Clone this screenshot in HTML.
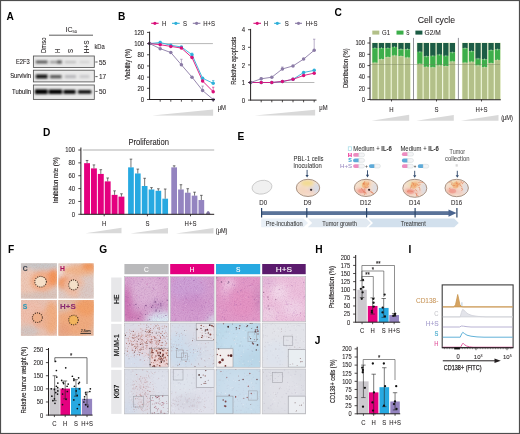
<!DOCTYPE html><html><head><meta charset="utf-8"><style>html,body{margin:0;padding:0;background:#fff;}svg{display:block;filter:blur(0.3px);}</style></head><body>
<svg width="520" height="434" viewBox="0 0 520 434" font-family='"Liberation Sans", sans-serif'>
<defs>
<filter id="blur06" x="-20%" y="-50%" width="140%" height="200%"><feGaussianBlur stdDeviation="0.6"/></filter>
<filter id="blur09" x="-20%" y="-80%" width="140%" height="260%"><feGaussianBlur stdDeviation="0.8"/></filter>
<filter id="blur05" x="-20%" y="-20%" width="140%" height="140%"><feGaussianBlur stdDeviation="0.5"/></filter>
<filter id="blur15" x="-30%" y="-30%" width="160%" height="160%"><feGaussianBlur stdDeviation="1.5"/></filter>
<filter id="blur2" x="-30%" y="-30%" width="160%" height="160%"><feGaussianBlur stdDeviation="2"/></filter>
<filter id="blur3" x="-30%" y="-30%" width="160%" height="160%"><feGaussianBlur stdDeviation="3"/></filter>
<filter id="noise0" x="0" y="0" width="100%" height="100%"><feTurbulence type="fractalNoise" baseFrequency="0.9" numOctaves="2" seed="2" result="n"/><feColorMatrix in="n" type="matrix" values="0 0 0 0 0  0 0 0 0 0  0 0 0 0 0  2.0 0 0 0 -0.85" result="a"/><feGaussianBlur in="a" stdDeviation="0.35" result="b"/><feComposite in="SourceGraphic" in2="b" operator="in"/></filter>
<filter id="noise1" x="0" y="0" width="100%" height="100%"><feTurbulence type="fractalNoise" baseFrequency="1.0" numOctaves="2" seed="5" result="n"/><feColorMatrix in="n" type="matrix" values="0 0 0 0 0  0 0 0 0 0  0 0 0 0 0  2.0 0 0 0 -0.85" result="a"/><feGaussianBlur in="a" stdDeviation="0.35" result="b"/><feComposite in="SourceGraphic" in2="b" operator="in"/></filter>
<filter id="noise2" x="0" y="0" width="100%" height="100%"><feTurbulence type="fractalNoise" baseFrequency="0.9" numOctaves="2" seed="9" result="n"/><feColorMatrix in="n" type="matrix" values="0 0 0 0 0  0 0 0 0 0  0 0 0 0 0  2.0 0 0 0 -0.85" result="a"/><feGaussianBlur in="a" stdDeviation="0.35" result="b"/><feComposite in="SourceGraphic" in2="b" operator="in"/></filter>
<pattern id="pat_noise" width="6" height="6" patternUnits="userSpaceOnUse"><rect width="6" height="6" fill="none"/><circle cx="1" cy="2" r="0.8" fill="#c07050"/><circle cx="4" cy="5" r="0.6" fill="#f0c0a0"/></pattern>
<clipPath id="ph11"><rect x="20.8" y="263.3" width="36.2" height="35.4"/></clipPath>
<clipPath id="ph12"><rect x="58.2" y="263.3" width="35.6" height="35.4"/></clipPath>
<clipPath id="ph13"><rect x="20.8" y="300.0" width="36.2" height="35.9"/></clipPath>
<clipPath id="ph14"><rect x="58.2" y="300.0" width="35.6" height="35.9"/></clipPath>
<clipPath id="egg1"><ellipse cx="308.0" cy="187.9" rx="11.7" ry="8.6"/></clipPath>
<clipPath id="egg2"><ellipse cx="366.0" cy="187.9" rx="11.7" ry="8.6"/></clipPath>
<clipPath id="egg3"><ellipse cx="414.8" cy="188.3" rx="12.0" ry="9.0"/></clipPath>
<clipPath id="egg4"><ellipse cx="456.7" cy="188.0" rx="11.7" ry="8.7"/></clipPath>
</defs>
<rect x="0.00" y="0.00" width="520.00" height="434.00" fill="#ffffff" />
<text x="6.50" y="19.80" font-size="10.50" text-anchor="start" fill="#000" font-weight="bold" textLength="7.36" lengthAdjust="spacingAndGlyphs" >A</text>
<text x="71.30" y="31.60" font-size="7.00" text-anchor="middle" fill="#231f20" stroke="#231f20" stroke-width="0.05" >IC<tspan font-size="4.0" dy="1.3">50</tspan></text>
<line x1="49.00" y1="35.20" x2="93.00" y2="35.20" stroke="#333" stroke-width="0.8" />
<text x="46.33" y="53.00" font-size="7.13" text-anchor="start" fill="#231f20" stroke="#231f20" stroke-width="0.1" textLength="15.50" lengthAdjust="spacingAndGlyphs" transform="rotate(-90 46.33 53.00)" >Dmso</text>
<text x="59.53" y="53.00" font-size="7.13" text-anchor="start" fill="#231f20" stroke="#231f20" stroke-width="0.1" textLength="4.34" lengthAdjust="spacingAndGlyphs" transform="rotate(-90 59.53 53.00)" >H</text>
<text x="73.23" y="53.00" font-size="7.13" text-anchor="start" fill="#231f20" stroke="#231f20" stroke-width="0.1" textLength="4.01" lengthAdjust="spacingAndGlyphs" transform="rotate(-90 73.23 53.00)" >S</text>
<text x="88.53" y="53.20" font-size="7.13" text-anchor="start" fill="#231f20" stroke="#231f20" stroke-width="0.1" textLength="12.80" lengthAdjust="spacingAndGlyphs" transform="rotate(-90 88.53 53.20)" >H+S</text>
<text x="94.40" y="48.52" font-size="6.60" text-anchor="start" fill="#231f20" stroke="#231f20" stroke-width="0.07" textLength="10.40" lengthAdjust="spacingAndGlyphs" >kDa</text>
<rect x="33.40" y="56.00" width="60.90" height="11.50" fill="#e9e9e9" stroke="#555" stroke-width="0.85"/>
<rect x="33.40" y="70.20" width="60.90" height="11.70" fill="#e9e9e9" stroke="#555" stroke-width="0.85"/>
<rect x="33.40" y="85.00" width="60.90" height="14.40" fill="#e9e9e9" stroke="#555" stroke-width="0.85"/>
<g filter="url(#blur09)">
<rect x="35.80" y="60.60" width="11.80" height="2.80" fill="#555" />
<rect x="50.00" y="60.90" width="11.60" height="2.40" fill="#999" />
<rect x="57.00" y="60.50" width="4.80" height="3.00" fill="#555" />
<rect x="64.80" y="61.00" width="11.20" height="2.20" fill="#bdbdbd" />
<rect x="79.60" y="61.10" width="9.80" height="2.00" fill="#d0d0d0" />
<rect x="35.80" y="74.60" width="11.80" height="3.80" fill="#111" />
<rect x="50.00" y="75.00" width="11.60" height="3.40" fill="#5a5a5a" />
<rect x="64.80" y="75.00" width="11.20" height="3.20" fill="#b8b8bb" />
<rect x="79.60" y="75.10" width="9.80" height="3.00" fill="#c8c8cb" />
<rect x="35.00" y="89.30" width="12.60" height="4.80" fill="#000" />
<rect x="48.70" y="89.50" width="13.40" height="4.50" fill="#000" />
<rect x="63.50" y="89.90" width="12.10" height="3.90" fill="#000" />
<rect x="78.10" y="90.20" width="13.20" height="3.40" fill="#050505" />
</g>
<text x="29.70" y="64.13" font-size="7.20" text-anchor="end" fill="#231f20" stroke="#231f20" stroke-width="0.12" textLength="13.80" lengthAdjust="spacingAndGlyphs" >E2F3</text>
<text x="31.10" y="78.23" font-size="7.20" text-anchor="end" fill="#231f20" stroke="#231f20" stroke-width="0.12" textLength="20.90" lengthAdjust="spacingAndGlyphs" >Survivin</text>
<text x="31.10" y="93.73" font-size="7.20" text-anchor="end" fill="#231f20" stroke="#231f20" stroke-width="0.12" textLength="19.00" lengthAdjust="spacingAndGlyphs" >Tubulin</text>
<line x1="95.30" y1="62.00" x2="97.60" y2="62.00" stroke="#333" stroke-width="0.8" />
<text x="99.00" y="64.63" font-size="7.20" text-anchor="start" fill="#231f20" stroke="#231f20" stroke-width="0.1" textLength="7.20" lengthAdjust="spacingAndGlyphs" >55</text>
<line x1="95.30" y1="76.60" x2="97.60" y2="76.60" stroke="#333" stroke-width="0.8" />
<text x="99.00" y="79.23" font-size="7.20" text-anchor="start" fill="#231f20" stroke="#231f20" stroke-width="0.1" textLength="7.20" lengthAdjust="spacingAndGlyphs" >17</text>
<line x1="95.30" y1="91.40" x2="97.60" y2="91.40" stroke="#333" stroke-width="0.8" />
<text x="99.00" y="94.03" font-size="7.20" text-anchor="start" fill="#231f20" stroke="#231f20" stroke-width="0.1" textLength="7.20" lengthAdjust="spacingAndGlyphs" >50</text>
<text x="118.00" y="20.00" font-size="10.50" text-anchor="start" fill="#000" font-weight="bold" textLength="7.36" lengthAdjust="spacingAndGlyphs" >B</text>
<line x1="151.20" y1="23.30" x2="158.60" y2="23.30" stroke="#d9107a" stroke-width="1.1" />
<circle cx="154.90" cy="23.30" r="1.60" fill="#d9107a" />
<text x="162.00" y="25.72" font-size="6.82" text-anchor="start" fill="#231f20" stroke="#231f20" stroke-width="0.07" textLength="4.34" lengthAdjust="spacingAndGlyphs" >H</text>
<line x1="172.00" y1="23.30" x2="179.70" y2="23.30" stroke="#2fb0d9" stroke-width="1.1" />
<circle cx="175.85" cy="23.30" r="1.60" fill="#2fb0d9" />
<text x="183.10" y="25.72" font-size="6.82" text-anchor="start" fill="#231f20" stroke="#231f20" stroke-width="0.07" textLength="4.01" lengthAdjust="spacingAndGlyphs" >S</text>
<line x1="192.80" y1="23.30" x2="200.40" y2="23.30" stroke="#8b7ba6" stroke-width="1.1" />
<circle cx="196.60" cy="23.30" r="1.60" fill="#8b7ba6" />
<text x="203.20" y="25.72" font-size="6.82" text-anchor="start" fill="#231f20" stroke="#231f20" stroke-width="0.07" textLength="11.87" lengthAdjust="spacingAndGlyphs" >H+S</text>
<line x1="149.60" y1="43.60" x2="212.90" y2="43.60" stroke="#9a9a9a" stroke-width="0.7" />
<polyline points="149.60,43.60 160.20,42.48 170.80,45.28 181.40,46.95 192.00,54.78 202.60,78.26 213.20,83.29" fill="none" stroke="#2fb0d9" stroke-width="0.9"/>
<polyline points="149.60,43.60 160.20,44.72 170.80,46.39 181.40,48.07 192.00,57.57 202.60,81.05 213.20,91.67" fill="none" stroke="#d9107a" stroke-width="0.9"/>
<polyline points="149.60,43.60 160.20,48.63 170.80,52.54 181.40,64.84 192.00,77.14 202.60,90.56 213.20,99.50" fill="none" stroke="#8b7ba6" stroke-width="0.9"/>
<line x1="160.20" y1="42.48" x2="160.20" y2="41.36" stroke="#2fb0d9" stroke-width="0.6" />
<line x1="159.00" y1="41.36" x2="161.40" y2="41.36" stroke="#2fb0d9" stroke-width="0.6" />
<line x1="181.40" y1="64.84" x2="181.40" y2="59.25" stroke="#8b7ba6" stroke-width="0.6" />
<line x1="180.20" y1="59.25" x2="182.60" y2="59.25" stroke="#8b7ba6" stroke-width="0.6" />
<line x1="202.60" y1="90.56" x2="202.60" y2="86.08" stroke="#8b7ba6" stroke-width="0.6" />
<line x1="201.40" y1="86.08" x2="203.80" y2="86.08" stroke="#8b7ba6" stroke-width="0.6" />
<line x1="213.20" y1="83.29" x2="213.20" y2="80.49" stroke="#2fb0d9" stroke-width="0.6" />
<line x1="212.00" y1="80.49" x2="214.40" y2="80.49" stroke="#2fb0d9" stroke-width="0.6" />
<line x1="213.20" y1="91.67" x2="213.20" y2="87.20" stroke="#d9107a" stroke-width="0.6" />
<line x1="212.00" y1="87.20" x2="214.40" y2="87.20" stroke="#d9107a" stroke-width="0.6" />
<line x1="192.00" y1="54.22" x2="192.00" y2="53.10" stroke="#2fb0d9" stroke-width="0.6" />
<line x1="190.80" y1="53.10" x2="193.20" y2="53.10" stroke="#2fb0d9" stroke-width="0.6" />
<circle cx="149.60" cy="43.60" r="1.75" fill="#2fb0d9" />
<circle cx="160.20" cy="42.48" r="1.75" fill="#2fb0d9" />
<circle cx="170.80" cy="45.28" r="1.75" fill="#2fb0d9" />
<circle cx="181.40" cy="46.95" r="1.75" fill="#2fb0d9" />
<circle cx="192.00" cy="54.78" r="1.75" fill="#2fb0d9" />
<circle cx="202.60" cy="78.26" r="1.75" fill="#2fb0d9" />
<circle cx="213.20" cy="83.29" r="1.75" fill="#2fb0d9" />
<circle cx="149.60" cy="43.60" r="1.75" fill="#d9107a" />
<circle cx="160.20" cy="44.72" r="1.75" fill="#d9107a" />
<circle cx="170.80" cy="46.39" r="1.75" fill="#d9107a" />
<circle cx="181.40" cy="48.07" r="1.75" fill="#d9107a" />
<circle cx="192.00" cy="57.57" r="1.75" fill="#d9107a" />
<circle cx="202.60" cy="81.05" r="1.75" fill="#d9107a" />
<circle cx="213.20" cy="91.67" r="1.75" fill="#d9107a" />
<circle cx="149.60" cy="43.60" r="1.75" fill="#8b7ba6" />
<circle cx="160.20" cy="48.63" r="1.75" fill="#8b7ba6" />
<circle cx="170.80" cy="52.54" r="1.75" fill="#8b7ba6" />
<circle cx="181.40" cy="64.84" r="1.75" fill="#8b7ba6" />
<circle cx="192.00" cy="77.14" r="1.75" fill="#8b7ba6" />
<circle cx="202.60" cy="90.56" r="1.75" fill="#8b7ba6" />
<circle cx="213.20" cy="99.50" r="1.75" fill="#8b7ba6" />
<line x1="149.60" y1="31.62" x2="149.60" y2="100.00" stroke="#231f20" stroke-width="1.0" />
<line x1="149.60" y1="99.50" x2="215.00" y2="99.50" stroke="#231f20" stroke-width="1.0" />
<line x1="147.00" y1="99.50" x2="149.60" y2="99.50" stroke="#231f20" stroke-width="0.8" />
<text x="144.20" y="102.15" font-size="7.44" text-anchor="end" fill="#231f20" stroke="#231f20" stroke-width="0.1" textLength="3.34" lengthAdjust="spacingAndGlyphs" >0</text>
<line x1="147.00" y1="88.32" x2="149.60" y2="88.32" stroke="#231f20" stroke-width="0.8" />
<text x="144.20" y="90.97" font-size="7.44" text-anchor="end" fill="#231f20" stroke="#231f20" stroke-width="0.1" textLength="6.69" lengthAdjust="spacingAndGlyphs" >20</text>
<line x1="147.00" y1="77.14" x2="149.60" y2="77.14" stroke="#231f20" stroke-width="0.8" />
<text x="144.20" y="79.79" font-size="7.44" text-anchor="end" fill="#231f20" stroke="#231f20" stroke-width="0.1" textLength="6.69" lengthAdjust="spacingAndGlyphs" >40</text>
<line x1="147.00" y1="65.96" x2="149.60" y2="65.96" stroke="#231f20" stroke-width="0.8" />
<text x="144.20" y="68.61" font-size="7.44" text-anchor="end" fill="#231f20" stroke="#231f20" stroke-width="0.1" textLength="6.69" lengthAdjust="spacingAndGlyphs" >60</text>
<line x1="147.00" y1="54.78" x2="149.60" y2="54.78" stroke="#231f20" stroke-width="0.8" />
<text x="144.20" y="57.43" font-size="7.44" text-anchor="end" fill="#231f20" stroke="#231f20" stroke-width="0.1" textLength="6.69" lengthAdjust="spacingAndGlyphs" >80</text>
<line x1="147.00" y1="43.60" x2="149.60" y2="43.60" stroke="#231f20" stroke-width="0.8" />
<text x="144.20" y="46.25" font-size="7.44" text-anchor="end" fill="#231f20" stroke="#231f20" stroke-width="0.1" textLength="10.03" lengthAdjust="spacingAndGlyphs" >100</text>
<line x1="147.00" y1="32.42" x2="149.60" y2="32.42" stroke="#231f20" stroke-width="0.8" />
<text x="144.20" y="35.07" font-size="7.44" text-anchor="end" fill="#231f20" stroke="#231f20" stroke-width="0.1" textLength="10.03" lengthAdjust="spacingAndGlyphs" >120</text>
<line x1="160.20" y1="99.50" x2="160.20" y2="101.70" stroke="#231f20" stroke-width="0.8" />
<line x1="170.80" y1="99.50" x2="170.80" y2="101.70" stroke="#231f20" stroke-width="0.8" />
<line x1="181.40" y1="99.50" x2="181.40" y2="101.70" stroke="#231f20" stroke-width="0.8" />
<line x1="192.00" y1="99.50" x2="192.00" y2="101.70" stroke="#231f20" stroke-width="0.8" />
<line x1="202.60" y1="99.50" x2="202.60" y2="101.70" stroke="#231f20" stroke-width="0.8" />
<line x1="213.20" y1="99.50" x2="213.20" y2="101.70" stroke="#231f20" stroke-width="0.8" />
<text x="129.81" y="64.50" font-size="6.49" text-anchor="middle" fill="#231f20" stroke="#231f20" stroke-width="0.14" textLength="31.00" lengthAdjust="spacingAndGlyphs" transform="rotate(-90 129.81 64.50)" >Viability (%)</text>
<text x="217.70" y="109.52" font-size="6.82" text-anchor="start" fill="#231f20" stroke="#231f20" stroke-width="0.07" textLength="8.30" lengthAdjust="spacingAndGlyphs" >μM</text>
<path d="M152.20,115.60 L213.10,109.40 L213.10,115.70 Z" fill="#d9d9d9" stroke="none" stroke-width="1" />
<line x1="253.40" y1="23.30" x2="261.00" y2="23.30" stroke="#d9107a" stroke-width="1.1" />
<circle cx="257.20" cy="23.30" r="1.60" fill="#d9107a" />
<text x="263.70" y="25.72" font-size="6.82" text-anchor="start" fill="#231f20" stroke="#231f20" stroke-width="0.07" textLength="4.34" lengthAdjust="spacingAndGlyphs" >H</text>
<line x1="274.10" y1="23.30" x2="280.50" y2="23.30" stroke="#2fb0d9" stroke-width="1.1" />
<circle cx="277.30" cy="23.30" r="1.60" fill="#2fb0d9" />
<text x="284.70" y="25.72" font-size="6.82" text-anchor="start" fill="#231f20" stroke="#231f20" stroke-width="0.07" textLength="4.01" lengthAdjust="spacingAndGlyphs" >S</text>
<line x1="295.00" y1="23.30" x2="302.00" y2="23.30" stroke="#8b7ba6" stroke-width="1.1" />
<circle cx="298.50" cy="23.30" r="1.60" fill="#8b7ba6" />
<text x="305.70" y="25.72" font-size="6.82" text-anchor="start" fill="#231f20" stroke="#231f20" stroke-width="0.07" textLength="11.87" lengthAdjust="spacingAndGlyphs" >H+S</text>
<line x1="250.60" y1="82.50" x2="314.40" y2="82.50" stroke="#9a9a9a" stroke-width="0.7" />
<polyline points="250.60,82.50 261.20,82.50 271.80,82.50 282.40,81.62 293.00,79.33 303.60,72.47 314.20,70.36" fill="none" stroke="#2fb0d9" stroke-width="0.9"/>
<polyline points="250.60,82.50 261.20,82.50 271.80,82.50 282.40,81.44 293.00,79.33 303.60,75.46 314.20,73.17" fill="none" stroke="#d9107a" stroke-width="0.9"/>
<polyline points="250.60,82.50 261.20,78.80 271.80,77.22 282.40,68.95 293.00,65.96 303.60,59.09 314.20,50.29" fill="none" stroke="#8b7ba6" stroke-width="0.9"/>
<line x1="282.40" y1="68.95" x2="282.40" y2="67.01" stroke="#8b7ba6" stroke-width="0.6" />
<line x1="281.20" y1="67.01" x2="283.60" y2="67.01" stroke="#8b7ba6" stroke-width="0.6" />
<line x1="314.20" y1="50.29" x2="314.20" y2="39.20" stroke="#8b7ba6" stroke-width="0.6" />
<line x1="313.00" y1="39.20" x2="315.40" y2="39.20" stroke="#8b7ba6" stroke-width="0.6" />
<line x1="261.20" y1="78.80" x2="261.20" y2="77.75" stroke="#8b7ba6" stroke-width="0.6" />
<line x1="260.00" y1="77.75" x2="262.40" y2="77.75" stroke="#8b7ba6" stroke-width="0.6" />
<circle cx="250.60" cy="82.50" r="1.75" fill="#2fb0d9" />
<circle cx="261.20" cy="82.50" r="1.75" fill="#2fb0d9" />
<circle cx="271.80" cy="82.50" r="1.75" fill="#2fb0d9" />
<circle cx="282.40" cy="81.62" r="1.75" fill="#2fb0d9" />
<circle cx="293.00" cy="79.33" r="1.75" fill="#2fb0d9" />
<circle cx="303.60" cy="72.47" r="1.75" fill="#2fb0d9" />
<circle cx="314.20" cy="70.36" r="1.75" fill="#2fb0d9" />
<circle cx="250.60" cy="82.50" r="1.75" fill="#d9107a" />
<circle cx="261.20" cy="82.50" r="1.75" fill="#d9107a" />
<circle cx="271.80" cy="82.50" r="1.75" fill="#d9107a" />
<circle cx="282.40" cy="81.44" r="1.75" fill="#d9107a" />
<circle cx="293.00" cy="79.33" r="1.75" fill="#d9107a" />
<circle cx="303.60" cy="75.46" r="1.75" fill="#d9107a" />
<circle cx="314.20" cy="73.17" r="1.75" fill="#d9107a" />
<circle cx="250.60" cy="82.50" r="1.75" fill="#8b7ba6" />
<circle cx="261.20" cy="78.80" r="1.75" fill="#8b7ba6" />
<circle cx="271.80" cy="77.22" r="1.75" fill="#8b7ba6" />
<circle cx="282.40" cy="68.95" r="1.75" fill="#8b7ba6" />
<circle cx="293.00" cy="65.96" r="1.75" fill="#8b7ba6" />
<circle cx="303.60" cy="59.09" r="1.75" fill="#8b7ba6" />
<circle cx="314.20" cy="50.29" r="1.75" fill="#8b7ba6" />
<line x1="250.60" y1="28.90" x2="250.60" y2="100.60" stroke="#231f20" stroke-width="1.0" />
<line x1="250.60" y1="100.10" x2="316.50" y2="100.10" stroke="#231f20" stroke-width="1.0" />
<line x1="248.00" y1="100.10" x2="250.60" y2="100.10" stroke="#231f20" stroke-width="0.8" />
<text x="245.20" y="102.75" font-size="7.44" text-anchor="end" fill="#231f20" stroke="#231f20" stroke-width="0.1" textLength="3.34" lengthAdjust="spacingAndGlyphs" >0</text>
<line x1="248.00" y1="82.50" x2="250.60" y2="82.50" stroke="#231f20" stroke-width="0.8" />
<text x="245.20" y="85.15" font-size="7.44" text-anchor="end" fill="#231f20" stroke="#231f20" stroke-width="0.1" textLength="3.34" lengthAdjust="spacingAndGlyphs" >1</text>
<line x1="248.00" y1="64.90" x2="250.60" y2="64.90" stroke="#231f20" stroke-width="0.8" />
<text x="245.20" y="67.55" font-size="7.44" text-anchor="end" fill="#231f20" stroke="#231f20" stroke-width="0.1" textLength="3.34" lengthAdjust="spacingAndGlyphs" >2</text>
<line x1="248.00" y1="47.30" x2="250.60" y2="47.30" stroke="#231f20" stroke-width="0.8" />
<text x="245.20" y="49.95" font-size="7.44" text-anchor="end" fill="#231f20" stroke="#231f20" stroke-width="0.1" textLength="3.34" lengthAdjust="spacingAndGlyphs" >3</text>
<line x1="248.00" y1="29.70" x2="250.60" y2="29.70" stroke="#231f20" stroke-width="0.8" />
<text x="245.20" y="32.35" font-size="7.44" text-anchor="end" fill="#231f20" stroke="#231f20" stroke-width="0.1" textLength="3.34" lengthAdjust="spacingAndGlyphs" >4</text>
<line x1="261.20" y1="100.10" x2="261.20" y2="102.30" stroke="#231f20" stroke-width="0.8" />
<line x1="271.80" y1="100.10" x2="271.80" y2="102.30" stroke="#231f20" stroke-width="0.8" />
<line x1="282.40" y1="100.10" x2="282.40" y2="102.30" stroke="#231f20" stroke-width="0.8" />
<line x1="293.00" y1="100.10" x2="293.00" y2="102.30" stroke="#231f20" stroke-width="0.8" />
<line x1="303.60" y1="100.10" x2="303.60" y2="102.30" stroke="#231f20" stroke-width="0.8" />
<line x1="314.20" y1="100.10" x2="314.20" y2="102.30" stroke="#231f20" stroke-width="0.8" />
<text x="236.01" y="60.80" font-size="6.49" text-anchor="middle" fill="#231f20" stroke="#231f20" stroke-width="0.14" textLength="48.00" lengthAdjust="spacingAndGlyphs" transform="rotate(-90 236.01 60.80)" >Relative apoptosis</text>
<text x="319.30" y="109.52" font-size="6.82" text-anchor="start" fill="#231f20" stroke="#231f20" stroke-width="0.07" textLength="8.30" lengthAdjust="spacingAndGlyphs" >μM</text>
<path d="M254.70,115.40 L315.10,109.80 L315.10,115.40 Z" fill="#d9d9d9" stroke="none" stroke-width="1" />
<text x="334.50" y="16.00" font-size="10.50" text-anchor="start" fill="#000" font-weight="bold" textLength="7.36" lengthAdjust="spacingAndGlyphs" >C</text>
<text x="417.70" y="23.31" font-size="9.57" text-anchor="start" fill="#231f20" stroke="#231f20" stroke-width="0.07" textLength="37.40" lengthAdjust="spacingAndGlyphs" >Cell cycle</text>
<rect x="372.30" y="30.60" width="7.00" height="4.00" fill="#b3c089" />
<text x="382.00" y="35.12" font-size="6.60" text-anchor="start" fill="#231f20" stroke="#231f20" stroke-width="0.07" textLength="8.00" lengthAdjust="spacingAndGlyphs" >G1</text>
<rect x="396.50" y="30.60" width="7.00" height="4.00" fill="#3cae4a" />
<text x="406.20" y="35.12" font-size="6.60" text-anchor="start" fill="#231f20" stroke="#231f20" stroke-width="0.07" textLength="3.20" lengthAdjust="spacingAndGlyphs" >S</text>
<rect x="415.40" y="30.60" width="7.00" height="4.00" fill="#1c5c45" />
<text x="424.60" y="35.12" font-size="6.60" text-anchor="start" fill="#231f20" stroke="#231f20" stroke-width="0.07" textLength="16.20" lengthAdjust="spacingAndGlyphs" >G2/M</text>
<rect x="371.80" y="42.60" width="6.30" height="56.90" fill="#e8f2cc" />
<rect x="372.30" y="43.00" width="5.30" height="5.08" fill="#1c5c45" />
<rect x="372.30" y="48.09" width="5.30" height="14.69" fill="#3cae4a" />
<rect x="372.30" y="62.78" width="5.30" height="36.72" fill="#b3c089" />
<line x1="374.95" y1="47.09" x2="374.95" y2="49.09" stroke="#d8ecd8" stroke-width="0.5" />
<line x1="374.95" y1="61.78" x2="374.95" y2="63.78" stroke="#d8f0c8" stroke-width="0.5" />
<rect x="378.30" y="42.60" width="6.30" height="56.90" fill="#e8f2cc" />
<rect x="378.80" y="43.00" width="5.30" height="5.08" fill="#1c5c45" />
<rect x="378.80" y="48.09" width="5.30" height="11.30" fill="#3cae4a" />
<rect x="378.80" y="59.39" width="5.30" height="40.11" fill="#b3c089" />
<line x1="381.45" y1="47.09" x2="381.45" y2="49.09" stroke="#d8ecd8" stroke-width="0.5" />
<line x1="381.45" y1="58.39" x2="381.45" y2="60.39" stroke="#d8f0c8" stroke-width="0.5" />
<rect x="384.80" y="42.60" width="6.30" height="56.90" fill="#e8f2cc" />
<rect x="385.30" y="43.00" width="5.30" height="5.08" fill="#1c5c45" />
<rect x="385.30" y="48.09" width="5.30" height="9.04" fill="#3cae4a" />
<rect x="385.30" y="57.13" width="5.30" height="42.37" fill="#b3c089" />
<line x1="387.95" y1="47.09" x2="387.95" y2="49.09" stroke="#d8ecd8" stroke-width="0.5" />
<line x1="387.95" y1="56.13" x2="387.95" y2="58.13" stroke="#d8f0c8" stroke-width="0.5" />
<rect x="391.30" y="42.60" width="6.30" height="56.90" fill="#e8f2cc" />
<rect x="391.80" y="43.00" width="5.30" height="3.95" fill="#1c5c45" />
<rect x="391.80" y="46.96" width="5.30" height="8.76" fill="#3cae4a" />
<rect x="391.80" y="55.71" width="5.30" height="43.79" fill="#b3c089" />
<line x1="394.45" y1="45.96" x2="394.45" y2="47.96" stroke="#d8ecd8" stroke-width="0.5" />
<line x1="394.45" y1="54.71" x2="394.45" y2="56.71" stroke="#d8f0c8" stroke-width="0.5" />
<rect x="397.80" y="42.60" width="6.30" height="56.90" fill="#e8f2cc" />
<rect x="398.30" y="43.00" width="5.30" height="6.21" fill="#1c5c45" />
<rect x="398.30" y="49.22" width="5.30" height="7.06" fill="#3cae4a" />
<rect x="398.30" y="56.28" width="5.30" height="43.22" fill="#b3c089" />
<line x1="400.95" y1="48.22" x2="400.95" y2="50.22" stroke="#d8ecd8" stroke-width="0.5" />
<line x1="400.95" y1="55.28" x2="400.95" y2="57.28" stroke="#d8f0c8" stroke-width="0.5" />
<rect x="404.30" y="42.60" width="6.30" height="56.90" fill="#e8f2cc" />
<rect x="404.80" y="43.00" width="5.30" height="6.21" fill="#1c5c45" />
<rect x="404.80" y="49.22" width="5.30" height="8.47" fill="#3cae4a" />
<rect x="404.80" y="57.69" width="5.30" height="41.81" fill="#b3c089" />
<line x1="407.45" y1="48.22" x2="407.45" y2="50.22" stroke="#d8ecd8" stroke-width="0.5" />
<line x1="407.45" y1="56.69" x2="407.45" y2="58.69" stroke="#d8f0c8" stroke-width="0.5" />
<rect x="416.70" y="42.60" width="6.30" height="56.90" fill="#e8f2cc" />
<rect x="417.20" y="43.00" width="5.30" height="8.87" fill="#1c5c45" />
<rect x="417.20" y="51.87" width="5.30" height="12.03" fill="#3cae4a" />
<rect x="417.20" y="63.91" width="5.30" height="35.59" fill="#b3c089" />
<line x1="419.85" y1="50.87" x2="419.85" y2="52.87" stroke="#d8ecd8" stroke-width="0.5" />
<line x1="419.85" y1="62.91" x2="419.85" y2="64.91" stroke="#d8f0c8" stroke-width="0.5" />
<rect x="423.20" y="42.60" width="6.30" height="56.90" fill="#e8f2cc" />
<rect x="423.70" y="43.00" width="5.30" height="13.45" fill="#1c5c45" />
<rect x="423.70" y="56.45" width="5.30" height="10.45" fill="#3cae4a" />
<rect x="423.70" y="66.90" width="5.30" height="32.60" fill="#b3c089" />
<line x1="426.35" y1="55.45" x2="426.35" y2="57.45" stroke="#d8ecd8" stroke-width="0.5" />
<line x1="426.35" y1="65.90" x2="426.35" y2="67.90" stroke="#d8f0c8" stroke-width="0.5" />
<rect x="429.70" y="42.60" width="6.30" height="56.90" fill="#e8f2cc" />
<rect x="430.20" y="43.00" width="5.30" height="12.88" fill="#1c5c45" />
<rect x="430.20" y="55.88" width="5.30" height="11.64" fill="#3cae4a" />
<rect x="430.20" y="67.52" width="5.30" height="31.98" fill="#b3c089" />
<line x1="432.85" y1="54.88" x2="432.85" y2="56.88" stroke="#d8ecd8" stroke-width="0.5" />
<line x1="432.85" y1="66.52" x2="432.85" y2="68.52" stroke="#d8f0c8" stroke-width="0.5" />
<rect x="436.20" y="42.60" width="6.30" height="56.90" fill="#e8f2cc" />
<rect x="436.70" y="43.00" width="5.30" height="11.81" fill="#1c5c45" />
<rect x="436.70" y="54.81" width="5.30" height="10.79" fill="#3cae4a" />
<rect x="436.70" y="65.60" width="5.30" height="33.90" fill="#b3c089" />
<line x1="439.35" y1="53.81" x2="439.35" y2="55.81" stroke="#d8ecd8" stroke-width="0.5" />
<line x1="439.35" y1="64.60" x2="439.35" y2="66.60" stroke="#d8f0c8" stroke-width="0.5" />
<rect x="442.70" y="42.60" width="6.30" height="56.90" fill="#e8f2cc" />
<rect x="443.20" y="43.00" width="5.30" height="12.88" fill="#1c5c45" />
<rect x="443.20" y="55.88" width="5.30" height="10.34" fill="#3cae4a" />
<rect x="443.20" y="66.22" width="5.30" height="33.28" fill="#b3c089" />
<line x1="445.85" y1="54.88" x2="445.85" y2="56.88" stroke="#d8ecd8" stroke-width="0.5" />
<line x1="445.85" y1="65.22" x2="445.85" y2="67.22" stroke="#d8f0c8" stroke-width="0.5" />
<rect x="449.20" y="42.60" width="6.30" height="56.90" fill="#e8f2cc" />
<rect x="449.70" y="43.00" width="5.30" height="9.49" fill="#1c5c45" />
<rect x="449.70" y="52.49" width="5.30" height="9.15" fill="#3cae4a" />
<rect x="449.70" y="61.65" width="5.30" height="37.85" fill="#b3c089" />
<line x1="452.35" y1="51.49" x2="452.35" y2="53.49" stroke="#d8ecd8" stroke-width="0.5" />
<line x1="452.35" y1="60.65" x2="452.35" y2="62.65" stroke="#d8f0c8" stroke-width="0.5" />
<rect x="461.90" y="42.60" width="6.30" height="56.90" fill="#e8f2cc" />
<rect x="462.40" y="43.00" width="5.30" height="5.37" fill="#1c5c45" />
<rect x="462.40" y="48.37" width="5.30" height="14.41" fill="#3cae4a" />
<rect x="462.40" y="62.78" width="5.30" height="36.72" fill="#b3c089" />
<line x1="465.05" y1="47.37" x2="465.05" y2="49.37" stroke="#d8ecd8" stroke-width="0.5" />
<line x1="465.05" y1="61.78" x2="465.05" y2="63.78" stroke="#d8f0c8" stroke-width="0.5" />
<rect x="468.40" y="42.60" width="6.30" height="56.90" fill="#e8f2cc" />
<rect x="468.90" y="43.00" width="5.30" height="8.25" fill="#1c5c45" />
<rect x="468.90" y="51.25" width="5.30" height="10.57" fill="#3cae4a" />
<rect x="468.90" y="61.81" width="5.30" height="37.69" fill="#b3c089" />
<line x1="471.55" y1="50.25" x2="471.55" y2="52.25" stroke="#d8ecd8" stroke-width="0.5" />
<line x1="471.55" y1="60.81" x2="471.55" y2="62.81" stroke="#d8f0c8" stroke-width="0.5" />
<rect x="474.90" y="42.60" width="6.30" height="56.90" fill="#e8f2cc" />
<rect x="475.40" y="43.00" width="5.30" height="15.76" fill="#1c5c45" />
<rect x="475.40" y="58.76" width="5.30" height="6.84" fill="#3cae4a" />
<rect x="475.40" y="65.60" width="5.30" height="33.90" fill="#b3c089" />
<line x1="478.05" y1="57.76" x2="478.05" y2="59.76" stroke="#d8ecd8" stroke-width="0.5" />
<line x1="478.05" y1="64.60" x2="478.05" y2="66.60" stroke="#d8f0c8" stroke-width="0.5" />
<rect x="481.40" y="42.60" width="6.30" height="56.90" fill="#e8f2cc" />
<rect x="481.90" y="43.00" width="5.30" height="16.38" fill="#1c5c45" />
<rect x="481.90" y="59.39" width="5.30" height="8.02" fill="#3cae4a" />
<rect x="481.90" y="67.41" width="5.30" height="32.09" fill="#b3c089" />
<line x1="484.55" y1="58.39" x2="484.55" y2="60.39" stroke="#d8ecd8" stroke-width="0.5" />
<line x1="484.55" y1="66.41" x2="484.55" y2="68.41" stroke="#d8f0c8" stroke-width="0.5" />
<rect x="487.90" y="42.60" width="6.30" height="56.90" fill="#e8f2cc" />
<rect x="488.40" y="43.00" width="5.30" height="7.18" fill="#1c5c45" />
<rect x="488.40" y="50.18" width="5.30" height="13.16" fill="#3cae4a" />
<rect x="488.40" y="63.34" width="5.30" height="36.16" fill="#b3c089" />
<line x1="491.05" y1="49.18" x2="491.05" y2="51.18" stroke="#d8ecd8" stroke-width="0.5" />
<line x1="491.05" y1="62.34" x2="491.05" y2="64.34" stroke="#d8f0c8" stroke-width="0.5" />
<rect x="494.40" y="42.60" width="6.30" height="56.90" fill="#e8f2cc" />
<rect x="494.90" y="43.00" width="5.30" height="6.55" fill="#1c5c45" />
<rect x="494.90" y="49.55" width="5.30" height="10.40" fill="#3cae4a" />
<rect x="494.90" y="59.95" width="5.30" height="39.55" fill="#b3c089" />
<line x1="497.55" y1="48.55" x2="497.55" y2="50.55" stroke="#d8ecd8" stroke-width="0.5" />
<line x1="497.55" y1="58.95" x2="497.55" y2="60.95" stroke="#d8f0c8" stroke-width="0.5" />
<line x1="370.00" y1="64.40" x2="500.00" y2="64.40" stroke="#6f7a5a" stroke-width="0.5" opacity="0.8"/>
<line x1="413.50" y1="37.90" x2="413.50" y2="99.50" stroke="#77777f" stroke-width="0.8" />
<line x1="458.40" y1="37.90" x2="458.40" y2="99.50" stroke="#77777f" stroke-width="0.8" />
<line x1="370.00" y1="37.00" x2="370.00" y2="100.00" stroke="#231f20" stroke-width="1.0" />
<line x1="370.00" y1="99.70" x2="500.80" y2="99.70" stroke="#231f20" stroke-width="1.1" />
<line x1="367.40" y1="99.50" x2="370.00" y2="99.50" stroke="#231f20" stroke-width="0.8" />
<text x="365.10" y="101.92" font-size="6.60" text-anchor="end" fill="#231f20" stroke="#231f20" stroke-width="0.07" textLength="3.24" lengthAdjust="spacingAndGlyphs" >0</text>
<line x1="367.40" y1="88.20" x2="370.00" y2="88.20" stroke="#231f20" stroke-width="0.8" />
<text x="365.10" y="90.62" font-size="6.60" text-anchor="end" fill="#231f20" stroke="#231f20" stroke-width="0.07" textLength="6.47" lengthAdjust="spacingAndGlyphs" >20</text>
<line x1="367.40" y1="76.90" x2="370.00" y2="76.90" stroke="#231f20" stroke-width="0.8" />
<text x="365.10" y="79.32" font-size="6.60" text-anchor="end" fill="#231f20" stroke="#231f20" stroke-width="0.07" textLength="6.47" lengthAdjust="spacingAndGlyphs" >40</text>
<line x1="367.40" y1="65.60" x2="370.00" y2="65.60" stroke="#231f20" stroke-width="0.8" />
<text x="365.10" y="68.02" font-size="6.60" text-anchor="end" fill="#231f20" stroke="#231f20" stroke-width="0.07" textLength="6.47" lengthAdjust="spacingAndGlyphs" >60</text>
<line x1="367.40" y1="54.30" x2="370.00" y2="54.30" stroke="#231f20" stroke-width="0.8" />
<text x="365.10" y="56.72" font-size="6.60" text-anchor="end" fill="#231f20" stroke="#231f20" stroke-width="0.07" textLength="6.47" lengthAdjust="spacingAndGlyphs" >80</text>
<line x1="367.40" y1="43.00" x2="370.00" y2="43.00" stroke="#231f20" stroke-width="0.8" />
<text x="365.10" y="45.42" font-size="6.60" text-anchor="end" fill="#231f20" stroke="#231f20" stroke-width="0.07" textLength="9.71" lengthAdjust="spacingAndGlyphs" >100</text>
<line x1="391.50" y1="99.50" x2="391.50" y2="101.50" stroke="#231f20" stroke-width="0.8" />
<text x="391.50" y="111.72" font-size="6.82" text-anchor="middle" fill="#231f20" stroke="#231f20" stroke-width="0.07" textLength="4.34" lengthAdjust="spacingAndGlyphs" >H</text>
<line x1="436.50" y1="99.50" x2="436.50" y2="101.50" stroke="#231f20" stroke-width="0.8" />
<text x="436.50" y="111.72" font-size="6.82" text-anchor="middle" fill="#231f20" stroke="#231f20" stroke-width="0.07" textLength="4.01" lengthAdjust="spacingAndGlyphs" >S</text>
<line x1="481.50" y1="99.50" x2="481.50" y2="101.50" stroke="#231f20" stroke-width="0.8" />
<text x="481.50" y="111.72" font-size="6.82" text-anchor="middle" fill="#231f20" stroke="#231f20" stroke-width="0.07" textLength="11.87" lengthAdjust="spacingAndGlyphs" >H+S</text>
<text x="348.11" y="68.20" font-size="6.38" text-anchor="middle" fill="#231f20" stroke="#231f20" stroke-width="0.1" textLength="39.60" lengthAdjust="spacingAndGlyphs" transform="rotate(-90 348.11 68.20)" >Distribution (%)</text>
<path d="M371.50,120.70 L409.20,114.70 L409.20,120.70 Z" fill="#d9d9d9" stroke="none" stroke-width="1" />
<path d="M416.20,120.70 L453.80,114.90 L453.80,120.70 Z" fill="#d9d9d9" stroke="none" stroke-width="1" />
<path d="M460.80,120.70 L498.50,115.00 L498.50,120.70 Z" fill="#d9d9d9" stroke="none" stroke-width="1" />
<text x="501.20" y="120.02" font-size="6.60" text-anchor="start" fill="#231f20" stroke="#231f20" stroke-width="0.07" textLength="11.80" lengthAdjust="spacingAndGlyphs" >(μM)</text>
<text x="43.10" y="135.50" font-size="10.50" text-anchor="start" fill="#000" font-weight="bold" textLength="7.36" lengthAdjust="spacingAndGlyphs" >D</text>
<text x="128.40" y="145.47" font-size="8.36" text-anchor="start" fill="#231f20" stroke="#231f20" stroke-width="0.07" textLength="40.60" lengthAdjust="spacingAndGlyphs" >Proliferation</text>
<line x1="82.80" y1="150.00" x2="214.20" y2="150.00" stroke="#b0b0b0" stroke-width="1.2" />
<rect x="84.10" y="163.18" width="5.90" height="51.12" fill="#e4007f" />
<line x1="87.05" y1="163.18" x2="87.05" y2="160.48" stroke="#3a3a3a" stroke-width="0.7" />
<line x1="85.75" y1="160.48" x2="88.35" y2="160.48" stroke="#3a3a3a" stroke-width="0.7" />
<rect x="90.98" y="168.39" width="5.90" height="45.91" fill="#e4007f" />
<line x1="93.93" y1="168.39" x2="93.93" y2="164.92" stroke="#3a3a3a" stroke-width="0.7" />
<line x1="92.63" y1="164.92" x2="95.23" y2="164.92" stroke="#3a3a3a" stroke-width="0.7" />
<rect x="97.86" y="173.92" width="5.90" height="40.38" fill="#e4007f" />
<line x1="100.81" y1="173.92" x2="100.81" y2="169.68" stroke="#3a3a3a" stroke-width="0.7" />
<line x1="99.51" y1="169.68" x2="102.11" y2="169.68" stroke="#3a3a3a" stroke-width="0.7" />
<rect x="104.74" y="181.38" width="5.90" height="32.92" fill="#e4007f" />
<line x1="107.69" y1="181.38" x2="107.69" y2="177.97" stroke="#3a3a3a" stroke-width="0.7" />
<line x1="106.39" y1="177.97" x2="108.99" y2="177.97" stroke="#3a3a3a" stroke-width="0.7" />
<rect x="111.62" y="194.88" width="5.90" height="19.42" fill="#e4007f" />
<line x1="114.57" y1="194.88" x2="114.57" y2="190.83" stroke="#3a3a3a" stroke-width="0.7" />
<line x1="113.27" y1="190.83" x2="115.87" y2="190.83" stroke="#3a3a3a" stroke-width="0.7" />
<rect x="118.50" y="196.62" width="5.90" height="17.68" fill="#e4007f" />
<line x1="121.45" y1="196.62" x2="121.45" y2="193.79" stroke="#3a3a3a" stroke-width="0.7" />
<line x1="120.15" y1="193.79" x2="122.75" y2="193.79" stroke="#3a3a3a" stroke-width="0.7" />
<rect x="128.10" y="167.36" width="5.70" height="46.94" fill="#27a9e1" />
<line x1="130.95" y1="167.36" x2="130.95" y2="159.13" stroke="#3a3a3a" stroke-width="0.7" />
<line x1="129.65" y1="159.13" x2="132.25" y2="159.13" stroke="#3a3a3a" stroke-width="0.7" />
<rect x="134.95" y="173.47" width="5.70" height="40.83" fill="#27a9e1" />
<line x1="137.80" y1="173.47" x2="137.80" y2="169.10" stroke="#3a3a3a" stroke-width="0.7" />
<line x1="136.50" y1="169.10" x2="139.10" y2="169.10" stroke="#3a3a3a" stroke-width="0.7" />
<rect x="141.80" y="186.01" width="5.70" height="28.29" fill="#27a9e1" />
<line x1="144.65" y1="186.01" x2="144.65" y2="178.29" stroke="#3a3a3a" stroke-width="0.7" />
<line x1="143.35" y1="178.29" x2="145.95" y2="178.29" stroke="#3a3a3a" stroke-width="0.7" />
<rect x="148.65" y="189.48" width="5.70" height="24.82" fill="#27a9e1" />
<line x1="151.50" y1="189.48" x2="151.50" y2="187.62" stroke="#3a3a3a" stroke-width="0.7" />
<line x1="150.20" y1="187.62" x2="152.80" y2="187.62" stroke="#3a3a3a" stroke-width="0.7" />
<rect x="155.50" y="190.77" width="5.70" height="23.53" fill="#27a9e1" />
<line x1="158.35" y1="190.77" x2="158.35" y2="188.77" stroke="#3a3a3a" stroke-width="0.7" />
<line x1="157.05" y1="188.77" x2="159.65" y2="188.77" stroke="#3a3a3a" stroke-width="0.7" />
<rect x="162.35" y="198.68" width="5.70" height="15.62" fill="#27a9e1" />
<line x1="165.20" y1="198.68" x2="165.20" y2="189.03" stroke="#3a3a3a" stroke-width="0.7" />
<line x1="163.90" y1="189.03" x2="166.50" y2="189.03" stroke="#3a3a3a" stroke-width="0.7" />
<rect x="171.30" y="167.36" width="5.70" height="46.94" fill="#9484c0" />
<line x1="174.15" y1="167.36" x2="174.15" y2="165.82" stroke="#3a3a3a" stroke-width="0.7" />
<line x1="172.85" y1="165.82" x2="175.45" y2="165.82" stroke="#3a3a3a" stroke-width="0.7" />
<rect x="178.10" y="189.48" width="5.70" height="24.82" fill="#9484c0" />
<line x1="180.95" y1="189.48" x2="180.95" y2="184.72" stroke="#3a3a3a" stroke-width="0.7" />
<line x1="179.65" y1="184.72" x2="182.25" y2="184.72" stroke="#3a3a3a" stroke-width="0.7" />
<rect x="184.90" y="192.70" width="5.70" height="21.60" fill="#9484c0" />
<line x1="187.75" y1="192.70" x2="187.75" y2="188.71" stroke="#3a3a3a" stroke-width="0.7" />
<line x1="186.45" y1="188.71" x2="189.05" y2="188.71" stroke="#3a3a3a" stroke-width="0.7" />
<rect x="191.70" y="195.65" width="5.70" height="18.65" fill="#9484c0" />
<line x1="194.55" y1="195.65" x2="194.55" y2="192.18" stroke="#3a3a3a" stroke-width="0.7" />
<line x1="193.25" y1="192.18" x2="195.85" y2="192.18" stroke="#3a3a3a" stroke-width="0.7" />
<rect x="198.50" y="200.03" width="5.70" height="14.27" fill="#9484c0" />
<line x1="201.35" y1="200.03" x2="201.35" y2="195.33" stroke="#3a3a3a" stroke-width="0.7" />
<line x1="200.05" y1="195.33" x2="202.65" y2="195.33" stroke="#3a3a3a" stroke-width="0.7" />
<path d="M205.80,214.30 Q208.15,207.93 210.50,214.30 Z" fill="#7f72a0" stroke="none" stroke-width="1" />
<line x1="80.90" y1="147.50" x2="80.90" y2="214.80" stroke="#231f20" stroke-width="1.0" />
<line x1="80.90" y1="214.30" x2="214.20" y2="214.30" stroke="#231f20" stroke-width="1.0" />
<line x1="78.30" y1="214.30" x2="80.90" y2="214.30" stroke="#231f20" stroke-width="0.8" />
<text x="75.00" y="216.72" font-size="6.71" text-anchor="end" fill="#231f20" stroke="#231f20" stroke-width="0.07" textLength="3.29" lengthAdjust="spacingAndGlyphs" >0</text>
<line x1="78.30" y1="201.44" x2="80.90" y2="201.44" stroke="#231f20" stroke-width="0.8" />
<text x="75.00" y="203.86" font-size="6.71" text-anchor="end" fill="#231f20" stroke="#231f20" stroke-width="0.07" textLength="6.58" lengthAdjust="spacingAndGlyphs" >20</text>
<line x1="78.30" y1="188.58" x2="80.90" y2="188.58" stroke="#231f20" stroke-width="0.8" />
<text x="75.00" y="191.00" font-size="6.71" text-anchor="end" fill="#231f20" stroke="#231f20" stroke-width="0.07" textLength="6.58" lengthAdjust="spacingAndGlyphs" >40</text>
<line x1="78.30" y1="175.72" x2="80.90" y2="175.72" stroke="#231f20" stroke-width="0.8" />
<text x="75.00" y="178.14" font-size="6.71" text-anchor="end" fill="#231f20" stroke="#231f20" stroke-width="0.07" textLength="6.58" lengthAdjust="spacingAndGlyphs" >60</text>
<line x1="78.30" y1="162.86" x2="80.90" y2="162.86" stroke="#231f20" stroke-width="0.8" />
<text x="75.00" y="165.28" font-size="6.71" text-anchor="end" fill="#231f20" stroke="#231f20" stroke-width="0.07" textLength="6.58" lengthAdjust="spacingAndGlyphs" >80</text>
<line x1="78.30" y1="150.00" x2="80.90" y2="150.00" stroke="#231f20" stroke-width="0.8" />
<text x="75.00" y="152.42" font-size="6.71" text-anchor="end" fill="#231f20" stroke="#231f20" stroke-width="0.07" textLength="9.87" lengthAdjust="spacingAndGlyphs" >100</text>
<line x1="104.20" y1="214.30" x2="104.20" y2="216.30" stroke="#231f20" stroke-width="0.8" />
<text x="104.20" y="225.92" font-size="6.82" text-anchor="middle" fill="#231f20" stroke="#231f20" stroke-width="0.07" textLength="4.34" lengthAdjust="spacingAndGlyphs" >H</text>
<line x1="147.40" y1="214.30" x2="147.40" y2="216.30" stroke="#231f20" stroke-width="0.8" />
<text x="147.40" y="225.92" font-size="6.82" text-anchor="middle" fill="#231f20" stroke="#231f20" stroke-width="0.07" textLength="4.01" lengthAdjust="spacingAndGlyphs" >S</text>
<line x1="190.50" y1="214.30" x2="190.50" y2="216.30" stroke="#231f20" stroke-width="0.8" />
<text x="190.50" y="225.92" font-size="6.82" text-anchor="middle" fill="#231f20" stroke="#231f20" stroke-width="0.07" textLength="11.87" lengthAdjust="spacingAndGlyphs" >H+S</text>
<text x="57.81" y="180.20" font-size="6.49" text-anchor="middle" fill="#231f20" stroke="#231f20" stroke-width="0.12" textLength="46.00" lengthAdjust="spacingAndGlyphs" transform="rotate(-90 57.81 180.20)" >Inhibition rate (%)</text>
<path d="M85.50,233.20 L121.50,227.70 L121.50,233.20 Z" fill="#d9d9d9" stroke="none" stroke-width="1" />
<path d="M130.40,233.60 L168.00,228.00 L168.00,233.60 Z" fill="#d9d9d9" stroke="none" stroke-width="1" />
<path d="M175.90,233.60 L213.50,228.00 L213.50,233.60 Z" fill="#d9d9d9" stroke="none" stroke-width="1" />
<text x="215.80" y="233.22" font-size="6.60" text-anchor="start" fill="#231f20" stroke="#231f20" stroke-width="0.07" textLength="11.60" lengthAdjust="spacingAndGlyphs" >(μM)</text>
<text x="237.60" y="139.60" font-size="10.50" text-anchor="start" fill="#000" font-weight="bold" textLength="6.79" lengthAdjust="spacingAndGlyphs" >E</text>
<g transform="rotate(-10 262 187.2)"><ellipse cx="262" cy="187.2" rx="10" ry="6.8" fill="#f0f0f0" stroke="#c9c9c9" stroke-width="0.9"/></g>
<ellipse cx="308.0" cy="187.9" rx="11.7" ry="8.6" fill="#f4e0cf"/>
<g clip-path="url(#egg1)">
<g filter="url(#blur15)">
<ellipse cx="310.93" cy="189.62" rx="2.34" ry="2.15" fill="#9ab0d0" opacity="0.5"/>
<ellipse cx="307.42" cy="183.17" rx="6.44" ry="3.01" fill="#f2da8c" opacity="0.9"/>
<ellipse cx="316.77" cy="188.76" rx="3.51" ry="6.02" fill="#d6dbe8" opacity="0.9"/>
<ellipse cx="302.15" cy="190.48" rx="4.68" ry="4.30" fill="#f4d4bc" opacity="0.8"/>
<ellipse cx="309.17" cy="192.20" rx="5.85" ry="2.58" fill="#f6d2c0" opacity="0.7"/>
</g>
</g>
<circle cx="311.10" cy="189.80" r="1.15" fill="#3a2c30" filter="url(#blur05)"/>
<ellipse cx="308.0" cy="187.9" rx="11.7" ry="8.6" fill="none" stroke="#a48e80" stroke-width="0.95"/>
<ellipse cx="366.0" cy="187.9" rx="11.7" ry="8.6" fill="#f4e0cf"/>
<g clip-path="url(#egg2)">
<g filter="url(#blur15)">
<ellipse cx="364.25" cy="184.03" rx="4.68" ry="3.01" fill="#ecdca8" opacity="0.85"/>
<ellipse cx="367.17" cy="184.03" rx="2.92" ry="3.01" fill="#f4b47a" opacity="0.8"/>
<ellipse cx="360.74" cy="190.91" rx="5.26" ry="3.01" fill="#f2a898" opacity="0.85"/>
<ellipse cx="375.36" cy="188.33" rx="2.92" ry="6.02" fill="#dadde6" opacity="0.85"/>
<ellipse cx="368.34" cy="191.77" rx="4.09" ry="2.58" fill="#f0c4bc" opacity="0.7"/>
</g>
<ellipse cx="364.83" cy="185.32" rx="2.92" ry="3.01" fill="#f3a060" opacity="0.55" filter="url(#blur05)"/>
<ellipse cx="361.90" cy="190.91" rx="3.51" ry="2.15" fill="#ee8a80" opacity="0.5" filter="url(#blur05)"/>
<path d="M371.28,192.48 q-2.66,-2.49 3.35,1.89" stroke="#e0704a" stroke-width="0.6" fill="none" opacity="0.85"/>
<path d="M367.60,185.32 q0.64,0.64 0.81,-2.73" stroke="#e0704a" stroke-width="0.6" fill="none" opacity="0.85"/>
<path d="M364.52,186.28 q1.34,2.97 4.49,0.35" stroke="#e0704a" stroke-width="0.6" fill="none" opacity="0.85"/>
<path d="M364.71,184.88 q-2.78,-2.84 -0.35,-1.45" stroke="#e0704a" stroke-width="0.6" fill="none" opacity="0.85"/>
<path d="M363.87,191.85 q0.15,0.36 -2.64,-3.81" stroke="#e0704a" stroke-width="0.6" fill="none" opacity="0.85"/>
<path d="M363.16,183.41 q0.06,2.99 1.74,-2.55" stroke="#e0704a" stroke-width="0.6" fill="none" opacity="0.85"/>
<path d="M370.48,190.79 q1.41,2.44 2.63,2.32" stroke="#e0704a" stroke-width="0.6" fill="none" opacity="0.85"/>
<path d="M363.53,192.85 q2.77,-2.03 2.54,1.72" stroke="#e0704a" stroke-width="0.6" fill="none" opacity="0.85"/>
<path d="M364.92,187.81 q-0.06,2.55 0.01,2.65" stroke="#e0704a" stroke-width="0.6" fill="none" opacity="0.85"/>
<path d="M363.54,191.75 q2.40,-0.23 0.68,3.36" stroke="#e0704a" stroke-width="0.6" fill="none" opacity="0.85"/>
</g>
<circle cx="369.10" cy="189.80" r="1.15" fill="#3a2c30" filter="url(#blur05)"/>
<ellipse cx="366.0" cy="187.9" rx="11.7" ry="8.6" fill="none" stroke="#a48e80" stroke-width="0.95"/>
<ellipse cx="414.8" cy="188.3" rx="12.0" ry="9.0" fill="#f4e0cf"/>
<g clip-path="url(#egg3)">
<g filter="url(#blur15)">
<ellipse cx="413.00" cy="184.25" rx="4.80" ry="3.15" fill="#ecdca8" opacity="0.85"/>
<ellipse cx="416.00" cy="184.25" rx="3.00" ry="3.15" fill="#f4b47a" opacity="0.8"/>
<ellipse cx="409.40" cy="191.45" rx="5.40" ry="3.15" fill="#f2a898" opacity="0.85"/>
<ellipse cx="424.40" cy="188.75" rx="3.00" ry="6.30" fill="#dadde6" opacity="0.85"/>
<ellipse cx="417.20" cy="192.35" rx="4.20" ry="2.70" fill="#f0c4bc" opacity="0.7"/>
</g>
<ellipse cx="413.60" cy="185.60" rx="3.00" ry="3.15" fill="#f3a060" opacity="0.55" filter="url(#blur05)"/>
<ellipse cx="410.60" cy="191.45" rx="3.60" ry="2.25" fill="#ee8a80" opacity="0.5" filter="url(#blur05)"/>
<path d="M410.74,188.37 q-0.78,0.62 1.26,-3.48" stroke="#e0704a" stroke-width="0.6" fill="none" opacity="0.85"/>
<path d="M407.77,191.80 q-1.44,-1.59 4.96,-0.24" stroke="#e0704a" stroke-width="0.6" fill="none" opacity="0.85"/>
<path d="M418.64,187.57 q0.83,-2.10 1.35,2.94" stroke="#e0704a" stroke-width="0.6" fill="none" opacity="0.85"/>
<path d="M414.51,190.67 q1.03,-2.62 2.58,0.73" stroke="#e0704a" stroke-width="0.6" fill="none" opacity="0.85"/>
<path d="M411.58,182.36 q2.19,-0.16 2.19,3.03" stroke="#e0704a" stroke-width="0.6" fill="none" opacity="0.85"/>
<path d="M417.03,192.78 q-0.63,1.81 -0.55,3.48" stroke="#e0704a" stroke-width="0.6" fill="none" opacity="0.85"/>
<path d="M419.20,183.14 q-2.18,-1.70 4.65,-0.51" stroke="#e0704a" stroke-width="0.6" fill="none" opacity="0.85"/>
<path d="M415.87,185.52 q0.04,-0.68 -1.49,0.68" stroke="#e0704a" stroke-width="0.6" fill="none" opacity="0.85"/>
<path d="M415.31,192.58 q1.09,2.57 3.56,3.93" stroke="#e0704a" stroke-width="0.6" fill="none" opacity="0.85"/>
<path d="M416.46,183.91 q2.16,2.79 4.05,0.55" stroke="#e0704a" stroke-width="0.6" fill="none" opacity="0.85"/>
</g>
<ellipse cx="414.8" cy="188.3" rx="12.0" ry="9.0" fill="none" stroke="#a48e80" stroke-width="0.95"/>
<ellipse cx="456.7" cy="188.0" rx="11.7" ry="8.7" fill="#f4e0cf"/>
<g clip-path="url(#egg4)">
<g filter="url(#blur15)">
<ellipse cx="454.94" cy="184.09" rx="4.68" ry="3.04" fill="#ecdca8" opacity="0.85"/>
<ellipse cx="457.87" cy="184.09" rx="2.92" ry="3.04" fill="#f4b47a" opacity="0.8"/>
<ellipse cx="451.44" cy="191.04" rx="5.26" ry="3.04" fill="#f2a898" opacity="0.85"/>
<ellipse cx="466.06" cy="188.44" rx="2.92" ry="6.09" fill="#dadde6" opacity="0.85"/>
<ellipse cx="459.04" cy="191.91" rx="4.09" ry="2.61" fill="#f0c4bc" opacity="0.7"/>
</g>
<ellipse cx="455.53" cy="185.39" rx="2.92" ry="3.04" fill="#f3a060" opacity="0.55" filter="url(#blur05)"/>
<ellipse cx="452.60" cy="191.04" rx="3.51" ry="2.17" fill="#ee8a80" opacity="0.5" filter="url(#blur05)"/>
<path d="M452.72,183.08 q-0.62,-2.07 -4.33,-0.79" stroke="#e0704a" stroke-width="0.6" fill="none" opacity="0.85"/>
<path d="M461.49,190.96 q1.59,-1.67 0.37,-1.79" stroke="#e0704a" stroke-width="0.6" fill="none" opacity="0.85"/>
<path d="M451.90,183.11 q-1.71,2.56 3.29,2.45" stroke="#e0704a" stroke-width="0.6" fill="none" opacity="0.85"/>
<path d="M459.98,184.10 q-1.14,0.76 2.32,2.84" stroke="#e0704a" stroke-width="0.6" fill="none" opacity="0.85"/>
<path d="M461.01,182.89 q0.64,1.03 0.06,-2.58" stroke="#e0704a" stroke-width="0.6" fill="none" opacity="0.85"/>
<path d="M455.78,182.92 q2.61,2.19 0.48,-1.60" stroke="#e0704a" stroke-width="0.6" fill="none" opacity="0.85"/>
<path d="M461.38,188.38 q2.29,2.09 0.08,-0.69" stroke="#e0704a" stroke-width="0.6" fill="none" opacity="0.85"/>
<path d="M457.39,186.79 q-2.03,-1.17 3.13,-3.65" stroke="#e0704a" stroke-width="0.6" fill="none" opacity="0.85"/>
<path d="M450.28,188.99 q-1.32,0.21 -0.29,-1.26" stroke="#e0704a" stroke-width="0.6" fill="none" opacity="0.85"/>
<path d="M462.51,184.12 q-0.52,-1.78 1.33,-1.79" stroke="#e0704a" stroke-width="0.6" fill="none" opacity="0.85"/>
</g>
<ellipse cx="456.7" cy="188.0" rx="11.7" ry="8.7" fill="none" stroke="#a48e80" stroke-width="0.95"/>
<text x="263.20" y="205.00" font-size="6.30" text-anchor="middle" fill="#231f20" stroke="#231f20" stroke-width="0.05" textLength="7.81" lengthAdjust="spacingAndGlyphs" >D0</text>
<text x="307.50" y="205.00" font-size="6.30" text-anchor="middle" fill="#231f20" stroke="#231f20" stroke-width="0.05" textLength="7.81" lengthAdjust="spacingAndGlyphs" >D9</text>
<text x="365.50" y="205.00" font-size="6.30" text-anchor="middle" fill="#231f20" stroke="#231f20" stroke-width="0.05" textLength="11.21" lengthAdjust="spacingAndGlyphs" >D12</text>
<text x="414.60" y="205.00" font-size="6.30" text-anchor="middle" fill="#231f20" stroke="#231f20" stroke-width="0.05" textLength="11.21" lengthAdjust="spacingAndGlyphs" >D14</text>
<text x="456.50" y="205.00" font-size="6.30" text-anchor="middle" fill="#231f20" stroke="#231f20" stroke-width="0.05" textLength="11.21" lengthAdjust="spacingAndGlyphs" >D16</text>
<path d="M261.2,218.6 H303.5 L308,222.95 L303.5,227.3 H261.2 Z" fill="#e9f0f7" stroke="none" stroke-width="1" />
<path d="M307.7,218.6 H366.3 L370.8,222.95 L366.3,227.3 H307.7 L312.2,222.95 Z" fill="#e1e9f1" stroke="none" stroke-width="1" />
<path d="M368.5,218.6 H454.2 L458.7,222.95 L454.2,227.3 H368.5 L373,222.95 Z" fill="#d2e0ed" stroke="none" stroke-width="1" />
<text x="265.80" y="225.71" font-size="6.38" text-anchor="start" fill="#3a3a3a" stroke="#3a3a3a" stroke-width="0.05" textLength="36.90" lengthAdjust="spacingAndGlyphs" >Pre-incubation</text>
<text x="322.30" y="225.71" font-size="6.38" text-anchor="start" fill="#3a3a3a" stroke="#3a3a3a" stroke-width="0.05" textLength="34.60" lengthAdjust="spacingAndGlyphs" >Tumor growth</text>
<text x="400.80" y="225.71" font-size="6.38" text-anchor="start" fill="#3a3a3a" stroke="#3a3a3a" stroke-width="0.05" textLength="24.90" lengthAdjust="spacingAndGlyphs" >Treatment</text>
<rect x="261.60" y="211.20" width="188.40" height="3.80" fill="#5a7399" />
<path d="M448.5,209.4 L456.6,213.1 L448.5,216.8 Z" fill="#4a6590" stroke="none" stroke-width="1" />
<line x1="261.60" y1="208.00" x2="261.60" y2="217.60" stroke="#2a4468" stroke-width="1.2" />
<line x1="306.80" y1="208.00" x2="306.80" y2="217.60" stroke="#2a4468" stroke-width="1.2" />
<line x1="366.60" y1="208.00" x2="366.60" y2="217.60" stroke="#2a4468" stroke-width="1.2" />
<line x1="415.10" y1="208.00" x2="415.10" y2="217.60" stroke="#2a4468" stroke-width="1.2" />
<line x1="456.90" y1="208.00" x2="456.90" y2="217.60" stroke="#2a4468" stroke-width="1.2" />
<line x1="307.10" y1="169.90" x2="307.10" y2="175.40" stroke="#2a4468" stroke-width="0.9" />
<path d="M305.50,175.00 L308.70,175.00 L307.10,177.60 Z" fill="#2a4468" stroke="none" stroke-width="1" />
<line x1="367.50" y1="170.30" x2="367.50" y2="175.20" stroke="#2a4468" stroke-width="0.9" />
<path d="M365.90,174.80 L369.10,174.80 L367.50,177.40 Z" fill="#2a4468" stroke="none" stroke-width="1" />
<line x1="414.70" y1="170.80" x2="414.70" y2="175.60" stroke="#2a4468" stroke-width="0.9" />
<path d="M413.10,175.20 L416.30,175.20 L414.70,177.80 Z" fill="#2a4468" stroke="none" stroke-width="1" />
<line x1="457.30" y1="170.80" x2="457.30" y2="175.60" stroke="#2a4468" stroke-width="0.9" />
<path d="M455.70,175.20 L458.90,175.20 L457.30,177.80 Z" fill="#2a4468" stroke="none" stroke-width="1" />
<text x="293.60" y="160.52" font-size="6.90" text-anchor="start" fill="#333" stroke="#333" stroke-width="0.05" textLength="29.90" lengthAdjust="spacingAndGlyphs" >PBL-1 cells</text>
<text x="293.60" y="168.22" font-size="6.90" text-anchor="start" fill="#333" stroke="#333" stroke-width="0.05" textLength="28.10" lengthAdjust="spacingAndGlyphs" >inoculation</text>
<rect x="348.30" y="146.80" width="3.20" height="3.60" fill="none" stroke="#a9dde8" stroke-width="0.8"/>
<text x="353.30" y="151.00" font-size="6.50" text-anchor="start" fill="#333" stroke="#333" stroke-width="0.05" textLength="38.60" lengthAdjust="spacingAndGlyphs" >Medium + <tspan font-weight="bold">IL-6</tspan></text>
<text x="348.00" y="156.90" font-size="5.60" text-anchor="start" fill="#e4007f" stroke="#e4007f" stroke-width="0.05" font-weight="bold" textLength="3.92" lengthAdjust="spacingAndGlyphs" >H</text>
<text x="348.20" y="162.40" font-size="5.60" text-anchor="start" fill="#3aa0d0" stroke="#3aa0d0" stroke-width="0.05" font-weight="bold" textLength="3.62" lengthAdjust="spacingAndGlyphs" >S</text>
<text x="340.00" y="168.40" font-size="5.60" text-anchor="start" fill="#9a8ac0" stroke="#9a8ac0" stroke-width="0.05" textLength="12.10" lengthAdjust="spacingAndGlyphs" >H+S</text>
<g>
<path d="M358.85,153.00 H355.00 A1.90,1.90 0 0 0 355.00,156.80 H358.85 Z" fill="#ec8cc0" stroke="none" stroke-width="1" />
<path d="M358.85,153.00 H362.70 A1.90,1.90 0 0 1 362.70,156.80 H358.85 Z" fill="#f4f4f6" stroke="#cfd6d6" stroke-width="0.5" />
</g>
<g>
<path d="M358.85,158.50 H355.00 A1.90,1.90 0 0 0 355.00,162.30 H358.85 Z" fill="#5eaad8" stroke="none" stroke-width="1" />
<path d="M358.85,158.50 H362.70 A1.90,1.90 0 0 1 362.70,162.30 H358.85 Z" fill="#f4f4f6" stroke="#cfd6d6" stroke-width="0.5" />
</g>
<g>
<path d="M358.85,164.20 H355.00 A1.90,1.90 0 0 0 355.00,168.00 H358.85 Z" fill="#ec8cc0" stroke="none" stroke-width="1" />
<path d="M358.85,164.20 H362.70 A1.90,1.90 0 0 1 362.70,168.00 H358.85 Z" fill="#f4f4f6" stroke="#cfd6d6" stroke-width="0.5" />
</g>
<text x="366.60" y="168.00" font-size="4.50" text-anchor="middle" fill="#333" stroke="#333" stroke-width="0.05" textLength="2.55" lengthAdjust="spacingAndGlyphs" >+</text>
<g>
<path d="M374.65,164.20 H370.80 A1.90,1.90 0 0 0 370.80,168.00 H374.65 Z" fill="#5eaad8" stroke="none" stroke-width="1" />
<path d="M374.65,164.20 H378.50 A1.90,1.90 0 0 1 378.50,168.00 H374.65 Z" fill="#f4f4f6" stroke="#cfd6d6" stroke-width="0.5" />
</g>
<text x="400.40" y="150.80" font-size="6.50" text-anchor="start" fill="#333" stroke="#333" stroke-width="0.05" textLength="38.40" lengthAdjust="spacingAndGlyphs" >Medium + <tspan font-weight="bold">IL-6</tspan></text>
<g>
<path d="M407.70,152.30 H403.80 A1.90,1.90 0 0 0 403.80,156.10 H407.70 Z" fill="#ec8cc0" stroke="none" stroke-width="1" />
<path d="M407.70,152.30 H411.60 A1.90,1.90 0 0 1 411.60,156.10 H407.70 Z" fill="#f4f4f6" stroke="#cfd6d6" stroke-width="0.5" />
</g>
<g>
<path d="M407.70,158.60 H403.80 A1.90,1.90 0 0 0 403.80,162.40 H407.70 Z" fill="#5eaad8" stroke="none" stroke-width="1" />
<path d="M407.70,158.60 H411.60 A1.90,1.90 0 0 1 411.60,162.40 H407.70 Z" fill="#f4f4f6" stroke="#cfd6d6" stroke-width="0.5" />
</g>
<g>
<path d="M407.70,164.30 H403.80 A1.90,1.90 0 0 0 403.80,168.10 H407.70 Z" fill="#ec8cc0" stroke="none" stroke-width="1" />
<path d="M407.70,164.30 H411.60 A1.90,1.90 0 0 1 411.60,168.10 H407.70 Z" fill="#f4f4f6" stroke="#cfd6d6" stroke-width="0.5" />
</g>
<text x="415.00" y="168.10" font-size="4.50" text-anchor="middle" fill="#333" stroke="#333" stroke-width="0.05" textLength="2.55" lengthAdjust="spacingAndGlyphs" >+</text>
<g>
<path d="M423.30,164.30 H419.70 A1.90,1.90 0 0 0 419.70,168.10 H423.30 Z" fill="#5eaad8" stroke="none" stroke-width="1" />
<path d="M423.30,164.30 H426.90 A1.90,1.90 0 0 1 426.90,168.10 H423.30 Z" fill="#f4f4f6" stroke="#cfd6d6" stroke-width="0.5" />
</g>
<text x="457.30" y="154.03" font-size="7.13" text-anchor="middle" fill="#555" stroke="#555" stroke-width="0.05" textLength="15.40" lengthAdjust="spacingAndGlyphs" >Tumor</text>
<text x="457.30" y="161.43" font-size="7.13" text-anchor="middle" fill="#555" stroke="#555" stroke-width="0.05" textLength="24.60" lengthAdjust="spacingAndGlyphs" >collection</text>
<rect x="455.60" y="164.20" width="2.20" height="2.40" fill="#d8d8d8" />
<text x="8.00" y="253.00" font-size="10.50" text-anchor="start" fill="#000" font-weight="bold" textLength="6.22" lengthAdjust="spacingAndGlyphs" >F</text>
<rect x="20.80" y="263.30" width="73.00" height="72.60" fill="#ffffff" />
<g clip-path="url(#ph11)">
<rect x="21.00" y="263.20" width="35.90" height="35.50" fill="#dcc8c0" />
<g filter="url(#blur2)">
<ellipse cx="38.95" cy="264.97" rx="21.54" ry="5.33" fill="#c4c6ca" opacity="0.9"/>
<ellipse cx="28.18" cy="282.72" rx="10.77" ry="14.20" fill="#f0c8b4" opacity="0.9"/>
<ellipse cx="42.54" cy="280.95" rx="12.56" ry="10.65" fill="#f2ac84" opacity="0.95"/>
<ellipse cx="53.31" cy="277.40" rx="5.38" ry="8.88" fill="#f49050" opacity="0.95"/>
<ellipse cx="38.95" cy="295.86" rx="21.54" ry="3.55" fill="#d4c0b8" opacity="0.9"/>
</g>
<rect x="21.0" y="263.2" width="35.9" height="35.5" fill="#fff2e8" filter="url(#noise1)" opacity="0.35"/>
<rect x="21.0" y="263.2" width="35.9" height="35.5" fill="#b86040" filter="url(#noise2)" opacity="0.15"/>
<ellipse cx="40.60" cy="281.70" rx="5.80" ry="5.30" fill="#f6e0c8" filter="url(#blur05)"/>
<ellipse cx="40.60" cy="281.70" rx="5.80" ry="5.30" fill="none" stroke="#3a2418" stroke-width="1.15" stroke-dasharray="1.1 1.1" opacity="0.85"/>
</g>
<g clip-path="url(#ph12)">
<rect x="58.30" y="263.20" width="35.50" height="35.50" fill="#dccac4" />
<g filter="url(#blur2)">
<ellipse cx="65.40" cy="270.30" rx="10.65" ry="7.10" fill="#eee0da" opacity="0.9"/>
<ellipse cx="79.60" cy="270.30" rx="17.75" ry="5.68" fill="#f2b082" opacity="0.9"/>
<ellipse cx="88.47" cy="266.04" rx="7.10" ry="4.26" fill="#f29050" opacity="0.9"/>
<ellipse cx="65.40" cy="282.72" rx="7.81" ry="7.10" fill="#f29458" opacity="0.95"/>
<ellipse cx="74.27" cy="286.27" rx="10.65" ry="10.65" fill="#eebaa0" opacity="0.9"/>
<ellipse cx="86.70" cy="291.60" rx="8.88" ry="7.10" fill="#d8c8c4" opacity="0.8"/>
</g>
<rect x="58.3" y="263.2" width="35.5" height="35.5" fill="#fff2e8" filter="url(#noise1)" opacity="0.35"/>
<rect x="58.3" y="263.2" width="35.5" height="35.5" fill="#b86040" filter="url(#noise2)" opacity="0.15"/>
<ellipse cx="73.50" cy="284.90" rx="4.80" ry="5.00" fill="#f4e0c8" filter="url(#blur05)"/>
<ellipse cx="73.50" cy="284.90" rx="4.80" ry="5.00" fill="none" stroke="#3a2418" stroke-width="1.15" stroke-dasharray="1.1 1.1" opacity="0.85"/>
</g>
<g clip-path="url(#ph13)">
<rect x="21.00" y="299.90" width="35.90" height="35.80" fill="#e6c0b0" />
<g filter="url(#blur2)">
<ellipse cx="31.77" cy="312.43" rx="12.56" ry="10.74" fill="#f0bca8" opacity="0.9"/>
<ellipse cx="51.52" cy="317.80" rx="7.18" ry="16.11" fill="#f2a878" opacity="0.9"/>
<ellipse cx="28.18" cy="331.40" rx="10.77" ry="5.37" fill="#cec4c2" opacity="0.9"/>
<ellipse cx="40.75" cy="319.59" rx="8.97" ry="8.95" fill="#eeae8c" opacity="0.8"/>
</g>
<rect x="21.0" y="299.9" width="35.9" height="35.8" fill="#fff2e8" filter="url(#noise1)" opacity="0.35"/>
<rect x="21.0" y="299.9" width="35.9" height="35.8" fill="#b86040" filter="url(#noise2)" opacity="0.15"/>
<ellipse cx="37.40" cy="317.70" rx="5.00" ry="4.80" fill="#eeae88" filter="url(#blur05)"/>
<ellipse cx="37.40" cy="317.70" rx="5.00" ry="4.80" fill="none" stroke="#3a2418" stroke-width="1.15" stroke-dasharray="1.1 1.1" opacity="0.85"/>
</g>
<g clip-path="url(#ph14)">
<rect x="58.30" y="299.90" width="35.50" height="35.80" fill="#e2b49a" />
<g filter="url(#blur2)">
<ellipse cx="76.05" cy="319.59" rx="17.75" ry="16.11" fill="#f0a878" opacity="0.95"/>
<ellipse cx="86.70" cy="307.06" rx="10.65" ry="8.95" fill="#f29c60" opacity="0.9"/>
<ellipse cx="63.62" cy="305.27" rx="8.88" ry="7.16" fill="#dcc0b0" opacity="0.8"/>
<ellipse cx="63.62" cy="330.33" rx="7.10" ry="7.16" fill="#e8a07a" opacity="0.8"/>
</g>
<rect x="58.3" y="299.9" width="35.5" height="35.8" fill="#fff2e8" filter="url(#noise1)" opacity="0.35"/>
<rect x="58.3" y="299.9" width="35.5" height="35.8" fill="#b86040" filter="url(#noise2)" opacity="0.15"/>
<ellipse cx="73.50" cy="320.00" rx="4.80" ry="4.80" fill="#f2b45c" filter="url(#blur05)"/>
<ellipse cx="73.50" cy="320.00" rx="4.80" ry="4.80" fill="none" stroke="#3a2418" stroke-width="1.15" stroke-dasharray="1.1 1.1" opacity="0.85"/>
</g>
<text x="22.80" y="271.03" font-size="7.35" text-anchor="start" fill="#3e4650" stroke="#3e4650" stroke-width="0.07" font-weight="bold" textLength="4.90" lengthAdjust="spacingAndGlyphs" >C</text>
<text x="60.10" y="271.33" font-size="7.35" text-anchor="start" fill="#a8105c" stroke="#a8105c" stroke-width="0.07" font-weight="bold" textLength="4.90" lengthAdjust="spacingAndGlyphs" >H</text>
<text x="22.80" y="308.93" font-size="7.35" text-anchor="start" fill="#2898b8" stroke="#2898b8" stroke-width="0.07" font-weight="bold" textLength="4.53" lengthAdjust="spacingAndGlyphs" >S</text>
<text x="60.10" y="309.33" font-size="7.35" text-anchor="start" fill="#8a2a70" stroke="#8a2a70" stroke-width="0.07" font-weight="bold" textLength="15.60" lengthAdjust="spacingAndGlyphs" >H+S</text>
<line x1="80.40" y1="333.40" x2="91.00" y2="333.40" stroke="#222" stroke-width="0.9" />
<text x="85.70" y="331.65" font-size="4.16" text-anchor="middle" fill="#222" stroke="#222" stroke-width="0.1" textLength="10.00" lengthAdjust="spacingAndGlyphs" >2.5cm</text>
<rect x="49.50" y="388.06" width="10.30" height="27.04" fill="#ccc9ce" />
<line x1="54.65" y1="400.66" x2="54.65" y2="375.73" stroke="#222" stroke-width="0.6" />
<line x1="52.65" y1="375.73" x2="56.65" y2="375.73" stroke="#222" stroke-width="0.6" />
<line x1="52.65" y1="400.66" x2="56.65" y2="400.66" stroke="#222" stroke-width="0.6" />
<rect x="60.40" y="388.59" width="9.60" height="26.51" fill="#e4007f" />
<line x1="65.20" y1="398.83" x2="65.20" y2="380.98" stroke="#222" stroke-width="0.6" />
<line x1="63.20" y1="380.98" x2="67.20" y2="380.98" stroke="#222" stroke-width="0.6" />
<line x1="63.20" y1="398.83" x2="67.20" y2="398.83" stroke="#222" stroke-width="0.6" />
<rect x="71.00" y="387.80" width="9.90" height="27.30" fill="#27a9e1" />
<line x1="75.95" y1="396.20" x2="75.95" y2="379.66" stroke="#222" stroke-width="0.6" />
<line x1="73.95" y1="379.66" x2="77.95" y2="379.66" stroke="#222" stroke-width="0.6" />
<line x1="73.95" y1="396.20" x2="77.95" y2="396.20" stroke="#222" stroke-width="0.6" />
<rect x="81.90" y="398.83" width="10.20" height="16.28" fill="#9484c0" />
<line x1="87.00" y1="405.12" x2="87.00" y2="392.00" stroke="#222" stroke-width="0.6" />
<line x1="85.00" y1="392.00" x2="89.00" y2="392.00" stroke="#222" stroke-width="0.6" />
<line x1="85.00" y1="405.12" x2="89.00" y2="405.12" stroke="#222" stroke-width="0.6" />
<circle cx="55.53" cy="361.29" r="0.85" fill="#111" />
<circle cx="56.39" cy="370.48" r="0.85" fill="#111" />
<circle cx="56.78" cy="377.04" r="0.85" fill="#111" />
<circle cx="57.84" cy="383.08" r="0.85" fill="#111" />
<circle cx="56.38" cy="386.23" r="0.85" fill="#111" />
<circle cx="57.69" cy="387.54" r="0.85" fill="#111" />
<circle cx="51.26" cy="388.85" r="0.85" fill="#111" />
<circle cx="54.40" cy="389.38" r="0.85" fill="#111" />
<circle cx="57.84" cy="390.95" r="0.85" fill="#111" />
<circle cx="55.72" cy="392.53" r="0.85" fill="#111" />
<circle cx="57.54" cy="394.10" r="0.85" fill="#111" />
<circle cx="51.87" cy="396.20" r="0.85" fill="#111" />
<circle cx="54.43" cy="398.83" r="0.85" fill="#111" />
<circle cx="52.83" cy="400.66" r="0.85" fill="#111" />
<circle cx="54.97" cy="403.29" r="0.85" fill="#111" />
<circle cx="65.73" cy="367.85" r="0.85" fill="#111" />
<circle cx="61.69" cy="380.45" r="0.85" fill="#111" />
<circle cx="63.16" cy="382.29" r="0.85" fill="#111" />
<circle cx="63.61" cy="383.60" r="0.85" fill="#111" />
<circle cx="68.20" cy="384.12" r="0.85" fill="#111" />
<circle cx="67.11" cy="386.23" r="0.85" fill="#111" />
<circle cx="62.75" cy="388.85" r="0.85" fill="#111" />
<circle cx="67.34" cy="391.48" r="0.85" fill="#111" />
<circle cx="62.60" cy="394.10" r="0.85" fill="#111" />
<circle cx="66.05" cy="399.35" r="0.85" fill="#111" />
<circle cx="62.51" cy="404.60" r="0.85" fill="#111" />
<circle cx="72.36" cy="376.25" r="0.85" fill="#111" />
<circle cx="78.62" cy="377.83" r="0.85" fill="#111" />
<circle cx="73.86" cy="378.88" r="0.85" fill="#111" />
<circle cx="73.90" cy="380.45" r="0.85" fill="#111" />
<circle cx="79.42" cy="382.29" r="0.85" fill="#111" />
<circle cx="78.63" cy="383.60" r="0.85" fill="#111" />
<circle cx="74.43" cy="386.23" r="0.85" fill="#111" />
<circle cx="79.27" cy="388.85" r="0.85" fill="#111" />
<circle cx="76.23" cy="390.95" r="0.85" fill="#111" />
<circle cx="77.23" cy="395.41" r="0.85" fill="#111" />
<circle cx="73.82" cy="399.88" r="0.85" fill="#111" />
<circle cx="79.13" cy="404.60" r="0.85" fill="#111" />
<circle cx="77.32" cy="408.54" r="0.85" fill="#111" />
<circle cx="90.36" cy="388.85" r="0.85" fill="#111" />
<circle cx="89.83" cy="391.48" r="0.85" fill="#111" />
<circle cx="85.55" cy="392.79" r="0.85" fill="#111" />
<circle cx="86.00" cy="394.62" r="0.85" fill="#111" />
<circle cx="84.59" cy="396.73" r="0.85" fill="#111" />
<circle cx="84.45" cy="399.35" r="0.85" fill="#111" />
<circle cx="83.87" cy="401.98" r="0.85" fill="#111" />
<circle cx="85.57" cy="404.60" r="0.85" fill="#111" />
<circle cx="87.74" cy="406.70" r="0.85" fill="#111" />
<line x1="48.50" y1="348.00" x2="48.50" y2="415.60" stroke="#231f20" stroke-width="1.0" />
<line x1="48.50" y1="415.10" x2="92.60" y2="415.10" stroke="#231f20" stroke-width="1.0" />
<line x1="45.90" y1="415.10" x2="48.50" y2="415.10" stroke="#231f20" stroke-width="0.8" />
<text x="43.30" y="417.52" font-size="6.60" text-anchor="end" fill="#231f20" stroke="#231f20" stroke-width="0.07" textLength="3.24" lengthAdjust="spacingAndGlyphs" >0</text>
<line x1="45.90" y1="401.98" x2="48.50" y2="401.98" stroke="#231f20" stroke-width="0.8" />
<text x="43.30" y="404.39" font-size="6.60" text-anchor="end" fill="#231f20" stroke="#231f20" stroke-width="0.07" textLength="6.47" lengthAdjust="spacingAndGlyphs" >50</text>
<line x1="45.90" y1="388.85" x2="48.50" y2="388.85" stroke="#231f20" stroke-width="0.8" />
<text x="43.30" y="391.27" font-size="6.60" text-anchor="end" fill="#231f20" stroke="#231f20" stroke-width="0.07" textLength="9.71" lengthAdjust="spacingAndGlyphs" >100</text>
<line x1="45.90" y1="375.73" x2="48.50" y2="375.73" stroke="#231f20" stroke-width="0.8" />
<text x="43.30" y="378.14" font-size="6.60" text-anchor="end" fill="#231f20" stroke="#231f20" stroke-width="0.07" textLength="9.71" lengthAdjust="spacingAndGlyphs" >150</text>
<line x1="45.90" y1="362.60" x2="48.50" y2="362.60" stroke="#231f20" stroke-width="0.8" />
<text x="43.30" y="365.02" font-size="6.60" text-anchor="end" fill="#231f20" stroke="#231f20" stroke-width="0.07" textLength="9.71" lengthAdjust="spacingAndGlyphs" >200</text>
<line x1="45.90" y1="349.48" x2="48.50" y2="349.48" stroke="#231f20" stroke-width="0.8" />
<text x="43.30" y="351.89" font-size="6.60" text-anchor="end" fill="#231f20" stroke="#231f20" stroke-width="0.07" textLength="9.71" lengthAdjust="spacingAndGlyphs" >250</text>
<line x1="54.40" y1="415.10" x2="54.40" y2="417.10" stroke="#231f20" stroke-width="0.8" />
<text x="54.40" y="426.02" font-size="6.71" text-anchor="middle" fill="#231f20" stroke="#231f20" stroke-width="0.07" textLength="4.27" lengthAdjust="spacingAndGlyphs" >C</text>
<line x1="65.20" y1="415.10" x2="65.20" y2="417.10" stroke="#231f20" stroke-width="0.8" />
<text x="65.20" y="426.02" font-size="6.71" text-anchor="middle" fill="#231f20" stroke="#231f20" stroke-width="0.07" textLength="4.27" lengthAdjust="spacingAndGlyphs" >H</text>
<line x1="75.90" y1="415.10" x2="75.90" y2="417.10" stroke="#231f20" stroke-width="0.8" />
<text x="75.90" y="426.02" font-size="6.71" text-anchor="middle" fill="#231f20" stroke="#231f20" stroke-width="0.07" textLength="3.95" lengthAdjust="spacingAndGlyphs" >S</text>
<line x1="87.00" y1="415.10" x2="87.00" y2="417.10" stroke="#231f20" stroke-width="0.8" />
<text x="87.00" y="426.02" font-size="6.71" text-anchor="middle" fill="#231f20" stroke="#231f20" stroke-width="0.07" textLength="11.68" lengthAdjust="spacingAndGlyphs" >H+S</text>
<path d="M54.8,362.2 V357.7 H87 V384" fill="none" stroke="#333" stroke-width="0.7" />
<text x="71.20" y="357.62" font-size="6.60" text-anchor="middle" fill="#231f20" stroke="#231f20" stroke-width="0.15" textLength="2.27" lengthAdjust="spacingAndGlyphs" >*</text>
<text x="26.41" y="380.20" font-size="6.49" text-anchor="middle" fill="#231f20" stroke="#231f20" stroke-width="0.14" textLength="66.80" lengthAdjust="spacingAndGlyphs" transform="rotate(-90 26.41 380.20)" >Relative tumor weight (%)</text>
<text x="99.20" y="253.00" font-size="10.50" text-anchor="start" fill="#000" font-weight="bold" textLength="7.92" lengthAdjust="spacingAndGlyphs" >G</text>
<rect x="124.40" y="264.00" width="44.20" height="10.20" fill="#b9b9bb" />
<text x="146.50" y="272.04" font-size="7.48" text-anchor="middle" fill="#ffffff" stroke="#ffffff" stroke-width="0.1" textLength="4.76" lengthAdjust="spacingAndGlyphs" >C</text>
<rect x="170.20" y="264.00" width="44.00" height="10.20" fill="#e4007f" />
<text x="192.20" y="272.04" font-size="7.48" text-anchor="middle" fill="#ffffff" stroke="#ffffff" stroke-width="0.1" textLength="4.76" lengthAdjust="spacingAndGlyphs" >H</text>
<rect x="216.00" y="264.00" width="44.20" height="10.20" fill="#27a9e1" />
<text x="238.10" y="272.04" font-size="7.48" text-anchor="middle" fill="#ffffff" stroke="#ffffff" stroke-width="0.1" textLength="4.40" lengthAdjust="spacingAndGlyphs" >S</text>
<rect x="262.20" y="264.00" width="43.50" height="10.20" fill="#5b1b6d" />
<text x="283.95" y="272.04" font-size="7.48" text-anchor="middle" fill="#ffffff" stroke="#ffffff" stroke-width="0.1" textLength="16.30" lengthAdjust="spacingAndGlyphs" >H+S</text>
<rect x="111.20" y="277.50" width="10.40" height="44.20" fill="#e7e7e9" />
<text x="118.64" y="299.15" font-size="7.26" text-anchor="middle" fill="#111" stroke="#111" stroke-width="0.2" textLength="9.50" lengthAdjust="spacingAndGlyphs" transform="rotate(-90 118.64 299.15)" >HE</text>
<rect x="111.20" y="323.90" width="10.40" height="43.60" fill="#e7e7e9" />
<text x="118.64" y="345.25" font-size="7.26" text-anchor="middle" fill="#111" stroke="#111" stroke-width="0.2" textLength="22.10" lengthAdjust="spacingAndGlyphs" transform="rotate(-90 118.64 345.25)" >MUM-1</text>
<rect x="111.20" y="369.90" width="10.40" height="44.00" fill="#e7e7e9" />
<text x="118.64" y="391.45" font-size="7.26" text-anchor="middle" fill="#111" stroke="#111" stroke-width="0.2" textLength="13.50" lengthAdjust="spacingAndGlyphs" transform="rotate(-90 118.64 391.45)" >Ki67</text>
<clipPath id="t00"><rect x="124.4" y="276.6" width="44.20" height="45.10"/></clipPath>
<g clip-path="url(#t00)">
<rect x="124.40" y="276.60" width="44.20" height="45.10" fill="#d8a6d0" />
<g filter="url(#blur3)">
<ellipse cx="126.61" cy="303.66" rx="5.30" ry="18.04" fill="#c868ac" opacity="0.8"/>
<ellipse cx="133.24" cy="317.19" rx="11.05" ry="6.76" fill="#cc74b0" opacity="0.7"/>
<ellipse cx="163.30" cy="320.35" rx="16.80" ry="8.12" fill="#d8eaf2" opacity="0.95"/>
<ellipse cx="146.50" cy="290.13" rx="15.47" ry="13.53" fill="#e0bada" opacity="0.6"/>
<ellipse cx="157.55" cy="305.92" rx="8.84" ry="5.41" fill="#b88cc0" opacity="0.5"/>
</g>
<rect x="124.4" y="276.6" width="44.20" height="45.10" fill="#7a2a80" filter="url(#noise0)" opacity="0.16"/>
<circle cx="130.8" cy="297.1" r="0.51" fill="#b070b8" opacity="0.4"/>
<circle cx="156.8" cy="296.2" r="0.46" fill="#8a4a9a" opacity="0.45"/>
<circle cx="127.9" cy="297.2" r="0.50" fill="#8a4a9a" opacity="0.45"/>
<circle cx="153.0" cy="285.8" r="0.39" fill="#b070b8" opacity="0.4"/>
<circle cx="158.3" cy="285.8" r="0.34" fill="#b070b8" opacity="0.4"/>
<circle cx="163.9" cy="293.3" r="0.59" fill="#c060a8" opacity="0.4"/>
<circle cx="133.7" cy="319.7" r="0.57" fill="#f0c8e8" opacity="0.5"/>
<circle cx="160.6" cy="283.8" r="0.35" fill="#8a4a9a" opacity="0.45"/>
<circle cx="151.0" cy="283.3" r="0.36" fill="#b070b8" opacity="0.4"/>
<circle cx="161.6" cy="317.8" r="0.59" fill="#b070b8" opacity="0.4"/>
<circle cx="159.7" cy="318.2" r="0.34" fill="#c060a8" opacity="0.4"/>
<circle cx="148.9" cy="320.3" r="0.52" fill="#b070b8" opacity="0.4"/>
<circle cx="158.7" cy="299.5" r="0.51" fill="#f0c8e8" opacity="0.5"/>
<circle cx="139.4" cy="307.3" r="0.60" fill="#f0c8e8" opacity="0.5"/>
<circle cx="142.2" cy="279.4" r="0.57" fill="#8a4a9a" opacity="0.45"/>
<circle cx="153.2" cy="288.0" r="0.53" fill="#c060a8" opacity="0.4"/>
<circle cx="147.1" cy="298.9" r="0.34" fill="#f0c8e8" opacity="0.5"/>
<circle cx="154.3" cy="315.4" r="0.32" fill="#b070b8" opacity="0.4"/>
<circle cx="136.6" cy="308.0" r="0.53" fill="#8a4a9a" opacity="0.45"/>
<circle cx="163.6" cy="316.6" r="0.50" fill="#b070b8" opacity="0.4"/>
<circle cx="157.5" cy="302.2" r="0.44" fill="#f0c8e8" opacity="0.5"/>
<circle cx="154.9" cy="298.0" r="0.52" fill="#8a4a9a" opacity="0.45"/>
<circle cx="133.6" cy="294.2" r="0.42" fill="#8a4a9a" opacity="0.45"/>
<circle cx="155.9" cy="304.5" r="0.58" fill="#c060a8" opacity="0.4"/>
<circle cx="126.1" cy="296.7" r="0.54" fill="#8a4a9a" opacity="0.45"/>
<circle cx="163.0" cy="278.7" r="0.58" fill="#b070b8" opacity="0.4"/>
<circle cx="131.4" cy="278.4" r="0.49" fill="#b070b8" opacity="0.4"/>
<circle cx="129.8" cy="279.6" r="0.31" fill="#c060a8" opacity="0.4"/>
<circle cx="143.2" cy="296.9" r="0.46" fill="#c060a8" opacity="0.4"/>
<circle cx="151.2" cy="315.2" r="0.34" fill="#c060a8" opacity="0.4"/>
<circle cx="133.6" cy="295.2" r="0.59" fill="#f0c8e8" opacity="0.5"/>
<circle cx="142.1" cy="288.3" r="0.36" fill="#8a4a9a" opacity="0.45"/>
<circle cx="168.5" cy="294.2" r="0.30" fill="#f0c8e8" opacity="0.5"/>
<circle cx="159.6" cy="278.3" r="0.60" fill="#8a4a9a" opacity="0.45"/>
<circle cx="149.1" cy="287.1" r="0.50" fill="#8a4a9a" opacity="0.45"/>
<circle cx="134.1" cy="305.6" r="0.56" fill="#8a4a9a" opacity="0.45"/>
<circle cx="160.7" cy="292.5" r="0.31" fill="#c060a8" opacity="0.4"/>
<circle cx="158.5" cy="317.4" r="0.31" fill="#8a4a9a" opacity="0.45"/>
<circle cx="151.7" cy="292.5" r="0.35" fill="#b070b8" opacity="0.4"/>
<circle cx="155.2" cy="307.4" r="0.51" fill="#8a4a9a" opacity="0.45"/>
<circle cx="146.8" cy="284.5" r="0.52" fill="#c060a8" opacity="0.4"/>
<circle cx="133.0" cy="317.6" r="0.32" fill="#f0c8e8" opacity="0.5"/>
<circle cx="144.6" cy="310.3" r="0.48" fill="#c060a8" opacity="0.4"/>
<circle cx="150.2" cy="281.6" r="0.34" fill="#f0c8e8" opacity="0.5"/>
<circle cx="129.3" cy="304.4" r="0.42" fill="#8a4a9a" opacity="0.45"/>
<circle cx="144.7" cy="308.5" r="0.32" fill="#8a4a9a" opacity="0.45"/>
<circle cx="164.5" cy="295.4" r="0.44" fill="#b070b8" opacity="0.4"/>
<circle cx="154.9" cy="289.8" r="0.47" fill="#8a4a9a" opacity="0.45"/>
<circle cx="161.4" cy="283.2" r="0.35" fill="#b070b8" opacity="0.4"/>
<circle cx="166.4" cy="309.8" r="0.51" fill="#c060a8" opacity="0.4"/>
<circle cx="156.6" cy="305.7" r="0.55" fill="#c060a8" opacity="0.4"/>
<circle cx="129.5" cy="317.9" r="0.57" fill="#c060a8" opacity="0.4"/>
<circle cx="136.8" cy="309.9" r="0.37" fill="#f0c8e8" opacity="0.5"/>
<circle cx="164.8" cy="286.7" r="0.46" fill="#8a4a9a" opacity="0.45"/>
<circle cx="129.9" cy="305.1" r="0.52" fill="#8a4a9a" opacity="0.45"/>
<circle cx="139.9" cy="298.1" r="0.31" fill="#c060a8" opacity="0.4"/>
<circle cx="164.3" cy="315.0" r="0.31" fill="#f0c8e8" opacity="0.5"/>
<circle cx="147.6" cy="320.0" r="0.51" fill="#8a4a9a" opacity="0.45"/>
<circle cx="126.1" cy="302.7" r="0.44" fill="#b070b8" opacity="0.4"/>
<circle cx="155.1" cy="281.7" r="0.56" fill="#f0c8e8" opacity="0.5"/>
<circle cx="129.7" cy="290.1" r="0.39" fill="#f0c8e8" opacity="0.5"/>
<circle cx="162.7" cy="296.3" r="0.40" fill="#b070b8" opacity="0.4"/>
<circle cx="131.3" cy="303.5" r="0.58" fill="#b070b8" opacity="0.4"/>
<circle cx="155.9" cy="280.3" r="0.48" fill="#f0c8e8" opacity="0.5"/>
<circle cx="138.3" cy="283.5" r="0.43" fill="#8a4a9a" opacity="0.45"/>
<circle cx="157.8" cy="277.3" r="0.44" fill="#b070b8" opacity="0.4"/>
<circle cx="150.9" cy="306.2" r="0.59" fill="#c060a8" opacity="0.4"/>
<circle cx="124.7" cy="299.0" r="0.60" fill="#c060a8" opacity="0.4"/>
<circle cx="131.3" cy="296.3" r="0.38" fill="#b070b8" opacity="0.4"/>
<circle cx="134.0" cy="289.9" r="0.38" fill="#c060a8" opacity="0.4"/>
<circle cx="125.6" cy="288.6" r="0.32" fill="#b070b8" opacity="0.4"/>
<circle cx="142.8" cy="309.1" r="0.35" fill="#8a4a9a" opacity="0.45"/>
<circle cx="151.6" cy="293.3" r="0.42" fill="#b070b8" opacity="0.4"/>
<circle cx="125.3" cy="314.4" r="0.38" fill="#8a4a9a" opacity="0.45"/>
<circle cx="150.8" cy="278.8" r="0.41" fill="#8a4a9a" opacity="0.45"/>
<circle cx="165.5" cy="288.2" r="0.47" fill="#c060a8" opacity="0.4"/>
<circle cx="156.3" cy="289.6" r="0.41" fill="#c060a8" opacity="0.4"/>
<circle cx="131.4" cy="282.3" r="0.40" fill="#b070b8" opacity="0.4"/>
<circle cx="158.6" cy="304.5" r="0.53" fill="#b070b8" opacity="0.4"/>
<circle cx="157.3" cy="300.5" r="0.32" fill="#b070b8" opacity="0.4"/>
<circle cx="128.0" cy="304.4" r="0.55" fill="#f0c8e8" opacity="0.5"/>
<circle cx="134.1" cy="319.3" r="0.42" fill="#f0c8e8" opacity="0.5"/>
<circle cx="126.4" cy="288.9" r="0.51" fill="#f0c8e8" opacity="0.5"/>
<circle cx="163.8" cy="308.0" r="0.56" fill="#f0c8e8" opacity="0.5"/>
<circle cx="157.4" cy="293.5" r="0.42" fill="#b070b8" opacity="0.4"/>
<circle cx="126.1" cy="320.1" r="0.46" fill="#8a4a9a" opacity="0.45"/>
<circle cx="157.6" cy="308.0" r="0.55" fill="#8a4a9a" opacity="0.45"/>
<circle cx="136.6" cy="295.7" r="0.46" fill="#c060a8" opacity="0.4"/>
<circle cx="157.1" cy="304.8" r="0.45" fill="#8a4a9a" opacity="0.45"/>
<circle cx="152.2" cy="290.6" r="0.33" fill="#8a4a9a" opacity="0.45"/>
<circle cx="146.1" cy="306.1" r="0.46" fill="#b070b8" opacity="0.4"/>
<circle cx="139.4" cy="308.6" r="0.45" fill="#c060a8" opacity="0.4"/>
<circle cx="141.9" cy="320.3" r="0.54" fill="#b070b8" opacity="0.4"/>
<circle cx="143.6" cy="287.8" r="0.43" fill="#8a4a9a" opacity="0.45"/>
<circle cx="167.1" cy="276.7" r="0.30" fill="#c060a8" opacity="0.4"/>
<circle cx="160.7" cy="303.7" r="0.54" fill="#b070b8" opacity="0.4"/>
<circle cx="146.0" cy="308.8" r="0.44" fill="#b070b8" opacity="0.4"/>
<circle cx="133.5" cy="305.6" r="0.30" fill="#c060a8" opacity="0.4"/>
<circle cx="168.0" cy="316.6" r="0.34" fill="#b070b8" opacity="0.4"/>
<circle cx="161.3" cy="311.0" r="0.55" fill="#b070b8" opacity="0.4"/>
<circle cx="161.4" cy="295.1" r="0.46" fill="#f0c8e8" opacity="0.5"/>
<circle cx="141.6" cy="294.1" r="0.33" fill="#c060a8" opacity="0.4"/>
<circle cx="149.6" cy="311.7" r="0.45" fill="#8a4a9a" opacity="0.45"/>
<circle cx="127.0" cy="299.5" r="0.41" fill="#c060a8" opacity="0.4"/>
<circle cx="125.3" cy="280.0" r="0.38" fill="#c060a8" opacity="0.4"/>
<circle cx="147.3" cy="283.9" r="0.58" fill="#c060a8" opacity="0.4"/>
<circle cx="157.7" cy="293.1" r="0.41" fill="#f0c8e8" opacity="0.5"/>
<circle cx="136.7" cy="295.6" r="0.30" fill="#c060a8" opacity="0.4"/>
<circle cx="167.7" cy="278.1" r="0.53" fill="#f0c8e8" opacity="0.5"/>
<circle cx="155.8" cy="306.9" r="0.38" fill="#c060a8" opacity="0.4"/>
<circle cx="130.5" cy="308.3" r="0.39" fill="#f0c8e8" opacity="0.5"/>
<circle cx="127.8" cy="282.1" r="0.56" fill="#c060a8" opacity="0.4"/>
<circle cx="153.7" cy="288.8" r="0.51" fill="#8a4a9a" opacity="0.45"/>
<circle cx="147.7" cy="313.4" r="0.54" fill="#c060a8" opacity="0.4"/>
<circle cx="164.3" cy="317.8" r="0.48" fill="#f0c8e8" opacity="0.5"/>
<circle cx="154.3" cy="285.7" r="0.52" fill="#f0c8e8" opacity="0.5"/>
<circle cx="149.8" cy="300.0" r="0.39" fill="#f0c8e8" opacity="0.5"/>
<circle cx="138.6" cy="290.7" r="0.35" fill="#8a4a9a" opacity="0.45"/>
<circle cx="138.1" cy="296.5" r="0.37" fill="#b070b8" opacity="0.4"/>
<circle cx="139.3" cy="294.5" r="0.34" fill="#c060a8" opacity="0.4"/>
<circle cx="140.0" cy="284.4" r="0.49" fill="#b070b8" opacity="0.4"/>
<circle cx="134.6" cy="321.7" r="0.55" fill="#f0c8e8" opacity="0.5"/>
<circle cx="145.8" cy="321.0" r="0.47" fill="#f0c8e8" opacity="0.5"/>
<circle cx="139.4" cy="312.3" r="0.47" fill="#c060a8" opacity="0.4"/>
<circle cx="145.7" cy="289.4" r="0.52" fill="#c060a8" opacity="0.4"/>
<circle cx="125.6" cy="300.3" r="0.52" fill="#c060a8" opacity="0.4"/>
<circle cx="168.2" cy="291.4" r="0.40" fill="#f0c8e8" opacity="0.5"/>
<circle cx="141.0" cy="282.0" r="0.56" fill="#b070b8" opacity="0.4"/>
<circle cx="129.9" cy="282.0" r="0.35" fill="#c060a8" opacity="0.4"/>
<circle cx="132.0" cy="301.8" r="0.44" fill="#c060a8" opacity="0.4"/>
<circle cx="152.6" cy="290.4" r="0.33" fill="#c060a8" opacity="0.4"/>
<circle cx="146.2" cy="296.5" r="0.46" fill="#f0c8e8" opacity="0.5"/>
<circle cx="149.5" cy="278.6" r="0.32" fill="#b070b8" opacity="0.4"/>
<circle cx="157.2" cy="302.4" r="0.30" fill="#f0c8e8" opacity="0.5"/>
<circle cx="125.9" cy="301.2" r="0.46" fill="#8a4a9a" opacity="0.45"/>
<circle cx="165.3" cy="280.7" r="0.54" fill="#f0c8e8" opacity="0.5"/>
<circle cx="156.4" cy="315.2" r="0.30" fill="#f0c8e8" opacity="0.5"/>
<circle cx="139.4" cy="297.2" r="0.52" fill="#b070b8" opacity="0.4"/>
<circle cx="155.6" cy="295.5" r="0.53" fill="#f0c8e8" opacity="0.5"/>
<circle cx="157.3" cy="299.1" r="0.57" fill="#8a4a9a" opacity="0.45"/>
<circle cx="162.9" cy="297.2" r="0.51" fill="#f0c8e8" opacity="0.5"/>
<circle cx="141.7" cy="301.6" r="0.33" fill="#8a4a9a" opacity="0.45"/>
<circle cx="132.6" cy="294.1" r="0.36" fill="#8a4a9a" opacity="0.45"/>
<circle cx="142.8" cy="317.1" r="0.39" fill="#b070b8" opacity="0.4"/>
<circle cx="127.6" cy="305.0" r="0.47" fill="#8a4a9a" opacity="0.45"/>
<circle cx="159.1" cy="281.1" r="0.49" fill="#f0c8e8" opacity="0.5"/>
<circle cx="157.3" cy="316.1" r="0.56" fill="#8a4a9a" opacity="0.45"/>
<circle cx="155.1" cy="294.7" r="0.53" fill="#f0c8e8" opacity="0.5"/>
<circle cx="164.3" cy="294.7" r="0.37" fill="#f0c8e8" opacity="0.5"/>
<circle cx="139.4" cy="290.2" r="0.32" fill="#b070b8" opacity="0.4"/>
<circle cx="162.6" cy="301.4" r="0.35" fill="#5a2a6a" opacity="0.65"/>
<circle cx="160.9" cy="305.8" r="0.66" fill="#5a2a6a" opacity="0.65"/>
<circle cx="144.6" cy="307.0" r="0.47" fill="#5a2a6a" opacity="0.65"/>
<circle cx="156.1" cy="309.8" r="0.51" fill="#5a2a6a" opacity="0.65"/>
<circle cx="145.9" cy="310.6" r="0.33" fill="#5a2a6a" opacity="0.65"/>
<circle cx="154.7" cy="300.1" r="0.32" fill="#5a2a6a" opacity="0.65"/>
<circle cx="142.0" cy="314.8" r="0.42" fill="#5a2a6a" opacity="0.65"/>
<circle cx="140.0" cy="316.4" r="0.44" fill="#5a2a6a" opacity="0.65"/>
<circle cx="132.1" cy="317.6" r="0.43" fill="#5a2a6a" opacity="0.65"/>
<circle cx="161.0" cy="308.6" r="0.30" fill="#5a2a6a" opacity="0.65"/>
<circle cx="160.8" cy="303.9" r="0.64" fill="#5a2a6a" opacity="0.65"/>
<circle cx="145.9" cy="305.6" r="0.75" fill="#5a2a6a" opacity="0.65"/>
<circle cx="140.4" cy="312.9" r="0.37" fill="#5a2a6a" opacity="0.65"/>
<circle cx="135.9" cy="304.4" r="0.63" fill="#5a2a6a" opacity="0.65"/>
<circle cx="147.1" cy="312.1" r="0.36" fill="#5a2a6a" opacity="0.65"/>
<circle cx="168.0" cy="300.5" r="0.47" fill="#5a2a6a" opacity="0.65"/>
<circle cx="145.4" cy="314.5" r="0.51" fill="#5a2a6a" opacity="0.65"/>
<circle cx="156.0" cy="311.0" r="0.71" fill="#5a2a6a" opacity="0.65"/>
<circle cx="155.7" cy="301.9" r="0.60" fill="#5a2a6a" opacity="0.65"/>
<circle cx="151.6" cy="307.4" r="0.64" fill="#5a2a6a" opacity="0.65"/>
<circle cx="167.1" cy="300.0" r="0.61" fill="#5a2a6a" opacity="0.65"/>
<circle cx="154.8" cy="302.0" r="0.61" fill="#5a2a6a" opacity="0.65"/>
<circle cx="159.5" cy="311.0" r="0.61" fill="#5a2a6a" opacity="0.65"/>
<circle cx="149.7" cy="319.3" r="0.52" fill="#5a2a6a" opacity="0.65"/>
<circle cx="138.5" cy="307.8" r="0.43" fill="#5a2a6a" opacity="0.65"/>
<circle cx="165.9" cy="315.5" r="0.54" fill="#5a2a6a" opacity="0.65"/>
<circle cx="155.8" cy="301.8" r="0.35" fill="#5a2a6a" opacity="0.65"/>
<circle cx="158.5" cy="304.2" r="0.42" fill="#5a2a6a" opacity="0.65"/>
<circle cx="138.2" cy="318.4" r="0.58" fill="#5a2a6a" opacity="0.65"/>
<circle cx="152.8" cy="305.6" r="0.57" fill="#5a2a6a" opacity="0.65"/>
</g>
<rect x="124.40" y="276.60" width="44.20" height="45.10" fill="none" stroke="#b8b8bc" stroke-width="0.6"/>
<clipPath id="t10"><rect x="170.2" y="276.6" width="44.00" height="45.10"/></clipPath>
<g clip-path="url(#t10)">
<rect x="170.20" y="276.60" width="44.00" height="45.10" fill="#d49ed0" />
<g filter="url(#blur3)">
<ellipse cx="187.80" cy="287.88" rx="17.60" ry="13.53" fill="#caa4da" opacity="0.6"/>
<ellipse cx="192.20" cy="301.41" rx="13.20" ry="9.02" fill="#cc8cc8" opacity="0.5"/>
<ellipse cx="212.88" cy="320.35" rx="5.28" ry="4.51" fill="#d8e8f0" opacity="0.9"/>
</g>
<rect x="170.2" y="276.6" width="44.00" height="45.10" fill="#7a2a80" filter="url(#noise0)" opacity="0.16"/>
<circle cx="211.3" cy="294.1" r="0.42" fill="#b070b8" opacity="0.4"/>
<circle cx="201.6" cy="305.4" r="0.46" fill="#8a4a9a" opacity="0.45"/>
<circle cx="192.3" cy="310.2" r="0.54" fill="#8a4a9a" opacity="0.45"/>
<circle cx="210.3" cy="283.4" r="0.46" fill="#8a4a9a" opacity="0.45"/>
<circle cx="188.9" cy="303.2" r="0.38" fill="#b070b8" opacity="0.4"/>
<circle cx="186.2" cy="299.5" r="0.58" fill="#c060a8" opacity="0.4"/>
<circle cx="204.4" cy="297.3" r="0.36" fill="#b070b8" opacity="0.4"/>
<circle cx="188.3" cy="286.9" r="0.37" fill="#c060a8" opacity="0.4"/>
<circle cx="173.9" cy="291.5" r="0.35" fill="#b070b8" opacity="0.4"/>
<circle cx="176.4" cy="313.7" r="0.57" fill="#f0c8e8" opacity="0.5"/>
<circle cx="170.4" cy="288.7" r="0.30" fill="#b070b8" opacity="0.4"/>
<circle cx="187.9" cy="286.1" r="0.40" fill="#c060a8" opacity="0.4"/>
<circle cx="202.2" cy="319.1" r="0.31" fill="#f0c8e8" opacity="0.5"/>
<circle cx="211.7" cy="295.9" r="0.40" fill="#8a4a9a" opacity="0.45"/>
<circle cx="174.2" cy="321.3" r="0.46" fill="#c060a8" opacity="0.4"/>
<circle cx="211.9" cy="284.8" r="0.31" fill="#8a4a9a" opacity="0.45"/>
<circle cx="171.0" cy="312.4" r="0.50" fill="#b070b8" opacity="0.4"/>
<circle cx="175.3" cy="307.4" r="0.55" fill="#f0c8e8" opacity="0.5"/>
<circle cx="192.9" cy="314.8" r="0.30" fill="#8a4a9a" opacity="0.45"/>
<circle cx="202.3" cy="309.1" r="0.40" fill="#8a4a9a" opacity="0.45"/>
<circle cx="194.5" cy="280.3" r="0.50" fill="#8a4a9a" opacity="0.45"/>
<circle cx="170.5" cy="279.8" r="0.36" fill="#f0c8e8" opacity="0.5"/>
<circle cx="213.9" cy="294.5" r="0.49" fill="#f0c8e8" opacity="0.5"/>
<circle cx="181.1" cy="288.9" r="0.46" fill="#b070b8" opacity="0.4"/>
<circle cx="210.5" cy="318.5" r="0.49" fill="#c060a8" opacity="0.4"/>
<circle cx="202.8" cy="289.7" r="0.37" fill="#b070b8" opacity="0.4"/>
<circle cx="192.9" cy="297.1" r="0.31" fill="#8a4a9a" opacity="0.45"/>
<circle cx="176.1" cy="294.9" r="0.31" fill="#c060a8" opacity="0.4"/>
<circle cx="201.3" cy="308.5" r="0.42" fill="#b070b8" opacity="0.4"/>
<circle cx="178.7" cy="311.8" r="0.48" fill="#b070b8" opacity="0.4"/>
<circle cx="176.2" cy="279.1" r="0.32" fill="#b070b8" opacity="0.4"/>
<circle cx="188.4" cy="280.6" r="0.33" fill="#8a4a9a" opacity="0.45"/>
<circle cx="204.2" cy="317.4" r="0.42" fill="#b070b8" opacity="0.4"/>
<circle cx="195.9" cy="287.5" r="0.49" fill="#b070b8" opacity="0.4"/>
<circle cx="200.2" cy="311.5" r="0.42" fill="#b070b8" opacity="0.4"/>
<circle cx="185.5" cy="317.6" r="0.48" fill="#b070b8" opacity="0.4"/>
<circle cx="212.2" cy="282.6" r="0.57" fill="#b070b8" opacity="0.4"/>
<circle cx="195.0" cy="316.0" r="0.47" fill="#b070b8" opacity="0.4"/>
<circle cx="197.3" cy="288.5" r="0.30" fill="#f0c8e8" opacity="0.5"/>
<circle cx="184.2" cy="300.0" r="0.58" fill="#f0c8e8" opacity="0.5"/>
<circle cx="184.6" cy="279.1" r="0.60" fill="#c060a8" opacity="0.4"/>
<circle cx="177.1" cy="287.9" r="0.55" fill="#c060a8" opacity="0.4"/>
<circle cx="209.7" cy="299.1" r="0.41" fill="#8a4a9a" opacity="0.45"/>
<circle cx="171.7" cy="291.5" r="0.37" fill="#b070b8" opacity="0.4"/>
<circle cx="186.1" cy="298.1" r="0.59" fill="#8a4a9a" opacity="0.45"/>
<circle cx="207.6" cy="313.6" r="0.52" fill="#b070b8" opacity="0.4"/>
<circle cx="201.3" cy="283.9" r="0.33" fill="#b070b8" opacity="0.4"/>
<circle cx="190.3" cy="319.9" r="0.55" fill="#b070b8" opacity="0.4"/>
<circle cx="174.4" cy="314.6" r="0.59" fill="#c060a8" opacity="0.4"/>
<circle cx="189.6" cy="316.0" r="0.38" fill="#8a4a9a" opacity="0.45"/>
<circle cx="209.9" cy="303.1" r="0.55" fill="#c060a8" opacity="0.4"/>
<circle cx="195.7" cy="300.0" r="0.54" fill="#8a4a9a" opacity="0.45"/>
<circle cx="200.7" cy="299.7" r="0.39" fill="#8a4a9a" opacity="0.45"/>
<circle cx="208.8" cy="285.6" r="0.57" fill="#f0c8e8" opacity="0.5"/>
<circle cx="203.8" cy="294.3" r="0.43" fill="#f0c8e8" opacity="0.5"/>
<circle cx="196.1" cy="295.7" r="0.53" fill="#c060a8" opacity="0.4"/>
<circle cx="200.6" cy="290.7" r="0.45" fill="#b070b8" opacity="0.4"/>
<circle cx="175.2" cy="319.0" r="0.35" fill="#8a4a9a" opacity="0.45"/>
<circle cx="190.9" cy="309.9" r="0.35" fill="#8a4a9a" opacity="0.45"/>
<circle cx="204.3" cy="306.3" r="0.37" fill="#8a4a9a" opacity="0.45"/>
<circle cx="189.8" cy="283.0" r="0.42" fill="#c060a8" opacity="0.4"/>
<circle cx="186.9" cy="293.7" r="0.49" fill="#8a4a9a" opacity="0.45"/>
<circle cx="177.3" cy="282.7" r="0.41" fill="#b070b8" opacity="0.4"/>
<circle cx="209.5" cy="306.6" r="0.48" fill="#b070b8" opacity="0.4"/>
<circle cx="205.4" cy="277.0" r="0.32" fill="#f0c8e8" opacity="0.5"/>
<circle cx="197.6" cy="297.0" r="0.58" fill="#8a4a9a" opacity="0.45"/>
<circle cx="170.4" cy="318.4" r="0.41" fill="#b070b8" opacity="0.4"/>
<circle cx="174.0" cy="303.0" r="0.49" fill="#8a4a9a" opacity="0.45"/>
<circle cx="212.3" cy="305.3" r="0.43" fill="#8a4a9a" opacity="0.45"/>
<circle cx="182.4" cy="295.5" r="0.54" fill="#f0c8e8" opacity="0.5"/>
<circle cx="201.2" cy="282.7" r="0.58" fill="#c060a8" opacity="0.4"/>
<circle cx="199.3" cy="318.4" r="0.33" fill="#b070b8" opacity="0.4"/>
<circle cx="193.6" cy="280.6" r="0.53" fill="#8a4a9a" opacity="0.45"/>
<circle cx="208.3" cy="317.3" r="0.44" fill="#b070b8" opacity="0.4"/>
<circle cx="173.7" cy="304.9" r="0.54" fill="#b070b8" opacity="0.4"/>
<circle cx="208.7" cy="307.1" r="0.43" fill="#b070b8" opacity="0.4"/>
<circle cx="175.2" cy="284.7" r="0.41" fill="#8a4a9a" opacity="0.45"/>
<circle cx="211.2" cy="284.0" r="0.41" fill="#c060a8" opacity="0.4"/>
<circle cx="184.8" cy="282.0" r="0.38" fill="#8a4a9a" opacity="0.45"/>
<circle cx="209.3" cy="281.1" r="0.30" fill="#8a4a9a" opacity="0.45"/>
<circle cx="197.1" cy="317.9" r="0.51" fill="#8a4a9a" opacity="0.45"/>
<circle cx="201.2" cy="288.3" r="0.33" fill="#8a4a9a" opacity="0.45"/>
<circle cx="210.3" cy="315.2" r="0.45" fill="#8a4a9a" opacity="0.45"/>
<circle cx="204.3" cy="297.9" r="0.59" fill="#f0c8e8" opacity="0.5"/>
<circle cx="210.9" cy="298.4" r="0.52" fill="#b070b8" opacity="0.4"/>
<circle cx="174.3" cy="320.8" r="0.46" fill="#c060a8" opacity="0.4"/>
<circle cx="200.9" cy="286.2" r="0.32" fill="#c060a8" opacity="0.4"/>
<circle cx="198.6" cy="313.2" r="0.55" fill="#c060a8" opacity="0.4"/>
<circle cx="189.0" cy="310.5" r="0.37" fill="#c060a8" opacity="0.4"/>
<circle cx="190.1" cy="317.6" r="0.40" fill="#8a4a9a" opacity="0.45"/>
<circle cx="178.5" cy="294.2" r="0.37" fill="#c060a8" opacity="0.4"/>
<circle cx="182.9" cy="281.1" r="0.47" fill="#b070b8" opacity="0.4"/>
<circle cx="186.1" cy="304.3" r="0.59" fill="#f0c8e8" opacity="0.5"/>
<circle cx="208.7" cy="301.2" r="0.58" fill="#c060a8" opacity="0.4"/>
<circle cx="188.6" cy="320.4" r="0.46" fill="#b070b8" opacity="0.4"/>
<circle cx="170.4" cy="305.1" r="0.34" fill="#8a4a9a" opacity="0.45"/>
<circle cx="211.8" cy="308.8" r="0.46" fill="#c060a8" opacity="0.4"/>
<circle cx="184.3" cy="303.1" r="0.45" fill="#8a4a9a" opacity="0.45"/>
<circle cx="206.0" cy="302.4" r="0.51" fill="#8a4a9a" opacity="0.45"/>
<circle cx="200.1" cy="321.6" r="0.37" fill="#c060a8" opacity="0.4"/>
<circle cx="187.1" cy="299.9" r="0.48" fill="#c060a8" opacity="0.4"/>
<circle cx="191.2" cy="288.2" r="0.58" fill="#b070b8" opacity="0.4"/>
<circle cx="190.9" cy="277.1" r="0.51" fill="#8a4a9a" opacity="0.45"/>
<circle cx="208.5" cy="302.6" r="0.33" fill="#c060a8" opacity="0.4"/>
<circle cx="185.1" cy="277.7" r="0.57" fill="#c060a8" opacity="0.4"/>
<circle cx="194.7" cy="318.8" r="0.57" fill="#b070b8" opacity="0.4"/>
<circle cx="194.4" cy="286.3" r="0.58" fill="#b070b8" opacity="0.4"/>
<circle cx="183.3" cy="310.0" r="0.60" fill="#c060a8" opacity="0.4"/>
<circle cx="210.7" cy="296.4" r="0.31" fill="#b070b8" opacity="0.4"/>
<circle cx="197.3" cy="320.3" r="0.54" fill="#b070b8" opacity="0.4"/>
<circle cx="180.7" cy="295.1" r="0.44" fill="#f0c8e8" opacity="0.5"/>
<circle cx="206.3" cy="295.9" r="0.47" fill="#8a4a9a" opacity="0.45"/>
<circle cx="174.2" cy="280.8" r="0.33" fill="#8a4a9a" opacity="0.45"/>
<circle cx="196.6" cy="290.6" r="0.59" fill="#f0c8e8" opacity="0.5"/>
<circle cx="207.3" cy="279.1" r="0.45" fill="#f0c8e8" opacity="0.5"/>
<circle cx="211.6" cy="310.3" r="0.58" fill="#8a4a9a" opacity="0.45"/>
<circle cx="173.4" cy="281.3" r="0.57" fill="#c060a8" opacity="0.4"/>
<circle cx="199.5" cy="316.3" r="0.48" fill="#f0c8e8" opacity="0.5"/>
<circle cx="192.8" cy="314.1" r="0.34" fill="#c060a8" opacity="0.4"/>
<circle cx="191.0" cy="321.4" r="0.54" fill="#c060a8" opacity="0.4"/>
<circle cx="172.8" cy="315.9" r="0.44" fill="#b070b8" opacity="0.4"/>
<circle cx="208.9" cy="321.5" r="0.53" fill="#f0c8e8" opacity="0.5"/>
<circle cx="187.3" cy="312.8" r="0.49" fill="#c060a8" opacity="0.4"/>
<circle cx="179.3" cy="276.8" r="0.60" fill="#f0c8e8" opacity="0.5"/>
<circle cx="170.8" cy="318.4" r="0.45" fill="#f0c8e8" opacity="0.5"/>
<circle cx="195.6" cy="296.9" r="0.32" fill="#b070b8" opacity="0.4"/>
<circle cx="202.7" cy="278.9" r="0.58" fill="#f0c8e8" opacity="0.5"/>
<circle cx="214.0" cy="287.0" r="0.55" fill="#c060a8" opacity="0.4"/>
<circle cx="174.7" cy="305.1" r="0.36" fill="#8a4a9a" opacity="0.45"/>
<circle cx="179.6" cy="284.9" r="0.36" fill="#b070b8" opacity="0.4"/>
<circle cx="173.9" cy="298.5" r="0.57" fill="#c060a8" opacity="0.4"/>
<circle cx="199.9" cy="309.9" r="0.46" fill="#8a4a9a" opacity="0.45"/>
<circle cx="189.9" cy="302.5" r="0.37" fill="#c060a8" opacity="0.4"/>
<circle cx="172.5" cy="316.7" r="0.35" fill="#f0c8e8" opacity="0.5"/>
<circle cx="180.2" cy="286.2" r="0.50" fill="#8a4a9a" opacity="0.45"/>
<circle cx="191.8" cy="278.3" r="0.31" fill="#8a4a9a" opacity="0.45"/>
<circle cx="177.3" cy="295.5" r="0.49" fill="#f0c8e8" opacity="0.5"/>
<circle cx="207.5" cy="317.6" r="0.53" fill="#8a4a9a" opacity="0.45"/>
<circle cx="202.2" cy="307.0" r="0.56" fill="#8a4a9a" opacity="0.45"/>
<circle cx="209.3" cy="310.4" r="0.55" fill="#b070b8" opacity="0.4"/>
<circle cx="205.9" cy="315.6" r="0.47" fill="#c060a8" opacity="0.4"/>
<circle cx="212.3" cy="297.0" r="0.44" fill="#8a4a9a" opacity="0.45"/>
<circle cx="180.6" cy="284.7" r="0.59" fill="#f0c8e8" opacity="0.5"/>
<circle cx="171.0" cy="305.5" r="0.42" fill="#f0c8e8" opacity="0.5"/>
<circle cx="182.9" cy="300.3" r="0.48" fill="#c060a8" opacity="0.4"/>
<circle cx="185.4" cy="306.2" r="0.51" fill="#f0c8e8" opacity="0.5"/>
<circle cx="180.2" cy="286.0" r="0.37" fill="#b070b8" opacity="0.4"/>
<circle cx="175.2" cy="296.6" r="0.38" fill="#c060a8" opacity="0.4"/>
<circle cx="210.9" cy="319.2" r="0.43" fill="#f0c8e8" opacity="0.5"/>
<circle cx="183.2" cy="301.7" r="0.55" fill="#f0c8e8" opacity="0.5"/>
<circle cx="175.3" cy="313.9" r="0.38" fill="#b070b8" opacity="0.4"/>
<circle cx="176.1" cy="307.4" r="0.45" fill="#c060a8" opacity="0.4"/>
<circle cx="190.9" cy="300.1" r="0.51" fill="#c060a8" opacity="0.4"/>
<circle cx="185.0" cy="305.3" r="0.31" fill="#c060a8" opacity="0.4"/>
<circle cx="211.2" cy="321.4" r="0.42" fill="#c060a8" opacity="0.4"/>
<circle cx="185.1" cy="303.2" r="0.37" fill="#f0c8e8" opacity="0.5"/>
<circle cx="210.3" cy="307.7" r="0.36" fill="#c060a8" opacity="0.4"/>
<circle cx="175.7" cy="320.3" r="0.59" fill="#c060a8" opacity="0.4"/>
<circle cx="184.0" cy="307.6" r="0.54" fill="#b070b8" opacity="0.4"/>
<circle cx="211.0" cy="298.1" r="0.35" fill="#c060a8" opacity="0.4"/>
</g>
<rect x="170.20" y="276.60" width="44.00" height="45.10" fill="none" stroke="#b8b8bc" stroke-width="0.6"/>
<clipPath id="t20"><rect x="216.0" y="276.6" width="44.20" height="45.10"/></clipPath>
<g clip-path="url(#t20)">
<rect x="216.00" y="276.60" width="44.20" height="45.10" fill="#e29ac8" />
<g filter="url(#blur3)">
<ellipse cx="229.26" cy="283.37" rx="6.63" ry="4.51" fill="#f2d4ea" opacity="0.8"/>
<ellipse cx="224.84" cy="290.13" rx="2.65" ry="8.12" fill="#f0d0e8" opacity="0.7"/>
<ellipse cx="257.99" cy="299.15" rx="2.21" ry="13.53" fill="#b070a8" opacity="0.5"/>
<ellipse cx="242.52" cy="303.66" rx="13.26" ry="13.53" fill="#e890c0" opacity="0.5"/>
</g>
<rect x="216.0" y="276.6" width="44.20" height="45.10" fill="#8a2a70" filter="url(#noise0)" opacity="0.15"/>
<circle cx="238.8" cy="285.1" r="0.33" fill="#c060a8" opacity="0.4"/>
<circle cx="251.0" cy="286.7" r="0.52" fill="#f0c8e8" opacity="0.5"/>
<circle cx="232.6" cy="283.9" r="0.51" fill="#8a4a9a" opacity="0.45"/>
<circle cx="230.0" cy="282.4" r="0.39" fill="#f0c8e8" opacity="0.5"/>
<circle cx="224.4" cy="317.6" r="0.43" fill="#8a4a9a" opacity="0.45"/>
<circle cx="258.4" cy="285.6" r="0.33" fill="#8a4a9a" opacity="0.45"/>
<circle cx="254.3" cy="296.8" r="0.42" fill="#c060a8" opacity="0.4"/>
<circle cx="255.7" cy="303.8" r="0.55" fill="#c060a8" opacity="0.4"/>
<circle cx="258.3" cy="313.1" r="0.33" fill="#c060a8" opacity="0.4"/>
<circle cx="217.3" cy="292.7" r="0.52" fill="#f0c8e8" opacity="0.5"/>
<circle cx="247.5" cy="286.2" r="0.43" fill="#c060a8" opacity="0.4"/>
<circle cx="241.5" cy="298.3" r="0.40" fill="#f0c8e8" opacity="0.5"/>
<circle cx="234.8" cy="289.3" r="0.38" fill="#c060a8" opacity="0.4"/>
<circle cx="254.3" cy="299.5" r="0.57" fill="#8a4a9a" opacity="0.45"/>
<circle cx="240.4" cy="301.0" r="0.40" fill="#b070b8" opacity="0.4"/>
<circle cx="259.5" cy="311.6" r="0.35" fill="#f0c8e8" opacity="0.5"/>
<circle cx="253.4" cy="318.2" r="0.30" fill="#8a4a9a" opacity="0.45"/>
<circle cx="230.9" cy="303.4" r="0.34" fill="#b070b8" opacity="0.4"/>
<circle cx="244.5" cy="279.1" r="0.57" fill="#b070b8" opacity="0.4"/>
<circle cx="259.1" cy="297.7" r="0.48" fill="#8a4a9a" opacity="0.45"/>
<circle cx="224.8" cy="301.2" r="0.37" fill="#f0c8e8" opacity="0.5"/>
<circle cx="252.6" cy="285.9" r="0.40" fill="#b070b8" opacity="0.4"/>
<circle cx="224.0" cy="310.1" r="0.43" fill="#8a4a9a" opacity="0.45"/>
<circle cx="224.2" cy="283.9" r="0.55" fill="#c060a8" opacity="0.4"/>
<circle cx="246.3" cy="307.3" r="0.44" fill="#c060a8" opacity="0.4"/>
<circle cx="226.3" cy="310.3" r="0.45" fill="#8a4a9a" opacity="0.45"/>
<circle cx="219.6" cy="307.2" r="0.50" fill="#c060a8" opacity="0.4"/>
<circle cx="247.9" cy="320.4" r="0.49" fill="#f0c8e8" opacity="0.5"/>
<circle cx="221.6" cy="319.8" r="0.35" fill="#8a4a9a" opacity="0.45"/>
<circle cx="216.3" cy="300.7" r="0.53" fill="#8a4a9a" opacity="0.45"/>
<circle cx="252.2" cy="286.7" r="0.50" fill="#f0c8e8" opacity="0.5"/>
<circle cx="219.9" cy="283.5" r="0.38" fill="#c060a8" opacity="0.4"/>
<circle cx="235.5" cy="299.5" r="0.48" fill="#f0c8e8" opacity="0.5"/>
<circle cx="229.3" cy="313.3" r="0.37" fill="#f0c8e8" opacity="0.5"/>
<circle cx="221.0" cy="291.5" r="0.49" fill="#f0c8e8" opacity="0.5"/>
<circle cx="228.1" cy="301.1" r="0.37" fill="#f0c8e8" opacity="0.5"/>
<circle cx="229.7" cy="296.0" r="0.55" fill="#b070b8" opacity="0.4"/>
<circle cx="240.8" cy="304.1" r="0.54" fill="#8a4a9a" opacity="0.45"/>
<circle cx="250.2" cy="285.2" r="0.55" fill="#8a4a9a" opacity="0.45"/>
<circle cx="222.2" cy="316.4" r="0.38" fill="#8a4a9a" opacity="0.45"/>
<circle cx="257.9" cy="295.7" r="0.53" fill="#b070b8" opacity="0.4"/>
<circle cx="234.8" cy="301.8" r="0.59" fill="#c060a8" opacity="0.4"/>
<circle cx="233.5" cy="321.1" r="0.51" fill="#8a4a9a" opacity="0.45"/>
<circle cx="219.2" cy="321.2" r="0.38" fill="#b070b8" opacity="0.4"/>
<circle cx="247.7" cy="278.3" r="0.51" fill="#c060a8" opacity="0.4"/>
<circle cx="243.8" cy="295.2" r="0.33" fill="#8a4a9a" opacity="0.45"/>
<circle cx="241.7" cy="289.6" r="0.53" fill="#c060a8" opacity="0.4"/>
<circle cx="220.4" cy="294.0" r="0.30" fill="#b070b8" opacity="0.4"/>
<circle cx="237.3" cy="321.3" r="0.54" fill="#b070b8" opacity="0.4"/>
<circle cx="223.3" cy="321.1" r="0.30" fill="#f0c8e8" opacity="0.5"/>
<circle cx="259.6" cy="309.2" r="0.32" fill="#b070b8" opacity="0.4"/>
<circle cx="257.4" cy="294.0" r="0.45" fill="#f0c8e8" opacity="0.5"/>
<circle cx="246.7" cy="317.6" r="0.40" fill="#b070b8" opacity="0.4"/>
<circle cx="238.3" cy="314.5" r="0.36" fill="#c060a8" opacity="0.4"/>
<circle cx="240.6" cy="319.7" r="0.33" fill="#b070b8" opacity="0.4"/>
<circle cx="254.4" cy="318.8" r="0.36" fill="#8a4a9a" opacity="0.45"/>
<circle cx="223.3" cy="312.4" r="0.43" fill="#b070b8" opacity="0.4"/>
<circle cx="235.6" cy="289.0" r="0.52" fill="#c060a8" opacity="0.4"/>
<circle cx="243.3" cy="282.6" r="0.59" fill="#b070b8" opacity="0.4"/>
<circle cx="254.5" cy="315.1" r="0.46" fill="#f0c8e8" opacity="0.5"/>
<circle cx="232.0" cy="308.0" r="0.37" fill="#c060a8" opacity="0.4"/>
<circle cx="217.8" cy="295.2" r="0.32" fill="#b070b8" opacity="0.4"/>
<circle cx="244.3" cy="288.3" r="0.42" fill="#8a4a9a" opacity="0.45"/>
<circle cx="252.6" cy="283.9" r="0.58" fill="#c060a8" opacity="0.4"/>
<circle cx="237.7" cy="291.8" r="0.55" fill="#8a4a9a" opacity="0.45"/>
<circle cx="248.0" cy="297.3" r="0.39" fill="#c060a8" opacity="0.4"/>
<circle cx="233.0" cy="296.6" r="0.37" fill="#f0c8e8" opacity="0.5"/>
<circle cx="219.6" cy="281.5" r="0.49" fill="#f0c8e8" opacity="0.5"/>
<circle cx="229.4" cy="303.0" r="0.35" fill="#8a4a9a" opacity="0.45"/>
<circle cx="258.1" cy="301.9" r="0.58" fill="#8a4a9a" opacity="0.45"/>
<circle cx="252.3" cy="303.6" r="0.38" fill="#c060a8" opacity="0.4"/>
<circle cx="228.1" cy="299.8" r="0.59" fill="#f0c8e8" opacity="0.5"/>
<circle cx="235.1" cy="306.6" r="0.45" fill="#f0c8e8" opacity="0.5"/>
<circle cx="253.7" cy="280.6" r="0.58" fill="#c060a8" opacity="0.4"/>
<circle cx="256.8" cy="298.4" r="0.52" fill="#f0c8e8" opacity="0.5"/>
<circle cx="236.2" cy="304.7" r="0.58" fill="#8a4a9a" opacity="0.45"/>
<circle cx="221.4" cy="312.4" r="0.37" fill="#f0c8e8" opacity="0.5"/>
<circle cx="222.8" cy="317.1" r="0.56" fill="#b070b8" opacity="0.4"/>
<circle cx="220.2" cy="309.7" r="0.58" fill="#f0c8e8" opacity="0.5"/>
<circle cx="236.2" cy="315.4" r="0.34" fill="#8a4a9a" opacity="0.45"/>
<circle cx="245.7" cy="297.6" r="0.58" fill="#f0c8e8" opacity="0.5"/>
<circle cx="240.7" cy="296.5" r="0.32" fill="#8a4a9a" opacity="0.45"/>
<circle cx="229.3" cy="281.2" r="0.31" fill="#f0c8e8" opacity="0.5"/>
<circle cx="240.2" cy="300.3" r="0.46" fill="#f0c8e8" opacity="0.5"/>
<circle cx="222.7" cy="287.8" r="0.58" fill="#c060a8" opacity="0.4"/>
<circle cx="232.8" cy="297.3" r="0.41" fill="#b070b8" opacity="0.4"/>
<circle cx="224.8" cy="292.3" r="0.46" fill="#8a4a9a" opacity="0.45"/>
<circle cx="242.4" cy="316.6" r="0.60" fill="#b070b8" opacity="0.4"/>
<circle cx="248.8" cy="297.0" r="0.57" fill="#8a4a9a" opacity="0.45"/>
<circle cx="258.4" cy="321.3" r="0.40" fill="#f0c8e8" opacity="0.5"/>
<circle cx="248.7" cy="301.2" r="0.32" fill="#8a4a9a" opacity="0.45"/>
<circle cx="222.4" cy="312.6" r="0.30" fill="#b070b8" opacity="0.4"/>
<circle cx="246.3" cy="280.5" r="0.37" fill="#8a4a9a" opacity="0.45"/>
<circle cx="242.5" cy="299.8" r="0.31" fill="#8a4a9a" opacity="0.45"/>
<circle cx="248.7" cy="290.6" r="0.32" fill="#c060a8" opacity="0.4"/>
<circle cx="233.7" cy="283.4" r="0.59" fill="#f0c8e8" opacity="0.5"/>
<circle cx="237.9" cy="292.7" r="0.41" fill="#8a4a9a" opacity="0.45"/>
<circle cx="231.6" cy="282.6" r="0.39" fill="#f0c8e8" opacity="0.5"/>
<circle cx="258.0" cy="290.7" r="0.48" fill="#f0c8e8" opacity="0.5"/>
<circle cx="251.4" cy="308.6" r="0.34" fill="#8a4a9a" opacity="0.45"/>
<circle cx="224.9" cy="319.2" r="0.57" fill="#8a4a9a" opacity="0.45"/>
<circle cx="246.8" cy="320.3" r="0.36" fill="#8a4a9a" opacity="0.45"/>
<circle cx="235.2" cy="282.5" r="0.33" fill="#f0c8e8" opacity="0.5"/>
<circle cx="240.9" cy="290.7" r="0.60" fill="#8a4a9a" opacity="0.45"/>
<circle cx="234.3" cy="285.4" r="0.58" fill="#8a4a9a" opacity="0.45"/>
<circle cx="240.4" cy="314.9" r="0.44" fill="#b070b8" opacity="0.4"/>
<circle cx="259.6" cy="286.1" r="0.35" fill="#c060a8" opacity="0.4"/>
<circle cx="222.1" cy="289.2" r="0.56" fill="#b070b8" opacity="0.4"/>
<circle cx="245.2" cy="290.9" r="0.47" fill="#c060a8" opacity="0.4"/>
<circle cx="223.7" cy="299.5" r="0.57" fill="#b070b8" opacity="0.4"/>
<circle cx="239.1" cy="302.7" r="0.32" fill="#c060a8" opacity="0.4"/>
<circle cx="225.3" cy="308.4" r="0.37" fill="#c060a8" opacity="0.4"/>
<circle cx="234.3" cy="305.4" r="0.51" fill="#b070b8" opacity="0.4"/>
<circle cx="235.3" cy="301.1" r="0.32" fill="#c060a8" opacity="0.4"/>
<circle cx="224.0" cy="318.3" r="0.56" fill="#c060a8" opacity="0.4"/>
<circle cx="216.5" cy="295.2" r="0.31" fill="#8a4a9a" opacity="0.45"/>
<circle cx="237.4" cy="299.1" r="0.36" fill="#8a4a9a" opacity="0.45"/>
<circle cx="252.4" cy="296.4" r="0.40" fill="#8a4a9a" opacity="0.45"/>
<circle cx="234.6" cy="304.0" r="0.38" fill="#8a4a9a" opacity="0.45"/>
<circle cx="222.3" cy="296.4" r="0.46" fill="#8a4a9a" opacity="0.45"/>
<circle cx="253.3" cy="319.4" r="0.38" fill="#8a4a9a" opacity="0.45"/>
<circle cx="255.1" cy="301.2" r="0.48" fill="#f0c8e8" opacity="0.5"/>
<circle cx="218.0" cy="315.5" r="0.56" fill="#b070b8" opacity="0.4"/>
<circle cx="229.1" cy="282.4" r="0.40" fill="#8a4a9a" opacity="0.45"/>
<circle cx="224.9" cy="307.8" r="0.40" fill="#f0c8e8" opacity="0.5"/>
<circle cx="254.6" cy="298.8" r="0.35" fill="#8a4a9a" opacity="0.45"/>
<circle cx="259.1" cy="289.0" r="0.31" fill="#f0c8e8" opacity="0.5"/>
<circle cx="242.9" cy="296.5" r="0.60" fill="#c060a8" opacity="0.4"/>
<circle cx="250.3" cy="286.7" r="0.31" fill="#f0c8e8" opacity="0.5"/>
<circle cx="225.1" cy="296.4" r="0.44" fill="#c060a8" opacity="0.4"/>
<circle cx="227.6" cy="314.7" r="0.30" fill="#c060a8" opacity="0.4"/>
<circle cx="225.6" cy="299.4" r="0.37" fill="#8a4a9a" opacity="0.45"/>
<circle cx="252.3" cy="306.7" r="0.30" fill="#b070b8" opacity="0.4"/>
<circle cx="219.5" cy="289.2" r="0.31" fill="#f0c8e8" opacity="0.5"/>
<circle cx="226.4" cy="292.8" r="0.48" fill="#b070b8" opacity="0.4"/>
<circle cx="243.7" cy="279.0" r="0.40" fill="#c060a8" opacity="0.4"/>
<circle cx="239.1" cy="294.0" r="0.59" fill="#b070b8" opacity="0.4"/>
<circle cx="258.1" cy="312.0" r="0.54" fill="#f0c8e8" opacity="0.5"/>
<circle cx="238.8" cy="291.3" r="0.44" fill="#f0c8e8" opacity="0.5"/>
<circle cx="257.0" cy="304.9" r="0.49" fill="#8a4a9a" opacity="0.45"/>
<circle cx="217.9" cy="280.3" r="0.45" fill="#4a2a5a" opacity="0.6"/>
<circle cx="221.4" cy="281.9" r="0.77" fill="#4a2a5a" opacity="0.6"/>
<circle cx="216.8" cy="277.8" r="0.59" fill="#4a2a5a" opacity="0.6"/>
<circle cx="228.6" cy="282.0" r="0.80" fill="#4a2a5a" opacity="0.6"/>
<circle cx="227.9" cy="283.2" r="0.52" fill="#4a2a5a" opacity="0.6"/>
</g>
<rect x="216.00" y="276.60" width="44.20" height="45.10" fill="none" stroke="#b8b8bc" stroke-width="0.6"/>
<clipPath id="t30"><rect x="262.2" y="276.6" width="43.50" height="45.10"/></clipPath>
<g clip-path="url(#t30)">
<rect x="262.20" y="276.60" width="43.50" height="45.10" fill="#ecc0dc" />
<g filter="url(#blur3)">
<ellipse cx="279.60" cy="292.38" rx="8.70" ry="9.02" fill="#f4e0ee" opacity="0.7"/>
<ellipse cx="292.65" cy="308.17" rx="10.88" ry="9.02" fill="#f2dcec" opacity="0.6"/>
<ellipse cx="268.72" cy="314.94" rx="8.70" ry="6.76" fill="#eedcea" opacity="0.6"/>
<ellipse cx="266.55" cy="281.11" rx="8.70" ry="6.76" fill="#dcb0d8" opacity="0.5"/>
</g>
<rect x="262.2" y="276.6" width="43.50" height="45.10" fill="#8a2a70" filter="url(#noise0)" opacity="0.12"/>
<circle cx="284.8" cy="288.9" r="0.46" fill="#c060a8" opacity="0.4"/>
<circle cx="263.2" cy="287.4" r="0.36" fill="#f0c8e8" opacity="0.5"/>
<circle cx="277.0" cy="319.2" r="0.44" fill="#8a4a9a" opacity="0.45"/>
<circle cx="303.6" cy="321.1" r="0.31" fill="#f0c8e8" opacity="0.5"/>
<circle cx="263.4" cy="310.5" r="0.31" fill="#b070b8" opacity="0.4"/>
<circle cx="297.6" cy="315.6" r="0.42" fill="#f0c8e8" opacity="0.5"/>
<circle cx="278.5" cy="312.9" r="0.47" fill="#8a4a9a" opacity="0.45"/>
<circle cx="286.0" cy="301.3" r="0.53" fill="#b070b8" opacity="0.4"/>
<circle cx="302.7" cy="282.4" r="0.33" fill="#f0c8e8" opacity="0.5"/>
<circle cx="268.9" cy="283.4" r="0.50" fill="#8a4a9a" opacity="0.45"/>
<circle cx="279.7" cy="289.3" r="0.51" fill="#c060a8" opacity="0.4"/>
<circle cx="278.1" cy="315.3" r="0.34" fill="#b070b8" opacity="0.4"/>
<circle cx="267.5" cy="296.2" r="0.35" fill="#c060a8" opacity="0.4"/>
<circle cx="281.2" cy="288.7" r="0.35" fill="#b070b8" opacity="0.4"/>
<circle cx="268.2" cy="292.0" r="0.48" fill="#c060a8" opacity="0.4"/>
<circle cx="294.1" cy="313.2" r="0.50" fill="#b070b8" opacity="0.4"/>
<circle cx="299.8" cy="278.4" r="0.43" fill="#f0c8e8" opacity="0.5"/>
<circle cx="264.5" cy="304.5" r="0.42" fill="#f0c8e8" opacity="0.5"/>
<circle cx="286.6" cy="302.9" r="0.37" fill="#8a4a9a" opacity="0.45"/>
<circle cx="264.4" cy="297.1" r="0.39" fill="#b070b8" opacity="0.4"/>
<circle cx="301.2" cy="302.5" r="0.33" fill="#c060a8" opacity="0.4"/>
<circle cx="270.0" cy="315.4" r="0.50" fill="#b070b8" opacity="0.4"/>
<circle cx="265.2" cy="294.2" r="0.37" fill="#b070b8" opacity="0.4"/>
<circle cx="275.2" cy="286.2" r="0.35" fill="#8a4a9a" opacity="0.45"/>
<circle cx="298.5" cy="295.5" r="0.33" fill="#c060a8" opacity="0.4"/>
<circle cx="276.1" cy="317.8" r="0.50" fill="#b070b8" opacity="0.4"/>
<circle cx="291.6" cy="285.6" r="0.49" fill="#8a4a9a" opacity="0.45"/>
<circle cx="263.4" cy="296.7" r="0.53" fill="#c060a8" opacity="0.4"/>
<circle cx="287.5" cy="285.8" r="0.50" fill="#c060a8" opacity="0.4"/>
<circle cx="292.7" cy="286.1" r="0.49" fill="#8a4a9a" opacity="0.45"/>
<circle cx="291.4" cy="296.6" r="0.45" fill="#f0c8e8" opacity="0.5"/>
<circle cx="287.8" cy="304.3" r="0.50" fill="#8a4a9a" opacity="0.45"/>
<circle cx="272.3" cy="321.1" r="0.50" fill="#f0c8e8" opacity="0.5"/>
<circle cx="273.5" cy="303.9" r="0.39" fill="#f0c8e8" opacity="0.5"/>
<circle cx="278.6" cy="297.7" r="0.38" fill="#b070b8" opacity="0.4"/>
<circle cx="296.1" cy="277.5" r="0.39" fill="#b070b8" opacity="0.4"/>
<circle cx="283.2" cy="295.2" r="0.39" fill="#8a4a9a" opacity="0.45"/>
<circle cx="268.1" cy="279.8" r="0.35" fill="#8a4a9a" opacity="0.45"/>
<circle cx="265.4" cy="317.2" r="0.40" fill="#b070b8" opacity="0.4"/>
<circle cx="292.3" cy="315.8" r="0.38" fill="#8a4a9a" opacity="0.45"/>
<circle cx="294.7" cy="315.5" r="0.38" fill="#c060a8" opacity="0.4"/>
<circle cx="286.1" cy="304.4" r="0.55" fill="#c060a8" opacity="0.4"/>
<circle cx="279.1" cy="278.6" r="0.38" fill="#f0c8e8" opacity="0.5"/>
<circle cx="300.5" cy="312.7" r="0.43" fill="#8a4a9a" opacity="0.45"/>
<circle cx="295.8" cy="310.6" r="0.38" fill="#b070b8" opacity="0.4"/>
<circle cx="305.2" cy="313.7" r="0.33" fill="#f0c8e8" opacity="0.5"/>
<circle cx="271.3" cy="305.0" r="0.47" fill="#c060a8" opacity="0.4"/>
<circle cx="295.1" cy="282.3" r="0.39" fill="#b070b8" opacity="0.4"/>
<circle cx="303.8" cy="298.0" r="0.37" fill="#b070b8" opacity="0.4"/>
<circle cx="292.7" cy="298.8" r="0.46" fill="#c060a8" opacity="0.4"/>
<circle cx="263.3" cy="298.0" r="0.39" fill="#f0c8e8" opacity="0.5"/>
<circle cx="300.2" cy="299.4" r="0.55" fill="#f0c8e8" opacity="0.5"/>
<circle cx="304.5" cy="316.5" r="0.54" fill="#c060a8" opacity="0.4"/>
<circle cx="286.0" cy="317.2" r="0.48" fill="#b070b8" opacity="0.4"/>
<circle cx="304.4" cy="296.8" r="0.53" fill="#8a4a9a" opacity="0.45"/>
<circle cx="287.4" cy="310.0" r="0.53" fill="#b070b8" opacity="0.4"/>
<circle cx="272.8" cy="309.5" r="0.34" fill="#b070b8" opacity="0.4"/>
<circle cx="288.4" cy="278.5" r="0.46" fill="#c060a8" opacity="0.4"/>
<circle cx="269.9" cy="303.4" r="0.43" fill="#c060a8" opacity="0.4"/>
<circle cx="286.2" cy="290.9" r="0.39" fill="#b070b8" opacity="0.4"/>
<circle cx="274.5" cy="285.6" r="0.38" fill="#c060a8" opacity="0.4"/>
<circle cx="279.1" cy="320.9" r="0.42" fill="#b070b8" opacity="0.4"/>
<circle cx="293.8" cy="312.2" r="0.45" fill="#b070b8" opacity="0.4"/>
<circle cx="303.6" cy="282.6" r="0.53" fill="#8a4a9a" opacity="0.45"/>
<circle cx="296.2" cy="312.5" r="0.32" fill="#b070b8" opacity="0.4"/>
<circle cx="296.6" cy="315.0" r="0.52" fill="#c060a8" opacity="0.4"/>
<circle cx="298.2" cy="302.9" r="0.30" fill="#f0c8e8" opacity="0.5"/>
<circle cx="277.4" cy="312.2" r="0.45" fill="#b070b8" opacity="0.4"/>
<circle cx="269.7" cy="311.4" r="0.47" fill="#c060a8" opacity="0.4"/>
<circle cx="272.2" cy="317.4" r="0.32" fill="#b070b8" opacity="0.4"/>
<circle cx="301.9" cy="297.2" r="0.52" fill="#f0c8e8" opacity="0.5"/>
<circle cx="297.8" cy="314.7" r="0.36" fill="#8a4a9a" opacity="0.45"/>
<circle cx="275.1" cy="282.1" r="0.35" fill="#f0c8e8" opacity="0.5"/>
<circle cx="282.9" cy="288.1" r="0.44" fill="#c060a8" opacity="0.4"/>
<circle cx="266.4" cy="312.4" r="0.35" fill="#f0c8e8" opacity="0.5"/>
<circle cx="299.8" cy="316.6" r="0.54" fill="#f0c8e8" opacity="0.5"/>
<circle cx="301.1" cy="302.2" r="0.40" fill="#8a4a9a" opacity="0.45"/>
<circle cx="266.9" cy="291.2" r="0.40" fill="#b070b8" opacity="0.4"/>
<circle cx="266.2" cy="308.8" r="0.47" fill="#c060a8" opacity="0.4"/>
<circle cx="300.0" cy="294.1" r="0.32" fill="#8a4a9a" opacity="0.45"/>
<circle cx="305.2" cy="295.0" r="0.49" fill="#b070b8" opacity="0.4"/>
<circle cx="276.7" cy="316.0" r="0.49" fill="#b070b8" opacity="0.4"/>
<circle cx="297.8" cy="300.1" r="0.31" fill="#f0c8e8" opacity="0.5"/>
<circle cx="296.2" cy="277.4" r="0.50" fill="#f0c8e8" opacity="0.5"/>
<circle cx="286.5" cy="311.5" r="0.54" fill="#f0c8e8" opacity="0.5"/>
<circle cx="269.6" cy="286.4" r="0.35" fill="#8a4a9a" opacity="0.45"/>
<circle cx="267.3" cy="287.9" r="0.35" fill="#c060a8" opacity="0.4"/>
<circle cx="290.0" cy="284.8" r="0.39" fill="#c060a8" opacity="0.4"/>
<circle cx="300.5" cy="315.6" r="0.44" fill="#8a4a9a" opacity="0.45"/>
<circle cx="273.1" cy="306.5" r="0.44" fill="#8a4a9a" opacity="0.45"/>
<circle cx="268.4" cy="309.0" r="0.40" fill="#8a4a9a" opacity="0.45"/>
<circle cx="291.1" cy="282.5" r="0.42" fill="#b070b8" opacity="0.4"/>
<circle cx="291.1" cy="304.3" r="0.51" fill="#c060a8" opacity="0.4"/>
<circle cx="262.5" cy="295.4" r="0.50" fill="#c060a8" opacity="0.4"/>
<circle cx="282.9" cy="298.0" r="0.51" fill="#f0c8e8" opacity="0.5"/>
<circle cx="282.2" cy="313.0" r="0.43" fill="#c060a8" opacity="0.4"/>
<circle cx="271.3" cy="289.9" r="0.31" fill="#b070b8" opacity="0.4"/>
<circle cx="270.2" cy="313.7" r="0.35" fill="#f0c8e8" opacity="0.5"/>
<circle cx="265.4" cy="314.8" r="0.38" fill="#f0c8e8" opacity="0.5"/>
<circle cx="285.9" cy="289.4" r="0.50" fill="#f0c8e8" opacity="0.5"/>
<circle cx="279.1" cy="289.3" r="0.50" fill="#8a4a9a" opacity="0.45"/>
<circle cx="263.2" cy="286.5" r="0.46" fill="#c060a8" opacity="0.4"/>
<circle cx="295.6" cy="308.0" r="0.37" fill="#b070b8" opacity="0.4"/>
<circle cx="275.7" cy="300.9" r="0.42" fill="#8a4a9a" opacity="0.45"/>
<circle cx="303.1" cy="297.8" r="0.38" fill="#b070b8" opacity="0.4"/>
<circle cx="263.1" cy="309.3" r="0.45" fill="#f0c8e8" opacity="0.5"/>
<circle cx="300.6" cy="313.5" r="0.53" fill="#c060a8" opacity="0.4"/>
<circle cx="289.4" cy="280.2" r="0.51" fill="#f0c8e8" opacity="0.5"/>
<circle cx="270.3" cy="298.1" r="0.53" fill="#f0c8e8" opacity="0.5"/>
<circle cx="272.5" cy="278.4" r="0.45" fill="#f0c8e8" opacity="0.5"/>
<circle cx="264.7" cy="294.2" r="0.38" fill="#c060a8" opacity="0.4"/>
<circle cx="293.4" cy="320.1" r="0.45" fill="#8a4a9a" opacity="0.45"/>
<circle cx="270.3" cy="291.4" r="0.54" fill="#b070b8" opacity="0.4"/>
<circle cx="266.3" cy="307.9" r="0.40" fill="#8a4a9a" opacity="0.45"/>
<circle cx="263.4" cy="310.7" r="0.46" fill="#f0c8e8" opacity="0.5"/>
<circle cx="295.2" cy="283.1" r="0.37" fill="#8a4a9a" opacity="0.45"/>
<circle cx="293.8" cy="277.3" r="0.42" fill="#c060a8" opacity="0.4"/>
<circle cx="286.5" cy="287.8" r="0.37" fill="#c060a8" opacity="0.4"/>
<circle cx="296.5" cy="301.0" r="0.36" fill="#f0c8e8" opacity="0.5"/>
<circle cx="305.3" cy="300.6" r="0.34" fill="#c060a8" opacity="0.4"/>
<circle cx="263.7" cy="292.4" r="0.54" fill="#6a2a5a" opacity="0.65"/>
<circle cx="268.2" cy="305.9" r="0.58" fill="#6a2a5a" opacity="0.65"/>
<circle cx="268.0" cy="297.1" r="0.63" fill="#6a2a5a" opacity="0.65"/>
<circle cx="275.8" cy="299.5" r="0.57" fill="#6a2a5a" opacity="0.65"/>
<circle cx="268.6" cy="299.2" r="0.43" fill="#6a2a5a" opacity="0.65"/>
<circle cx="269.2" cy="308.9" r="0.53" fill="#6a2a5a" opacity="0.65"/>
</g>
<rect x="262.20" y="276.60" width="43.50" height="45.10" fill="none" stroke="#b8b8bc" stroke-width="0.6"/>
<clipPath id="t01"><rect x="124.4" y="323.0" width="44.20" height="44.50"/></clipPath>
<g clip-path="url(#t01)">
<rect x="124.40" y="323.00" width="44.20" height="44.50" fill="#dcdbe6" />
<g filter="url(#blur3)">
<ellipse cx="144.29" cy="343.02" rx="17.68" ry="13.35" fill="#e6d2d8" opacity="0.7"/>
<ellipse cx="133.24" cy="360.82" rx="11.05" ry="8.90" fill="#d2ddec" opacity="0.7"/>
</g>
<circle cx="150.1" cy="331.7" r="0.62" fill="#f2f2f6" opacity="0.5"/>
<circle cx="145.0" cy="352.5" r="0.51" fill="#b4b0c4" opacity="0.35"/>
<circle cx="165.0" cy="344.6" r="0.42" fill="#b4b0c4" opacity="0.35"/>
<circle cx="143.8" cy="334.4" r="0.33" fill="#b4b0c4" opacity="0.35"/>
<circle cx="158.4" cy="339.3" r="0.58" fill="#c4bccc" opacity="0.35"/>
<circle cx="135.0" cy="358.2" r="0.37" fill="#c4bccc" opacity="0.35"/>
<circle cx="143.4" cy="336.5" r="0.53" fill="#b4b0c4" opacity="0.35"/>
<circle cx="152.0" cy="337.6" r="0.44" fill="#c4bccc" opacity="0.35"/>
<circle cx="141.2" cy="341.8" r="0.56" fill="#c4bccc" opacity="0.35"/>
<circle cx="142.9" cy="361.8" r="0.49" fill="#b4b0c4" opacity="0.35"/>
<circle cx="139.7" cy="324.0" r="0.43" fill="#f2f2f6" opacity="0.5"/>
<circle cx="136.0" cy="359.5" r="0.45" fill="#b4b0c4" opacity="0.35"/>
<circle cx="136.7" cy="357.0" r="0.54" fill="#c4bccc" opacity="0.35"/>
<circle cx="156.6" cy="339.1" r="0.50" fill="#f2f2f6" opacity="0.5"/>
<circle cx="131.8" cy="360.6" r="0.41" fill="#f2f2f6" opacity="0.5"/>
<circle cx="162.9" cy="353.8" r="0.61" fill="#f2f2f6" opacity="0.5"/>
<circle cx="166.6" cy="325.9" r="0.42" fill="#f2f2f6" opacity="0.5"/>
<circle cx="166.2" cy="362.0" r="0.54" fill="#b4b0c4" opacity="0.35"/>
<circle cx="151.4" cy="349.9" r="0.58" fill="#c4bccc" opacity="0.35"/>
<circle cx="130.6" cy="331.0" r="0.56" fill="#b4b0c4" opacity="0.35"/>
<circle cx="163.8" cy="342.9" r="0.33" fill="#b4b0c4" opacity="0.35"/>
<circle cx="131.0" cy="336.9" r="0.32" fill="#c4bccc" opacity="0.35"/>
<circle cx="148.6" cy="353.7" r="0.46" fill="#c4bccc" opacity="0.35"/>
<circle cx="132.9" cy="353.2" r="0.33" fill="#c4bccc" opacity="0.35"/>
<circle cx="165.8" cy="334.1" r="0.45" fill="#b4b0c4" opacity="0.35"/>
<circle cx="147.6" cy="358.6" r="0.39" fill="#c4bccc" opacity="0.35"/>
<circle cx="136.8" cy="366.5" r="0.30" fill="#b4b0c4" opacity="0.35"/>
<circle cx="152.4" cy="361.1" r="0.53" fill="#c4bccc" opacity="0.35"/>
<circle cx="126.4" cy="338.0" r="0.46" fill="#c4bccc" opacity="0.35"/>
<circle cx="133.1" cy="349.4" r="0.42" fill="#c4bccc" opacity="0.35"/>
<circle cx="165.8" cy="335.8" r="0.43" fill="#f2f2f6" opacity="0.5"/>
<circle cx="142.2" cy="351.4" r="0.38" fill="#f2f2f6" opacity="0.5"/>
<circle cx="127.3" cy="329.6" r="0.35" fill="#b4b0c4" opacity="0.35"/>
<circle cx="129.8" cy="324.1" r="0.37" fill="#f2f2f6" opacity="0.5"/>
<circle cx="154.1" cy="359.6" r="0.53" fill="#f2f2f6" opacity="0.5"/>
<circle cx="148.7" cy="328.7" r="0.49" fill="#f2f2f6" opacity="0.5"/>
<circle cx="137.7" cy="336.4" r="0.38" fill="#c4bccc" opacity="0.35"/>
<circle cx="143.6" cy="343.2" r="0.56" fill="#c4bccc" opacity="0.35"/>
<circle cx="135.3" cy="348.7" r="0.56" fill="#c4bccc" opacity="0.35"/>
<circle cx="143.8" cy="352.7" r="0.49" fill="#c4bccc" opacity="0.35"/>
<circle cx="133.4" cy="324.5" r="0.64" fill="#c4bccc" opacity="0.35"/>
<circle cx="151.7" cy="360.4" r="0.44" fill="#b4b0c4" opacity="0.35"/>
<circle cx="144.4" cy="335.2" r="0.63" fill="#f2f2f6" opacity="0.5"/>
<circle cx="145.9" cy="358.8" r="0.32" fill="#f2f2f6" opacity="0.5"/>
<circle cx="155.0" cy="334.8" r="0.34" fill="#f2f2f6" opacity="0.5"/>
<circle cx="128.2" cy="350.8" r="0.42" fill="#c4bccc" opacity="0.35"/>
<circle cx="156.7" cy="329.5" r="0.64" fill="#f2f2f6" opacity="0.5"/>
<circle cx="129.2" cy="323.3" r="0.38" fill="#c4bccc" opacity="0.35"/>
<circle cx="159.6" cy="327.3" r="0.56" fill="#b4b0c4" opacity="0.35"/>
<circle cx="153.2" cy="330.7" r="0.57" fill="#f2f2f6" opacity="0.5"/>
<circle cx="157.1" cy="331.5" r="0.31" fill="#b4b0c4" opacity="0.35"/>
<circle cx="132.8" cy="346.0" r="0.58" fill="#f2f2f6" opacity="0.5"/>
<circle cx="154.6" cy="362.2" r="0.51" fill="#b4b0c4" opacity="0.35"/>
<circle cx="165.7" cy="337.8" r="0.62" fill="#f2f2f6" opacity="0.5"/>
<circle cx="149.9" cy="344.4" r="0.34" fill="#b4b0c4" opacity="0.35"/>
<circle cx="168.1" cy="343.0" r="0.55" fill="#f2f2f6" opacity="0.5"/>
<circle cx="168.3" cy="349.8" r="0.44" fill="#c4bccc" opacity="0.35"/>
<circle cx="130.3" cy="325.7" r="0.54" fill="#c4bccc" opacity="0.35"/>
<circle cx="127.1" cy="327.3" r="0.38" fill="#c4bccc" opacity="0.35"/>
<circle cx="156.4" cy="340.3" r="0.43" fill="#f2f2f6" opacity="0.5"/>
<circle cx="159.6" cy="362.1" r="0.56" fill="#f2f2f6" opacity="0.5"/>
<circle cx="165.8" cy="337.8" r="0.38" fill="#b4b0c4" opacity="0.35"/>
<circle cx="141.6" cy="333.7" r="0.37" fill="#b4b0c4" opacity="0.35"/>
<circle cx="131.1" cy="330.3" r="0.47" fill="#c4bccc" opacity="0.35"/>
<circle cx="133.0" cy="335.2" r="0.56" fill="#b4b0c4" opacity="0.35"/>
<circle cx="132.8" cy="357.6" r="0.41" fill="#b4b0c4" opacity="0.35"/>
<circle cx="136.1" cy="356.6" r="0.34" fill="#c4bccc" opacity="0.35"/>
<circle cx="150.6" cy="352.5" r="0.63" fill="#f2f2f6" opacity="0.5"/>
<circle cx="151.7" cy="357.5" r="0.52" fill="#c4bccc" opacity="0.35"/>
<circle cx="167.7" cy="360.8" r="0.46" fill="#b4b0c4" opacity="0.35"/>
<circle cx="137.7" cy="330.9" r="0.43" fill="#b4b0c4" opacity="0.35"/>
<circle cx="162.2" cy="325.0" r="0.32" fill="#c4bccc" opacity="0.35"/>
<circle cx="126.9" cy="323.1" r="0.47" fill="#b4b0c4" opacity="0.35"/>
<circle cx="141.7" cy="327.6" r="0.37" fill="#f2f2f6" opacity="0.5"/>
<circle cx="154.8" cy="358.4" r="0.45" fill="#f2f2f6" opacity="0.5"/>
<circle cx="140.7" cy="359.6" r="0.54" fill="#b4b0c4" opacity="0.35"/>
<circle cx="137.0" cy="340.7" r="0.48" fill="#b4b0c4" opacity="0.35"/>
<circle cx="146.0" cy="363.9" r="0.61" fill="#c4bccc" opacity="0.35"/>
<circle cx="147.6" cy="325.4" r="0.55" fill="#b4b0c4" opacity="0.35"/>
<circle cx="124.9" cy="354.0" r="0.46" fill="#c4bccc" opacity="0.35"/>
<circle cx="140.9" cy="335.9" r="0.63" fill="#c4bccc" opacity="0.35"/>
<circle cx="135.1" cy="329.1" r="0.56" fill="#c4bccc" opacity="0.35"/>
<circle cx="141.6" cy="350.7" r="0.33" fill="#c4bccc" opacity="0.35"/>
<circle cx="148.3" cy="362.4" r="0.40" fill="#c4bccc" opacity="0.35"/>
<circle cx="139.7" cy="340.0" r="0.49" fill="#b4b0c4" opacity="0.35"/>
<circle cx="134.7" cy="356.6" r="0.49" fill="#f2f2f6" opacity="0.5"/>
<circle cx="158.3" cy="341.6" r="0.57" fill="#c4bccc" opacity="0.35"/>
<circle cx="164.7" cy="325.4" r="0.59" fill="#f2f2f6" opacity="0.5"/>
<circle cx="129.0" cy="330.6" r="0.36" fill="#f2f2f6" opacity="0.5"/>
<circle cx="130.0" cy="355.1" r="0.50" fill="#f2f2f6" opacity="0.5"/>
<circle cx="163.2" cy="366.6" r="0.50" fill="#f2f2f6" opacity="0.5"/>
<circle cx="154.9" cy="331.6" r="0.50" fill="#b4b0c4" opacity="0.35"/>
<circle cx="160.9" cy="328.3" r="0.47" fill="#b4b0c4" opacity="0.35"/>
<circle cx="167.3" cy="331.2" r="0.36" fill="#b4b0c4" opacity="0.35"/>
<circle cx="143.2" cy="358.3" r="0.43" fill="#b4b0c4" opacity="0.35"/>
<circle cx="163.6" cy="348.3" r="0.53" fill="#b4b0c4" opacity="0.35"/>
<circle cx="124.7" cy="337.3" r="0.39" fill="#b4b0c4" opacity="0.35"/>
<circle cx="165.7" cy="351.2" r="0.60" fill="#f2f2f6" opacity="0.5"/>
<circle cx="142.5" cy="351.4" r="0.41" fill="#b4b0c4" opacity="0.35"/>
<circle cx="158.6" cy="348.8" r="0.63" fill="#c4bccc" opacity="0.35"/>
<circle cx="162.1" cy="340.1" r="0.50" fill="#b4b0c4" opacity="0.35"/>
<circle cx="137.4" cy="335.7" r="0.64" fill="#c4bccc" opacity="0.35"/>
<circle cx="131.4" cy="363.8" r="0.64" fill="#f2f2f6" opacity="0.5"/>
<circle cx="141.1" cy="346.5" r="0.39" fill="#b4b0c4" opacity="0.35"/>
<circle cx="144.1" cy="364.2" r="0.34" fill="#b4b0c4" opacity="0.35"/>
<circle cx="128.0" cy="363.1" r="0.61" fill="#c4bccc" opacity="0.35"/>
<circle cx="124.9" cy="330.8" r="0.48" fill="#b4b0c4" opacity="0.35"/>
<circle cx="157.4" cy="325.7" r="0.52" fill="#f2f2f6" opacity="0.5"/>
<circle cx="151.6" cy="353.6" r="0.58" fill="#b4b0c4" opacity="0.35"/>
<circle cx="149.0" cy="352.9" r="0.57" fill="#c4bccc" opacity="0.35"/>
<circle cx="132.0" cy="325.4" r="0.65" fill="#c4bccc" opacity="0.35"/>
<circle cx="146.7" cy="358.4" r="0.60" fill="#f2f2f6" opacity="0.5"/>
<circle cx="155.2" cy="344.5" r="0.38" fill="#b4b0c4" opacity="0.35"/>
<circle cx="140.4" cy="323.5" r="0.57" fill="#c4bccc" opacity="0.35"/>
<circle cx="152.5" cy="333.5" r="0.41" fill="#c4bccc" opacity="0.35"/>
<circle cx="143.0" cy="342.5" r="0.62" fill="#f2f2f6" opacity="0.5"/>
<circle cx="155.2" cy="338.5" r="0.58" fill="#b4b0c4" opacity="0.35"/>
<circle cx="140.6" cy="348.4" r="0.32" fill="#b4b0c4" opacity="0.35"/>
<circle cx="159.4" cy="343.8" r="0.38" fill="#c4bccc" opacity="0.35"/>
<circle cx="159.7" cy="330.8" r="0.37" fill="#f2f2f6" opacity="0.5"/>
<circle cx="166.9" cy="346.0" r="0.39" fill="#c4bccc" opacity="0.35"/>
<circle cx="162.7" cy="327.6" r="0.35" fill="#f2f2f6" opacity="0.5"/>
<circle cx="155.0" cy="324.2" r="0.51" fill="#b4b0c4" opacity="0.35"/>
<circle cx="154.0" cy="349.5" r="0.50" fill="#c4bccc" opacity="0.35"/>
<circle cx="157.4" cy="341.5" r="0.48" fill="#f2f2f6" opacity="0.5"/>
<circle cx="163.8" cy="342.3" r="0.31" fill="#b4b0c4" opacity="0.35"/>
<circle cx="140.8" cy="359.7" r="0.57" fill="#b4b0c4" opacity="0.35"/>
<circle cx="159.0" cy="326.3" r="0.61" fill="#f2f2f6" opacity="0.5"/>
<circle cx="128.0" cy="347.0" r="0.42" fill="#b4b0c4" opacity="0.35"/>
<circle cx="156.8" cy="333.7" r="0.49" fill="#b4b0c4" opacity="0.35"/>
<circle cx="137.1" cy="348.8" r="0.46" fill="#b4b0c4" opacity="0.35"/>
<circle cx="157.9" cy="340.8" r="0.44" fill="#c4bccc" opacity="0.35"/>
<circle cx="166.4" cy="355.3" r="0.50" fill="#b4b0c4" opacity="0.35"/>
<circle cx="135.9" cy="347.4" r="0.33" fill="#f2f2f6" opacity="0.5"/>
<circle cx="133.2" cy="323.9" r="0.36" fill="#c4bccc" opacity="0.35"/>
<circle cx="128.2" cy="358.2" r="0.51" fill="#f2f2f6" opacity="0.5"/>
<circle cx="132.8" cy="339.9" r="0.33" fill="#c4bccc" opacity="0.35"/>
<circle cx="131.5" cy="335.6" r="0.64" fill="#f2f2f6" opacity="0.5"/>
<circle cx="131.4" cy="356.5" r="0.52" fill="#f2f2f6" opacity="0.5"/>
<circle cx="157.2" cy="361.1" r="0.59" fill="#b4b0c4" opacity="0.35"/>
<circle cx="156.8" cy="325.5" r="0.43" fill="#c88a80" opacity="0.5"/>
<circle cx="147.8" cy="360.2" r="0.34" fill="#c88a80" opacity="0.5"/>
<circle cx="145.8" cy="355.5" r="0.41" fill="#c88a80" opacity="0.5"/>
<circle cx="142.5" cy="346.9" r="0.50" fill="#c88a80" opacity="0.5"/>
<circle cx="135.6" cy="348.1" r="0.35" fill="#b4685a" opacity="0.55"/>
<circle cx="154.0" cy="331.1" r="0.32" fill="#c88a80" opacity="0.5"/>
<circle cx="124.7" cy="336.8" r="0.32" fill="#d4a0a0" opacity="0.5"/>
<circle cx="132.4" cy="335.2" r="0.55" fill="#b4685a" opacity="0.55"/>
<circle cx="156.0" cy="351.9" r="0.49" fill="#d4a0a0" opacity="0.5"/>
<circle cx="149.5" cy="331.1" r="0.50" fill="#8a3a2a" opacity="0.7"/>
<circle cx="159.0" cy="331.1" r="0.33" fill="#8a3a2a" opacity="0.7"/>
<circle cx="144.7" cy="335.5" r="0.37" fill="#d4a0a0" opacity="0.5"/>
<circle cx="139.5" cy="349.5" r="0.58" fill="#b4685a" opacity="0.55"/>
<circle cx="132.4" cy="333.3" r="0.35" fill="#d4a0a0" opacity="0.5"/>
<circle cx="134.9" cy="346.4" r="0.58" fill="#8a3a2a" opacity="0.7"/>
<circle cx="165.3" cy="330.9" r="0.34" fill="#8a3a2a" opacity="0.7"/>
<circle cx="159.5" cy="340.6" r="0.58" fill="#8a3a2a" opacity="0.7"/>
<circle cx="132.4" cy="345.1" r="0.41" fill="#b4685a" opacity="0.55"/>
<circle cx="165.5" cy="341.3" r="0.46" fill="#8a3a2a" opacity="0.7"/>
<circle cx="141.1" cy="343.7" r="0.38" fill="#b4685a" opacity="0.55"/>
<circle cx="150.6" cy="328.4" r="0.52" fill="#d4a0a0" opacity="0.5"/>
<circle cx="134.7" cy="337.4" r="0.53" fill="#c88a80" opacity="0.5"/>
<circle cx="138.6" cy="339.7" r="0.55" fill="#d4a0a0" opacity="0.5"/>
<circle cx="147.2" cy="346.7" r="0.43" fill="#c88a80" opacity="0.5"/>
<circle cx="127.9" cy="354.3" r="0.37" fill="#b4685a" opacity="0.55"/>
<circle cx="134.2" cy="357.8" r="0.32" fill="#c88a80" opacity="0.5"/>
<circle cx="159.0" cy="341.7" r="0.42" fill="#b4685a" opacity="0.55"/>
<circle cx="158.9" cy="347.4" r="0.40" fill="#8a3a2a" opacity="0.7"/>
<circle cx="152.2" cy="346.0" r="0.59" fill="#c88a80" opacity="0.5"/>
<circle cx="147.9" cy="331.6" r="0.43" fill="#b4685a" opacity="0.55"/>
<circle cx="151.4" cy="338.1" r="0.48" fill="#d4a0a0" opacity="0.5"/>
<circle cx="132.7" cy="350.4" r="0.41" fill="#b4685a" opacity="0.55"/>
<circle cx="126.4" cy="338.7" r="0.33" fill="#b4685a" opacity="0.55"/>
<circle cx="140.4" cy="349.0" r="0.42" fill="#c88a80" opacity="0.5"/>
<circle cx="140.0" cy="339.9" r="0.44" fill="#d4a0a0" opacity="0.5"/>
<circle cx="144.1" cy="356.3" r="0.43" fill="#c88a80" opacity="0.5"/>
<circle cx="132.7" cy="337.5" r="0.54" fill="#8a3a2a" opacity="0.7"/>
<circle cx="151.4" cy="340.3" r="0.34" fill="#c88a80" opacity="0.5"/>
<circle cx="128.4" cy="356.3" r="0.50" fill="#d4a0a0" opacity="0.5"/>
<circle cx="129.3" cy="353.0" r="0.50" fill="#d4a0a0" opacity="0.5"/>
<circle cx="156.6" cy="336.0" r="0.32" fill="#d4a0a0" opacity="0.5"/>
<circle cx="130.7" cy="333.7" r="0.46" fill="#8a3a2a" opacity="0.7"/>
<circle cx="160.5" cy="337.6" r="0.51" fill="#8a3a2a" opacity="0.7"/>
<circle cx="155.7" cy="328.4" r="0.39" fill="#d4a0a0" opacity="0.5"/>
<circle cx="151.5" cy="329.6" r="0.33" fill="#d4a0a0" opacity="0.5"/>
<circle cx="128.3" cy="346.6" r="0.40" fill="#8a3a2a" opacity="0.7"/>
<circle cx="150.3" cy="342.7" r="0.51" fill="#b4685a" opacity="0.55"/>
<circle cx="155.9" cy="325.9" r="0.57" fill="#8a3a2a" opacity="0.7"/>
<circle cx="149.1" cy="341.1" r="0.55" fill="#c88a80" opacity="0.5"/>
<circle cx="135.2" cy="339.6" r="0.44" fill="#d4a0a0" opacity="0.5"/>
<circle cx="146.1" cy="334.1" r="0.53" fill="#d4a0a0" opacity="0.5"/>
<circle cx="131.8" cy="348.0" r="0.51" fill="#d4a0a0" opacity="0.5"/>
<circle cx="164.4" cy="326.9" r="0.36" fill="#b4685a" opacity="0.55"/>
<circle cx="139.2" cy="339.1" r="0.51" fill="#d4a0a0" opacity="0.5"/>
<circle cx="156.5" cy="331.7" r="0.44" fill="#c88a80" opacity="0.5"/>
<circle cx="158.2" cy="327.1" r="0.40" fill="#8a3a2a" opacity="0.7"/>
<circle cx="165.1" cy="338.0" r="0.46" fill="#8a3a2a" opacity="0.7"/>
<circle cx="162.8" cy="328.2" r="0.43" fill="#b4685a" opacity="0.55"/>
<circle cx="151.5" cy="337.8" r="0.41" fill="#d4a0a0" opacity="0.5"/>
<circle cx="145.2" cy="330.4" r="0.33" fill="#b4685a" opacity="0.55"/>
<circle cx="158.2" cy="340.9" r="0.44" fill="#8a3a2a" opacity="0.7"/>
<circle cx="142.7" cy="347.6" r="0.46" fill="#b4685a" opacity="0.55"/>
<circle cx="139.0" cy="335.0" r="0.58" fill="#c88a80" opacity="0.5"/>
<circle cx="140.4" cy="335.9" r="0.50" fill="#c88a80" opacity="0.5"/>
<circle cx="141.3" cy="343.8" r="0.31" fill="#8a3a2a" opacity="0.7"/>
<circle cx="165.8" cy="343.7" r="0.56" fill="#c88a80" opacity="0.5"/>
<circle cx="138.8" cy="333.4" r="0.36" fill="#8a3a2a" opacity="0.7"/>
<circle cx="128.4" cy="340.0" r="0.53" fill="#d4a0a0" opacity="0.5"/>
<circle cx="132.2" cy="341.8" r="0.39" fill="#c88a80" opacity="0.5"/>
<circle cx="149.9" cy="334.7" r="0.56" fill="#8a3a2a" opacity="0.7"/>
<circle cx="149.3" cy="336.1" r="0.54" fill="#d4a0a0" opacity="0.5"/>
<circle cx="141.1" cy="333.7" r="0.43" fill="#d4a0a0" opacity="0.5"/>
<circle cx="157.0" cy="342.9" r="0.59" fill="#c88a80" opacity="0.5"/>
<circle cx="157.0" cy="347.4" r="0.38" fill="#b4685a" opacity="0.55"/>
<circle cx="141.5" cy="331.0" r="0.42" fill="#d4a0a0" opacity="0.5"/>
<circle cx="134.9" cy="339.4" r="0.49" fill="#c88a80" opacity="0.5"/>
<circle cx="150.0" cy="339.7" r="0.39" fill="#c88a80" opacity="0.5"/>
<circle cx="135.3" cy="351.7" r="0.34" fill="#d4a0a0" opacity="0.5"/>
<circle cx="160.1" cy="342.6" r="0.32" fill="#d4a0a0" opacity="0.5"/>
<circle cx="160.7" cy="333.0" r="0.34" fill="#b4685a" opacity="0.55"/>
<circle cx="142.2" cy="328.9" r="0.38" fill="#d4a0a0" opacity="0.5"/>
<circle cx="143.3" cy="340.9" r="0.44" fill="#d4a0a0" opacity="0.5"/>
<circle cx="143.4" cy="347.9" r="0.36" fill="#b4685a" opacity="0.55"/>
<circle cx="129.6" cy="336.4" r="0.34" fill="#b4685a" opacity="0.55"/>
<circle cx="146.7" cy="329.4" r="0.58" fill="#b4685a" opacity="0.55"/>
<circle cx="162.1" cy="342.7" r="0.59" fill="#8a3a2a" opacity="0.7"/>
<circle cx="149.3" cy="329.8" r="0.53" fill="#b4685a" opacity="0.55"/>
<circle cx="156.8" cy="340.8" r="0.38" fill="#d4a0a0" opacity="0.5"/>
<circle cx="149.8" cy="341.4" r="0.39" fill="#8a3a2a" opacity="0.7"/>
<circle cx="126.0" cy="342.5" r="0.41" fill="#d4a0a0" opacity="0.5"/>
<circle cx="143.2" cy="340.9" r="0.56" fill="#c88a80" opacity="0.5"/>
<circle cx="131.9" cy="331.5" r="0.47" fill="#8a3a2a" opacity="0.7"/>
<circle cx="139.4" cy="354.8" r="0.59" fill="#8a3a2a" opacity="0.7"/>
<circle cx="133.2" cy="334.5" r="0.31" fill="#b4685a" opacity="0.55"/>
<circle cx="167.6" cy="334.1" r="0.47" fill="#b4685a" opacity="0.55"/>
<circle cx="129.7" cy="332.5" r="0.44" fill="#c88a80" opacity="0.5"/>
<circle cx="160.7" cy="342.7" r="0.31" fill="#d4a0a0" opacity="0.5"/>
<circle cx="160.4" cy="338.3" r="0.57" fill="#c88a80" opacity="0.5"/>
<circle cx="131.1" cy="337.7" r="0.30" fill="#8a3a2a" opacity="0.7"/>
<circle cx="133.8" cy="347.1" r="0.47" fill="#b4685a" opacity="0.55"/>
<circle cx="158.3" cy="325.4" r="0.50" fill="#b4685a" opacity="0.55"/>
<circle cx="159.2" cy="359.2" r="0.59" fill="#d4a0a0" opacity="0.5"/>
<circle cx="131.1" cy="356.6" r="0.42" fill="#b4685a" opacity="0.55"/>
<circle cx="142.8" cy="335.6" r="0.51" fill="#b4685a" opacity="0.55"/>
<circle cx="125.3" cy="338.0" r="0.34" fill="#8a3a2a" opacity="0.7"/>
<circle cx="151.1" cy="339.5" r="0.54" fill="#8a3a2a" opacity="0.7"/>
<circle cx="159.4" cy="342.6" r="0.59" fill="#b4685a" opacity="0.55"/>
<circle cx="164.4" cy="347.7" r="0.59" fill="#d4a0a0" opacity="0.5"/>
<circle cx="161.5" cy="349.9" r="0.42" fill="#c88a80" opacity="0.5"/>
<circle cx="139.1" cy="344.2" r="0.45" fill="#b4685a" opacity="0.55"/>
<circle cx="125.4" cy="334.3" r="0.51" fill="#c88a80" opacity="0.5"/>
<circle cx="154.8" cy="340.8" r="0.56" fill="#d4a0a0" opacity="0.5"/>
<circle cx="137.6" cy="341.9" r="0.31" fill="#d4a0a0" opacity="0.5"/>
<circle cx="149.6" cy="343.4" r="0.32" fill="#c88a80" opacity="0.5"/>
<circle cx="134.6" cy="344.1" r="0.43" fill="#d4a0a0" opacity="0.5"/>
<circle cx="134.5" cy="338.1" r="0.40" fill="#8a3a2a" opacity="0.7"/>
<circle cx="164.5" cy="338.3" r="0.57" fill="#d4a0a0" opacity="0.5"/>
<circle cx="148.0" cy="354.8" r="0.55" fill="#b4685a" opacity="0.55"/>
<circle cx="141.7" cy="341.6" r="0.49" fill="#b4685a" opacity="0.55"/>
<circle cx="149.1" cy="354.3" r="0.59" fill="#d4a0a0" opacity="0.5"/>
<circle cx="152.5" cy="341.6" r="0.44" fill="#b4685a" opacity="0.55"/>
<circle cx="137.8" cy="350.3" r="0.36" fill="#c88a80" opacity="0.5"/>
<circle cx="126.3" cy="355.1" r="0.37" fill="#8a3a2a" opacity="0.7"/>
<circle cx="130.1" cy="342.1" r="0.32" fill="#c88a80" opacity="0.5"/>
<circle cx="151.2" cy="336.4" r="0.49" fill="#8a3a2a" opacity="0.7"/>
<circle cx="146.5" cy="335.5" r="0.48" fill="#c88a80" opacity="0.5"/>
<circle cx="150.1" cy="332.4" r="0.56" fill="#8a3a2a" opacity="0.7"/>
<circle cx="159.5" cy="341.3" r="0.37" fill="#c88a80" opacity="0.5"/>
<circle cx="149.8" cy="358.7" r="0.58" fill="#b4685a" opacity="0.55"/>
<circle cx="160.9" cy="333.6" r="0.52" fill="#8a3a2a" opacity="0.7"/>
<circle cx="144.3" cy="341.2" r="0.43" fill="#d4a0a0" opacity="0.5"/>
<circle cx="140.4" cy="323.9" r="0.39" fill="#b4685a" opacity="0.55"/>
<circle cx="146.2" cy="345.2" r="0.34" fill="#b4685a" opacity="0.55"/>
<circle cx="162.0" cy="326.5" r="0.52" fill="#c88a80" opacity="0.5"/>
<circle cx="152.8" cy="350.8" r="0.31" fill="#d4a0a0" opacity="0.5"/>
<circle cx="146.4" cy="336.0" r="0.37" fill="#d4a0a0" opacity="0.5"/>
<circle cx="132.2" cy="350.1" r="0.50" fill="#8a3a2a" opacity="0.7"/>
<circle cx="160.2" cy="336.5" r="0.58" fill="#b4685a" opacity="0.55"/>
<circle cx="129.3" cy="336.7" r="0.42" fill="#c88a80" opacity="0.5"/>
<circle cx="151.7" cy="349.8" r="0.39" fill="#c88a80" opacity="0.5"/>
<circle cx="158.9" cy="340.3" r="0.50" fill="#c88a80" opacity="0.5"/>
<circle cx="147.7" cy="337.8" r="0.31" fill="#8a3a2a" opacity="0.7"/>
<circle cx="133.6" cy="341.5" r="0.56" fill="#b4685a" opacity="0.55"/>
<circle cx="152.3" cy="342.0" r="0.53" fill="#c88a80" opacity="0.5"/>
<circle cx="135.5" cy="348.3" r="0.58" fill="#8a3a2a" opacity="0.7"/>
<circle cx="160.5" cy="362.4" r="0.37" fill="#c88a80" opacity="0.5"/>
<circle cx="128.6" cy="340.9" r="0.41" fill="#b4685a" opacity="0.55"/>
<circle cx="146.4" cy="324.9" r="0.48" fill="#8a3a2a" opacity="0.7"/>
<circle cx="136.9" cy="346.6" r="0.54" fill="#b4685a" opacity="0.55"/>
<circle cx="150.1" cy="330.9" r="0.58" fill="#b4685a" opacity="0.55"/>
<circle cx="166.7" cy="343.1" r="0.52" fill="#8a3a2a" opacity="0.7"/>
<circle cx="146.2" cy="343.4" r="0.40" fill="#b4685a" opacity="0.55"/>
<circle cx="141.5" cy="336.1" r="0.51" fill="#c88a80" opacity="0.5"/>
<circle cx="135.7" cy="335.2" r="0.44" fill="#d4a0a0" opacity="0.5"/>
<circle cx="156.6" cy="333.0" r="0.32" fill="#d4a0a0" opacity="0.5"/>
<circle cx="159.7" cy="348.1" r="0.47" fill="#c88a80" opacity="0.5"/>
<circle cx="136.6" cy="331.7" r="0.30" fill="#c88a80" opacity="0.5"/>
<circle cx="149.2" cy="335.9" r="0.59" fill="#d4a0a0" opacity="0.5"/>
<circle cx="147.0" cy="331.8" r="0.48" fill="#8a3a2a" opacity="0.7"/>
<circle cx="138.7" cy="336.4" r="0.50" fill="#b4685a" opacity="0.55"/>
<circle cx="151.5" cy="351.0" r="0.56" fill="#b4685a" opacity="0.55"/>
<circle cx="136.4" cy="348.8" r="0.31" fill="#c88a80" opacity="0.5"/>
<circle cx="147.6" cy="331.6" r="0.52" fill="#c88a80" opacity="0.5"/>
<circle cx="130.1" cy="340.7" r="0.33" fill="#c88a80" opacity="0.5"/>
<circle cx="145.3" cy="345.5" r="0.36" fill="#8a3a2a" opacity="0.7"/>
<circle cx="149.6" cy="351.8" r="0.57" fill="#d4a0a0" opacity="0.5"/>
<circle cx="134.8" cy="335.6" r="0.34" fill="#8a3a2a" opacity="0.7"/>
<circle cx="141.9" cy="339.8" r="0.60" fill="#b4685a" opacity="0.55"/>
<circle cx="140.1" cy="328.6" r="0.32" fill="#d4a0a0" opacity="0.5"/>
<circle cx="151.2" cy="340.2" r="0.39" fill="#8a3a2a" opacity="0.7"/>
<circle cx="146.6" cy="347.0" r="0.48" fill="#8a3a2a" opacity="0.7"/>
<circle cx="153.9" cy="344.0" r="0.31" fill="#c88a80" opacity="0.5"/>
<circle cx="151.7" cy="336.2" r="0.51" fill="#d4a0a0" opacity="0.5"/>
<circle cx="162.3" cy="330.9" r="0.41" fill="#d4a0a0" opacity="0.5"/>
<circle cx="147.7" cy="340.0" r="0.54" fill="#8a3a2a" opacity="0.7"/>
<circle cx="126.5" cy="343.4" r="0.50" fill="#8a3a2a" opacity="0.7"/>
<circle cx="159.5" cy="327.4" r="0.59" fill="#c88a80" opacity="0.5"/>
<circle cx="131.3" cy="341.4" r="0.47" fill="#b4685a" opacity="0.55"/>
<circle cx="141.8" cy="332.2" r="0.43" fill="#c88a80" opacity="0.5"/>
<circle cx="133.2" cy="353.1" r="0.58" fill="#c88a80" opacity="0.5"/>
<circle cx="154.4" cy="337.3" r="0.44" fill="#8a3a2a" opacity="0.7"/>
<circle cx="142.3" cy="339.8" r="0.55" fill="#8a3a2a" opacity="0.7"/>
<circle cx="142.9" cy="348.5" r="0.30" fill="#d4a0a0" opacity="0.5"/>
<circle cx="127.3" cy="351.2" r="0.44" fill="#8a3a2a" opacity="0.7"/>
<circle cx="153.7" cy="326.2" r="0.52" fill="#d4a0a0" opacity="0.5"/>
<circle cx="146.6" cy="341.6" r="0.58" fill="#8a3a2a" opacity="0.7"/>
<circle cx="164.6" cy="345.1" r="0.40" fill="#c88a80" opacity="0.5"/>
<circle cx="148.8" cy="355.1" r="0.53" fill="#c88a80" opacity="0.5"/>
<circle cx="135.0" cy="334.1" r="0.50" fill="#c88a80" opacity="0.5"/>
<circle cx="159.5" cy="329.0" r="0.51" fill="#8a3a2a" opacity="0.7"/>
<circle cx="141.7" cy="334.7" r="0.36" fill="#b4685a" opacity="0.55"/>
<circle cx="167.1" cy="336.6" r="0.31" fill="#8a3a2a" opacity="0.7"/>
<circle cx="157.7" cy="340.6" r="0.47" fill="#c88a80" opacity="0.5"/>
<circle cx="158.3" cy="334.1" r="0.40" fill="#c88a80" opacity="0.5"/>
<circle cx="166.0" cy="332.8" r="0.40" fill="#8a3a2a" opacity="0.7"/>
<circle cx="135.0" cy="334.2" r="0.38" fill="#8a3a2a" opacity="0.7"/>
<circle cx="131.9" cy="336.0" r="0.35" fill="#c88a80" opacity="0.5"/>
<circle cx="145.9" cy="348.2" r="0.59" fill="#d4a0a0" opacity="0.5"/>
<circle cx="157.6" cy="349.0" r="0.54" fill="#d4a0a0" opacity="0.5"/>
<circle cx="148.6" cy="355.5" r="0.42" fill="#d4a0a0" opacity="0.5"/>
<circle cx="143.9" cy="324.3" r="0.56" fill="#d4a0a0" opacity="0.5"/>
<circle cx="140.5" cy="339.6" r="0.56" fill="#d4a0a0" opacity="0.5"/>
<circle cx="157.5" cy="345.6" r="0.55" fill="#d4a0a0" opacity="0.5"/>
<circle cx="143.2" cy="343.5" r="0.37" fill="#b4685a" opacity="0.55"/>
<circle cx="134.5" cy="336.9" r="0.53" fill="#d4a0a0" opacity="0.5"/>
<circle cx="149.6" cy="337.5" r="0.30" fill="#b4685a" opacity="0.55"/>
<circle cx="154.5" cy="336.6" r="0.54" fill="#d4a0a0" opacity="0.5"/>
<circle cx="146.7" cy="353.5" r="0.42" fill="#c88a80" opacity="0.5"/>
<circle cx="159.4" cy="341.7" r="0.48" fill="#d4a0a0" opacity="0.5"/>
<circle cx="145.9" cy="348.7" r="0.38" fill="#b4685a" opacity="0.55"/>
<circle cx="127.2" cy="351.3" r="0.34" fill="#b4685a" opacity="0.55"/>
<circle cx="154.9" cy="352.7" r="0.54" fill="#d4a0a0" opacity="0.5"/>
<circle cx="129.8" cy="334.8" r="0.34" fill="#d4a0a0" opacity="0.5"/>
<circle cx="152.6" cy="343.1" r="0.39" fill="#d4a0a0" opacity="0.5"/>
<circle cx="136.1" cy="344.1" r="0.48" fill="#c88a80" opacity="0.5"/>
<circle cx="139.2" cy="350.3" r="0.54" fill="#d4a0a0" opacity="0.5"/>
<circle cx="147.0" cy="345.5" r="0.58" fill="#8a3a2a" opacity="0.7"/>
<circle cx="160.5" cy="362.9" r="0.52" fill="#d4a0a0" opacity="0.5"/>
<circle cx="135.9" cy="347.8" r="0.59" fill="#d4a0a0" opacity="0.5"/>
<circle cx="132.9" cy="338.1" r="0.34" fill="#c88a80" opacity="0.5"/>
<circle cx="146.7" cy="342.2" r="0.46" fill="#c88a80" opacity="0.5"/>
<circle cx="168.5" cy="347.6" r="0.57" fill="#c88a80" opacity="0.5"/>
<circle cx="131.3" cy="343.4" r="0.42" fill="#8a3a2a" opacity="0.7"/>
<circle cx="154.5" cy="338.5" r="0.45" fill="#8a3a2a" opacity="0.7"/>
<circle cx="135.2" cy="333.1" r="0.48" fill="#d4a0a0" opacity="0.5"/>
<circle cx="132.7" cy="337.0" r="0.32" fill="#d4a0a0" opacity="0.5"/>
<circle cx="157.8" cy="328.2" r="0.57" fill="#8a3a2a" opacity="0.7"/>
<circle cx="159.0" cy="352.3" r="0.59" fill="#8a3a2a" opacity="0.7"/>
<circle cx="134.6" cy="363.6" r="0.42" fill="#d4a0a0" opacity="0.5"/>
<circle cx="157.2" cy="339.0" r="0.41" fill="#c88a80" opacity="0.5"/>
<circle cx="148.1" cy="354.0" r="0.50" fill="#d4a0a0" opacity="0.5"/>
<circle cx="139.3" cy="349.8" r="0.53" fill="#c88a80" opacity="0.5"/>
<circle cx="141.3" cy="339.2" r="0.40" fill="#8a3a2a" opacity="0.7"/>
<circle cx="131.2" cy="341.7" r="0.49" fill="#b4685a" opacity="0.55"/>
<circle cx="143.5" cy="338.6" r="0.38" fill="#d4a0a0" opacity="0.5"/>
<circle cx="144.9" cy="342.4" r="0.55" fill="#b4685a" opacity="0.55"/>
<circle cx="162.6" cy="338.8" r="0.54" fill="#c88a80" opacity="0.5"/>
<circle cx="141.0" cy="347.3" r="0.56" fill="#d4a0a0" opacity="0.5"/>
<circle cx="162.7" cy="351.6" r="0.39" fill="#c88a80" opacity="0.5"/>
<circle cx="150.8" cy="342.3" r="0.53" fill="#d4a0a0" opacity="0.5"/>
<circle cx="158.2" cy="329.7" r="0.40" fill="#b4685a" opacity="0.55"/>
<circle cx="158.1" cy="332.3" r="0.51" fill="#c88a80" opacity="0.5"/>
<circle cx="146.0" cy="336.3" r="0.58" fill="#8a3a2a" opacity="0.7"/>
<circle cx="150.7" cy="330.6" r="0.31" fill="#8a3a2a" opacity="0.7"/>
<circle cx="153.6" cy="328.7" r="0.48" fill="#8a3a2a" opacity="0.7"/>
<circle cx="166.7" cy="343.4" r="0.56" fill="#d4a0a0" opacity="0.5"/>
<circle cx="138.0" cy="345.3" r="0.35" fill="#c88a80" opacity="0.5"/>
<circle cx="148.4" cy="333.1" r="0.57" fill="#d4a0a0" opacity="0.5"/>
<circle cx="132.3" cy="344.2" r="0.56" fill="#c88a80" opacity="0.5"/>
<circle cx="150.4" cy="330.2" r="0.33" fill="#b4685a" opacity="0.55"/>
<circle cx="137.7" cy="348.9" r="0.41" fill="#b4685a" opacity="0.55"/>
<circle cx="152.8" cy="339.7" r="0.39" fill="#b4685a" opacity="0.55"/>
<circle cx="156.9" cy="342.3" r="0.54" fill="#b4685a" opacity="0.55"/>
<circle cx="138.5" cy="332.0" r="0.36" fill="#c88a80" opacity="0.5"/>
<circle cx="145.5" cy="335.0" r="0.50" fill="#c88a80" opacity="0.5"/>
<circle cx="159.6" cy="335.7" r="0.49" fill="#b4685a" opacity="0.55"/>
<circle cx="151.8" cy="351.0" r="0.39" fill="#d4a0a0" opacity="0.5"/>
<circle cx="140.0" cy="342.9" r="0.38" fill="#c88a80" opacity="0.5"/>
<circle cx="155.1" cy="347.7" r="0.48" fill="#c88a80" opacity="0.5"/>
<circle cx="150.0" cy="341.0" r="0.47" fill="#d4a0a0" opacity="0.5"/>
<circle cx="161.9" cy="345.4" r="0.58" fill="#8a3a2a" opacity="0.7"/>
<circle cx="154.1" cy="336.8" r="0.40" fill="#8a3a2a" opacity="0.7"/>
<circle cx="164.7" cy="336.7" r="0.47" fill="#c88a80" opacity="0.5"/>
<circle cx="157.8" cy="355.4" r="0.53" fill="#d4a0a0" opacity="0.5"/>
<circle cx="161.3" cy="333.7" r="0.51" fill="#c88a80" opacity="0.5"/>
<circle cx="137.2" cy="344.9" r="0.34" fill="#b4685a" opacity="0.55"/>
<circle cx="160.5" cy="340.8" r="0.31" fill="#8a3a2a" opacity="0.7"/>
<circle cx="129.4" cy="329.3" r="0.39" fill="#b4685a" opacity="0.55"/>
<circle cx="157.4" cy="344.1" r="0.52" fill="#d4a0a0" opacity="0.5"/>
<circle cx="150.9" cy="324.6" r="0.52" fill="#c88a80" opacity="0.5"/>
<circle cx="125.1" cy="350.3" r="0.60" fill="#d4a0a0" opacity="0.5"/>
<circle cx="154.7" cy="324.3" r="0.33" fill="#c88a80" opacity="0.5"/>
<circle cx="158.5" cy="348.8" r="0.34" fill="#d4a0a0" opacity="0.5"/>
<circle cx="136.7" cy="341.3" r="0.51" fill="#d4a0a0" opacity="0.5"/>
<circle cx="137.3" cy="354.5" r="0.58" fill="#b4685a" opacity="0.55"/>
<circle cx="166.4" cy="326.7" r="0.50" fill="#8a3a2a" opacity="0.7"/>
<circle cx="142.4" cy="343.0" r="0.56" fill="#8a3a2a" opacity="0.7"/>
<circle cx="137.3" cy="349.9" r="0.35" fill="#c88a80" opacity="0.5"/>
<circle cx="164.4" cy="333.4" r="0.58" fill="#b4685a" opacity="0.55"/>
<circle cx="138.3" cy="334.7" r="0.45" fill="#c88a80" opacity="0.5"/>
<circle cx="127.6" cy="338.5" r="0.51" fill="#d4a0a0" opacity="0.5"/>
<circle cx="126.8" cy="332.4" r="0.48" fill="#b4685a" opacity="0.55"/>
<circle cx="149.9" cy="355.7" r="0.57" fill="#c88a80" opacity="0.5"/>
<circle cx="152.3" cy="337.8" r="0.57" fill="#d4a0a0" opacity="0.5"/>
<circle cx="129.7" cy="330.6" r="0.54" fill="#d4a0a0" opacity="0.5"/>
<circle cx="146.8" cy="338.2" r="0.36" fill="#d4a0a0" opacity="0.5"/>
<circle cx="155.7" cy="347.3" r="0.39" fill="#b4685a" opacity="0.55"/>
<circle cx="159.4" cy="348.7" r="0.54" fill="#d4a0a0" opacity="0.5"/>
<circle cx="142.9" cy="330.7" r="0.49" fill="#8a3a2a" opacity="0.7"/>
<circle cx="144.4" cy="360.6" r="0.41" fill="#8a3a2a" opacity="0.7"/>
<circle cx="146.8" cy="349.4" r="0.48" fill="#c88a80" opacity="0.5"/>
<circle cx="164.8" cy="340.5" r="0.44" fill="#d4a0a0" opacity="0.5"/>
<circle cx="125.3" cy="334.5" r="0.37" fill="#d4a0a0" opacity="0.5"/>
<circle cx="157.4" cy="335.3" r="0.43" fill="#8a3a2a" opacity="0.7"/>
<circle cx="137.2" cy="336.8" r="0.45" fill="#b4685a" opacity="0.55"/>
<circle cx="158.3" cy="341.3" r="0.38" fill="#b4685a" opacity="0.55"/>
<circle cx="137.3" cy="337.9" r="0.51" fill="#b4685a" opacity="0.55"/>
<circle cx="140.1" cy="359.9" r="0.58" fill="#c88a80" opacity="0.5"/>
<circle cx="166.7" cy="335.6" r="0.42" fill="#c88a80" opacity="0.5"/>
<circle cx="164.7" cy="325.9" r="0.54" fill="#b4685a" opacity="0.55"/>
<circle cx="166.6" cy="344.9" r="0.35" fill="#c88a80" opacity="0.5"/>
<circle cx="146.8" cy="332.5" r="0.51" fill="#b4685a" opacity="0.55"/>
<circle cx="142.2" cy="353.3" r="0.59" fill="#8a3a2a" opacity="0.7"/>
<circle cx="156.3" cy="344.5" r="0.44" fill="#c88a80" opacity="0.5"/>
<circle cx="151.8" cy="339.4" r="0.50" fill="#8a3a2a" opacity="0.7"/>
<circle cx="134.8" cy="340.3" r="0.34" fill="#c88a80" opacity="0.5"/>
<circle cx="145.6" cy="329.2" r="0.44" fill="#c88a80" opacity="0.5"/>
<circle cx="127.5" cy="348.6" r="0.57" fill="#c88a80" opacity="0.5"/>
<circle cx="154.8" cy="327.4" r="0.37" fill="#c88a80" opacity="0.5"/>
<circle cx="162.3" cy="353.3" r="0.55" fill="#b4685a" opacity="0.55"/>
<circle cx="162.8" cy="325.9" r="0.42" fill="#c88a80" opacity="0.5"/>
<circle cx="143.8" cy="343.3" r="0.31" fill="#d4a0a0" opacity="0.5"/>
<circle cx="166.4" cy="332.9" r="0.47" fill="#c88a80" opacity="0.5"/>
<circle cx="154.3" cy="336.6" r="0.36" fill="#c88a80" opacity="0.5"/>
<circle cx="138.8" cy="338.7" r="0.34" fill="#b4685a" opacity="0.55"/>
<circle cx="130.8" cy="340.3" r="0.44" fill="#c88a80" opacity="0.5"/>
<circle cx="130.4" cy="340.6" r="0.57" fill="#d4a0a0" opacity="0.5"/>
<circle cx="156.1" cy="342.5" r="0.43" fill="#c88a80" opacity="0.5"/>
<circle cx="160.3" cy="357.0" r="0.36" fill="#c88a80" opacity="0.5"/>
<circle cx="133.8" cy="337.9" r="0.38" fill="#8a3a2a" opacity="0.7"/>
<circle cx="155.7" cy="342.0" r="0.50" fill="#c88a80" opacity="0.5"/>
<circle cx="158.5" cy="339.0" r="0.38" fill="#d4a0a0" opacity="0.5"/>
<circle cx="133.1" cy="330.2" r="0.42" fill="#b4685a" opacity="0.55"/>
<circle cx="166.3" cy="336.2" r="0.38" fill="#8a3a2a" opacity="0.7"/>
<circle cx="142.8" cy="334.3" r="0.43" fill="#d4a0a0" opacity="0.5"/>
<circle cx="156.4" cy="347.9" r="0.42" fill="#b4685a" opacity="0.55"/>
<circle cx="141.0" cy="324.5" r="0.36" fill="#c88a80" opacity="0.5"/>
<circle cx="150.2" cy="342.3" r="0.50" fill="#8a3a2a" opacity="0.7"/>
<circle cx="128.2" cy="340.8" r="0.52" fill="#c88a80" opacity="0.5"/>
<circle cx="141.3" cy="336.6" r="0.58" fill="#b4685a" opacity="0.55"/>
<circle cx="152.1" cy="330.4" r="0.53" fill="#c88a80" opacity="0.5"/>
<circle cx="142.6" cy="337.0" r="0.37" fill="#b4685a" opacity="0.55"/>
<circle cx="144.7" cy="337.4" r="0.32" fill="#d4a0a0" opacity="0.5"/>
<circle cx="133.2" cy="335.1" r="0.42" fill="#d4a0a0" opacity="0.5"/>
<circle cx="143.1" cy="349.2" r="0.54" fill="#8a3a2a" opacity="0.7"/>
<circle cx="163.2" cy="338.3" r="0.47" fill="#d4a0a0" opacity="0.5"/>
<circle cx="158.6" cy="344.1" r="0.57" fill="#8a3a2a" opacity="0.7"/>
<circle cx="149.0" cy="335.0" r="0.40" fill="#d4a0a0" opacity="0.5"/>
<circle cx="138.9" cy="325.5" r="0.41" fill="#b4685a" opacity="0.55"/>
<circle cx="160.0" cy="340.6" r="0.42" fill="#8a3a2a" opacity="0.7"/>
<circle cx="159.0" cy="335.9" r="0.35" fill="#b4685a" opacity="0.55"/>
<circle cx="158.5" cy="343.9" r="0.38" fill="#8a3a2a" opacity="0.7"/>
<circle cx="129.6" cy="343.9" r="0.49" fill="#c88a80" opacity="0.5"/>
<circle cx="156.7" cy="344.1" r="0.56" fill="#b4685a" opacity="0.55"/>
<circle cx="136.1" cy="343.4" r="0.56" fill="#c88a80" opacity="0.5"/>
<circle cx="127.1" cy="351.0" r="0.40" fill="#8a3a2a" opacity="0.7"/>
<circle cx="154.5" cy="347.2" r="0.39" fill="#b4685a" opacity="0.55"/>
<circle cx="141.8" cy="347.2" r="0.39" fill="#b4685a" opacity="0.55"/>
<circle cx="156.2" cy="339.1" r="0.35" fill="#d4a0a0" opacity="0.5"/>
<circle cx="156.5" cy="346.7" r="0.38" fill="#8a3a2a" opacity="0.7"/>
<circle cx="140.3" cy="332.2" r="0.47" fill="#c88a80" opacity="0.5"/>
<circle cx="135.2" cy="350.5" r="0.42" fill="#d4a0a0" opacity="0.5"/>
<circle cx="164.7" cy="327.5" r="0.46" fill="#d4a0a0" opacity="0.5"/>
<circle cx="124.5" cy="352.0" r="0.33" fill="#8a3a2a" opacity="0.7"/>
<circle cx="128.1" cy="344.6" r="0.41" fill="#c88a80" opacity="0.5"/>
<circle cx="128.1" cy="337.8" r="0.50" fill="#d4a0a0" opacity="0.5"/>
<circle cx="137.9" cy="347.5" r="0.40" fill="#c88a80" opacity="0.5"/>
<circle cx="142.9" cy="344.7" r="0.52" fill="#8a3a2a" opacity="0.7"/>
<circle cx="157.6" cy="350.2" r="0.53" fill="#b4685a" opacity="0.55"/>
<circle cx="147.8" cy="335.0" r="0.60" fill="#8a3a2a" opacity="0.7"/>
<circle cx="151.9" cy="341.9" r="0.36" fill="#d4a0a0" opacity="0.5"/>
<circle cx="138.8" cy="346.7" r="0.57" fill="#c88a80" opacity="0.5"/>
<circle cx="153.0" cy="336.0" r="0.46" fill="#d4a0a0" opacity="0.5"/>
<circle cx="136.4" cy="337.7" r="0.52" fill="#d4a0a0" opacity="0.5"/>
<circle cx="136.9" cy="344.4" r="0.51" fill="#d4a0a0" opacity="0.5"/>
<circle cx="135.1" cy="332.4" r="0.43" fill="#d4a0a0" opacity="0.5"/>
<circle cx="154.6" cy="352.0" r="0.43" fill="#8a3a2a" opacity="0.7"/>
<circle cx="145.7" cy="343.2" r="0.41" fill="#8a3a2a" opacity="0.7"/>
<circle cx="132.7" cy="349.1" r="0.43" fill="#d4a0a0" opacity="0.5"/>
<circle cx="154.8" cy="353.1" r="0.45" fill="#8a3a2a" opacity="0.7"/>
<circle cx="151.0" cy="342.7" r="0.40" fill="#c88a80" opacity="0.5"/>
<circle cx="163.8" cy="336.2" r="0.41" fill="#8a3a2a" opacity="0.7"/>
<circle cx="162.3" cy="331.7" r="0.53" fill="#8a3a2a" opacity="0.7"/>
<circle cx="154.2" cy="327.7" r="0.35" fill="#b4685a" opacity="0.55"/>
<circle cx="147.7" cy="347.9" r="0.38" fill="#b4685a" opacity="0.55"/>
<circle cx="135.5" cy="345.1" r="0.52" fill="#d4a0a0" opacity="0.5"/>
<circle cx="149.7" cy="336.3" r="0.54" fill="#d4a0a0" opacity="0.5"/>
<circle cx="165.4" cy="345.4" r="0.60" fill="#c88a80" opacity="0.5"/>
<circle cx="147.3" cy="323.3" r="0.37" fill="#d4a0a0" opacity="0.5"/>
<circle cx="146.7" cy="336.0" r="0.34" fill="#c88a80" opacity="0.5"/>
<circle cx="158.8" cy="356.0" r="0.38" fill="#b4685a" opacity="0.55"/>
<circle cx="159.2" cy="334.2" r="0.36" fill="#d4a0a0" opacity="0.5"/>
<circle cx="153.5" cy="339.9" r="0.41" fill="#d4a0a0" opacity="0.5"/>
<circle cx="157.6" cy="324.2" r="0.46" fill="#b4685a" opacity="0.55"/>
<circle cx="140.4" cy="350.1" r="0.51" fill="#8a3a2a" opacity="0.7"/>
<circle cx="152.2" cy="343.2" r="0.46" fill="#c88a80" opacity="0.5"/>
<circle cx="140.2" cy="342.3" r="0.51" fill="#b4685a" opacity="0.55"/>
<circle cx="134.1" cy="356.6" r="0.54" fill="#d4a0a0" opacity="0.5"/>
<circle cx="163.8" cy="336.9" r="0.42" fill="#8a3a2a" opacity="0.7"/>
<circle cx="156.0" cy="338.3" r="0.54" fill="#8a3a2a" opacity="0.7"/>
<circle cx="146.5" cy="353.7" r="0.44" fill="#d4a0a0" opacity="0.5"/>
<circle cx="160.8" cy="345.4" r="0.50" fill="#b4685a" opacity="0.55"/>
<circle cx="145.4" cy="331.7" r="0.32" fill="#c88a80" opacity="0.5"/>
<circle cx="136.1" cy="341.0" r="0.48" fill="#b4685a" opacity="0.55"/>
<circle cx="128.0" cy="330.5" r="0.33" fill="#d4a0a0" opacity="0.5"/>
<circle cx="146.0" cy="342.8" r="0.47" fill="#8a3a2a" opacity="0.7"/>
<circle cx="137.5" cy="348.4" r="0.47" fill="#c88a80" opacity="0.5"/>
<circle cx="163.0" cy="328.4" r="0.32" fill="#8a3a2a" opacity="0.7"/>
<circle cx="155.6" cy="343.4" r="0.53" fill="#c88a80" opacity="0.5"/>
<circle cx="134.6" cy="354.8" r="0.35" fill="#b4685a" opacity="0.55"/>
<circle cx="139.7" cy="338.8" r="0.42" fill="#d4a0a0" opacity="0.5"/>
<circle cx="162.8" cy="342.2" r="0.37" fill="#8a3a2a" opacity="0.7"/>
<circle cx="160.2" cy="354.3" r="0.30" fill="#8a3a2a" opacity="0.7"/>
<circle cx="153.8" cy="336.5" r="0.57" fill="#b4685a" opacity="0.55"/>
<circle cx="140.9" cy="328.9" r="0.55" fill="#b4685a" opacity="0.55"/>
<circle cx="149.0" cy="341.6" r="0.48" fill="#d4a0a0" opacity="0.5"/>
<circle cx="165.9" cy="332.5" r="0.36" fill="#b4685a" opacity="0.55"/>
<circle cx="140.1" cy="349.0" r="0.53" fill="#d4a0a0" opacity="0.5"/>
<circle cx="147.5" cy="331.7" r="0.41" fill="#d4a0a0" opacity="0.5"/>
<circle cx="156.9" cy="341.1" r="0.57" fill="#8a3a2a" opacity="0.7"/>
<circle cx="132.7" cy="334.4" r="0.40" fill="#c88a80" opacity="0.5"/>
<circle cx="161.6" cy="338.0" r="0.40" fill="#d4a0a0" opacity="0.5"/>
<circle cx="146.7" cy="339.4" r="0.46" fill="#c88a80" opacity="0.5"/>
<circle cx="141.4" cy="348.9" r="0.35" fill="#b4685a" opacity="0.55"/>
<circle cx="148.6" cy="337.4" r="0.44" fill="#d4a0a0" opacity="0.5"/>
<circle cx="140.9" cy="349.1" r="0.49" fill="#8a3a2a" opacity="0.7"/>
<circle cx="140.3" cy="338.0" r="0.57" fill="#8a3a2a" opacity="0.7"/>
<circle cx="160.8" cy="333.3" r="0.45" fill="#d4a0a0" opacity="0.5"/>
<circle cx="141.2" cy="343.3" r="0.30" fill="#b4685a" opacity="0.55"/>
<circle cx="141.7" cy="335.2" r="0.40" fill="#b4685a" opacity="0.55"/>
<circle cx="159.1" cy="332.4" r="0.39" fill="#4a1410" opacity="0.85"/>
<circle cx="145.3" cy="331.4" r="0.48" fill="#2a0e0c" opacity="0.8"/>
<circle cx="134.5" cy="340.6" r="0.32" fill="#2a0e0c" opacity="0.8"/>
<circle cx="136.2" cy="347.4" r="0.37" fill="#6a2018" opacity="0.8"/>
<circle cx="134.2" cy="355.2" r="0.37" fill="#4a1410" opacity="0.85"/>
<circle cx="149.4" cy="348.3" r="0.54" fill="#4a1410" opacity="0.85"/>
<circle cx="167.2" cy="339.1" r="0.35" fill="#6a2018" opacity="0.8"/>
<circle cx="133.1" cy="350.5" r="0.35" fill="#6a2018" opacity="0.8"/>
<circle cx="136.7" cy="336.3" r="0.35" fill="#2a0e0c" opacity="0.8"/>
<circle cx="140.5" cy="352.5" r="0.33" fill="#4a1410" opacity="0.85"/>
<circle cx="149.6" cy="331.7" r="0.54" fill="#4a1410" opacity="0.85"/>
<circle cx="151.8" cy="342.8" r="0.30" fill="#6a2018" opacity="0.8"/>
<circle cx="146.9" cy="327.3" r="0.41" fill="#4a1410" opacity="0.85"/>
<circle cx="135.3" cy="350.3" r="0.46" fill="#6a2018" opacity="0.8"/>
<circle cx="125.7" cy="348.0" r="0.31" fill="#6a2018" opacity="0.8"/>
<circle cx="148.8" cy="326.9" r="0.38" fill="#4a1410" opacity="0.85"/>
<circle cx="133.1" cy="338.2" r="0.49" fill="#4a1410" opacity="0.85"/>
<circle cx="151.2" cy="343.8" r="0.38" fill="#4a1410" opacity="0.85"/>
<circle cx="129.5" cy="343.3" r="0.45" fill="#4a1410" opacity="0.85"/>
<circle cx="132.0" cy="344.9" r="0.54" fill="#6a2018" opacity="0.8"/>
<circle cx="138.9" cy="335.8" r="0.47" fill="#4a1410" opacity="0.85"/>
<circle cx="147.1" cy="343.3" r="0.53" fill="#4a1410" opacity="0.85"/>
<circle cx="150.4" cy="328.3" r="0.37" fill="#4a1410" opacity="0.85"/>
<circle cx="124.5" cy="353.6" r="0.52" fill="#2a0e0c" opacity="0.8"/>
<circle cx="155.1" cy="340.2" r="0.39" fill="#6a2018" opacity="0.8"/>
<circle cx="155.1" cy="337.2" r="0.41" fill="#6a2018" opacity="0.8"/>
<circle cx="148.3" cy="332.2" r="0.49" fill="#6a2018" opacity="0.8"/>
<circle cx="151.8" cy="341.6" r="0.39" fill="#4a1410" opacity="0.85"/>
<circle cx="152.8" cy="356.8" r="0.46" fill="#6a2018" opacity="0.8"/>
<circle cx="133.4" cy="331.6" r="0.51" fill="#6a2018" opacity="0.8"/>
<circle cx="138.4" cy="339.2" r="0.49" fill="#2a0e0c" opacity="0.8"/>
<circle cx="141.6" cy="349.2" r="0.34" fill="#2a0e0c" opacity="0.8"/>
<circle cx="129.0" cy="358.8" r="0.34" fill="#2a0e0c" opacity="0.8"/>
<circle cx="155.0" cy="337.4" r="0.36" fill="#6a2018" opacity="0.8"/>
<circle cx="128.6" cy="338.8" r="0.39" fill="#6a2018" opacity="0.8"/>
<circle cx="143.5" cy="346.9" r="0.47" fill="#4a1410" opacity="0.85"/>
<circle cx="159.5" cy="340.2" r="0.48" fill="#6a2018" opacity="0.8"/>
<circle cx="156.2" cy="333.0" r="0.51" fill="#2a0e0c" opacity="0.8"/>
<circle cx="148.6" cy="357.5" r="0.37" fill="#4a1410" opacity="0.85"/>
<circle cx="160.4" cy="338.1" r="0.41" fill="#6a2018" opacity="0.8"/>
<circle cx="148.4" cy="330.6" r="0.37" fill="#6a2018" opacity="0.8"/>
<circle cx="165.5" cy="353.0" r="0.42" fill="#2a0e0c" opacity="0.8"/>
<circle cx="137.2" cy="344.1" r="0.49" fill="#6a2018" opacity="0.8"/>
<circle cx="152.2" cy="332.8" r="0.53" fill="#4a1410" opacity="0.85"/>
<circle cx="135.8" cy="337.3" r="0.38" fill="#6a2018" opacity="0.8"/>
<circle cx="150.8" cy="334.3" r="0.31" fill="#2a0e0c" opacity="0.8"/>
<circle cx="124.6" cy="325.6" r="0.37" fill="#6a2018" opacity="0.8"/>
<circle cx="138.8" cy="351.9" r="0.34" fill="#6a2018" opacity="0.8"/>
<circle cx="124.7" cy="333.7" r="0.39" fill="#2a0e0c" opacity="0.8"/>
<circle cx="134.4" cy="352.1" r="0.53" fill="#4a1410" opacity="0.85"/>
<circle cx="137.4" cy="346.1" r="0.36" fill="#2a0e0c" opacity="0.8"/>
<circle cx="125.3" cy="335.4" r="0.53" fill="#2a0e0c" opacity="0.8"/>
<circle cx="133.3" cy="335.6" r="0.37" fill="#6a2018" opacity="0.8"/>
<circle cx="140.7" cy="344.4" r="0.54" fill="#4a1410" opacity="0.85"/>
<circle cx="137.4" cy="341.4" r="0.43" fill="#2a0e0c" opacity="0.8"/>
<circle cx="163.2" cy="348.0" r="0.37" fill="#2a0e0c" opacity="0.8"/>
<circle cx="150.4" cy="341.9" r="0.34" fill="#6a2018" opacity="0.8"/>
<circle cx="139.5" cy="352.6" r="0.39" fill="#2a0e0c" opacity="0.8"/>
<circle cx="133.6" cy="344.4" r="0.45" fill="#6a2018" opacity="0.8"/>
<circle cx="162.4" cy="335.3" r="0.51" fill="#2a0e0c" opacity="0.8"/>
<rect x="150.00" y="348.20" width="18.60" height="18.90" fill="#ecd4d4"/>
<circle cx="151.8" cy="352.8" r="0.68" fill="#8a3a2a" opacity="0.7"/>
<circle cx="152.9" cy="353.8" r="0.47" fill="#8a3a2a" opacity="0.7"/>
<circle cx="160.8" cy="360.6" r="0.74" fill="#d4a0a0" opacity="0.5"/>
<circle cx="154.0" cy="363.0" r="0.45" fill="#b4685a" opacity="0.55"/>
<circle cx="151.6" cy="349.3" r="0.89" fill="#c88a80" opacity="0.5"/>
<circle cx="152.1" cy="355.0" r="0.52" fill="#4a1410" opacity="0.85"/>
<circle cx="163.6" cy="354.4" r="0.47" fill="#2a0e0c" opacity="0.8"/>
<circle cx="158.7" cy="361.4" r="0.49" fill="#d4a0a0" opacity="0.5"/>
<circle cx="165.7" cy="358.9" r="0.79" fill="#d4a0a0" opacity="0.5"/>
<circle cx="163.0" cy="353.9" r="0.90" fill="#b4685a" opacity="0.55"/>
<circle cx="166.4" cy="353.7" r="0.52" fill="#8a3a2a" opacity="0.7"/>
<circle cx="162.9" cy="350.8" r="0.41" fill="#d4a0a0" opacity="0.5"/>
<circle cx="167.5" cy="355.4" r="0.56" fill="#8a3a2a" opacity="0.7"/>
<circle cx="163.4" cy="358.2" r="0.61" fill="#4a1410" opacity="0.85"/>
<circle cx="160.1" cy="359.4" r="0.56" fill="#4a1410" opacity="0.85"/>
<circle cx="164.1" cy="361.1" r="0.74" fill="#4a1410" opacity="0.85"/>
<circle cx="166.6" cy="360.1" r="0.81" fill="#b4685a" opacity="0.55"/>
<circle cx="155.6" cy="362.2" r="0.43" fill="#c88a80" opacity="0.5"/>
<circle cx="165.4" cy="364.5" r="0.90" fill="#d4a0a0" opacity="0.5"/>
<circle cx="159.1" cy="352.1" r="0.70" fill="#8a3a2a" opacity="0.7"/>
<circle cx="151.3" cy="356.1" r="0.41" fill="#2a0e0c" opacity="0.8"/>
<circle cx="163.6" cy="362.5" r="0.66" fill="#d4a0a0" opacity="0.5"/>
<circle cx="152.3" cy="352.5" r="0.54" fill="#2a0e0c" opacity="0.8"/>
<circle cx="152.4" cy="358.6" r="0.45" fill="#b4685a" opacity="0.55"/>
<circle cx="152.3" cy="350.2" r="0.86" fill="#8a3a2a" opacity="0.7"/>
<circle cx="155.9" cy="355.8" r="0.64" fill="#6a2018" opacity="0.8"/>
<circle cx="162.8" cy="355.8" r="0.89" fill="#4a1410" opacity="0.85"/>
<circle cx="157.9" cy="348.5" r="0.84" fill="#c88a80" opacity="0.5"/>
<circle cx="161.3" cy="358.3" r="0.85" fill="#6a2018" opacity="0.8"/>
<circle cx="153.0" cy="366.0" r="0.77" fill="#c88a80" opacity="0.5"/>
<circle cx="160.4" cy="352.5" r="0.74" fill="#2a0e0c" opacity="0.8"/>
<circle cx="168.3" cy="365.9" r="0.73" fill="#d4a0a0" opacity="0.5"/>
<circle cx="159.8" cy="349.2" r="0.49" fill="#4a1410" opacity="0.85"/>
<circle cx="151.4" cy="348.2" r="0.70" fill="#2a0e0c" opacity="0.8"/>
<circle cx="157.0" cy="351.2" r="0.82" fill="#b4685a" opacity="0.55"/>
<circle cx="167.1" cy="352.9" r="0.80" fill="#b4685a" opacity="0.55"/>
<circle cx="156.1" cy="361.2" r="0.68" fill="#c88a80" opacity="0.5"/>
<circle cx="150.7" cy="353.1" r="0.82" fill="#c88a80" opacity="0.5"/>
<circle cx="166.0" cy="353.1" r="0.76" fill="#b4685a" opacity="0.55"/>
<circle cx="166.4" cy="363.2" r="0.53" fill="#8a3a2a" opacity="0.7"/>
<circle cx="160.2" cy="366.6" r="0.71" fill="#c88a80" opacity="0.5"/>
<circle cx="168.0" cy="364.0" r="0.74" fill="#2a0e0c" opacity="0.8"/>
<circle cx="159.0" cy="357.7" r="0.61" fill="#d4a0a0" opacity="0.5"/>
<circle cx="159.5" cy="365.7" r="0.65" fill="#6a2018" opacity="0.8"/>
<circle cx="155.0" cy="360.0" r="0.66" fill="#2a0e0c" opacity="0.8"/>
<circle cx="158.4" cy="349.3" r="0.45" fill="#8a3a2a" opacity="0.7"/>
<circle cx="164.4" cy="349.9" r="0.40" fill="#6a2018" opacity="0.8"/>
<circle cx="167.8" cy="350.4" r="0.57" fill="#6a2018" opacity="0.8"/>
<circle cx="152.4" cy="357.5" r="0.51" fill="#d4a0a0" opacity="0.5"/>
<circle cx="162.6" cy="355.1" r="0.85" fill="#d4a0a0" opacity="0.5"/>
<circle cx="152.8" cy="366.6" r="0.52" fill="#2a0e0c" opacity="0.8"/>
<circle cx="152.6" cy="355.0" r="0.47" fill="#d4a0a0" opacity="0.5"/>
<circle cx="159.0" cy="355.4" r="0.86" fill="#4a1410" opacity="0.85"/>
<circle cx="160.3" cy="353.6" r="0.47" fill="#6a2018" opacity="0.8"/>
<circle cx="160.3" cy="353.6" r="0.74" fill="#6a2018" opacity="0.8"/>
<circle cx="163.7" cy="351.8" r="0.68" fill="#d4a0a0" opacity="0.5"/>
<circle cx="158.9" cy="358.9" r="0.75" fill="#b4685a" opacity="0.55"/>
<circle cx="163.1" cy="360.1" r="0.70" fill="#c88a80" opacity="0.5"/>
<circle cx="161.6" cy="348.6" r="0.76" fill="#2a0e0c" opacity="0.8"/>
<circle cx="157.4" cy="355.0" r="0.44" fill="#6a2018" opacity="0.8"/>
<circle cx="155.2" cy="357.5" r="0.82" fill="#c88a80" opacity="0.5"/>
<circle cx="157.4" cy="352.3" r="0.44" fill="#c88a80" opacity="0.5"/>
<circle cx="155.9" cy="366.6" r="0.88" fill="#c88a80" opacity="0.5"/>
<circle cx="150.2" cy="364.5" r="0.85" fill="#2a0e0c" opacity="0.8"/>
<circle cx="161.4" cy="362.3" r="0.61" fill="#6a2018" opacity="0.8"/>
<circle cx="162.6" cy="350.1" r="0.88" fill="#8a3a2a" opacity="0.7"/>
<circle cx="151.3" cy="362.6" r="0.48" fill="#6a2018" opacity="0.8"/>
<circle cx="159.4" cy="362.4" r="0.53" fill="#c88a80" opacity="0.5"/>
<circle cx="151.9" cy="351.6" r="0.84" fill="#8a3a2a" opacity="0.7"/>
<circle cx="163.6" cy="359.9" r="0.45" fill="#b4685a" opacity="0.55"/>
<circle cx="162.4" cy="356.0" r="0.68" fill="#8a3a2a" opacity="0.7"/>
<circle cx="154.5" cy="349.0" r="0.46" fill="#2a0e0c" opacity="0.8"/>
<circle cx="154.7" cy="366.9" r="0.71" fill="#6a2018" opacity="0.8"/>
<circle cx="163.6" cy="358.5" r="0.81" fill="#d4a0a0" opacity="0.5"/>
<circle cx="161.1" cy="360.0" r="0.55" fill="#4a1410" opacity="0.85"/>
<circle cx="153.3" cy="352.6" r="0.60" fill="#6a2018" opacity="0.8"/>
<circle cx="153.4" cy="362.6" r="0.60" fill="#b4685a" opacity="0.55"/>
<circle cx="164.2" cy="353.7" r="0.49" fill="#d4a0a0" opacity="0.5"/>
<circle cx="154.6" cy="360.6" r="0.76" fill="#6a2018" opacity="0.8"/>
<circle cx="165.5" cy="348.4" r="0.44" fill="#8a3a2a" opacity="0.7"/>
<circle cx="151.4" cy="348.4" r="0.83" fill="#c88a80" opacity="0.5"/>
<circle cx="161.3" cy="361.8" r="0.88" fill="#2a0e0c" opacity="0.8"/>
<circle cx="160.3" cy="363.0" r="0.84" fill="#c88a80" opacity="0.5"/>
<circle cx="156.4" cy="350.7" r="0.85" fill="#8a3a2a" opacity="0.7"/>
<circle cx="165.2" cy="357.4" r="0.88" fill="#8a3a2a" opacity="0.7"/>
<circle cx="154.2" cy="357.2" r="0.45" fill="#d4a0a0" opacity="0.5"/>
<circle cx="157.7" cy="364.8" r="0.46" fill="#6a2018" opacity="0.8"/>
<circle cx="160.1" cy="365.8" r="0.52" fill="#8a3a2a" opacity="0.7"/>
<circle cx="150.8" cy="359.0" r="0.41" fill="#c88a80" opacity="0.5"/>
<circle cx="162.3" cy="359.9" r="0.66" fill="#4a1410" opacity="0.85"/>
<circle cx="157.8" cy="353.0" r="0.85" fill="#6a2018" opacity="0.8"/>
<circle cx="158.3" cy="353.5" r="0.52" fill="#c88a80" opacity="0.5"/>
<circle cx="156.0" cy="356.2" r="0.42" fill="#4a1410" opacity="0.85"/>
<circle cx="163.1" cy="354.7" r="0.77" fill="#4a1410" opacity="0.85"/>
<circle cx="160.2" cy="349.9" r="0.45" fill="#d4a0a0" opacity="0.5"/>
<circle cx="160.4" cy="349.4" r="0.56" fill="#6a2018" opacity="0.8"/>
<circle cx="168.3" cy="350.2" r="0.51" fill="#2a0e0c" opacity="0.8"/>
<circle cx="157.7" cy="360.3" r="0.83" fill="#b4685a" opacity="0.55"/>
<circle cx="162.0" cy="358.5" r="0.76" fill="#b4685a" opacity="0.55"/>
<circle cx="158.3" cy="358.6" r="0.42" fill="#2a0e0c" opacity="0.8"/>
<circle cx="159.4" cy="348.7" r="0.74" fill="#8a3a2a" opacity="0.7"/>
<circle cx="159.0" cy="358.8" r="0.57" fill="#b4685a" opacity="0.55"/>
<circle cx="159.8" cy="358.0" r="0.88" fill="#b4685a" opacity="0.55"/>
<circle cx="156.9" cy="364.7" r="0.59" fill="#b4685a" opacity="0.55"/>
<circle cx="151.5" cy="355.8" r="0.60" fill="#c88a80" opacity="0.5"/>
<circle cx="163.1" cy="350.7" r="0.63" fill="#6a2018" opacity="0.8"/>
<circle cx="160.5" cy="356.5" r="0.82" fill="#2a0e0c" opacity="0.8"/>
<circle cx="152.1" cy="357.5" r="0.90" fill="#b4685a" opacity="0.55"/>
<circle cx="168.5" cy="355.8" r="0.78" fill="#4a1410" opacity="0.85"/>
<circle cx="154.1" cy="365.9" r="0.87" fill="#4a1410" opacity="0.85"/>
<rect x="150.00" y="348.20" width="18.60" height="18.90" fill="none" stroke="#94949c" stroke-width="0.55"/>
</g>
<rect x="124.40" y="323.00" width="44.20" height="44.50" fill="none" stroke="#b8b8bc" stroke-width="0.6"/>
<clipPath id="t11"><rect x="170.2" y="323.0" width="44.00" height="44.50"/></clipPath>
<g clip-path="url(#t11)">
<rect x="170.20" y="323.00" width="44.00" height="44.50" fill="#d8dde8" />
<g filter="url(#blur3)">
<ellipse cx="183.40" cy="349.70" rx="17.60" ry="17.80" fill="#c8dbec" opacity="0.7"/>
<ellipse cx="196.60" cy="336.35" rx="13.20" ry="13.35" fill="#dadae4" opacity="0.6"/>
</g>
<circle cx="206.6" cy="332.5" r="0.47" fill="#c4bccc" opacity="0.35"/>
<circle cx="187.7" cy="350.5" r="0.52" fill="#b4b0c4" opacity="0.35"/>
<circle cx="200.9" cy="347.9" r="0.53" fill="#b4b0c4" opacity="0.35"/>
<circle cx="188.5" cy="340.1" r="0.43" fill="#c4bccc" opacity="0.35"/>
<circle cx="205.7" cy="355.2" r="0.47" fill="#c4bccc" opacity="0.35"/>
<circle cx="171.7" cy="353.2" r="0.38" fill="#f2f2f6" opacity="0.5"/>
<circle cx="195.2" cy="341.1" r="0.57" fill="#c4bccc" opacity="0.35"/>
<circle cx="174.9" cy="327.4" r="0.61" fill="#c4bccc" opacity="0.35"/>
<circle cx="185.2" cy="362.1" r="0.63" fill="#f2f2f6" opacity="0.5"/>
<circle cx="171.0" cy="324.0" r="0.48" fill="#f2f2f6" opacity="0.5"/>
<circle cx="199.6" cy="365.3" r="0.56" fill="#c4bccc" opacity="0.35"/>
<circle cx="191.4" cy="344.8" r="0.34" fill="#f2f2f6" opacity="0.5"/>
<circle cx="200.2" cy="355.0" r="0.64" fill="#b4b0c4" opacity="0.35"/>
<circle cx="170.7" cy="344.7" r="0.57" fill="#f2f2f6" opacity="0.5"/>
<circle cx="190.3" cy="349.0" r="0.43" fill="#b4b0c4" opacity="0.35"/>
<circle cx="179.2" cy="353.7" r="0.50" fill="#b4b0c4" opacity="0.35"/>
<circle cx="193.7" cy="349.3" r="0.47" fill="#f2f2f6" opacity="0.5"/>
<circle cx="212.0" cy="348.6" r="0.64" fill="#f2f2f6" opacity="0.5"/>
<circle cx="175.9" cy="364.7" r="0.49" fill="#b4b0c4" opacity="0.35"/>
<circle cx="200.7" cy="339.4" r="0.32" fill="#c4bccc" opacity="0.35"/>
<circle cx="186.2" cy="361.9" r="0.60" fill="#b4b0c4" opacity="0.35"/>
<circle cx="175.4" cy="341.5" r="0.55" fill="#b4b0c4" opacity="0.35"/>
<circle cx="196.3" cy="356.9" r="0.34" fill="#c4bccc" opacity="0.35"/>
<circle cx="193.1" cy="340.6" r="0.34" fill="#f2f2f6" opacity="0.5"/>
<circle cx="181.5" cy="328.3" r="0.37" fill="#b4b0c4" opacity="0.35"/>
<circle cx="174.1" cy="344.3" r="0.32" fill="#c4bccc" opacity="0.35"/>
<circle cx="179.1" cy="364.6" r="0.56" fill="#c4bccc" opacity="0.35"/>
<circle cx="196.9" cy="325.6" r="0.43" fill="#f2f2f6" opacity="0.5"/>
<circle cx="185.6" cy="332.1" r="0.60" fill="#f2f2f6" opacity="0.5"/>
<circle cx="204.2" cy="335.0" r="0.44" fill="#b4b0c4" opacity="0.35"/>
<circle cx="182.0" cy="347.6" r="0.48" fill="#c4bccc" opacity="0.35"/>
<circle cx="195.2" cy="352.0" r="0.45" fill="#f2f2f6" opacity="0.5"/>
<circle cx="187.6" cy="356.3" r="0.51" fill="#b4b0c4" opacity="0.35"/>
<circle cx="194.9" cy="328.1" r="0.55" fill="#b4b0c4" opacity="0.35"/>
<circle cx="193.3" cy="353.5" r="0.54" fill="#b4b0c4" opacity="0.35"/>
<circle cx="209.9" cy="338.1" r="0.51" fill="#f2f2f6" opacity="0.5"/>
<circle cx="213.4" cy="360.6" r="0.61" fill="#c4bccc" opacity="0.35"/>
<circle cx="206.7" cy="336.6" r="0.60" fill="#f2f2f6" opacity="0.5"/>
<circle cx="197.2" cy="356.4" r="0.50" fill="#f2f2f6" opacity="0.5"/>
<circle cx="171.8" cy="343.8" r="0.39" fill="#c4bccc" opacity="0.35"/>
<circle cx="182.9" cy="326.3" r="0.64" fill="#b4b0c4" opacity="0.35"/>
<circle cx="193.1" cy="323.6" r="0.47" fill="#f2f2f6" opacity="0.5"/>
<circle cx="182.9" cy="356.5" r="0.39" fill="#b4b0c4" opacity="0.35"/>
<circle cx="170.5" cy="328.7" r="0.61" fill="#f2f2f6" opacity="0.5"/>
<circle cx="170.9" cy="343.8" r="0.54" fill="#b4b0c4" opacity="0.35"/>
<circle cx="181.6" cy="342.3" r="0.48" fill="#f2f2f6" opacity="0.5"/>
<circle cx="204.0" cy="358.4" r="0.61" fill="#f2f2f6" opacity="0.5"/>
<circle cx="188.0" cy="353.0" r="0.58" fill="#f2f2f6" opacity="0.5"/>
<circle cx="189.7" cy="359.9" r="0.46" fill="#c4bccc" opacity="0.35"/>
<circle cx="189.7" cy="342.5" r="0.38" fill="#b4b0c4" opacity="0.35"/>
<circle cx="212.2" cy="329.1" r="0.47" fill="#c4bccc" opacity="0.35"/>
<circle cx="194.2" cy="332.5" r="0.40" fill="#c4bccc" opacity="0.35"/>
<circle cx="181.6" cy="353.2" r="0.46" fill="#f2f2f6" opacity="0.5"/>
<circle cx="189.1" cy="359.9" r="0.52" fill="#b4b0c4" opacity="0.35"/>
<circle cx="181.3" cy="341.8" r="0.38" fill="#c4bccc" opacity="0.35"/>
<circle cx="206.0" cy="351.1" r="0.48" fill="#c4bccc" opacity="0.35"/>
<circle cx="194.1" cy="366.0" r="0.56" fill="#c4bccc" opacity="0.35"/>
<circle cx="179.8" cy="357.0" r="0.32" fill="#f2f2f6" opacity="0.5"/>
<circle cx="209.3" cy="328.0" r="0.31" fill="#f2f2f6" opacity="0.5"/>
<circle cx="190.0" cy="326.1" r="0.54" fill="#b4b0c4" opacity="0.35"/>
<circle cx="198.6" cy="344.7" r="0.60" fill="#f2f2f6" opacity="0.5"/>
<circle cx="191.7" cy="340.1" r="0.61" fill="#f2f2f6" opacity="0.5"/>
<circle cx="209.5" cy="358.1" r="0.38" fill="#c4bccc" opacity="0.35"/>
<circle cx="197.2" cy="324.6" r="0.64" fill="#b4b0c4" opacity="0.35"/>
<circle cx="173.6" cy="342.3" r="0.55" fill="#f2f2f6" opacity="0.5"/>
<circle cx="183.8" cy="360.9" r="0.56" fill="#f2f2f6" opacity="0.5"/>
<circle cx="179.2" cy="325.8" r="0.52" fill="#c4bccc" opacity="0.35"/>
<circle cx="179.5" cy="324.8" r="0.59" fill="#b4b0c4" opacity="0.35"/>
<circle cx="207.5" cy="363.5" r="0.44" fill="#f2f2f6" opacity="0.5"/>
<circle cx="188.2" cy="343.3" r="0.57" fill="#b4b0c4" opacity="0.35"/>
<circle cx="182.9" cy="364.9" r="0.50" fill="#f2f2f6" opacity="0.5"/>
<circle cx="183.5" cy="353.0" r="0.41" fill="#f2f2f6" opacity="0.5"/>
<circle cx="181.2" cy="349.1" r="0.51" fill="#c4bccc" opacity="0.35"/>
<circle cx="179.6" cy="323.8" r="0.60" fill="#f2f2f6" opacity="0.5"/>
<circle cx="213.4" cy="340.7" r="0.61" fill="#f2f2f6" opacity="0.5"/>
<circle cx="200.8" cy="358.0" r="0.44" fill="#c4bccc" opacity="0.35"/>
<circle cx="208.8" cy="336.0" r="0.51" fill="#c4bccc" opacity="0.35"/>
<circle cx="172.8" cy="350.7" r="0.57" fill="#c4bccc" opacity="0.35"/>
<circle cx="173.0" cy="358.9" r="0.37" fill="#f2f2f6" opacity="0.5"/>
<circle cx="173.3" cy="366.0" r="0.36" fill="#c4bccc" opacity="0.35"/>
<circle cx="198.7" cy="326.7" r="0.59" fill="#f2f2f6" opacity="0.5"/>
<circle cx="179.4" cy="338.0" r="0.34" fill="#c4bccc" opacity="0.35"/>
<circle cx="200.4" cy="358.1" r="0.36" fill="#f2f2f6" opacity="0.5"/>
<circle cx="177.8" cy="327.2" r="0.41" fill="#b4b0c4" opacity="0.35"/>
<circle cx="209.1" cy="366.1" r="0.50" fill="#c4bccc" opacity="0.35"/>
<circle cx="178.9" cy="345.9" r="0.46" fill="#c4bccc" opacity="0.35"/>
<circle cx="182.2" cy="335.3" r="0.51" fill="#b4b0c4" opacity="0.35"/>
<circle cx="201.0" cy="335.7" r="0.38" fill="#c4bccc" opacity="0.35"/>
<circle cx="201.6" cy="358.0" r="0.62" fill="#c4bccc" opacity="0.35"/>
<circle cx="214.0" cy="363.8" r="0.63" fill="#c4bccc" opacity="0.35"/>
<circle cx="204.0" cy="323.5" r="0.37" fill="#c4bccc" opacity="0.35"/>
<circle cx="201.3" cy="328.5" r="0.59" fill="#f2f2f6" opacity="0.5"/>
<circle cx="178.2" cy="334.5" r="0.56" fill="#c4bccc" opacity="0.35"/>
<circle cx="210.8" cy="357.8" r="0.54" fill="#f2f2f6" opacity="0.5"/>
<circle cx="201.1" cy="353.7" r="0.33" fill="#b4b0c4" opacity="0.35"/>
<circle cx="181.7" cy="334.0" r="0.39" fill="#f2f2f6" opacity="0.5"/>
<circle cx="207.5" cy="326.6" r="0.61" fill="#b4b0c4" opacity="0.35"/>
<circle cx="196.5" cy="345.8" r="0.43" fill="#c4bccc" opacity="0.35"/>
<circle cx="205.8" cy="350.6" r="0.64" fill="#c4bccc" opacity="0.35"/>
<circle cx="194.5" cy="358.7" r="0.39" fill="#c4bccc" opacity="0.35"/>
<circle cx="214.2" cy="347.0" r="0.35" fill="#c4bccc" opacity="0.35"/>
<circle cx="200.2" cy="357.2" r="0.42" fill="#c4bccc" opacity="0.35"/>
<circle cx="204.7" cy="347.8" r="0.56" fill="#c4bccc" opacity="0.35"/>
<circle cx="195.9" cy="360.6" r="0.32" fill="#b4b0c4" opacity="0.35"/>
<circle cx="182.8" cy="352.7" r="0.41" fill="#c4bccc" opacity="0.35"/>
<circle cx="172.7" cy="344.8" r="0.56" fill="#b4b0c4" opacity="0.35"/>
<circle cx="174.7" cy="352.8" r="0.40" fill="#f2f2f6" opacity="0.5"/>
<circle cx="174.4" cy="357.0" r="0.35" fill="#b4b0c4" opacity="0.35"/>
<circle cx="212.3" cy="342.3" r="0.40" fill="#f2f2f6" opacity="0.5"/>
<circle cx="195.2" cy="352.4" r="0.61" fill="#f2f2f6" opacity="0.5"/>
<circle cx="201.1" cy="358.6" r="0.55" fill="#b4b0c4" opacity="0.35"/>
<circle cx="172.0" cy="328.5" r="0.46" fill="#f2f2f6" opacity="0.5"/>
<circle cx="204.0" cy="346.6" r="0.31" fill="#b4b0c4" opacity="0.35"/>
<circle cx="204.7" cy="330.4" r="0.40" fill="#c4bccc" opacity="0.35"/>
<circle cx="207.8" cy="360.4" r="0.35" fill="#b4b0c4" opacity="0.35"/>
<circle cx="171.2" cy="351.4" r="0.52" fill="#b4b0c4" opacity="0.35"/>
<circle cx="210.0" cy="357.9" r="0.62" fill="#f2f2f6" opacity="0.5"/>
<circle cx="209.4" cy="351.0" r="0.38" fill="#f2f2f6" opacity="0.5"/>
<circle cx="185.9" cy="335.5" r="0.44" fill="#b4b0c4" opacity="0.35"/>
<circle cx="201.8" cy="340.6" r="0.59" fill="#c4bccc" opacity="0.35"/>
<circle cx="196.8" cy="348.5" r="0.41" fill="#f2f2f6" opacity="0.5"/>
<circle cx="178.0" cy="345.2" r="0.52" fill="#c4bccc" opacity="0.35"/>
<circle cx="195.2" cy="325.5" r="0.63" fill="#c4bccc" opacity="0.35"/>
<circle cx="189.4" cy="351.0" r="0.37" fill="#b4b0c4" opacity="0.35"/>
<circle cx="172.3" cy="325.8" r="0.40" fill="#c4bccc" opacity="0.35"/>
<circle cx="202.3" cy="351.7" r="0.52" fill="#f2f2f6" opacity="0.5"/>
<circle cx="198.6" cy="324.9" r="0.55" fill="#f2f2f6" opacity="0.5"/>
<circle cx="210.5" cy="365.7" r="0.40" fill="#c4bccc" opacity="0.35"/>
<circle cx="195.4" cy="351.6" r="0.36" fill="#c4bccc" opacity="0.35"/>
<circle cx="183.3" cy="361.8" r="0.55" fill="#f2f2f6" opacity="0.5"/>
<circle cx="186.1" cy="366.7" r="0.62" fill="#c4bccc" opacity="0.35"/>
<circle cx="170.9" cy="355.2" r="0.30" fill="#c4bccc" opacity="0.35"/>
<circle cx="210.0" cy="339.5" r="0.52" fill="#f2f2f6" opacity="0.5"/>
<circle cx="189.5" cy="356.1" r="0.62" fill="#c4bccc" opacity="0.35"/>
<circle cx="203.5" cy="350.2" r="0.59" fill="#f2f2f6" opacity="0.5"/>
<circle cx="186.2" cy="342.6" r="0.33" fill="#c4bccc" opacity="0.35"/>
<circle cx="199.0" cy="325.8" r="0.33" fill="#b4b0c4" opacity="0.35"/>
<circle cx="188.5" cy="346.5" r="0.63" fill="#c4bccc" opacity="0.35"/>
<circle cx="205.6" cy="361.0" r="0.59" fill="#b4b0c4" opacity="0.35"/>
<circle cx="186.5" cy="343.9" r="0.55" fill="#c4bccc" opacity="0.35"/>
<circle cx="176.5" cy="356.9" r="0.40" fill="#9a6060" opacity="0.5"/>
<circle cx="183.0" cy="349.9" r="0.31" fill="#c09090" opacity="0.45"/>
<circle cx="202.8" cy="335.9" r="0.46" fill="#d0b0b8" opacity="0.5"/>
<circle cx="213.6" cy="362.0" r="0.39" fill="#d0b0b8" opacity="0.5"/>
<circle cx="205.6" cy="344.0" r="0.37" fill="#d0b0b8" opacity="0.5"/>
<circle cx="188.4" cy="356.6" r="0.30" fill="#9a6060" opacity="0.5"/>
<circle cx="170.8" cy="359.0" r="0.49" fill="#d0b0b8" opacity="0.5"/>
<circle cx="175.3" cy="331.4" r="0.34" fill="#c09090" opacity="0.45"/>
<circle cx="193.0" cy="338.3" r="0.44" fill="#9a6060" opacity="0.5"/>
<circle cx="201.8" cy="336.4" r="0.43" fill="#d0b0b8" opacity="0.5"/>
<circle cx="189.2" cy="345.7" r="0.32" fill="#9a6060" opacity="0.5"/>
<circle cx="177.5" cy="366.6" r="0.38" fill="#d0b0b8" opacity="0.5"/>
<circle cx="171.7" cy="347.1" r="0.50" fill="#9a6060" opacity="0.5"/>
<circle cx="201.9" cy="328.1" r="0.39" fill="#c09090" opacity="0.45"/>
<circle cx="182.6" cy="339.6" r="0.36" fill="#c09090" opacity="0.45"/>
<circle cx="189.4" cy="349.1" r="0.38" fill="#d0b0b8" opacity="0.5"/>
<circle cx="212.2" cy="356.4" r="0.38" fill="#c09090" opacity="0.45"/>
<circle cx="203.7" cy="325.9" r="0.34" fill="#c09090" opacity="0.45"/>
<circle cx="208.2" cy="342.8" r="0.42" fill="#9a6060" opacity="0.5"/>
<circle cx="198.5" cy="348.2" r="0.42" fill="#c09090" opacity="0.45"/>
<circle cx="173.5" cy="346.8" r="0.43" fill="#9a6060" opacity="0.5"/>
<circle cx="186.9" cy="350.5" r="0.45" fill="#9a6060" opacity="0.5"/>
<circle cx="191.7" cy="364.2" r="0.41" fill="#9a6060" opacity="0.5"/>
<circle cx="201.3" cy="343.4" r="0.46" fill="#d0b0b8" opacity="0.5"/>
<circle cx="179.7" cy="334.9" r="0.32" fill="#9a6060" opacity="0.5"/>
<circle cx="199.9" cy="351.9" r="0.44" fill="#c09090" opacity="0.45"/>
<circle cx="193.3" cy="352.7" r="0.35" fill="#9a6060" opacity="0.5"/>
<circle cx="170.3" cy="338.9" r="0.48" fill="#d0b0b8" opacity="0.5"/>
<circle cx="193.5" cy="335.1" r="0.35" fill="#c09090" opacity="0.45"/>
<circle cx="213.9" cy="355.3" r="0.38" fill="#9a6060" opacity="0.5"/>
<circle cx="197.7" cy="358.1" r="0.36" fill="#d0b0b8" opacity="0.5"/>
<circle cx="190.3" cy="352.4" r="0.41" fill="#9a6060" opacity="0.5"/>
<circle cx="210.6" cy="339.1" r="0.45" fill="#d0b0b8" opacity="0.5"/>
<circle cx="212.4" cy="364.0" r="0.46" fill="#c09090" opacity="0.45"/>
<circle cx="185.5" cy="364.0" r="0.36" fill="#c09090" opacity="0.45"/>
<circle cx="204.6" cy="360.8" r="0.45" fill="#9a6060" opacity="0.5"/>
<circle cx="171.7" cy="350.3" r="0.50" fill="#c09090" opacity="0.45"/>
<circle cx="182.9" cy="334.7" r="0.49" fill="#c09090" opacity="0.45"/>
<circle cx="195.2" cy="349.8" r="0.43" fill="#c09090" opacity="0.45"/>
<circle cx="170.6" cy="354.0" r="0.33" fill="#c09090" opacity="0.45"/>
<circle cx="183.8" cy="353.2" r="0.45" fill="#c09090" opacity="0.45"/>
<circle cx="207.1" cy="334.3" r="0.36" fill="#9a6060" opacity="0.5"/>
<circle cx="171.6" cy="343.8" r="0.36" fill="#d0b0b8" opacity="0.5"/>
<circle cx="176.3" cy="345.8" r="0.36" fill="#9a6060" opacity="0.5"/>
<circle cx="189.1" cy="361.6" r="0.37" fill="#9a6060" opacity="0.5"/>
<circle cx="199.8" cy="323.2" r="0.43" fill="#9a6060" opacity="0.5"/>
<circle cx="208.3" cy="338.2" r="0.45" fill="#c09090" opacity="0.45"/>
<circle cx="178.3" cy="327.8" r="0.34" fill="#c09090" opacity="0.45"/>
<circle cx="198.4" cy="332.6" r="0.32" fill="#d0b0b8" opacity="0.5"/>
<circle cx="201.5" cy="327.7" r="0.34" fill="#d0b0b8" opacity="0.5"/>
<circle cx="210.0" cy="354.6" r="0.36" fill="#d0b0b8" opacity="0.5"/>
<circle cx="175.5" cy="350.4" r="0.49" fill="#d0b0b8" opacity="0.5"/>
<circle cx="179.2" cy="344.4" r="0.33" fill="#c09090" opacity="0.45"/>
<circle cx="199.8" cy="354.1" r="0.37" fill="#d0b0b8" opacity="0.5"/>
<circle cx="171.0" cy="339.4" r="0.40" fill="#d0b0b8" opacity="0.5"/>
<circle cx="206.2" cy="328.6" r="0.42" fill="#c09090" opacity="0.45"/>
<circle cx="214.2" cy="327.9" r="0.34" fill="#9a6060" opacity="0.5"/>
<circle cx="180.8" cy="361.2" r="0.38" fill="#9a6060" opacity="0.5"/>
<circle cx="214.1" cy="357.1" r="0.42" fill="#c09090" opacity="0.45"/>
<circle cx="178.4" cy="339.6" r="0.32" fill="#9a6060" opacity="0.5"/>
<circle cx="186.4" cy="324.9" r="0.41" fill="#d0b0b8" opacity="0.5"/>
<circle cx="199.5" cy="350.4" r="0.36" fill="#d0b0b8" opacity="0.5"/>
<circle cx="203.8" cy="352.0" r="0.37" fill="#d0b0b8" opacity="0.5"/>
<circle cx="185.5" cy="335.4" r="0.30" fill="#9a6060" opacity="0.5"/>
<circle cx="205.5" cy="343.4" r="0.46" fill="#9a6060" opacity="0.5"/>
<circle cx="207.8" cy="350.4" r="0.44" fill="#c09090" opacity="0.45"/>
<circle cx="186.3" cy="330.7" r="0.39" fill="#c09090" opacity="0.45"/>
<circle cx="178.8" cy="351.7" r="0.30" fill="#9a6060" opacity="0.5"/>
<circle cx="198.8" cy="355.7" r="0.38" fill="#c09090" opacity="0.45"/>
<circle cx="200.6" cy="348.7" r="0.45" fill="#d0b0b8" opacity="0.5"/>
<circle cx="213.2" cy="323.4" r="0.35" fill="#9a6060" opacity="0.5"/>
<circle cx="178.8" cy="344.9" r="0.33" fill="#9a6060" opacity="0.5"/>
<circle cx="199.5" cy="324.9" r="0.33" fill="#c09090" opacity="0.45"/>
<circle cx="194.6" cy="339.5" r="0.39" fill="#c09090" opacity="0.45"/>
<circle cx="181.8" cy="345.3" r="0.42" fill="#c09090" opacity="0.45"/>
<circle cx="214.1" cy="355.8" r="0.32" fill="#c09090" opacity="0.45"/>
<circle cx="210.5" cy="354.8" r="0.31" fill="#c09090" opacity="0.45"/>
<circle cx="211.2" cy="340.8" r="0.38" fill="#c09090" opacity="0.45"/>
<circle cx="175.4" cy="335.8" r="0.40" fill="#c09090" opacity="0.45"/>
<circle cx="200.7" cy="349.1" r="0.36" fill="#9a6060" opacity="0.5"/>
<circle cx="195.2" cy="360.1" r="0.35" fill="#d0b0b8" opacity="0.5"/>
<circle cx="211.1" cy="333.1" r="0.41" fill="#9a6060" opacity="0.5"/>
<circle cx="182.1" cy="352.5" r="0.33" fill="#d0b0b8" opacity="0.5"/>
<circle cx="182.2" cy="348.9" r="0.47" fill="#d0b0b8" opacity="0.5"/>
<circle cx="171.6" cy="330.9" r="0.36" fill="#d0b0b8" opacity="0.5"/>
<circle cx="182.5" cy="337.9" r="0.34" fill="#c09090" opacity="0.45"/>
<circle cx="213.7" cy="349.5" r="0.31" fill="#9a6060" opacity="0.5"/>
<circle cx="177.4" cy="332.6" r="0.45" fill="#d0b0b8" opacity="0.5"/>
<circle cx="176.5" cy="344.7" r="0.42" fill="#c09090" opacity="0.45"/>
<circle cx="191.1" cy="344.3" r="0.31" fill="#9a6060" opacity="0.5"/>
<circle cx="192.7" cy="355.8" r="0.46" fill="#d0b0b8" opacity="0.5"/>
<circle cx="193.6" cy="333.1" r="0.32" fill="#d0b0b8" opacity="0.5"/>
<circle cx="200.5" cy="324.0" r="0.34" fill="#9a6060" opacity="0.5"/>
<circle cx="180.2" cy="342.2" r="0.31" fill="#d0b0b8" opacity="0.5"/>
<circle cx="206.7" cy="323.4" r="0.38" fill="#d0b0b8" opacity="0.5"/>
<circle cx="172.5" cy="325.7" r="0.35" fill="#c09090" opacity="0.45"/>
<circle cx="170.7" cy="335.5" r="0.38" fill="#d0b0b8" opacity="0.5"/>
<circle cx="185.2" cy="343.1" r="0.43" fill="#9a6060" opacity="0.5"/>
<circle cx="185.7" cy="361.4" r="0.48" fill="#c09090" opacity="0.45"/>
<circle cx="177.2" cy="362.0" r="0.38" fill="#d0b0b8" opacity="0.5"/>
<circle cx="174.1" cy="344.3" r="0.48" fill="#c09090" opacity="0.45"/>
<circle cx="201.4" cy="327.2" r="0.37" fill="#9a6060" opacity="0.5"/>
<circle cx="201.5" cy="354.6" r="0.37" fill="#d0b0b8" opacity="0.5"/>
<circle cx="191.3" cy="364.0" r="0.50" fill="#d0b0b8" opacity="0.5"/>
<circle cx="200.5" cy="352.4" r="0.34" fill="#9a6060" opacity="0.5"/>
<circle cx="175.8" cy="347.7" r="0.37" fill="#9a6060" opacity="0.5"/>
<circle cx="201.6" cy="359.0" r="0.45" fill="#9a6060" opacity="0.5"/>
<circle cx="181.3" cy="333.2" r="0.46" fill="#9a6060" opacity="0.5"/>
<circle cx="209.1" cy="358.5" r="0.39" fill="#9a6060" opacity="0.5"/>
<circle cx="203.1" cy="338.3" r="0.43" fill="#d0b0b8" opacity="0.5"/>
<circle cx="176.9" cy="332.1" r="0.46" fill="#c09090" opacity="0.45"/>
<circle cx="176.4" cy="335.6" r="0.48" fill="#c09090" opacity="0.45"/>
<circle cx="179.6" cy="363.2" r="0.33" fill="#c09090" opacity="0.45"/>
<circle cx="179.3" cy="336.6" r="0.41" fill="#9a6060" opacity="0.5"/>
<circle cx="182.4" cy="350.5" r="0.42" fill="#c09090" opacity="0.45"/>
<circle cx="171.2" cy="339.5" r="0.32" fill="#d0b0b8" opacity="0.5"/>
<circle cx="206.0" cy="346.9" r="0.45" fill="#9a6060" opacity="0.5"/>
<circle cx="172.2" cy="348.6" r="0.44" fill="#d0b0b8" opacity="0.5"/>
<circle cx="172.9" cy="366.6" r="0.46" fill="#c09090" opacity="0.45"/>
<circle cx="214.0" cy="359.9" r="0.42" fill="#9a6060" opacity="0.5"/>
<circle cx="177.9" cy="365.2" r="0.41" fill="#2a0e0c" opacity="0.8"/>
<circle cx="185.2" cy="357.1" r="0.42" fill="#6a2018" opacity="0.8"/>
<circle cx="177.0" cy="348.5" r="0.50" fill="#4a1410" opacity="0.85"/>
<circle cx="212.4" cy="335.6" r="0.46" fill="#2a0e0c" opacity="0.8"/>
<circle cx="205.1" cy="366.4" r="0.43" fill="#6a2018" opacity="0.8"/>
<circle cx="213.9" cy="363.7" r="0.34" fill="#4a1410" opacity="0.85"/>
<circle cx="184.6" cy="330.6" r="0.36" fill="#2a0e0c" opacity="0.8"/>
<circle cx="193.4" cy="349.8" r="0.37" fill="#6a2018" opacity="0.8"/>
<circle cx="197.1" cy="337.8" r="0.35" fill="#2a0e0c" opacity="0.8"/>
<circle cx="195.0" cy="366.6" r="0.48" fill="#4a1410" opacity="0.85"/>
<circle cx="213.4" cy="367.2" r="0.37" fill="#6a2018" opacity="0.8"/>
<circle cx="203.4" cy="333.2" r="0.48" fill="#4a1410" opacity="0.85"/>
<circle cx="197.7" cy="328.5" r="0.38" fill="#6a2018" opacity="0.8"/>
<circle cx="186.0" cy="361.5" r="0.46" fill="#6a2018" opacity="0.8"/>
<circle cx="192.5" cy="340.7" r="0.49" fill="#4a1410" opacity="0.85"/>
<circle cx="197.8" cy="351.5" r="0.34" fill="#4a1410" opacity="0.85"/>
<circle cx="185.8" cy="355.8" r="0.43" fill="#6a2018" opacity="0.8"/>
<circle cx="198.3" cy="363.9" r="0.33" fill="#4a1410" opacity="0.85"/>
<circle cx="179.6" cy="364.2" r="0.43" fill="#6a2018" opacity="0.8"/>
<circle cx="176.3" cy="333.5" r="0.36" fill="#6a2018" opacity="0.8"/>
<rect x="196.20" y="323.50" width="18.00" height="17.20" fill="#e6e4ea"/>
<circle cx="205.6" cy="329.9" r="0.77" fill="#2a0e0c" opacity="0.8"/>
<circle cx="201.2" cy="325.5" r="0.71" fill="#6a2018" opacity="0.8"/>
<circle cx="209.8" cy="325.2" r="0.91" fill="#2a0e0c" opacity="0.8"/>
<circle cx="205.8" cy="333.4" r="0.42" fill="#2a0e0c" opacity="0.8"/>
<circle cx="214.0" cy="326.1" r="0.41" fill="#6a2018" opacity="0.8"/>
<circle cx="202.1" cy="336.9" r="0.52" fill="#4a1410" opacity="0.85"/>
<circle cx="208.3" cy="333.0" r="0.67" fill="#4a1410" opacity="0.85"/>
<circle cx="208.9" cy="337.5" r="0.56" fill="#4a1410" opacity="0.85"/>
<circle cx="205.2" cy="331.0" r="0.61" fill="#2a0e0c" opacity="0.8"/>
<circle cx="201.5" cy="337.5" r="0.61" fill="#6a2018" opacity="0.8"/>
<circle cx="213.7" cy="339.4" r="0.50" fill="#6a2018" opacity="0.8"/>
<circle cx="196.9" cy="329.4" r="0.80" fill="#2a0e0c" opacity="0.8"/>
<circle cx="201.0" cy="328.3" r="0.67" fill="#2a0e0c" opacity="0.8"/>
<circle cx="210.4" cy="334.6" r="0.98" fill="#6a2018" opacity="0.8"/>
<circle cx="207.3" cy="329.7" r="0.91" fill="#4a1410" opacity="0.85"/>
<circle cx="202.3" cy="335.6" r="0.71" fill="#6a2018" opacity="0.8"/>
<circle cx="203.8" cy="326.6" r="0.48" fill="#6a2018" opacity="0.8"/>
<circle cx="211.9" cy="325.6" r="0.92" fill="#6a2018" opacity="0.8"/>
<circle cx="211.0" cy="338.0" r="0.41" fill="#6a2018" opacity="0.8"/>
<circle cx="213.2" cy="326.6" r="0.72" fill="#4a1410" opacity="0.85"/>
<circle cx="196.8" cy="339.3" r="0.41" fill="#d0a0a0" opacity="0.5"/>
<circle cx="202.8" cy="338.0" r="0.42" fill="#d0a0a0" opacity="0.5"/>
<circle cx="206.3" cy="330.7" r="0.41" fill="#d0a0a0" opacity="0.5"/>
<circle cx="211.0" cy="330.0" r="0.54" fill="#d0a0a0" opacity="0.5"/>
<circle cx="206.2" cy="326.8" r="0.56" fill="#d0a0a0" opacity="0.5"/>
<circle cx="209.7" cy="329.1" r="0.47" fill="#d0a0a0" opacity="0.5"/>
<circle cx="213.5" cy="334.8" r="0.52" fill="#d0a0a0" opacity="0.5"/>
<circle cx="206.1" cy="329.9" r="0.54" fill="#d0a0a0" opacity="0.5"/>
<circle cx="208.3" cy="333.1" r="0.49" fill="#d0a0a0" opacity="0.5"/>
<circle cx="207.1" cy="336.5" r="0.47" fill="#d0a0a0" opacity="0.5"/>
<circle cx="196.2" cy="330.0" r="0.50" fill="#d0a0a0" opacity="0.5"/>
<circle cx="196.3" cy="338.3" r="0.44" fill="#d0a0a0" opacity="0.5"/>
<circle cx="202.2" cy="332.9" r="0.60" fill="#d0a0a0" opacity="0.5"/>
<circle cx="201.9" cy="334.0" r="0.41" fill="#d0a0a0" opacity="0.5"/>
<circle cx="210.3" cy="334.0" r="0.39" fill="#d0a0a0" opacity="0.5"/>
<circle cx="208.1" cy="334.3" r="0.44" fill="#d0a0a0" opacity="0.5"/>
<circle cx="206.7" cy="336.8" r="0.65" fill="#d0a0a0" opacity="0.5"/>
<circle cx="198.5" cy="337.7" r="0.68" fill="#d0a0a0" opacity="0.5"/>
<circle cx="202.1" cy="330.5" r="0.52" fill="#d0a0a0" opacity="0.5"/>
<circle cx="205.0" cy="333.0" r="0.54" fill="#d0a0a0" opacity="0.5"/>
<circle cx="204.9" cy="336.0" r="0.47" fill="#d0a0a0" opacity="0.5"/>
<circle cx="208.9" cy="336.1" r="0.53" fill="#d0a0a0" opacity="0.5"/>
<circle cx="203.6" cy="336.3" r="0.50" fill="#d0a0a0" opacity="0.5"/>
<circle cx="213.6" cy="329.7" r="0.54" fill="#d0a0a0" opacity="0.5"/>
<circle cx="200.2" cy="332.2" r="0.47" fill="#d0a0a0" opacity="0.5"/>
<circle cx="213.4" cy="327.8" r="0.64" fill="#d0a0a0" opacity="0.5"/>
<circle cx="201.9" cy="330.2" r="0.61" fill="#d0a0a0" opacity="0.5"/>
<circle cx="208.4" cy="330.9" r="0.58" fill="#d0a0a0" opacity="0.5"/>
<circle cx="204.8" cy="335.8" r="0.38" fill="#d0a0a0" opacity="0.5"/>
<circle cx="206.9" cy="335.6" r="0.31" fill="#d0a0a0" opacity="0.5"/>
<rect x="196.20" y="323.50" width="18.00" height="17.20" fill="none" stroke="#94949c" stroke-width="0.55"/>
<rect x="176.50" y="350.00" width="7.00" height="7.50" fill="none" stroke="#9a9aa2" stroke-width="0.5"/>
<rect x="181.50" y="353.00" width="6.00" height="7.00" fill="none" stroke="#9a9aa2" stroke-width="0.5"/>
</g>
<rect x="170.20" y="323.00" width="44.00" height="44.50" fill="none" stroke="#b8b8bc" stroke-width="0.6"/>
<clipPath id="t21"><rect x="216.0" y="323.0" width="44.20" height="44.50"/></clipPath>
<g clip-path="url(#t21)">
<rect x="216.00" y="323.00" width="44.20" height="44.50" fill="#bcd9e9" />
<g filter="url(#blur3)">
<ellipse cx="238.10" cy="345.25" rx="17.68" ry="17.80" fill="#c6def0" opacity="0.7"/>
<ellipse cx="251.36" cy="358.60" rx="13.26" ry="8.90" fill="#b8d4e6" opacity="0.6"/>
</g>
<circle cx="219.9" cy="349.0" r="0.52" fill="#c4bccc" opacity="0.35"/>
<circle cx="223.8" cy="358.6" r="0.63" fill="#b4b0c4" opacity="0.35"/>
<circle cx="228.6" cy="360.8" r="0.32" fill="#c4bccc" opacity="0.35"/>
<circle cx="248.1" cy="361.8" r="0.45" fill="#f2f2f6" opacity="0.5"/>
<circle cx="221.8" cy="343.9" r="0.46" fill="#c4bccc" opacity="0.35"/>
<circle cx="226.1" cy="338.4" r="0.57" fill="#c4bccc" opacity="0.35"/>
<circle cx="230.2" cy="333.5" r="0.49" fill="#c4bccc" opacity="0.35"/>
<circle cx="224.0" cy="337.3" r="0.31" fill="#c4bccc" opacity="0.35"/>
<circle cx="255.0" cy="343.5" r="0.56" fill="#c4bccc" opacity="0.35"/>
<circle cx="256.1" cy="323.4" r="0.60" fill="#b4b0c4" opacity="0.35"/>
<circle cx="252.0" cy="353.9" r="0.50" fill="#c4bccc" opacity="0.35"/>
<circle cx="239.5" cy="332.7" r="0.37" fill="#f2f2f6" opacity="0.5"/>
<circle cx="225.1" cy="364.4" r="0.47" fill="#b4b0c4" opacity="0.35"/>
<circle cx="241.5" cy="352.0" r="0.36" fill="#b4b0c4" opacity="0.35"/>
<circle cx="224.4" cy="332.1" r="0.31" fill="#b4b0c4" opacity="0.35"/>
<circle cx="254.3" cy="357.0" r="0.54" fill="#c4bccc" opacity="0.35"/>
<circle cx="251.0" cy="361.3" r="0.50" fill="#f2f2f6" opacity="0.5"/>
<circle cx="251.3" cy="337.5" r="0.61" fill="#f2f2f6" opacity="0.5"/>
<circle cx="245.0" cy="365.6" r="0.47" fill="#c4bccc" opacity="0.35"/>
<circle cx="216.1" cy="342.5" r="0.50" fill="#c4bccc" opacity="0.35"/>
<circle cx="224.4" cy="345.0" r="0.44" fill="#f2f2f6" opacity="0.5"/>
<circle cx="249.4" cy="326.7" r="0.33" fill="#b4b0c4" opacity="0.35"/>
<circle cx="239.0" cy="358.8" r="0.43" fill="#c4bccc" opacity="0.35"/>
<circle cx="229.7" cy="331.0" r="0.35" fill="#c4bccc" opacity="0.35"/>
<circle cx="225.6" cy="353.3" r="0.36" fill="#b4b0c4" opacity="0.35"/>
<circle cx="254.3" cy="326.1" r="0.39" fill="#f2f2f6" opacity="0.5"/>
<circle cx="249.8" cy="355.7" r="0.57" fill="#c4bccc" opacity="0.35"/>
<circle cx="216.4" cy="356.8" r="0.48" fill="#b4b0c4" opacity="0.35"/>
<circle cx="218.1" cy="324.0" r="0.61" fill="#b4b0c4" opacity="0.35"/>
<circle cx="232.4" cy="350.9" r="0.56" fill="#f2f2f6" opacity="0.5"/>
<circle cx="241.1" cy="355.5" r="0.55" fill="#f2f2f6" opacity="0.5"/>
<circle cx="216.3" cy="352.4" r="0.44" fill="#f2f2f6" opacity="0.5"/>
<circle cx="238.1" cy="325.9" r="0.32" fill="#b4b0c4" opacity="0.35"/>
<circle cx="235.9" cy="330.2" r="0.50" fill="#c4bccc" opacity="0.35"/>
<circle cx="232.6" cy="338.1" r="0.42" fill="#b4b0c4" opacity="0.35"/>
<circle cx="227.5" cy="360.0" r="0.49" fill="#c4bccc" opacity="0.35"/>
<circle cx="241.3" cy="356.4" r="0.52" fill="#b4b0c4" opacity="0.35"/>
<circle cx="235.4" cy="354.9" r="0.43" fill="#c4bccc" opacity="0.35"/>
<circle cx="227.0" cy="361.6" r="0.50" fill="#c4bccc" opacity="0.35"/>
<circle cx="217.3" cy="360.9" r="0.33" fill="#b4b0c4" opacity="0.35"/>
<circle cx="242.3" cy="352.9" r="0.35" fill="#c4bccc" opacity="0.35"/>
<circle cx="216.9" cy="329.1" r="0.33" fill="#f2f2f6" opacity="0.5"/>
<circle cx="230.9" cy="357.6" r="0.61" fill="#b4b0c4" opacity="0.35"/>
<circle cx="234.4" cy="346.5" r="0.31" fill="#b4b0c4" opacity="0.35"/>
<circle cx="256.3" cy="336.4" r="0.44" fill="#c4bccc" opacity="0.35"/>
<circle cx="243.1" cy="330.5" r="0.58" fill="#f2f2f6" opacity="0.5"/>
<circle cx="235.2" cy="344.1" r="0.54" fill="#f2f2f6" opacity="0.5"/>
<circle cx="230.2" cy="365.9" r="0.64" fill="#b4b0c4" opacity="0.35"/>
<circle cx="260.2" cy="352.5" r="0.44" fill="#b4b0c4" opacity="0.35"/>
<circle cx="242.9" cy="363.6" r="0.54" fill="#f2f2f6" opacity="0.5"/>
<circle cx="244.7" cy="364.6" r="0.48" fill="#b4b0c4" opacity="0.35"/>
<circle cx="223.9" cy="356.8" r="0.46" fill="#f2f2f6" opacity="0.5"/>
<circle cx="217.7" cy="343.9" r="0.59" fill="#b4b0c4" opacity="0.35"/>
<circle cx="244.2" cy="337.7" r="0.64" fill="#f2f2f6" opacity="0.5"/>
<circle cx="238.9" cy="351.5" r="0.34" fill="#f2f2f6" opacity="0.5"/>
<circle cx="220.0" cy="332.8" r="0.43" fill="#b4b0c4" opacity="0.35"/>
<circle cx="216.1" cy="351.7" r="0.59" fill="#c4bccc" opacity="0.35"/>
<circle cx="246.1" cy="338.7" r="0.49" fill="#c4bccc" opacity="0.35"/>
<circle cx="257.1" cy="332.1" r="0.41" fill="#c4bccc" opacity="0.35"/>
<circle cx="216.2" cy="353.3" r="0.39" fill="#f2f2f6" opacity="0.5"/>
<circle cx="247.8" cy="341.6" r="0.55" fill="#b4b0c4" opacity="0.35"/>
<circle cx="245.6" cy="346.2" r="0.40" fill="#c4bccc" opacity="0.35"/>
<circle cx="240.4" cy="338.8" r="0.35" fill="#c4bccc" opacity="0.35"/>
<circle cx="234.7" cy="343.8" r="0.34" fill="#c4bccc" opacity="0.35"/>
<circle cx="245.5" cy="325.3" r="0.49" fill="#f2f2f6" opacity="0.5"/>
<circle cx="259.4" cy="361.7" r="0.63" fill="#f2f2f6" opacity="0.5"/>
<circle cx="245.0" cy="326.5" r="0.56" fill="#b4b0c4" opacity="0.35"/>
<circle cx="216.8" cy="364.1" r="0.49" fill="#f2f2f6" opacity="0.5"/>
<circle cx="220.4" cy="346.7" r="0.46" fill="#b4b0c4" opacity="0.35"/>
<circle cx="229.9" cy="362.4" r="0.51" fill="#b4b0c4" opacity="0.35"/>
<circle cx="244.1" cy="324.2" r="0.60" fill="#f2f2f6" opacity="0.5"/>
<circle cx="219.6" cy="340.2" r="0.43" fill="#c4bccc" opacity="0.35"/>
<circle cx="232.7" cy="351.4" r="0.32" fill="#f2f2f6" opacity="0.5"/>
<circle cx="217.3" cy="363.2" r="0.48" fill="#f2f2f6" opacity="0.5"/>
<circle cx="223.6" cy="353.9" r="0.63" fill="#b4b0c4" opacity="0.35"/>
<circle cx="221.7" cy="337.7" r="0.37" fill="#b4b0c4" opacity="0.35"/>
<circle cx="220.2" cy="351.7" r="0.39" fill="#c4bccc" opacity="0.35"/>
<circle cx="255.7" cy="341.6" r="0.30" fill="#c4bccc" opacity="0.35"/>
<circle cx="250.1" cy="324.5" r="0.60" fill="#f2f2f6" opacity="0.5"/>
<circle cx="239.6" cy="361.5" r="0.55" fill="#c4bccc" opacity="0.35"/>
<circle cx="221.5" cy="367.2" r="0.58" fill="#b4b0c4" opacity="0.35"/>
<circle cx="223.5" cy="361.3" r="0.59" fill="#f2f2f6" opacity="0.5"/>
<circle cx="258.7" cy="324.4" r="0.59" fill="#c4bccc" opacity="0.35"/>
<circle cx="226.2" cy="352.3" r="0.43" fill="#b4b0c4" opacity="0.35"/>
<circle cx="233.8" cy="354.1" r="0.55" fill="#c4bccc" opacity="0.35"/>
<circle cx="258.6" cy="367.5" r="0.46" fill="#f2f2f6" opacity="0.5"/>
<circle cx="246.4" cy="324.4" r="0.64" fill="#b4b0c4" opacity="0.35"/>
<circle cx="237.5" cy="328.6" r="0.54" fill="#c4bccc" opacity="0.35"/>
<circle cx="219.4" cy="334.1" r="0.55" fill="#f2f2f6" opacity="0.5"/>
<circle cx="229.8" cy="333.4" r="0.50" fill="#f2f2f6" opacity="0.5"/>
<circle cx="230.6" cy="361.4" r="0.31" fill="#b4b0c4" opacity="0.35"/>
<circle cx="256.2" cy="350.3" r="0.49" fill="#c4bccc" opacity="0.35"/>
<circle cx="243.8" cy="323.6" r="0.44" fill="#f2f2f6" opacity="0.5"/>
<circle cx="239.7" cy="329.6" r="0.37" fill="#f2f2f6" opacity="0.5"/>
<circle cx="248.2" cy="361.1" r="0.51" fill="#f2f2f6" opacity="0.5"/>
<circle cx="237.7" cy="340.0" r="0.53" fill="#c4bccc" opacity="0.35"/>
<circle cx="216.1" cy="336.8" r="0.33" fill="#b4b0c4" opacity="0.35"/>
<circle cx="250.4" cy="323.6" r="0.35" fill="#c4bccc" opacity="0.35"/>
<circle cx="217.7" cy="352.5" r="0.43" fill="#b4b0c4" opacity="0.35"/>
<circle cx="221.3" cy="355.0" r="0.35" fill="#c4bccc" opacity="0.35"/>
<circle cx="251.6" cy="364.4" r="0.64" fill="#b4b0c4" opacity="0.35"/>
<circle cx="257.0" cy="325.2" r="0.47" fill="#c4bccc" opacity="0.35"/>
<circle cx="256.5" cy="346.2" r="0.47" fill="#c4bccc" opacity="0.35"/>
<circle cx="226.7" cy="330.2" r="0.33" fill="#b4b0c4" opacity="0.35"/>
<circle cx="237.2" cy="333.3" r="0.61" fill="#c4bccc" opacity="0.35"/>
<circle cx="228.2" cy="331.9" r="0.56" fill="#b4b0c4" opacity="0.35"/>
<circle cx="245.6" cy="332.1" r="0.50" fill="#f2f2f6" opacity="0.5"/>
<circle cx="222.9" cy="361.3" r="0.49" fill="#f2f2f6" opacity="0.5"/>
<circle cx="258.9" cy="337.2" r="0.36" fill="#b4b0c4" opacity="0.35"/>
<circle cx="223.9" cy="359.9" r="0.55" fill="#b4b0c4" opacity="0.35"/>
<circle cx="235.5" cy="343.7" r="0.49" fill="#f2f2f6" opacity="0.5"/>
<circle cx="247.3" cy="327.3" r="0.36" fill="#b4b0c4" opacity="0.35"/>
<circle cx="248.1" cy="349.4" r="0.63" fill="#b4b0c4" opacity="0.35"/>
<circle cx="247.4" cy="338.3" r="0.43" fill="#b4b0c4" opacity="0.35"/>
<circle cx="257.8" cy="332.9" r="0.56" fill="#c4bccc" opacity="0.35"/>
<circle cx="259.8" cy="362.7" r="0.62" fill="#c4bccc" opacity="0.35"/>
<circle cx="237.7" cy="363.3" r="0.36" fill="#f2f2f6" opacity="0.5"/>
<circle cx="230.7" cy="347.3" r="0.64" fill="#b4b0c4" opacity="0.35"/>
<circle cx="258.3" cy="350.3" r="0.62" fill="#b4b0c4" opacity="0.35"/>
<circle cx="240.2" cy="343.3" r="0.50" fill="#f2f2f6" opacity="0.5"/>
<circle cx="236.6" cy="355.0" r="0.51" fill="#c4bccc" opacity="0.35"/>
<circle cx="241.3" cy="359.3" r="0.31" fill="#b4b0c4" opacity="0.35"/>
<circle cx="225.6" cy="350.6" r="0.65" fill="#c4bccc" opacity="0.35"/>
<circle cx="233.1" cy="347.3" r="0.53" fill="#c4bccc" opacity="0.35"/>
<circle cx="228.6" cy="336.4" r="0.47" fill="#c4bccc" opacity="0.35"/>
<circle cx="251.1" cy="346.8" r="0.50" fill="#c4bccc" opacity="0.35"/>
<circle cx="236.3" cy="336.3" r="0.53" fill="#f2f2f6" opacity="0.5"/>
<circle cx="240.7" cy="363.0" r="0.36" fill="#c4bccc" opacity="0.35"/>
<circle cx="233.5" cy="326.3" r="0.36" fill="#f2f2f6" opacity="0.5"/>
<circle cx="259.7" cy="338.6" r="0.49" fill="#f2f2f6" opacity="0.5"/>
<circle cx="234.0" cy="340.2" r="0.65" fill="#c4bccc" opacity="0.35"/>
<circle cx="251.9" cy="350.6" r="0.54" fill="#b4b0c4" opacity="0.35"/>
<circle cx="234.6" cy="340.2" r="0.59" fill="#f2f2f6" opacity="0.5"/>
<circle cx="254.5" cy="330.1" r="0.60" fill="#c4bccc" opacity="0.35"/>
<circle cx="236.8" cy="343.6" r="0.36" fill="#b4b0c4" opacity="0.35"/>
<circle cx="237.0" cy="343.7" r="0.47" fill="#b4b0c4" opacity="0.35"/>
<circle cx="252.4" cy="327.4" r="0.47" fill="#b4b0c4" opacity="0.35"/>
<circle cx="248.6" cy="337.2" r="0.43" fill="#f2f2f6" opacity="0.5"/>
<circle cx="249.4" cy="365.6" r="0.37" fill="#b4b0c4" opacity="0.35"/>
<circle cx="241.6" cy="327.8" r="0.57" fill="#c4bccc" opacity="0.35"/>
<circle cx="238.5" cy="350.0" r="0.39" fill="#a0b8c8" opacity="0.5"/>
<circle cx="239.2" cy="345.9" r="0.48" fill="#a0b8c8" opacity="0.5"/>
<circle cx="252.7" cy="359.4" r="0.61" fill="#d8e8f0" opacity="0.6"/>
<circle cx="223.0" cy="335.9" r="0.53" fill="#a0b8c8" opacity="0.5"/>
<circle cx="258.7" cy="337.5" r="0.59" fill="#d8e8f0" opacity="0.6"/>
<circle cx="223.0" cy="338.1" r="0.59" fill="#d8e8f0" opacity="0.6"/>
<circle cx="223.2" cy="365.5" r="0.56" fill="#a0b8c8" opacity="0.5"/>
<circle cx="248.0" cy="367.0" r="0.45" fill="#d8e8f0" opacity="0.6"/>
<circle cx="249.6" cy="345.7" r="0.39" fill="#a0b8c8" opacity="0.5"/>
<circle cx="248.6" cy="366.9" r="0.36" fill="#a0b8c8" opacity="0.5"/>
<circle cx="240.5" cy="323.3" r="0.53" fill="#a0b8c8" opacity="0.5"/>
<circle cx="243.9" cy="360.9" r="0.49" fill="#a0b8c8" opacity="0.5"/>
<circle cx="252.5" cy="331.4" r="0.45" fill="#a0b8c8" opacity="0.5"/>
<circle cx="235.8" cy="328.3" r="0.34" fill="#d8e8f0" opacity="0.6"/>
<circle cx="226.2" cy="360.1" r="0.43" fill="#a0b8c8" opacity="0.5"/>
<circle cx="222.1" cy="363.1" r="0.56" fill="#d8e8f0" opacity="0.6"/>
<circle cx="231.3" cy="346.0" r="0.63" fill="#a0b8c8" opacity="0.5"/>
<circle cx="245.7" cy="330.6" r="0.58" fill="#a0b8c8" opacity="0.5"/>
<circle cx="218.4" cy="334.8" r="0.36" fill="#a0b8c8" opacity="0.5"/>
<circle cx="216.7" cy="342.4" r="0.55" fill="#a0b8c8" opacity="0.5"/>
<circle cx="217.9" cy="335.5" r="0.47" fill="#a0b8c8" opacity="0.5"/>
<circle cx="243.6" cy="352.2" r="0.67" fill="#d8e8f0" opacity="0.6"/>
<circle cx="243.6" cy="349.9" r="0.57" fill="#d8e8f0" opacity="0.6"/>
<circle cx="253.5" cy="335.8" r="0.40" fill="#a0b8c8" opacity="0.5"/>
<circle cx="240.1" cy="345.1" r="0.62" fill="#a0b8c8" opacity="0.5"/>
<circle cx="250.7" cy="335.5" r="0.68" fill="#d8e8f0" opacity="0.6"/>
<circle cx="217.9" cy="356.7" r="0.37" fill="#a0b8c8" opacity="0.5"/>
<circle cx="241.1" cy="341.7" r="0.54" fill="#a0b8c8" opacity="0.5"/>
<circle cx="251.3" cy="361.3" r="0.35" fill="#a0b8c8" opacity="0.5"/>
<circle cx="245.9" cy="325.0" r="0.60" fill="#d8e8f0" opacity="0.6"/>
<circle cx="226.3" cy="331.9" r="0.58" fill="#a0b8c8" opacity="0.5"/>
<circle cx="221.9" cy="346.1" r="0.45" fill="#a0b8c8" opacity="0.5"/>
<circle cx="242.6" cy="346.1" r="0.63" fill="#a0b8c8" opacity="0.5"/>
<circle cx="246.3" cy="325.0" r="0.47" fill="#d8e8f0" opacity="0.6"/>
<circle cx="231.8" cy="347.2" r="0.40" fill="#a0b8c8" opacity="0.5"/>
<circle cx="240.0" cy="346.2" r="0.67" fill="#a0b8c8" opacity="0.5"/>
<circle cx="252.8" cy="332.6" r="0.37" fill="#a0b8c8" opacity="0.5"/>
<circle cx="224.9" cy="329.5" r="0.40" fill="#d8e8f0" opacity="0.6"/>
<circle cx="250.1" cy="361.9" r="0.31" fill="#d8e8f0" opacity="0.6"/>
<circle cx="252.5" cy="351.4" r="0.66" fill="#a0b8c8" opacity="0.5"/>
<circle cx="220.1" cy="350.3" r="0.40" fill="#a0b8c8" opacity="0.5"/>
<circle cx="219.3" cy="329.6" r="0.48" fill="#d8e8f0" opacity="0.6"/>
<circle cx="231.4" cy="330.7" r="0.40" fill="#d8e8f0" opacity="0.6"/>
<circle cx="218.3" cy="328.9" r="0.51" fill="#d8e8f0" opacity="0.6"/>
<circle cx="216.4" cy="334.7" r="0.70" fill="#a0b8c8" opacity="0.5"/>
<circle cx="223.0" cy="352.7" r="0.67" fill="#a0b8c8" opacity="0.5"/>
<circle cx="217.8" cy="365.2" r="0.52" fill="#d8e8f0" opacity="0.6"/>
<circle cx="223.9" cy="353.1" r="0.46" fill="#d8e8f0" opacity="0.6"/>
<circle cx="218.3" cy="355.9" r="0.54" fill="#d8e8f0" opacity="0.6"/>
<circle cx="221.8" cy="323.0" r="0.52" fill="#d8e8f0" opacity="0.6"/>
<circle cx="256.2" cy="338.5" r="0.38" fill="#d8e8f0" opacity="0.6"/>
<circle cx="234.3" cy="338.9" r="0.59" fill="#a0b8c8" opacity="0.5"/>
<circle cx="226.1" cy="345.6" r="0.48" fill="#d8e8f0" opacity="0.6"/>
<circle cx="254.4" cy="340.8" r="0.46" fill="#a0b8c8" opacity="0.5"/>
<circle cx="221.7" cy="338.7" r="0.42" fill="#a0b8c8" opacity="0.5"/>
<circle cx="233.8" cy="333.5" r="0.58" fill="#a0b8c8" opacity="0.5"/>
<circle cx="216.6" cy="332.8" r="0.41" fill="#a0b8c8" opacity="0.5"/>
<circle cx="216.2" cy="359.8" r="0.52" fill="#a0b8c8" opacity="0.5"/>
<circle cx="227.2" cy="357.1" r="0.63" fill="#d8e8f0" opacity="0.6"/>
<circle cx="253.8" cy="348.0" r="0.43" fill="#a0b8c8" opacity="0.5"/>
<circle cx="255.3" cy="331.7" r="0.85" fill="#3a1a1a" opacity="0.8"/>
<circle cx="251.8" cy="328.5" r="0.41" fill="#3a1a1a" opacity="0.8"/>
<circle cx="255.5" cy="330.0" r="0.76" fill="#6a2a2a" opacity="0.7"/>
<circle cx="252.5" cy="343.1" r="0.73" fill="#3a1a1a" opacity="0.8"/>
<circle cx="246.7" cy="326.6" r="0.68" fill="#6a2a2a" opacity="0.7"/>
<circle cx="250.6" cy="338.6" r="0.58" fill="#3a1a1a" opacity="0.8"/>
<circle cx="256.3" cy="349.9" r="0.67" fill="#3a1a1a" opacity="0.8"/>
<circle cx="250.2" cy="323.3" r="0.60" fill="#3a1a1a" opacity="0.8"/>
<circle cx="247.5" cy="325.7" r="0.69" fill="#3a1a1a" opacity="0.8"/>
<circle cx="228.2" cy="326.6" r="0.88" fill="#3a1a1a" opacity="0.8"/>
<circle cx="249.4" cy="336.9" r="0.44" fill="#6a2a2a" opacity="0.7"/>
<circle cx="253.3" cy="343.8" r="0.87" fill="#6a2a2a" opacity="0.7"/>
<circle cx="257.9" cy="331.2" r="0.84" fill="#6a2a2a" opacity="0.7"/>
<circle cx="257.1" cy="339.3" r="0.56" fill="#3a1a1a" opacity="0.8"/>
<circle cx="239.4" cy="328.5" r="0.73" fill="#6a2a2a" opacity="0.7"/>
<circle cx="257.3" cy="326.9" r="0.61" fill="#3a1a1a" opacity="0.8"/>
<circle cx="236.3" cy="327.8" r="0.70" fill="#3a1a1a" opacity="0.8"/>
<circle cx="257.2" cy="329.5" r="0.64" fill="#6a2a2a" opacity="0.7"/>
<circle cx="236.2" cy="329.2" r="0.45" fill="#3a1a1a" opacity="0.8"/>
<circle cx="252.0" cy="323.4" r="0.54" fill="#3a1a1a" opacity="0.8"/>
<circle cx="256.6" cy="331.9" r="0.44" fill="#6a2a2a" opacity="0.7"/>
<circle cx="228.2" cy="327.1" r="0.73" fill="#3a1a1a" opacity="0.8"/>
<circle cx="254.7" cy="333.9" r="0.46" fill="#6a2a2a" opacity="0.7"/>
<circle cx="257.5" cy="344.9" r="0.86" fill="#3a1a1a" opacity="0.8"/>
<circle cx="239.9" cy="325.8" r="0.75" fill="#6a2a2a" opacity="0.7"/>
<circle cx="232.7" cy="324.0" r="0.42" fill="#3a1a1a" opacity="0.8"/>
<circle cx="223.5" cy="323.7" r="0.66" fill="#6a2a2a" opacity="0.7"/>
<circle cx="257.2" cy="327.5" r="0.67" fill="#6a2a2a" opacity="0.7"/>
<circle cx="258.0" cy="334.0" r="0.63" fill="#6a2a2a" opacity="0.7"/>
<circle cx="254.3" cy="339.4" r="0.49" fill="#6a2a2a" opacity="0.7"/>
<rect x="216.00" y="348.80" width="17.00" height="18.30" fill="#f2eeee"/>
<circle cx="217.2" cy="354.5" r="0.70" fill="#5a1010" opacity="0.85"/>
<circle cx="220.4" cy="355.5" r="0.80" fill="#5a1010" opacity="0.85"/>
<circle cx="228.5" cy="355.5" r="1.04" fill="#5a1010" opacity="0.85"/>
<circle cx="231.1" cy="355.7" r="1.38" fill="#3a0808" opacity="0.9"/>
<circle cx="219.8" cy="362.3" r="1.34" fill="#5a1010" opacity="0.85"/>
<circle cx="218.6" cy="348.9" r="0.65" fill="#3a0808" opacity="0.9"/>
<circle cx="225.4" cy="365.9" r="0.89" fill="#5a1010" opacity="0.85"/>
<circle cx="222.5" cy="359.9" r="1.32" fill="#5a1010" opacity="0.85"/>
<rect x="216.00" y="348.80" width="17.00" height="18.30" fill="none" stroke="#94949c" stroke-width="0.55"/>
<rect x="248.00" y="332.00" width="8.60" height="9.30" fill="none" stroke="#9a9aa2" stroke-width="0.5"/>
</g>
<rect x="216.00" y="323.00" width="44.20" height="44.50" fill="none" stroke="#b8b8bc" stroke-width="0.6"/>
<clipPath id="t31"><rect x="262.2" y="323.0" width="43.50" height="44.50"/></clipPath>
<g clip-path="url(#t31)">
<rect x="262.20" y="323.00" width="43.50" height="44.50" fill="#e2e3e9" />
<g filter="url(#blur3)">
<ellipse cx="275.25" cy="354.15" rx="13.05" ry="13.35" fill="#dbe2ee" opacity="0.6"/>
</g>
<circle cx="275.9" cy="357.3" r="0.44" fill="#b4b0c4" opacity="0.35"/>
<circle cx="262.9" cy="357.7" r="0.42" fill="#b4b0c4" opacity="0.35"/>
<circle cx="288.0" cy="327.5" r="0.38" fill="#b4b0c4" opacity="0.35"/>
<circle cx="292.3" cy="353.4" r="0.64" fill="#c4bccc" opacity="0.35"/>
<circle cx="294.8" cy="365.1" r="0.32" fill="#f2f2f6" opacity="0.5"/>
<circle cx="269.5" cy="343.1" r="0.57" fill="#f2f2f6" opacity="0.5"/>
<circle cx="271.2" cy="342.3" r="0.56" fill="#f2f2f6" opacity="0.5"/>
<circle cx="262.6" cy="362.5" r="0.39" fill="#c4bccc" opacity="0.35"/>
<circle cx="290.2" cy="359.3" r="0.36" fill="#b4b0c4" opacity="0.35"/>
<circle cx="301.7" cy="349.6" r="0.57" fill="#b4b0c4" opacity="0.35"/>
<circle cx="305.0" cy="350.7" r="0.63" fill="#b4b0c4" opacity="0.35"/>
<circle cx="289.1" cy="366.2" r="0.31" fill="#c4bccc" opacity="0.35"/>
<circle cx="293.8" cy="343.2" r="0.30" fill="#c4bccc" opacity="0.35"/>
<circle cx="281.2" cy="338.0" r="0.46" fill="#b4b0c4" opacity="0.35"/>
<circle cx="286.9" cy="358.9" r="0.33" fill="#f2f2f6" opacity="0.5"/>
<circle cx="284.5" cy="345.0" r="0.62" fill="#b4b0c4" opacity="0.35"/>
<circle cx="284.5" cy="340.2" r="0.35" fill="#c4bccc" opacity="0.35"/>
<circle cx="305.1" cy="359.1" r="0.34" fill="#f2f2f6" opacity="0.5"/>
<circle cx="295.9" cy="326.4" r="0.60" fill="#f2f2f6" opacity="0.5"/>
<circle cx="275.4" cy="358.1" r="0.43" fill="#b4b0c4" opacity="0.35"/>
<circle cx="296.3" cy="343.3" r="0.63" fill="#b4b0c4" opacity="0.35"/>
<circle cx="305.7" cy="329.9" r="0.32" fill="#f2f2f6" opacity="0.5"/>
<circle cx="284.8" cy="334.8" r="0.38" fill="#b4b0c4" opacity="0.35"/>
<circle cx="264.1" cy="352.8" r="0.37" fill="#b4b0c4" opacity="0.35"/>
<circle cx="278.4" cy="356.1" r="0.40" fill="#f2f2f6" opacity="0.5"/>
<circle cx="283.0" cy="349.8" r="0.58" fill="#f2f2f6" opacity="0.5"/>
<circle cx="297.3" cy="350.9" r="0.58" fill="#b4b0c4" opacity="0.35"/>
<circle cx="276.1" cy="341.4" r="0.54" fill="#b4b0c4" opacity="0.35"/>
<circle cx="295.9" cy="330.1" r="0.55" fill="#b4b0c4" opacity="0.35"/>
<circle cx="301.1" cy="326.8" r="0.35" fill="#f2f2f6" opacity="0.5"/>
<circle cx="289.2" cy="350.5" r="0.61" fill="#f2f2f6" opacity="0.5"/>
<circle cx="298.0" cy="348.0" r="0.61" fill="#c4bccc" opacity="0.35"/>
<circle cx="289.5" cy="345.3" r="0.59" fill="#b4b0c4" opacity="0.35"/>
<circle cx="287.9" cy="340.4" r="0.63" fill="#b4b0c4" opacity="0.35"/>
<circle cx="305.5" cy="335.8" r="0.54" fill="#f2f2f6" opacity="0.5"/>
<circle cx="267.9" cy="353.9" r="0.34" fill="#c4bccc" opacity="0.35"/>
<circle cx="302.5" cy="349.4" r="0.34" fill="#f2f2f6" opacity="0.5"/>
<circle cx="290.4" cy="352.2" r="0.58" fill="#f2f2f6" opacity="0.5"/>
<circle cx="279.0" cy="349.1" r="0.55" fill="#b4b0c4" opacity="0.35"/>
<circle cx="265.6" cy="342.3" r="0.59" fill="#c4bccc" opacity="0.35"/>
<circle cx="296.4" cy="340.1" r="0.60" fill="#c4bccc" opacity="0.35"/>
<circle cx="263.9" cy="326.5" r="0.55" fill="#c4bccc" opacity="0.35"/>
<circle cx="275.6" cy="325.8" r="0.45" fill="#b4b0c4" opacity="0.35"/>
<circle cx="285.7" cy="366.8" r="0.59" fill="#f2f2f6" opacity="0.5"/>
<circle cx="296.8" cy="326.6" r="0.50" fill="#c4bccc" opacity="0.35"/>
<circle cx="301.6" cy="329.8" r="0.31" fill="#b4b0c4" opacity="0.35"/>
<circle cx="272.9" cy="354.9" r="0.38" fill="#b4b0c4" opacity="0.35"/>
<circle cx="298.8" cy="338.2" r="0.37" fill="#f2f2f6" opacity="0.5"/>
<circle cx="297.5" cy="326.7" r="0.41" fill="#f2f2f6" opacity="0.5"/>
<circle cx="301.3" cy="365.9" r="0.57" fill="#c4bccc" opacity="0.35"/>
<circle cx="271.2" cy="345.7" r="0.38" fill="#b4b0c4" opacity="0.35"/>
<circle cx="289.6" cy="364.8" r="0.45" fill="#c4bccc" opacity="0.35"/>
<circle cx="265.8" cy="327.3" r="0.61" fill="#c4bccc" opacity="0.35"/>
<circle cx="282.8" cy="346.4" r="0.53" fill="#f2f2f6" opacity="0.5"/>
<circle cx="295.4" cy="364.5" r="0.43" fill="#b4b0c4" opacity="0.35"/>
<circle cx="292.4" cy="347.6" r="0.37" fill="#f2f2f6" opacity="0.5"/>
<circle cx="275.8" cy="333.1" r="0.58" fill="#f2f2f6" opacity="0.5"/>
<circle cx="296.0" cy="342.2" r="0.34" fill="#c4bccc" opacity="0.35"/>
<circle cx="265.2" cy="328.2" r="0.40" fill="#c4bccc" opacity="0.35"/>
<circle cx="265.3" cy="347.5" r="0.48" fill="#c4bccc" opacity="0.35"/>
<circle cx="291.4" cy="334.9" r="0.47" fill="#c4bccc" opacity="0.35"/>
<circle cx="305.1" cy="365.4" r="0.53" fill="#f2f2f6" opacity="0.5"/>
<circle cx="294.1" cy="328.1" r="0.45" fill="#c4bccc" opacity="0.35"/>
<circle cx="297.8" cy="334.7" r="0.58" fill="#f2f2f6" opacity="0.5"/>
<circle cx="263.5" cy="336.9" r="0.56" fill="#c4bccc" opacity="0.35"/>
<circle cx="285.4" cy="327.1" r="0.44" fill="#b4b0c4" opacity="0.35"/>
<circle cx="278.1" cy="358.4" r="0.43" fill="#f2f2f6" opacity="0.5"/>
<circle cx="269.1" cy="345.3" r="0.53" fill="#c4bccc" opacity="0.35"/>
<circle cx="272.2" cy="339.2" r="0.52" fill="#c4bccc" opacity="0.35"/>
<circle cx="297.9" cy="343.0" r="0.64" fill="#c4bccc" opacity="0.35"/>
<circle cx="277.7" cy="354.5" r="0.40" fill="#f2f2f6" opacity="0.5"/>
<circle cx="279.0" cy="329.7" r="0.39" fill="#b4b0c4" opacity="0.35"/>
<circle cx="276.6" cy="350.2" r="0.49" fill="#f2f2f6" opacity="0.5"/>
<circle cx="290.6" cy="359.6" r="0.52" fill="#b4b0c4" opacity="0.35"/>
<circle cx="296.3" cy="336.9" r="0.53" fill="#c4bccc" opacity="0.35"/>
<circle cx="304.4" cy="366.7" r="0.45" fill="#c4bccc" opacity="0.35"/>
<circle cx="278.7" cy="358.2" r="0.58" fill="#c4bccc" opacity="0.35"/>
<circle cx="296.3" cy="348.6" r="0.39" fill="#b4b0c4" opacity="0.35"/>
<circle cx="267.0" cy="350.7" r="0.53" fill="#c4bccc" opacity="0.35"/>
<circle cx="289.1" cy="354.9" r="0.49" fill="#b4b0c4" opacity="0.35"/>
<circle cx="286.1" cy="346.7" r="0.44" fill="#b4b0c4" opacity="0.35"/>
<circle cx="271.1" cy="324.6" r="0.62" fill="#c4bccc" opacity="0.35"/>
<circle cx="299.9" cy="325.8" r="0.58" fill="#b4b0c4" opacity="0.35"/>
<circle cx="273.4" cy="329.1" r="0.61" fill="#c4bccc" opacity="0.35"/>
<circle cx="277.3" cy="361.8" r="0.59" fill="#c4bccc" opacity="0.35"/>
<circle cx="300.7" cy="362.3" r="0.41" fill="#f2f2f6" opacity="0.5"/>
<circle cx="275.4" cy="335.4" r="0.34" fill="#b4b0c4" opacity="0.35"/>
<circle cx="265.7" cy="350.0" r="0.50" fill="#c4bccc" opacity="0.35"/>
<circle cx="296.7" cy="343.4" r="0.65" fill="#f2f2f6" opacity="0.5"/>
<circle cx="273.3" cy="351.2" r="0.49" fill="#f2f2f6" opacity="0.5"/>
<circle cx="291.1" cy="355.2" r="0.64" fill="#c4bccc" opacity="0.35"/>
<circle cx="283.6" cy="341.9" r="0.58" fill="#f2f2f6" opacity="0.5"/>
<circle cx="280.0" cy="364.5" r="0.63" fill="#c4bccc" opacity="0.35"/>
<circle cx="265.8" cy="325.2" r="0.48" fill="#b4b0c4" opacity="0.35"/>
<circle cx="289.6" cy="362.6" r="0.53" fill="#b4b0c4" opacity="0.35"/>
<circle cx="297.5" cy="351.1" r="0.57" fill="#c4bccc" opacity="0.35"/>
<circle cx="276.9" cy="330.6" r="0.53" fill="#f2f2f6" opacity="0.5"/>
<circle cx="295.3" cy="339.8" r="0.61" fill="#b4b0c4" opacity="0.35"/>
<circle cx="290.7" cy="347.3" r="0.49" fill="#f2f2f6" opacity="0.5"/>
<circle cx="304.6" cy="361.0" r="0.53" fill="#f2f2f6" opacity="0.5"/>
<circle cx="265.1" cy="351.3" r="0.39" fill="#c4bccc" opacity="0.35"/>
<circle cx="296.5" cy="324.7" r="0.33" fill="#f2f2f6" opacity="0.5"/>
<circle cx="304.7" cy="343.6" r="0.52" fill="#f2f2f6" opacity="0.5"/>
<circle cx="298.8" cy="323.5" r="0.44" fill="#b4b0c4" opacity="0.35"/>
<circle cx="287.6" cy="359.6" r="0.33" fill="#f2f2f6" opacity="0.5"/>
<circle cx="263.5" cy="335.1" r="0.64" fill="#b4b0c4" opacity="0.35"/>
<circle cx="285.2" cy="329.6" r="0.31" fill="#b4b0c4" opacity="0.35"/>
<circle cx="278.1" cy="328.0" r="0.54" fill="#b4b0c4" opacity="0.35"/>
<circle cx="297.7" cy="360.5" r="0.30" fill="#f2f2f6" opacity="0.5"/>
<circle cx="302.7" cy="364.3" r="0.56" fill="#b4b0c4" opacity="0.35"/>
<circle cx="297.5" cy="345.3" r="0.38" fill="#b4b0c4" opacity="0.35"/>
<circle cx="277.6" cy="355.6" r="0.61" fill="#b4b0c4" opacity="0.35"/>
<circle cx="293.7" cy="341.3" r="0.54" fill="#f2f2f6" opacity="0.5"/>
<circle cx="301.6" cy="340.9" r="0.63" fill="#f2f2f6" opacity="0.5"/>
<circle cx="297.8" cy="359.4" r="0.65" fill="#c4bccc" opacity="0.35"/>
<circle cx="267.2" cy="359.1" r="0.50" fill="#c4bccc" opacity="0.35"/>
<circle cx="290.1" cy="330.4" r="0.55" fill="#b4b0c4" opacity="0.35"/>
<circle cx="287.9" cy="356.4" r="0.64" fill="#b4b0c4" opacity="0.35"/>
<circle cx="280.2" cy="332.2" r="0.47" fill="#c4bccc" opacity="0.35"/>
<circle cx="274.2" cy="339.1" r="0.65" fill="#c4bccc" opacity="0.35"/>
<circle cx="267.2" cy="358.4" r="0.44" fill="#b4b0c4" opacity="0.35"/>
<circle cx="302.6" cy="351.0" r="0.48" fill="#b4b0c4" opacity="0.35"/>
<circle cx="294.0" cy="325.6" r="0.63" fill="#c4bccc" opacity="0.35"/>
<circle cx="274.3" cy="324.5" r="0.37" fill="#b4b0c4" opacity="0.35"/>
<circle cx="297.2" cy="352.7" r="0.57" fill="#c4bccc" opacity="0.35"/>
<circle cx="283.0" cy="342.0" r="0.40" fill="#c4bccc" opacity="0.35"/>
<circle cx="270.7" cy="351.0" r="0.47" fill="#b4b0c4" opacity="0.35"/>
<circle cx="305.5" cy="363.4" r="0.54" fill="#c4bccc" opacity="0.35"/>
<circle cx="286.4" cy="345.5" r="0.65" fill="#b4b0c4" opacity="0.35"/>
<circle cx="282.1" cy="352.0" r="0.39" fill="#c4bccc" opacity="0.35"/>
<circle cx="293.4" cy="350.4" r="0.40" fill="#c4bccc" opacity="0.35"/>
<circle cx="292.2" cy="357.0" r="0.40" fill="#b4b0c4" opacity="0.35"/>
<circle cx="285.1" cy="331.2" r="0.46" fill="#c4bccc" opacity="0.35"/>
<circle cx="298.7" cy="325.4" r="0.52" fill="#b4b0c4" opacity="0.35"/>
<circle cx="267.9" cy="342.3" r="0.59" fill="#b4b0c4" opacity="0.35"/>
<circle cx="291.8" cy="341.9" r="0.51" fill="#c4bccc" opacity="0.35"/>
<circle cx="279.6" cy="343.1" r="0.55" fill="#c4bccc" opacity="0.35"/>
<circle cx="278.7" cy="330.3" r="0.60" fill="#f2f2f6" opacity="0.5"/>
<circle cx="286.5" cy="340.1" r="0.61" fill="#b4b0c4" opacity="0.35"/>
<circle cx="303.6" cy="348.7" r="0.34" fill="#b4b0c4" opacity="0.35"/>
<circle cx="301.1" cy="362.9" r="0.40" fill="#c8c8d0" opacity="0.5"/>
<circle cx="297.7" cy="352.0" r="0.41" fill="#b0a8b0" opacity="0.5"/>
<circle cx="304.7" cy="347.3" r="0.37" fill="#c8c8d0" opacity="0.5"/>
<circle cx="280.1" cy="360.9" r="0.33" fill="#b0a8b0" opacity="0.5"/>
<circle cx="297.9" cy="365.3" r="0.48" fill="#c8c8d0" opacity="0.5"/>
<circle cx="263.3" cy="360.1" r="0.46" fill="#c8c8d0" opacity="0.5"/>
<circle cx="300.2" cy="340.3" r="0.41" fill="#c8c8d0" opacity="0.5"/>
<circle cx="291.9" cy="326.0" r="0.42" fill="#c8c8d0" opacity="0.5"/>
<circle cx="279.4" cy="326.3" r="0.30" fill="#c8c8d0" opacity="0.5"/>
<circle cx="272.4" cy="332.9" r="0.44" fill="#b0a8b0" opacity="0.5"/>
<circle cx="267.7" cy="336.0" r="0.38" fill="#b0a8b0" opacity="0.5"/>
<circle cx="290.4" cy="323.7" r="0.45" fill="#c8c8d0" opacity="0.5"/>
<circle cx="301.8" cy="349.4" r="0.33" fill="#b0a8b0" opacity="0.5"/>
<circle cx="272.7" cy="323.4" r="0.37" fill="#b0a8b0" opacity="0.5"/>
<circle cx="303.4" cy="330.5" r="0.41" fill="#c8c8d0" opacity="0.5"/>
<circle cx="297.5" cy="359.1" r="0.45" fill="#b0a8b0" opacity="0.5"/>
<circle cx="282.3" cy="364.4" r="0.47" fill="#c8c8d0" opacity="0.5"/>
<circle cx="264.9" cy="346.5" r="0.49" fill="#b0a8b0" opacity="0.5"/>
<circle cx="265.7" cy="345.8" r="0.39" fill="#c8c8d0" opacity="0.5"/>
<circle cx="298.2" cy="358.2" r="0.32" fill="#b0a8b0" opacity="0.5"/>
<circle cx="290.8" cy="347.8" r="0.36" fill="#b0a8b0" opacity="0.5"/>
<circle cx="265.2" cy="335.6" r="0.41" fill="#b0a8b0" opacity="0.5"/>
<circle cx="303.2" cy="329.4" r="0.35" fill="#b0a8b0" opacity="0.5"/>
<circle cx="288.5" cy="326.4" r="0.41" fill="#c8c8d0" opacity="0.5"/>
<circle cx="279.5" cy="345.4" r="0.35" fill="#b0a8b0" opacity="0.5"/>
<circle cx="303.9" cy="362.5" r="0.38" fill="#b0a8b0" opacity="0.5"/>
<circle cx="296.3" cy="324.7" r="0.46" fill="#c8c8d0" opacity="0.5"/>
<circle cx="292.2" cy="334.3" r="0.36" fill="#b0a8b0" opacity="0.5"/>
<circle cx="300.5" cy="338.4" r="0.36" fill="#c8c8d0" opacity="0.5"/>
<circle cx="274.1" cy="331.1" r="0.35" fill="#c8c8d0" opacity="0.5"/>
<circle cx="267.3" cy="325.0" r="0.37" fill="#b0a8b0" opacity="0.5"/>
<circle cx="278.3" cy="336.0" r="0.45" fill="#b0a8b0" opacity="0.5"/>
<circle cx="302.7" cy="358.1" r="0.41" fill="#b0a8b0" opacity="0.5"/>
<circle cx="266.4" cy="336.0" r="0.40" fill="#c8c8d0" opacity="0.5"/>
<circle cx="292.5" cy="337.4" r="0.44" fill="#b0a8b0" opacity="0.5"/>
<circle cx="287.3" cy="324.6" r="0.44" fill="#b0a8b0" opacity="0.5"/>
<circle cx="269.0" cy="344.3" r="0.35" fill="#b0a8b0" opacity="0.5"/>
<circle cx="289.4" cy="348.0" r="0.39" fill="#b0a8b0" opacity="0.5"/>
<circle cx="285.5" cy="331.6" r="0.48" fill="#c8c8d0" opacity="0.5"/>
<circle cx="274.3" cy="331.4" r="0.45" fill="#b0a8b0" opacity="0.5"/>
<circle cx="262.9" cy="330.7" r="0.50" fill="#c8c8d0" opacity="0.5"/>
<circle cx="287.5" cy="336.9" r="0.36" fill="#c8c8d0" opacity="0.5"/>
<circle cx="284.6" cy="337.8" r="0.40" fill="#c8c8d0" opacity="0.5"/>
<circle cx="305.0" cy="336.3" r="0.31" fill="#c8c8d0" opacity="0.5"/>
<circle cx="291.9" cy="355.4" r="0.32" fill="#b0a8b0" opacity="0.5"/>
<circle cx="303.7" cy="341.7" r="0.41" fill="#b0a8b0" opacity="0.5"/>
<circle cx="289.4" cy="350.2" r="0.39" fill="#b0a8b0" opacity="0.5"/>
<circle cx="294.5" cy="363.5" r="0.38" fill="#c8c8d0" opacity="0.5"/>
<circle cx="297.7" cy="325.1" r="0.34" fill="#b0a8b0" opacity="0.5"/>
<circle cx="267.6" cy="356.3" r="0.43" fill="#c8c8d0" opacity="0.5"/>
<circle cx="299.9" cy="347.6" r="0.46" fill="#7a5a5a" opacity="0.6"/>
<circle cx="281.6" cy="331.4" r="0.31" fill="#7a5a5a" opacity="0.6"/>
<circle cx="275.9" cy="349.0" r="0.47" fill="#7a5a5a" opacity="0.6"/>
<circle cx="294.8" cy="347.0" r="0.45" fill="#7a5a5a" opacity="0.6"/>
<circle cx="281.6" cy="329.1" r="0.48" fill="#7a5a5a" opacity="0.6"/>
<circle cx="295.8" cy="363.2" r="0.45" fill="#7a5a5a" opacity="0.6"/>
<rect x="288.20" y="349.70" width="17.50" height="17.40" fill="#e9eef2"/>
<circle cx="290.1" cy="364.7" r="0.34" fill="#6a3a3a" opacity="0.7"/>
<circle cx="292.8" cy="363.9" r="0.46" fill="#6a3a3a" opacity="0.7"/>
<circle cx="300.3" cy="358.6" r="0.51" fill="#6a3a3a" opacity="0.7"/>
<circle cx="302.0" cy="361.6" r="0.58" fill="#6a3a3a" opacity="0.7"/>
<circle cx="300.5" cy="361.7" r="0.50" fill="#6a3a3a" opacity="0.7"/>
<circle cx="297.1" cy="365.4" r="0.49" fill="#6a3a3a" opacity="0.7"/>
<rect x="288.20" y="349.70" width="17.50" height="17.40" fill="none" stroke="#94949c" stroke-width="0.55"/>
<rect x="283.60" y="336.10" width="9.20" height="9.20" fill="none" stroke="#9a9aa2" stroke-width="0.5"/>
</g>
<rect x="262.20" y="323.00" width="43.50" height="44.50" fill="none" stroke="#b8b8bc" stroke-width="0.6"/>
<clipPath id="t02"><rect x="124.4" y="369.0" width="44.20" height="44.90"/></clipPath>
<g clip-path="url(#t02)">
<rect x="124.40" y="369.00" width="44.20" height="44.90" fill="#d9dce6" />
<g filter="url(#blur3)">
<ellipse cx="144.29" cy="393.69" rx="11.05" ry="17.96" fill="#e0d6de" opacity="0.6"/>
<ellipse cx="159.76" cy="382.47" rx="13.26" ry="13.47" fill="#dfe3ec" opacity="0.6"/>
<ellipse cx="128.82" cy="409.41" rx="8.84" ry="8.98" fill="#cfd8ea" opacity="0.6"/>
</g>
<circle cx="130.9" cy="396.7" r="0.49" fill="#b4b0c4" opacity="0.35"/>
<circle cx="153.6" cy="377.2" r="0.52" fill="#c4bccc" opacity="0.35"/>
<circle cx="149.4" cy="370.9" r="0.49" fill="#f2f2f6" opacity="0.5"/>
<circle cx="157.4" cy="408.7" r="0.56" fill="#b4b0c4" opacity="0.35"/>
<circle cx="141.1" cy="379.2" r="0.33" fill="#b4b0c4" opacity="0.35"/>
<circle cx="126.7" cy="377.3" r="0.45" fill="#f2f2f6" opacity="0.5"/>
<circle cx="146.5" cy="379.0" r="0.48" fill="#f2f2f6" opacity="0.5"/>
<circle cx="146.1" cy="387.5" r="0.53" fill="#c4bccc" opacity="0.35"/>
<circle cx="135.3" cy="373.1" r="0.43" fill="#c4bccc" opacity="0.35"/>
<circle cx="133.0" cy="388.2" r="0.45" fill="#f2f2f6" opacity="0.5"/>
<circle cx="142.0" cy="409.8" r="0.43" fill="#b4b0c4" opacity="0.35"/>
<circle cx="127.6" cy="379.7" r="0.45" fill="#c4bccc" opacity="0.35"/>
<circle cx="149.1" cy="388.8" r="0.57" fill="#f2f2f6" opacity="0.5"/>
<circle cx="136.2" cy="383.2" r="0.46" fill="#f2f2f6" opacity="0.5"/>
<circle cx="166.3" cy="389.1" r="0.65" fill="#f2f2f6" opacity="0.5"/>
<circle cx="147.0" cy="378.3" r="0.56" fill="#b4b0c4" opacity="0.35"/>
<circle cx="150.9" cy="410.1" r="0.36" fill="#f2f2f6" opacity="0.5"/>
<circle cx="161.4" cy="385.6" r="0.44" fill="#b4b0c4" opacity="0.35"/>
<circle cx="165.8" cy="411.4" r="0.41" fill="#b4b0c4" opacity="0.35"/>
<circle cx="158.8" cy="392.5" r="0.55" fill="#c4bccc" opacity="0.35"/>
<circle cx="142.8" cy="408.8" r="0.37" fill="#b4b0c4" opacity="0.35"/>
<circle cx="144.2" cy="398.8" r="0.48" fill="#b4b0c4" opacity="0.35"/>
<circle cx="130.5" cy="395.9" r="0.38" fill="#f2f2f6" opacity="0.5"/>
<circle cx="128.0" cy="386.5" r="0.34" fill="#b4b0c4" opacity="0.35"/>
<circle cx="158.7" cy="369.2" r="0.41" fill="#c4bccc" opacity="0.35"/>
<circle cx="156.6" cy="387.6" r="0.45" fill="#b4b0c4" opacity="0.35"/>
<circle cx="154.7" cy="406.4" r="0.37" fill="#f2f2f6" opacity="0.5"/>
<circle cx="145.0" cy="405.2" r="0.50" fill="#c4bccc" opacity="0.35"/>
<circle cx="133.6" cy="402.2" r="0.33" fill="#c4bccc" opacity="0.35"/>
<circle cx="131.9" cy="404.5" r="0.53" fill="#c4bccc" opacity="0.35"/>
<circle cx="158.2" cy="410.6" r="0.46" fill="#f2f2f6" opacity="0.5"/>
<circle cx="124.7" cy="381.4" r="0.36" fill="#b4b0c4" opacity="0.35"/>
<circle cx="143.3" cy="411.4" r="0.55" fill="#b4b0c4" opacity="0.35"/>
<circle cx="166.8" cy="397.7" r="0.34" fill="#c4bccc" opacity="0.35"/>
<circle cx="131.3" cy="400.0" r="0.55" fill="#b4b0c4" opacity="0.35"/>
<circle cx="162.7" cy="371.7" r="0.53" fill="#b4b0c4" opacity="0.35"/>
<circle cx="165.1" cy="375.1" r="0.51" fill="#f2f2f6" opacity="0.5"/>
<circle cx="145.7" cy="408.5" r="0.49" fill="#c4bccc" opacity="0.35"/>
<circle cx="145.1" cy="404.4" r="0.39" fill="#f2f2f6" opacity="0.5"/>
<circle cx="130.5" cy="369.4" r="0.64" fill="#f2f2f6" opacity="0.5"/>
<circle cx="164.2" cy="375.8" r="0.65" fill="#c4bccc" opacity="0.35"/>
<circle cx="133.1" cy="373.0" r="0.56" fill="#f2f2f6" opacity="0.5"/>
<circle cx="166.8" cy="370.4" r="0.47" fill="#f2f2f6" opacity="0.5"/>
<circle cx="150.0" cy="376.3" r="0.40" fill="#c4bccc" opacity="0.35"/>
<circle cx="164.3" cy="408.4" r="0.36" fill="#f2f2f6" opacity="0.5"/>
<circle cx="135.9" cy="409.6" r="0.54" fill="#f2f2f6" opacity="0.5"/>
<circle cx="129.8" cy="405.6" r="0.37" fill="#f2f2f6" opacity="0.5"/>
<circle cx="131.1" cy="372.0" r="0.60" fill="#b4b0c4" opacity="0.35"/>
<circle cx="142.0" cy="397.7" r="0.35" fill="#c4bccc" opacity="0.35"/>
<circle cx="139.4" cy="390.2" r="0.39" fill="#c4bccc" opacity="0.35"/>
<circle cx="144.1" cy="378.3" r="0.37" fill="#f2f2f6" opacity="0.5"/>
<circle cx="129.2" cy="400.0" r="0.42" fill="#c4bccc" opacity="0.35"/>
<circle cx="148.1" cy="401.4" r="0.32" fill="#f2f2f6" opacity="0.5"/>
<circle cx="154.8" cy="413.6" r="0.63" fill="#b4b0c4" opacity="0.35"/>
<circle cx="125.5" cy="374.1" r="0.49" fill="#c4bccc" opacity="0.35"/>
<circle cx="167.4" cy="371.5" r="0.64" fill="#c4bccc" opacity="0.35"/>
<circle cx="155.7" cy="371.7" r="0.46" fill="#b4b0c4" opacity="0.35"/>
<circle cx="141.2" cy="405.5" r="0.38" fill="#f2f2f6" opacity="0.5"/>
<circle cx="138.7" cy="405.1" r="0.64" fill="#f2f2f6" opacity="0.5"/>
<circle cx="154.8" cy="410.1" r="0.60" fill="#b4b0c4" opacity="0.35"/>
<circle cx="152.4" cy="381.7" r="0.34" fill="#b4b0c4" opacity="0.35"/>
<circle cx="148.8" cy="405.7" r="0.40" fill="#c4bccc" opacity="0.35"/>
<circle cx="147.1" cy="377.7" r="0.31" fill="#b4b0c4" opacity="0.35"/>
<circle cx="132.1" cy="378.8" r="0.51" fill="#f2f2f6" opacity="0.5"/>
<circle cx="136.4" cy="409.6" r="0.64" fill="#b4b0c4" opacity="0.35"/>
<circle cx="167.4" cy="388.7" r="0.55" fill="#c4bccc" opacity="0.35"/>
<circle cx="135.2" cy="395.3" r="0.55" fill="#b4b0c4" opacity="0.35"/>
<circle cx="146.1" cy="392.0" r="0.31" fill="#f2f2f6" opacity="0.5"/>
<circle cx="164.0" cy="391.6" r="0.38" fill="#f2f2f6" opacity="0.5"/>
<circle cx="143.0" cy="404.1" r="0.64" fill="#f2f2f6" opacity="0.5"/>
<circle cx="143.1" cy="402.3" r="0.46" fill="#c4bccc" opacity="0.35"/>
<circle cx="140.6" cy="407.5" r="0.56" fill="#f2f2f6" opacity="0.5"/>
<circle cx="137.4" cy="383.6" r="0.48" fill="#c4bccc" opacity="0.35"/>
<circle cx="152.5" cy="401.5" r="0.37" fill="#b4b0c4" opacity="0.35"/>
<circle cx="135.0" cy="386.2" r="0.60" fill="#f2f2f6" opacity="0.5"/>
<circle cx="131.2" cy="369.6" r="0.49" fill="#f2f2f6" opacity="0.5"/>
<circle cx="160.6" cy="400.8" r="0.63" fill="#b4b0c4" opacity="0.35"/>
<circle cx="141.2" cy="388.0" r="0.60" fill="#b4b0c4" opacity="0.35"/>
<circle cx="163.5" cy="402.3" r="0.57" fill="#c4bccc" opacity="0.35"/>
<circle cx="167.9" cy="410.6" r="0.40" fill="#c4bccc" opacity="0.35"/>
<circle cx="153.1" cy="409.2" r="0.39" fill="#b4b0c4" opacity="0.35"/>
<circle cx="132.7" cy="403.9" r="0.44" fill="#b4b0c4" opacity="0.35"/>
<circle cx="128.5" cy="398.0" r="0.36" fill="#c4bccc" opacity="0.35"/>
<circle cx="163.7" cy="387.9" r="0.64" fill="#c4bccc" opacity="0.35"/>
<circle cx="131.9" cy="385.6" r="0.46" fill="#c4bccc" opacity="0.35"/>
<circle cx="161.8" cy="391.9" r="0.41" fill="#b4b0c4" opacity="0.35"/>
<circle cx="163.3" cy="394.1" r="0.31" fill="#b4b0c4" opacity="0.35"/>
<circle cx="129.7" cy="410.6" r="0.60" fill="#f2f2f6" opacity="0.5"/>
<circle cx="159.1" cy="412.9" r="0.62" fill="#b4b0c4" opacity="0.35"/>
<circle cx="124.7" cy="402.4" r="0.59" fill="#c4bccc" opacity="0.35"/>
<circle cx="147.5" cy="376.2" r="0.49" fill="#f2f2f6" opacity="0.5"/>
<circle cx="130.8" cy="390.9" r="0.47" fill="#c4bccc" opacity="0.35"/>
<circle cx="163.9" cy="395.7" r="0.37" fill="#b4b0c4" opacity="0.35"/>
<circle cx="154.1" cy="405.8" r="0.62" fill="#c4bccc" opacity="0.35"/>
<circle cx="133.0" cy="378.0" r="0.36" fill="#f2f2f6" opacity="0.5"/>
<circle cx="139.4" cy="373.0" r="0.42" fill="#f2f2f6" opacity="0.5"/>
<circle cx="130.2" cy="393.7" r="0.64" fill="#f2f2f6" opacity="0.5"/>
<circle cx="129.1" cy="402.5" r="0.54" fill="#c4bccc" opacity="0.35"/>
<circle cx="149.4" cy="382.6" r="0.42" fill="#f2f2f6" opacity="0.5"/>
<circle cx="147.2" cy="376.9" r="0.42" fill="#f2f2f6" opacity="0.5"/>
<circle cx="157.2" cy="379.4" r="0.41" fill="#c4bccc" opacity="0.35"/>
<circle cx="130.5" cy="398.7" r="0.59" fill="#f2f2f6" opacity="0.5"/>
<circle cx="141.8" cy="384.7" r="0.52" fill="#f2f2f6" opacity="0.5"/>
<circle cx="137.2" cy="407.4" r="0.60" fill="#c4bccc" opacity="0.35"/>
<circle cx="163.9" cy="410.6" r="0.54" fill="#f2f2f6" opacity="0.5"/>
<circle cx="155.2" cy="386.5" r="0.31" fill="#b4b0c4" opacity="0.35"/>
<circle cx="154.3" cy="413.1" r="0.49" fill="#c4bccc" opacity="0.35"/>
<circle cx="157.8" cy="406.3" r="0.52" fill="#b4b0c4" opacity="0.35"/>
<circle cx="133.9" cy="404.7" r="0.63" fill="#b4b0c4" opacity="0.35"/>
<circle cx="149.7" cy="408.9" r="0.50" fill="#f2f2f6" opacity="0.5"/>
<circle cx="162.2" cy="376.3" r="0.55" fill="#b4b0c4" opacity="0.35"/>
<circle cx="145.6" cy="395.1" r="0.58" fill="#c4bccc" opacity="0.35"/>
<circle cx="158.9" cy="371.0" r="0.45" fill="#c4bccc" opacity="0.35"/>
<circle cx="133.7" cy="389.3" r="0.46" fill="#c4bccc" opacity="0.35"/>
<circle cx="141.4" cy="381.7" r="0.56" fill="#c4bccc" opacity="0.35"/>
<circle cx="158.5" cy="377.5" r="0.35" fill="#c4bccc" opacity="0.35"/>
<circle cx="142.0" cy="398.0" r="0.60" fill="#f2f2f6" opacity="0.5"/>
<circle cx="145.7" cy="409.6" r="0.40" fill="#b4b0c4" opacity="0.35"/>
<circle cx="146.2" cy="369.6" r="0.50" fill="#f2f2f6" opacity="0.5"/>
<circle cx="132.4" cy="411.3" r="0.40" fill="#b4b0c4" opacity="0.35"/>
<circle cx="157.9" cy="391.2" r="0.54" fill="#f2f2f6" opacity="0.5"/>
<circle cx="159.9" cy="379.5" r="0.37" fill="#f2f2f6" opacity="0.5"/>
<circle cx="150.2" cy="413.9" r="0.36" fill="#c4bccc" opacity="0.35"/>
<circle cx="143.2" cy="395.6" r="0.53" fill="#c4bccc" opacity="0.35"/>
<circle cx="146.0" cy="405.8" r="0.39" fill="#b4b0c4" opacity="0.35"/>
<circle cx="132.5" cy="369.3" r="0.37" fill="#c4bccc" opacity="0.35"/>
<circle cx="150.0" cy="392.6" r="0.34" fill="#f2f2f6" opacity="0.5"/>
<circle cx="142.2" cy="391.1" r="0.45" fill="#b4b0c4" opacity="0.35"/>
<circle cx="132.6" cy="386.2" r="0.64" fill="#f2f2f6" opacity="0.5"/>
<circle cx="134.6" cy="404.6" r="0.65" fill="#b4b0c4" opacity="0.35"/>
<circle cx="135.5" cy="400.5" r="0.35" fill="#f2f2f6" opacity="0.5"/>
<circle cx="163.6" cy="378.6" r="0.54" fill="#f2f2f6" opacity="0.5"/>
<circle cx="134.5" cy="388.0" r="0.56" fill="#b4b0c4" opacity="0.35"/>
<circle cx="160.1" cy="380.0" r="0.55" fill="#f2f2f6" opacity="0.5"/>
<circle cx="149.9" cy="383.5" r="0.54" fill="#b4b0c4" opacity="0.35"/>
<circle cx="144.2" cy="401.0" r="0.43" fill="#c4bccc" opacity="0.35"/>
<circle cx="158.6" cy="378.9" r="0.37" fill="#c4bccc" opacity="0.35"/>
<circle cx="151.9" cy="406.3" r="0.49" fill="#c4bccc" opacity="0.35"/>
<circle cx="143.7" cy="400.8" r="0.43" fill="#f2f2f6" opacity="0.5"/>
<circle cx="150.0" cy="407.2" r="0.58" fill="#b4b0c4" opacity="0.35"/>
<circle cx="143.9" cy="387.4" r="0.41" fill="#d0b0b8" opacity="0.5"/>
<circle cx="140.8" cy="392.1" r="0.43" fill="#d0b0b8" opacity="0.5"/>
<circle cx="135.5" cy="380.3" r="0.33" fill="#b88080" opacity="0.5"/>
<circle cx="141.3" cy="402.0" r="0.40" fill="#9a5050" opacity="0.55"/>
<circle cx="139.2" cy="394.7" r="0.36" fill="#d0b0b8" opacity="0.5"/>
<circle cx="146.1" cy="377.5" r="0.39" fill="#b88080" opacity="0.5"/>
<circle cx="150.0" cy="411.7" r="0.45" fill="#d0b0b8" opacity="0.5"/>
<circle cx="159.9" cy="403.9" r="0.37" fill="#d0b0b8" opacity="0.5"/>
<circle cx="126.6" cy="384.5" r="0.39" fill="#d0b0b8" opacity="0.5"/>
<circle cx="149.1" cy="403.1" r="0.31" fill="#d0b0b8" opacity="0.5"/>
<circle cx="154.9" cy="408.1" r="0.55" fill="#9a5050" opacity="0.55"/>
<circle cx="140.3" cy="395.0" r="0.51" fill="#b88080" opacity="0.5"/>
<circle cx="148.4" cy="375.4" r="0.40" fill="#b88080" opacity="0.5"/>
<circle cx="140.7" cy="402.0" r="0.52" fill="#b88080" opacity="0.5"/>
<circle cx="149.2" cy="391.6" r="0.46" fill="#b88080" opacity="0.5"/>
<circle cx="137.5" cy="398.5" r="0.48" fill="#b88080" opacity="0.5"/>
<circle cx="146.3" cy="370.1" r="0.41" fill="#d0b0b8" opacity="0.5"/>
<circle cx="141.1" cy="386.0" r="0.33" fill="#9a5050" opacity="0.55"/>
<circle cx="143.1" cy="384.2" r="0.53" fill="#d0b0b8" opacity="0.5"/>
<circle cx="144.2" cy="403.6" r="0.33" fill="#d0b0b8" opacity="0.5"/>
<circle cx="136.8" cy="386.2" r="0.53" fill="#d0b0b8" opacity="0.5"/>
<circle cx="148.4" cy="386.9" r="0.31" fill="#9a5050" opacity="0.55"/>
<circle cx="151.2" cy="410.1" r="0.41" fill="#9a5050" opacity="0.55"/>
<circle cx="147.6" cy="385.1" r="0.39" fill="#d0b0b8" opacity="0.5"/>
<circle cx="155.6" cy="412.1" r="0.50" fill="#b88080" opacity="0.5"/>
<circle cx="145.6" cy="395.1" r="0.44" fill="#b88080" opacity="0.5"/>
<circle cx="155.7" cy="401.4" r="0.54" fill="#d0b0b8" opacity="0.5"/>
<circle cx="141.8" cy="400.0" r="0.35" fill="#b88080" opacity="0.5"/>
<circle cx="143.0" cy="394.3" r="0.38" fill="#d0b0b8" opacity="0.5"/>
<circle cx="133.7" cy="381.3" r="0.49" fill="#b88080" opacity="0.5"/>
<circle cx="141.4" cy="396.3" r="0.42" fill="#b88080" opacity="0.5"/>
<circle cx="143.5" cy="386.8" r="0.47" fill="#d0b0b8" opacity="0.5"/>
<circle cx="147.2" cy="386.8" r="0.35" fill="#9a5050" opacity="0.55"/>
<circle cx="136.7" cy="392.7" r="0.53" fill="#d0b0b8" opacity="0.5"/>
<circle cx="146.9" cy="393.2" r="0.53" fill="#d0b0b8" opacity="0.5"/>
<circle cx="140.5" cy="395.3" r="0.53" fill="#b88080" opacity="0.5"/>
<circle cx="154.0" cy="383.1" r="0.33" fill="#d0b0b8" opacity="0.5"/>
<circle cx="139.4" cy="401.1" r="0.38" fill="#d0b0b8" opacity="0.5"/>
<circle cx="134.4" cy="411.3" r="0.31" fill="#9a5050" opacity="0.55"/>
<circle cx="145.0" cy="404.2" r="0.41" fill="#b88080" opacity="0.5"/>
<circle cx="151.4" cy="372.1" r="0.44" fill="#b88080" opacity="0.5"/>
<circle cx="146.5" cy="407.3" r="0.33" fill="#d0b0b8" opacity="0.5"/>
<circle cx="135.6" cy="388.0" r="0.55" fill="#b88080" opacity="0.5"/>
<circle cx="132.0" cy="399.8" r="0.49" fill="#d0b0b8" opacity="0.5"/>
<circle cx="135.6" cy="398.8" r="0.53" fill="#9a5050" opacity="0.55"/>
<circle cx="145.1" cy="380.2" r="0.53" fill="#d0b0b8" opacity="0.5"/>
<circle cx="142.1" cy="410.6" r="0.39" fill="#9a5050" opacity="0.55"/>
<circle cx="142.1" cy="404.9" r="0.42" fill="#b88080" opacity="0.5"/>
<circle cx="140.4" cy="399.2" r="0.45" fill="#d0b0b8" opacity="0.5"/>
<circle cx="140.2" cy="405.3" r="0.39" fill="#b88080" opacity="0.5"/>
<circle cx="153.4" cy="389.1" r="0.48" fill="#9a5050" opacity="0.55"/>
<circle cx="137.3" cy="406.9" r="0.43" fill="#d0b0b8" opacity="0.5"/>
<circle cx="155.6" cy="394.5" r="0.48" fill="#d0b0b8" opacity="0.5"/>
<circle cx="149.8" cy="384.3" r="0.44" fill="#d0b0b8" opacity="0.5"/>
<circle cx="139.3" cy="405.2" r="0.47" fill="#b88080" opacity="0.5"/>
<circle cx="139.7" cy="394.5" r="0.34" fill="#9a5050" opacity="0.55"/>
<circle cx="150.5" cy="382.4" r="0.45" fill="#9a5050" opacity="0.55"/>
<circle cx="145.9" cy="382.7" r="0.45" fill="#b88080" opacity="0.5"/>
<circle cx="133.0" cy="384.9" r="0.49" fill="#9a5050" opacity="0.55"/>
<circle cx="140.3" cy="388.7" r="0.37" fill="#9a5050" opacity="0.55"/>
<circle cx="159.8" cy="406.1" r="0.41" fill="#b88080" opacity="0.5"/>
<circle cx="146.2" cy="395.1" r="0.39" fill="#d0b0b8" opacity="0.5"/>
<circle cx="140.1" cy="385.3" r="0.32" fill="#9a5050" opacity="0.55"/>
<circle cx="139.0" cy="399.3" r="0.49" fill="#b88080" opacity="0.5"/>
<circle cx="149.3" cy="398.1" r="0.36" fill="#9a5050" opacity="0.55"/>
<circle cx="146.0" cy="382.0" r="0.55" fill="#d0b0b8" opacity="0.5"/>
<circle cx="151.1" cy="409.4" r="0.50" fill="#9a5050" opacity="0.55"/>
<circle cx="147.3" cy="406.3" r="0.47" fill="#9a5050" opacity="0.55"/>
<circle cx="147.2" cy="371.6" r="0.54" fill="#b88080" opacity="0.5"/>
<circle cx="132.9" cy="371.0" r="0.47" fill="#b88080" opacity="0.5"/>
<circle cx="149.9" cy="401.6" r="0.48" fill="#9a5050" opacity="0.55"/>
<circle cx="138.7" cy="408.2" r="0.44" fill="#b88080" opacity="0.5"/>
<circle cx="140.7" cy="408.4" r="0.46" fill="#d0b0b8" opacity="0.5"/>
<circle cx="149.3" cy="401.6" r="0.50" fill="#d0b0b8" opacity="0.5"/>
<circle cx="151.3" cy="398.0" r="0.32" fill="#9a5050" opacity="0.55"/>
<circle cx="141.7" cy="409.3" r="0.44" fill="#9a5050" opacity="0.55"/>
<circle cx="143.0" cy="413.5" r="0.45" fill="#b88080" opacity="0.5"/>
<circle cx="145.8" cy="388.4" r="0.50" fill="#b88080" opacity="0.5"/>
<circle cx="139.9" cy="379.4" r="0.34" fill="#b88080" opacity="0.5"/>
<circle cx="154.3" cy="402.5" r="0.37" fill="#b88080" opacity="0.5"/>
<circle cx="148.7" cy="402.1" r="0.50" fill="#b88080" opacity="0.5"/>
<circle cx="145.0" cy="393.8" r="0.52" fill="#9a5050" opacity="0.55"/>
<circle cx="133.9" cy="409.2" r="0.52" fill="#b88080" opacity="0.5"/>
<circle cx="143.5" cy="384.8" r="0.37" fill="#b88080" opacity="0.5"/>
<circle cx="131.7" cy="391.5" r="0.54" fill="#d0b0b8" opacity="0.5"/>
<circle cx="134.1" cy="409.4" r="0.39" fill="#b88080" opacity="0.5"/>
<circle cx="147.8" cy="394.4" r="0.38" fill="#9a5050" opacity="0.55"/>
<circle cx="150.0" cy="398.3" r="0.44" fill="#9a5050" opacity="0.55"/>
<circle cx="147.6" cy="413.3" r="0.50" fill="#9a5050" opacity="0.55"/>
<circle cx="143.7" cy="396.0" r="0.46" fill="#d0b0b8" opacity="0.5"/>
<circle cx="147.0" cy="381.8" r="0.52" fill="#9a5050" opacity="0.55"/>
<circle cx="150.6" cy="391.5" r="0.48" fill="#b88080" opacity="0.5"/>
<circle cx="148.4" cy="376.6" r="0.34" fill="#9a5050" opacity="0.55"/>
<circle cx="147.5" cy="384.5" r="0.38" fill="#d0b0b8" opacity="0.5"/>
<circle cx="136.0" cy="369.6" r="0.37" fill="#b88080" opacity="0.5"/>
<circle cx="147.7" cy="402.6" r="0.42" fill="#9a5050" opacity="0.55"/>
<circle cx="139.2" cy="378.9" r="0.48" fill="#9a5050" opacity="0.55"/>
<circle cx="133.0" cy="388.7" r="0.52" fill="#9a5050" opacity="0.55"/>
<circle cx="152.9" cy="384.4" r="0.32" fill="#9a5050" opacity="0.55"/>
<circle cx="142.7" cy="369.9" r="0.55" fill="#b88080" opacity="0.5"/>
<circle cx="134.6" cy="389.5" r="0.43" fill="#d0b0b8" opacity="0.5"/>
<circle cx="142.6" cy="404.2" r="0.51" fill="#9a5050" opacity="0.55"/>
<circle cx="139.5" cy="406.3" r="0.43" fill="#9a5050" opacity="0.55"/>
<circle cx="147.5" cy="398.0" r="0.46" fill="#b88080" opacity="0.5"/>
<circle cx="147.9" cy="381.8" r="0.35" fill="#d0b0b8" opacity="0.5"/>
<circle cx="152.6" cy="373.5" r="0.47" fill="#b88080" opacity="0.5"/>
<circle cx="137.9" cy="403.8" r="0.43" fill="#b88080" opacity="0.5"/>
<circle cx="148.2" cy="375.0" r="0.31" fill="#9a5050" opacity="0.55"/>
<circle cx="140.2" cy="406.8" r="0.51" fill="#d0b0b8" opacity="0.5"/>
<circle cx="142.3" cy="392.6" r="0.34" fill="#9a5050" opacity="0.55"/>
<circle cx="143.9" cy="395.8" r="0.45" fill="#d0b0b8" opacity="0.5"/>
<circle cx="149.6" cy="408.8" r="0.45" fill="#b88080" opacity="0.5"/>
<circle cx="134.2" cy="384.3" r="0.43" fill="#9a5050" opacity="0.55"/>
<circle cx="145.8" cy="379.8" r="0.54" fill="#b88080" opacity="0.5"/>
<circle cx="142.0" cy="407.8" r="0.40" fill="#b88080" opacity="0.5"/>
<circle cx="136.5" cy="395.2" r="0.52" fill="#9a5050" opacity="0.55"/>
<circle cx="147.8" cy="390.6" r="0.53" fill="#9a5050" opacity="0.55"/>
<circle cx="138.5" cy="397.3" r="0.47" fill="#d0b0b8" opacity="0.5"/>
<circle cx="140.6" cy="381.1" r="0.49" fill="#9a5050" opacity="0.55"/>
<circle cx="144.1" cy="402.8" r="0.54" fill="#d0b0b8" opacity="0.5"/>
<circle cx="148.8" cy="393.9" r="0.39" fill="#b88080" opacity="0.5"/>
<circle cx="146.5" cy="409.5" r="0.37" fill="#b88080" opacity="0.5"/>
<circle cx="135.5" cy="404.7" r="0.33" fill="#b88080" opacity="0.5"/>
<circle cx="135.4" cy="406.9" r="0.52" fill="#9a5050" opacity="0.55"/>
<circle cx="153.7" cy="386.3" r="0.36" fill="#b88080" opacity="0.5"/>
<circle cx="149.0" cy="387.5" r="0.54" fill="#d0b0b8" opacity="0.5"/>
<circle cx="146.4" cy="374.9" r="0.52" fill="#d0b0b8" opacity="0.5"/>
<circle cx="151.8" cy="399.7" r="0.32" fill="#d0b0b8" opacity="0.5"/>
<circle cx="152.2" cy="405.3" r="0.45" fill="#d0b0b8" opacity="0.5"/>
<circle cx="149.4" cy="373.2" r="0.44" fill="#d0b0b8" opacity="0.5"/>
<circle cx="149.8" cy="391.5" r="0.52" fill="#9a5050" opacity="0.55"/>
<circle cx="143.0" cy="377.6" r="0.35" fill="#b88080" opacity="0.5"/>
<circle cx="142.4" cy="378.2" r="0.37" fill="#9a5050" opacity="0.55"/>
<circle cx="155.5" cy="383.3" r="0.32" fill="#d0b0b8" opacity="0.5"/>
<circle cx="150.8" cy="396.9" r="0.54" fill="#d0b0b8" opacity="0.5"/>
<circle cx="140.5" cy="394.1" r="0.50" fill="#b88080" opacity="0.5"/>
<circle cx="138.7" cy="404.5" r="0.34" fill="#9a5050" opacity="0.55"/>
<circle cx="140.5" cy="407.9" r="0.37" fill="#b88080" opacity="0.5"/>
<circle cx="144.7" cy="378.0" r="0.49" fill="#9a5050" opacity="0.55"/>
<circle cx="140.6" cy="378.1" r="0.52" fill="#d0b0b8" opacity="0.5"/>
<circle cx="138.9" cy="402.3" r="0.48" fill="#b88080" opacity="0.5"/>
<circle cx="142.8" cy="404.3" r="0.49" fill="#b88080" opacity="0.5"/>
<circle cx="143.7" cy="387.1" r="0.54" fill="#9a5050" opacity="0.55"/>
<circle cx="137.6" cy="389.1" r="0.41" fill="#9a5050" opacity="0.55"/>
<circle cx="144.9" cy="394.2" r="0.41" fill="#9a5050" opacity="0.55"/>
<circle cx="142.2" cy="408.3" r="0.38" fill="#d0b0b8" opacity="0.5"/>
<circle cx="144.0" cy="390.7" r="0.55" fill="#d0b0b8" opacity="0.5"/>
<circle cx="140.0" cy="387.0" r="0.52" fill="#9a5050" opacity="0.55"/>
<circle cx="136.3" cy="381.6" r="0.39" fill="#9a5050" opacity="0.55"/>
<circle cx="142.6" cy="395.5" r="0.31" fill="#b88080" opacity="0.5"/>
<circle cx="147.7" cy="398.6" r="0.40" fill="#b88080" opacity="0.5"/>
<circle cx="142.4" cy="404.9" r="0.35" fill="#b88080" opacity="0.5"/>
<circle cx="146.6" cy="403.9" r="0.34" fill="#9a5050" opacity="0.55"/>
<circle cx="141.7" cy="382.9" r="0.31" fill="#9a5050" opacity="0.55"/>
<circle cx="146.6" cy="396.6" r="0.51" fill="#9a5050" opacity="0.55"/>
<circle cx="145.4" cy="392.5" r="0.45" fill="#9a5050" opacity="0.55"/>
<circle cx="144.2" cy="410.5" r="0.31" fill="#9a5050" opacity="0.55"/>
<circle cx="139.3" cy="378.4" r="0.32" fill="#b88080" opacity="0.5"/>
<circle cx="150.4" cy="407.0" r="0.40" fill="#b88080" opacity="0.5"/>
<circle cx="140.4" cy="406.9" r="0.50" fill="#d0b0b8" opacity="0.5"/>
<circle cx="145.8" cy="410.3" r="0.51" fill="#d0b0b8" opacity="0.5"/>
<circle cx="147.4" cy="390.6" r="0.35" fill="#d0b0b8" opacity="0.5"/>
<circle cx="134.4" cy="403.1" r="0.44" fill="#d0b0b8" opacity="0.5"/>
<circle cx="139.1" cy="384.3" r="0.31" fill="#9a5050" opacity="0.55"/>
<circle cx="135.8" cy="407.0" r="0.31" fill="#b88080" opacity="0.5"/>
<circle cx="140.5" cy="404.6" r="0.31" fill="#d0b0b8" opacity="0.5"/>
<circle cx="142.7" cy="389.7" r="0.41" fill="#9a5050" opacity="0.55"/>
<circle cx="148.7" cy="404.8" r="0.50" fill="#d0b0b8" opacity="0.5"/>
<circle cx="136.7" cy="374.5" r="0.54" fill="#9a5050" opacity="0.55"/>
<circle cx="133.5" cy="387.0" r="0.30" fill="#9a5050" opacity="0.55"/>
<circle cx="152.5" cy="391.4" r="0.36" fill="#d0b0b8" opacity="0.5"/>
<circle cx="142.2" cy="408.4" r="0.32" fill="#b88080" opacity="0.5"/>
<circle cx="141.3" cy="395.9" r="0.54" fill="#9a5050" opacity="0.55"/>
<circle cx="143.4" cy="403.9" r="0.54" fill="#d0b0b8" opacity="0.5"/>
<circle cx="144.7" cy="382.1" r="0.43" fill="#9a5050" opacity="0.55"/>
<circle cx="145.0" cy="391.1" r="0.48" fill="#d0b0b8" opacity="0.5"/>
<circle cx="156.6" cy="397.9" r="0.44" fill="#b88080" opacity="0.5"/>
<circle cx="141.6" cy="404.3" r="0.50" fill="#d0b0b8" opacity="0.5"/>
<circle cx="154.0" cy="391.8" r="0.48" fill="#d0b0b8" opacity="0.5"/>
<circle cx="136.2" cy="386.4" r="0.51" fill="#9a5050" opacity="0.55"/>
<circle cx="146.1" cy="386.4" r="0.47" fill="#9a5050" opacity="0.55"/>
<circle cx="146.2" cy="400.6" r="0.40" fill="#d0b0b8" opacity="0.5"/>
<circle cx="132.5" cy="382.0" r="0.34" fill="#d0b0b8" opacity="0.5"/>
<circle cx="140.8" cy="376.5" r="0.41" fill="#9a5050" opacity="0.55"/>
<circle cx="150.5" cy="387.5" r="0.42" fill="#d0b0b8" opacity="0.5"/>
<circle cx="131.3" cy="407.0" r="0.34" fill="#9a5050" opacity="0.55"/>
<circle cx="133.3" cy="393.4" r="0.37" fill="#b88080" opacity="0.5"/>
<circle cx="143.2" cy="400.3" r="0.32" fill="#9a5050" opacity="0.55"/>
<circle cx="145.1" cy="382.6" r="0.35" fill="#9a5050" opacity="0.55"/>
<circle cx="146.9" cy="401.6" r="0.48" fill="#d0b0b8" opacity="0.5"/>
<circle cx="142.3" cy="399.9" r="0.49" fill="#d0b0b8" opacity="0.5"/>
<circle cx="147.3" cy="409.2" r="0.41" fill="#9a5050" opacity="0.55"/>
<circle cx="147.5" cy="401.1" r="0.33" fill="#b88080" opacity="0.5"/>
<circle cx="150.8" cy="399.8" r="0.45" fill="#9a5050" opacity="0.55"/>
<circle cx="132.6" cy="401.7" r="0.54" fill="#d0b0b8" opacity="0.5"/>
<circle cx="150.3" cy="410.7" r="0.43" fill="#b88080" opacity="0.5"/>
<circle cx="158.6" cy="378.6" r="0.44" fill="#b88080" opacity="0.5"/>
<circle cx="154.9" cy="372.7" r="0.48" fill="#9a5050" opacity="0.55"/>
<circle cx="149.9" cy="377.9" r="0.32" fill="#9a5050" opacity="0.55"/>
<circle cx="152.2" cy="395.1" r="0.51" fill="#d0b0b8" opacity="0.5"/>
<circle cx="130.8" cy="385.1" r="0.38" fill="#c0c0cc" opacity="0.5"/>
<circle cx="158.5" cy="371.7" r="0.42" fill="#c0c0cc" opacity="0.5"/>
<circle cx="129.2" cy="396.8" r="0.35" fill="#c0c0cc" opacity="0.5"/>
<circle cx="137.2" cy="377.7" r="0.30" fill="#c0c0cc" opacity="0.5"/>
<circle cx="159.5" cy="406.3" r="0.47" fill="#c0c0cc" opacity="0.5"/>
<circle cx="150.7" cy="371.6" r="0.32" fill="#c0c0cc" opacity="0.5"/>
<circle cx="146.4" cy="371.1" r="0.42" fill="#c0c0cc" opacity="0.5"/>
<circle cx="148.0" cy="394.6" r="0.42" fill="#c0c0cc" opacity="0.5"/>
<circle cx="126.2" cy="389.6" r="0.32" fill="#c0c0cc" opacity="0.5"/>
<circle cx="145.7" cy="392.7" r="0.44" fill="#c0c0cc" opacity="0.5"/>
<circle cx="156.0" cy="410.2" r="0.33" fill="#c0c0cc" opacity="0.5"/>
<circle cx="161.2" cy="398.3" r="0.38" fill="#c0c0cc" opacity="0.5"/>
<circle cx="153.7" cy="407.4" r="0.40" fill="#c0c0cc" opacity="0.5"/>
<circle cx="148.8" cy="377.0" r="0.45" fill="#c0c0cc" opacity="0.5"/>
<circle cx="159.0" cy="408.2" r="0.43" fill="#c0c0cc" opacity="0.5"/>
<circle cx="139.5" cy="390.0" r="0.38" fill="#c0c0cc" opacity="0.5"/>
<circle cx="161.9" cy="380.1" r="0.41" fill="#c0c0cc" opacity="0.5"/>
<circle cx="134.5" cy="391.2" r="0.42" fill="#c0c0cc" opacity="0.5"/>
<circle cx="137.2" cy="405.9" r="0.46" fill="#c0c0cc" opacity="0.5"/>
<circle cx="163.6" cy="411.9" r="0.45" fill="#c0c0cc" opacity="0.5"/>
<circle cx="141.6" cy="380.7" r="0.44" fill="#c0c0cc" opacity="0.5"/>
<circle cx="142.7" cy="404.5" r="0.41" fill="#c0c0cc" opacity="0.5"/>
<circle cx="139.2" cy="390.0" r="0.36" fill="#c0c0cc" opacity="0.5"/>
<circle cx="126.5" cy="411.1" r="0.38" fill="#c0c0cc" opacity="0.5"/>
<circle cx="165.6" cy="380.7" r="0.46" fill="#c0c0cc" opacity="0.5"/>
<circle cx="136.2" cy="383.1" r="0.36" fill="#c0c0cc" opacity="0.5"/>
<circle cx="136.0" cy="408.1" r="0.44" fill="#c0c0cc" opacity="0.5"/>
<circle cx="153.6" cy="393.8" r="0.39" fill="#c0c0cc" opacity="0.5"/>
<circle cx="131.0" cy="374.2" r="0.35" fill="#c0c0cc" opacity="0.5"/>
<circle cx="153.1" cy="380.9" r="0.30" fill="#c0c0cc" opacity="0.5"/>
<circle cx="157.1" cy="401.3" r="0.41" fill="#c0c0cc" opacity="0.5"/>
<circle cx="153.9" cy="396.3" r="0.38" fill="#c0c0cc" opacity="0.5"/>
<circle cx="151.8" cy="376.0" r="0.49" fill="#c0c0cc" opacity="0.5"/>
<circle cx="131.0" cy="379.1" r="0.38" fill="#c0c0cc" opacity="0.5"/>
<circle cx="128.3" cy="392.4" r="0.31" fill="#c0c0cc" opacity="0.5"/>
<circle cx="145.5" cy="396.7" r="0.34" fill="#c0c0cc" opacity="0.5"/>
<circle cx="134.1" cy="395.9" r="0.40" fill="#c0c0cc" opacity="0.5"/>
<circle cx="162.8" cy="409.5" r="0.34" fill="#c0c0cc" opacity="0.5"/>
<circle cx="128.4" cy="393.4" r="0.44" fill="#c0c0cc" opacity="0.5"/>
<circle cx="152.2" cy="402.1" r="0.42" fill="#c0c0cc" opacity="0.5"/>
<circle cx="162.9" cy="400.0" r="0.42" fill="#c0c0cc" opacity="0.5"/>
<circle cx="128.0" cy="383.3" r="0.43" fill="#c0c0cc" opacity="0.5"/>
<circle cx="132.5" cy="394.0" r="0.36" fill="#c0c0cc" opacity="0.5"/>
<circle cx="162.3" cy="371.7" r="0.38" fill="#c0c0cc" opacity="0.5"/>
<circle cx="145.4" cy="409.3" r="0.31" fill="#c0c0cc" opacity="0.5"/>
<circle cx="134.9" cy="375.8" r="0.41" fill="#c0c0cc" opacity="0.5"/>
<circle cx="139.9" cy="395.7" r="0.35" fill="#c0c0cc" opacity="0.5"/>
<circle cx="165.0" cy="385.1" r="0.48" fill="#c0c0cc" opacity="0.5"/>
<circle cx="136.5" cy="387.6" r="0.34" fill="#c0c0cc" opacity="0.5"/>
<circle cx="132.9" cy="402.9" r="0.39" fill="#c0c0cc" opacity="0.5"/>
<circle cx="140.9" cy="388.8" r="0.38" fill="#c0c0cc" opacity="0.5"/>
<circle cx="126.2" cy="408.7" r="0.47" fill="#c0c0cc" opacity="0.5"/>
<circle cx="145.0" cy="404.6" r="0.31" fill="#c0c0cc" opacity="0.5"/>
<circle cx="136.3" cy="386.4" r="0.45" fill="#c0c0cc" opacity="0.5"/>
<circle cx="164.4" cy="401.8" r="0.49" fill="#c0c0cc" opacity="0.5"/>
<circle cx="149.9" cy="384.7" r="0.40" fill="#c0c0cc" opacity="0.5"/>
<circle cx="132.8" cy="394.3" r="0.46" fill="#c0c0cc" opacity="0.5"/>
<circle cx="152.1" cy="379.1" r="0.49" fill="#c0c0cc" opacity="0.5"/>
<circle cx="159.1" cy="378.3" r="0.39" fill="#c0c0cc" opacity="0.5"/>
<circle cx="167.9" cy="399.4" r="0.37" fill="#c0c0cc" opacity="0.5"/>
<circle cx="132.0" cy="384.2" r="0.41" fill="#c0c0cc" opacity="0.5"/>
<circle cx="128.9" cy="370.4" r="0.47" fill="#c0c0cc" opacity="0.5"/>
<circle cx="163.1" cy="400.3" r="0.46" fill="#c0c0cc" opacity="0.5"/>
<circle cx="153.0" cy="405.6" r="0.38" fill="#c0c0cc" opacity="0.5"/>
<circle cx="163.1" cy="393.3" r="0.39" fill="#c0c0cc" opacity="0.5"/>
<circle cx="132.6" cy="380.6" r="0.47" fill="#c0c0cc" opacity="0.5"/>
<circle cx="152.7" cy="399.4" r="0.42" fill="#c0c0cc" opacity="0.5"/>
<circle cx="157.5" cy="410.7" r="0.35" fill="#c0c0cc" opacity="0.5"/>
<circle cx="148.2" cy="372.7" r="0.34" fill="#c0c0cc" opacity="0.5"/>
<circle cx="162.3" cy="375.5" r="0.47" fill="#c0c0cc" opacity="0.5"/>
<circle cx="137.7" cy="379.1" r="0.31" fill="#c0c0cc" opacity="0.5"/>
<circle cx="146.1" cy="386.1" r="0.45" fill="#c0c0cc" opacity="0.5"/>
<circle cx="130.3" cy="382.4" r="0.31" fill="#c0c0cc" opacity="0.5"/>
<circle cx="159.9" cy="369.6" r="0.50" fill="#c0c0cc" opacity="0.5"/>
<circle cx="165.6" cy="402.3" r="0.31" fill="#c0c0cc" opacity="0.5"/>
<circle cx="149.8" cy="377.3" r="0.37" fill="#c0c0cc" opacity="0.5"/>
<circle cx="136.2" cy="369.7" r="0.49" fill="#c0c0cc" opacity="0.5"/>
<circle cx="153.8" cy="374.5" r="0.50" fill="#c0c0cc" opacity="0.5"/>
<circle cx="154.8" cy="408.6" r="0.40" fill="#c0c0cc" opacity="0.5"/>
<circle cx="137.7" cy="376.8" r="0.40" fill="#c0c0cc" opacity="0.5"/>
<rect x="150.60" y="395.30" width="18.00" height="18.60" fill="#dfe2ea"/>
<circle cx="166.3" cy="401.3" r="0.42" fill="#7a2a3a" opacity="0.7"/>
<circle cx="160.0" cy="400.2" r="0.39" fill="#b07080" opacity="0.6"/>
<circle cx="160.0" cy="404.0" r="0.68" fill="#b07080" opacity="0.6"/>
<circle cx="168.0" cy="408.3" r="0.41" fill="#7a2a3a" opacity="0.7"/>
<circle cx="158.1" cy="396.0" r="0.42" fill="#7a2a3a" opacity="0.7"/>
<circle cx="152.6" cy="397.7" r="0.50" fill="#7a2a3a" opacity="0.7"/>
<circle cx="151.7" cy="400.4" r="0.58" fill="#b07080" opacity="0.6"/>
<circle cx="161.6" cy="405.3" r="0.65" fill="#b07080" opacity="0.6"/>
<circle cx="153.1" cy="400.6" r="0.58" fill="#b07080" opacity="0.6"/>
<circle cx="157.6" cy="397.4" r="0.66" fill="#7a2a3a" opacity="0.7"/>
<circle cx="158.5" cy="403.3" r="0.36" fill="#7a2a3a" opacity="0.7"/>
<circle cx="158.1" cy="402.5" r="0.46" fill="#b07080" opacity="0.6"/>
<circle cx="157.1" cy="411.1" r="0.42" fill="#7a2a3a" opacity="0.7"/>
<circle cx="160.9" cy="411.9" r="0.54" fill="#7a2a3a" opacity="0.7"/>
<circle cx="151.9" cy="412.7" r="0.34" fill="#b07080" opacity="0.6"/>
<circle cx="156.0" cy="408.2" r="0.60" fill="#b07080" opacity="0.6"/>
<circle cx="157.4" cy="409.4" r="0.43" fill="#7a2a3a" opacity="0.7"/>
<circle cx="156.5" cy="408.2" r="0.32" fill="#7a2a3a" opacity="0.7"/>
<circle cx="159.2" cy="401.5" r="0.37" fill="#7a2a3a" opacity="0.7"/>
<circle cx="163.0" cy="404.7" r="0.50" fill="#7a2a3a" opacity="0.7"/>
<circle cx="154.4" cy="412.9" r="0.61" fill="#7a2a3a" opacity="0.7"/>
<circle cx="168.0" cy="411.5" r="0.45" fill="#7a2a3a" opacity="0.7"/>
<circle cx="161.2" cy="410.6" r="0.56" fill="#b07080" opacity="0.6"/>
<circle cx="163.6" cy="402.9" r="0.62" fill="#b07080" opacity="0.6"/>
<circle cx="162.2" cy="402.6" r="0.62" fill="#7a2a3a" opacity="0.7"/>
<circle cx="154.4" cy="407.3" r="0.52" fill="#7a2a3a" opacity="0.7"/>
<circle cx="158.4" cy="408.7" r="0.62" fill="#b07080" opacity="0.6"/>
<circle cx="156.7" cy="403.0" r="0.50" fill="#7a2a3a" opacity="0.7"/>
<circle cx="160.7" cy="413.1" r="0.62" fill="#b07080" opacity="0.6"/>
<circle cx="159.1" cy="399.4" r="0.41" fill="#7a2a3a" opacity="0.7"/>
<circle cx="163.9" cy="403.5" r="0.55" fill="#b07080" opacity="0.6"/>
<circle cx="164.7" cy="413.4" r="0.67" fill="#7a2a3a" opacity="0.7"/>
<circle cx="155.6" cy="406.5" r="0.65" fill="#b07080" opacity="0.6"/>
<circle cx="155.8" cy="396.4" r="0.70" fill="#7a2a3a" opacity="0.7"/>
<circle cx="158.9" cy="396.4" r="0.58" fill="#7a2a3a" opacity="0.7"/>
<circle cx="162.7" cy="396.0" r="0.69" fill="#7a2a3a" opacity="0.7"/>
<circle cx="157.5" cy="410.5" r="0.38" fill="#b07080" opacity="0.6"/>
<circle cx="166.9" cy="403.4" r="0.45" fill="#7a2a3a" opacity="0.7"/>
<circle cx="155.0" cy="402.0" r="0.33" fill="#b07080" opacity="0.6"/>
<circle cx="152.3" cy="413.4" r="0.58" fill="#7a2a3a" opacity="0.7"/>
<circle cx="163.8" cy="413.4" r="0.53" fill="#b07080" opacity="0.6"/>
<circle cx="160.0" cy="410.0" r="0.32" fill="#b07080" opacity="0.6"/>
<circle cx="156.3" cy="397.7" r="0.55" fill="#7a2a3a" opacity="0.7"/>
<circle cx="158.1" cy="413.7" r="0.63" fill="#7a2a3a" opacity="0.7"/>
<circle cx="155.7" cy="402.9" r="0.48" fill="#b07080" opacity="0.6"/>
<circle cx="159.3" cy="398.3" r="0.58" fill="#b07080" opacity="0.6"/>
<circle cx="152.4" cy="404.0" r="0.56" fill="#b07080" opacity="0.6"/>
<circle cx="163.3" cy="407.6" r="0.52" fill="#b07080" opacity="0.6"/>
<circle cx="161.8" cy="412.1" r="0.40" fill="#7a2a3a" opacity="0.7"/>
<circle cx="154.2" cy="403.9" r="0.44" fill="#7a2a3a" opacity="0.7"/>
<rect x="150.60" y="395.30" width="18.00" height="18.60" fill="none" stroke="#94949c" stroke-width="0.55"/>
<rect x="133.40" y="396.70" width="10.30" height="10.30" fill="none" stroke="#9a9aa2" stroke-width="0.5"/>
</g>
<rect x="124.40" y="369.00" width="44.20" height="44.90" fill="none" stroke="#b8b8bc" stroke-width="0.6"/>
<clipPath id="t12"><rect x="170.2" y="369.0" width="44.00" height="44.90"/></clipPath>
<g clip-path="url(#t12)">
<rect x="170.20" y="369.00" width="44.00" height="44.90" fill="#dfe0ea" />
<g filter="url(#blur3)">
<ellipse cx="187.80" cy="402.67" rx="13.20" ry="8.98" fill="#d2d2de" opacity="0.6"/>
<ellipse cx="183.40" cy="382.47" rx="13.20" ry="13.47" fill="#dde4ec" opacity="0.6"/>
</g>
<circle cx="191.4" cy="398.9" r="0.40" fill="#f2f2f6" opacity="0.5"/>
<circle cx="190.7" cy="387.9" r="0.36" fill="#f2f2f6" opacity="0.5"/>
<circle cx="179.9" cy="389.4" r="0.51" fill="#c4bccc" opacity="0.35"/>
<circle cx="180.6" cy="389.5" r="0.42" fill="#c4bccc" opacity="0.35"/>
<circle cx="180.2" cy="396.1" r="0.36" fill="#f2f2f6" opacity="0.5"/>
<circle cx="190.1" cy="384.5" r="0.44" fill="#f2f2f6" opacity="0.5"/>
<circle cx="171.1" cy="372.1" r="0.41" fill="#b4b0c4" opacity="0.35"/>
<circle cx="198.7" cy="409.7" r="0.64" fill="#f2f2f6" opacity="0.5"/>
<circle cx="206.7" cy="369.6" r="0.39" fill="#b4b0c4" opacity="0.35"/>
<circle cx="194.9" cy="411.6" r="0.53" fill="#c4bccc" opacity="0.35"/>
<circle cx="189.3" cy="392.4" r="0.40" fill="#b4b0c4" opacity="0.35"/>
<circle cx="189.4" cy="392.6" r="0.63" fill="#f2f2f6" opacity="0.5"/>
<circle cx="179.7" cy="380.9" r="0.54" fill="#f2f2f6" opacity="0.5"/>
<circle cx="196.1" cy="388.5" r="0.51" fill="#b4b0c4" opacity="0.35"/>
<circle cx="177.4" cy="372.1" r="0.54" fill="#f2f2f6" opacity="0.5"/>
<circle cx="174.3" cy="373.2" r="0.34" fill="#c4bccc" opacity="0.35"/>
<circle cx="191.3" cy="390.9" r="0.48" fill="#f2f2f6" opacity="0.5"/>
<circle cx="181.8" cy="369.2" r="0.54" fill="#f2f2f6" opacity="0.5"/>
<circle cx="199.6" cy="411.1" r="0.40" fill="#c4bccc" opacity="0.35"/>
<circle cx="190.9" cy="405.5" r="0.53" fill="#b4b0c4" opacity="0.35"/>
<circle cx="208.2" cy="373.2" r="0.35" fill="#f2f2f6" opacity="0.5"/>
<circle cx="210.4" cy="387.5" r="0.35" fill="#b4b0c4" opacity="0.35"/>
<circle cx="188.0" cy="393.8" r="0.44" fill="#b4b0c4" opacity="0.35"/>
<circle cx="187.5" cy="375.8" r="0.64" fill="#c4bccc" opacity="0.35"/>
<circle cx="185.7" cy="388.8" r="0.57" fill="#f2f2f6" opacity="0.5"/>
<circle cx="182.3" cy="411.3" r="0.50" fill="#b4b0c4" opacity="0.35"/>
<circle cx="189.7" cy="407.1" r="0.53" fill="#c4bccc" opacity="0.35"/>
<circle cx="184.3" cy="408.2" r="0.40" fill="#f2f2f6" opacity="0.5"/>
<circle cx="177.8" cy="404.9" r="0.61" fill="#c4bccc" opacity="0.35"/>
<circle cx="189.6" cy="396.2" r="0.46" fill="#f2f2f6" opacity="0.5"/>
<circle cx="209.0" cy="386.8" r="0.49" fill="#b4b0c4" opacity="0.35"/>
<circle cx="190.3" cy="393.0" r="0.57" fill="#c4bccc" opacity="0.35"/>
<circle cx="206.2" cy="400.3" r="0.52" fill="#b4b0c4" opacity="0.35"/>
<circle cx="191.7" cy="383.1" r="0.50" fill="#b4b0c4" opacity="0.35"/>
<circle cx="179.5" cy="382.7" r="0.53" fill="#b4b0c4" opacity="0.35"/>
<circle cx="182.3" cy="372.0" r="0.58" fill="#b4b0c4" opacity="0.35"/>
<circle cx="181.0" cy="406.6" r="0.63" fill="#c4bccc" opacity="0.35"/>
<circle cx="176.9" cy="378.3" r="0.55" fill="#f2f2f6" opacity="0.5"/>
<circle cx="197.7" cy="399.5" r="0.33" fill="#c4bccc" opacity="0.35"/>
<circle cx="211.6" cy="377.4" r="0.46" fill="#f2f2f6" opacity="0.5"/>
<circle cx="175.9" cy="393.9" r="0.41" fill="#b4b0c4" opacity="0.35"/>
<circle cx="180.3" cy="398.6" r="0.32" fill="#f2f2f6" opacity="0.5"/>
<circle cx="174.8" cy="413.4" r="0.45" fill="#b4b0c4" opacity="0.35"/>
<circle cx="199.7" cy="411.0" r="0.55" fill="#b4b0c4" opacity="0.35"/>
<circle cx="190.7" cy="404.8" r="0.32" fill="#b4b0c4" opacity="0.35"/>
<circle cx="205.9" cy="383.4" r="0.65" fill="#f2f2f6" opacity="0.5"/>
<circle cx="186.8" cy="379.0" r="0.55" fill="#b4b0c4" opacity="0.35"/>
<circle cx="198.1" cy="377.7" r="0.36" fill="#c4bccc" opacity="0.35"/>
<circle cx="173.5" cy="413.6" r="0.40" fill="#f2f2f6" opacity="0.5"/>
<circle cx="211.9" cy="390.7" r="0.30" fill="#b4b0c4" opacity="0.35"/>
<circle cx="208.5" cy="394.5" r="0.37" fill="#c4bccc" opacity="0.35"/>
<circle cx="187.5" cy="374.6" r="0.51" fill="#c4bccc" opacity="0.35"/>
<circle cx="208.3" cy="394.0" r="0.43" fill="#f2f2f6" opacity="0.5"/>
<circle cx="172.9" cy="372.1" r="0.53" fill="#b4b0c4" opacity="0.35"/>
<circle cx="194.8" cy="409.5" r="0.65" fill="#f2f2f6" opacity="0.5"/>
<circle cx="204.8" cy="377.9" r="0.53" fill="#b4b0c4" opacity="0.35"/>
<circle cx="184.3" cy="390.1" r="0.57" fill="#f2f2f6" opacity="0.5"/>
<circle cx="202.1" cy="387.9" r="0.33" fill="#f2f2f6" opacity="0.5"/>
<circle cx="199.3" cy="391.4" r="0.52" fill="#f2f2f6" opacity="0.5"/>
<circle cx="213.5" cy="382.5" r="0.41" fill="#b4b0c4" opacity="0.35"/>
<circle cx="184.4" cy="380.1" r="0.63" fill="#f2f2f6" opacity="0.5"/>
<circle cx="194.2" cy="409.8" r="0.42" fill="#c4bccc" opacity="0.35"/>
<circle cx="180.6" cy="399.0" r="0.54" fill="#c4bccc" opacity="0.35"/>
<circle cx="212.7" cy="388.7" r="0.64" fill="#f2f2f6" opacity="0.5"/>
<circle cx="202.3" cy="374.6" r="0.41" fill="#b4b0c4" opacity="0.35"/>
<circle cx="178.8" cy="409.5" r="0.46" fill="#c4bccc" opacity="0.35"/>
<circle cx="200.7" cy="370.5" r="0.62" fill="#b4b0c4" opacity="0.35"/>
<circle cx="173.6" cy="383.3" r="0.43" fill="#c4bccc" opacity="0.35"/>
<circle cx="194.5" cy="390.3" r="0.46" fill="#f2f2f6" opacity="0.5"/>
<circle cx="184.3" cy="384.4" r="0.53" fill="#c4bccc" opacity="0.35"/>
<circle cx="208.0" cy="370.5" r="0.30" fill="#b4b0c4" opacity="0.35"/>
<circle cx="192.4" cy="374.8" r="0.54" fill="#c4bccc" opacity="0.35"/>
<circle cx="195.7" cy="391.5" r="0.33" fill="#c4bccc" opacity="0.35"/>
<circle cx="213.0" cy="382.9" r="0.50" fill="#b4b0c4" opacity="0.35"/>
<circle cx="198.5" cy="397.4" r="0.53" fill="#f2f2f6" opacity="0.5"/>
<circle cx="184.7" cy="412.7" r="0.33" fill="#c4bccc" opacity="0.35"/>
<circle cx="199.1" cy="389.5" r="0.65" fill="#f2f2f6" opacity="0.5"/>
<circle cx="188.1" cy="399.7" r="0.52" fill="#b4b0c4" opacity="0.35"/>
<circle cx="201.9" cy="379.9" r="0.54" fill="#f2f2f6" opacity="0.5"/>
<circle cx="178.5" cy="383.1" r="0.60" fill="#b4b0c4" opacity="0.35"/>
<circle cx="211.6" cy="403.8" r="0.59" fill="#c4bccc" opacity="0.35"/>
<circle cx="193.3" cy="377.6" r="0.62" fill="#c4bccc" opacity="0.35"/>
<circle cx="210.8" cy="388.8" r="0.36" fill="#b4b0c4" opacity="0.35"/>
<circle cx="187.5" cy="382.0" r="0.52" fill="#c4bccc" opacity="0.35"/>
<circle cx="199.7" cy="391.7" r="0.32" fill="#c4bccc" opacity="0.35"/>
<circle cx="178.3" cy="374.7" r="0.62" fill="#b4b0c4" opacity="0.35"/>
<circle cx="211.0" cy="391.2" r="0.64" fill="#c4bccc" opacity="0.35"/>
<circle cx="208.9" cy="391.4" r="0.46" fill="#b4b0c4" opacity="0.35"/>
<circle cx="203.3" cy="411.8" r="0.33" fill="#f2f2f6" opacity="0.5"/>
<circle cx="192.4" cy="389.1" r="0.44" fill="#b4b0c4" opacity="0.35"/>
<circle cx="205.1" cy="410.4" r="0.42" fill="#f2f2f6" opacity="0.5"/>
<circle cx="210.8" cy="379.3" r="0.40" fill="#c4bccc" opacity="0.35"/>
<circle cx="187.3" cy="403.9" r="0.44" fill="#c4bccc" opacity="0.35"/>
<circle cx="184.1" cy="410.0" r="0.48" fill="#f2f2f6" opacity="0.5"/>
<circle cx="171.9" cy="394.9" r="0.41" fill="#b4b0c4" opacity="0.35"/>
<circle cx="195.3" cy="411.8" r="0.44" fill="#f2f2f6" opacity="0.5"/>
<circle cx="202.3" cy="376.3" r="0.50" fill="#b4b0c4" opacity="0.35"/>
<circle cx="208.9" cy="407.2" r="0.46" fill="#c4bccc" opacity="0.35"/>
<circle cx="174.5" cy="381.1" r="0.39" fill="#f2f2f6" opacity="0.5"/>
<circle cx="182.7" cy="408.9" r="0.34" fill="#f2f2f6" opacity="0.5"/>
<circle cx="185.4" cy="399.0" r="0.65" fill="#b4b0c4" opacity="0.35"/>
<circle cx="202.5" cy="393.6" r="0.38" fill="#c4bccc" opacity="0.35"/>
<circle cx="178.4" cy="389.7" r="0.49" fill="#f2f2f6" opacity="0.5"/>
<circle cx="197.6" cy="399.6" r="0.38" fill="#b4b0c4" opacity="0.35"/>
<circle cx="184.4" cy="402.7" r="0.63" fill="#f2f2f6" opacity="0.5"/>
<circle cx="209.9" cy="390.8" r="0.64" fill="#c4bccc" opacity="0.35"/>
<circle cx="193.5" cy="378.4" r="0.33" fill="#c4bccc" opacity="0.35"/>
<circle cx="178.7" cy="381.4" r="0.43" fill="#f2f2f6" opacity="0.5"/>
<circle cx="208.4" cy="400.7" r="0.41" fill="#f2f2f6" opacity="0.5"/>
<circle cx="170.8" cy="391.6" r="0.60" fill="#b4b0c4" opacity="0.35"/>
<circle cx="171.5" cy="389.4" r="0.37" fill="#f2f2f6" opacity="0.5"/>
<circle cx="193.8" cy="388.6" r="0.43" fill="#c4bccc" opacity="0.35"/>
<circle cx="187.1" cy="379.6" r="0.36" fill="#f2f2f6" opacity="0.5"/>
<circle cx="176.6" cy="401.3" r="0.49" fill="#b4b0c4" opacity="0.35"/>
<circle cx="171.9" cy="413.9" r="0.32" fill="#b4b0c4" opacity="0.35"/>
<circle cx="195.1" cy="393.8" r="0.38" fill="#f2f2f6" opacity="0.5"/>
<circle cx="207.3" cy="373.1" r="0.48" fill="#b4b0c4" opacity="0.35"/>
<circle cx="204.0" cy="383.0" r="0.37" fill="#b4b0c4" opacity="0.35"/>
<circle cx="213.6" cy="406.3" r="0.41" fill="#c4bccc" opacity="0.35"/>
<circle cx="196.0" cy="403.8" r="0.43" fill="#f2f2f6" opacity="0.5"/>
<circle cx="192.1" cy="393.5" r="0.33" fill="#c4bccc" opacity="0.35"/>
<circle cx="199.0" cy="380.2" r="0.52" fill="#f2f2f6" opacity="0.5"/>
<circle cx="204.6" cy="372.0" r="0.58" fill="#c4bccc" opacity="0.35"/>
<circle cx="193.1" cy="408.6" r="0.52" fill="#f2f2f6" opacity="0.5"/>
<circle cx="203.6" cy="397.8" r="0.53" fill="#f2f2f6" opacity="0.5"/>
<circle cx="202.7" cy="392.9" r="0.50" fill="#b4b0c4" opacity="0.35"/>
<circle cx="176.8" cy="385.3" r="0.58" fill="#f2f2f6" opacity="0.5"/>
<circle cx="200.1" cy="400.5" r="0.63" fill="#f2f2f6" opacity="0.5"/>
<circle cx="191.9" cy="383.0" r="0.51" fill="#b4b0c4" opacity="0.35"/>
<circle cx="196.4" cy="396.1" r="0.50" fill="#f2f2f6" opacity="0.5"/>
<circle cx="209.4" cy="381.8" r="0.30" fill="#f2f2f6" opacity="0.5"/>
<circle cx="186.9" cy="369.4" r="0.49" fill="#b4b0c4" opacity="0.35"/>
<circle cx="180.6" cy="383.8" r="0.58" fill="#b4b0c4" opacity="0.35"/>
<circle cx="183.8" cy="407.8" r="0.61" fill="#b4b0c4" opacity="0.35"/>
<circle cx="190.0" cy="371.1" r="0.49" fill="#f2f2f6" opacity="0.5"/>
<circle cx="208.5" cy="385.6" r="0.50" fill="#c4bccc" opacity="0.35"/>
<circle cx="199.0" cy="373.8" r="0.62" fill="#c4bccc" opacity="0.35"/>
<circle cx="182.4" cy="396.6" r="0.38" fill="#b4b0c4" opacity="0.35"/>
<circle cx="171.4" cy="402.6" r="0.48" fill="#b4b0c4" opacity="0.35"/>
<circle cx="173.2" cy="408.5" r="0.60" fill="#f2f2f6" opacity="0.5"/>
<circle cx="178.5" cy="408.2" r="0.35" fill="#c0a8b0" opacity="0.5"/>
<circle cx="205.4" cy="407.3" r="0.50" fill="#b09098" opacity="0.5"/>
<circle cx="198.6" cy="397.4" r="0.32" fill="#b09098" opacity="0.5"/>
<circle cx="199.8" cy="396.9" r="0.32" fill="#c0a8b0" opacity="0.5"/>
<circle cx="171.1" cy="412.1" r="0.54" fill="#c0a8b0" opacity="0.5"/>
<circle cx="195.5" cy="396.0" r="0.36" fill="#c0a8b0" opacity="0.5"/>
<circle cx="203.3" cy="410.8" r="0.34" fill="#c0a8b0" opacity="0.5"/>
<circle cx="175.3" cy="400.1" r="0.42" fill="#b09098" opacity="0.5"/>
<circle cx="200.1" cy="398.0" r="0.40" fill="#b09098" opacity="0.5"/>
<circle cx="171.4" cy="405.6" r="0.37" fill="#b09098" opacity="0.5"/>
<circle cx="203.9" cy="406.6" r="0.50" fill="#c0a8b0" opacity="0.5"/>
<circle cx="179.3" cy="396.5" r="0.37" fill="#b09098" opacity="0.5"/>
<circle cx="187.0" cy="401.3" r="0.44" fill="#c0a8b0" opacity="0.5"/>
<circle cx="204.8" cy="401.2" r="0.52" fill="#c0a8b0" opacity="0.5"/>
<circle cx="186.4" cy="400.0" r="0.36" fill="#b09098" opacity="0.5"/>
<circle cx="202.3" cy="399.4" r="0.33" fill="#b09098" opacity="0.5"/>
<circle cx="193.0" cy="404.9" r="0.46" fill="#b09098" opacity="0.5"/>
<circle cx="197.0" cy="409.5" r="0.48" fill="#c0a8b0" opacity="0.5"/>
<circle cx="178.6" cy="404.2" r="0.43" fill="#b09098" opacity="0.5"/>
<circle cx="174.3" cy="412.3" r="0.48" fill="#c0a8b0" opacity="0.5"/>
<circle cx="176.3" cy="396.2" r="0.32" fill="#c0a8b0" opacity="0.5"/>
<circle cx="175.9" cy="391.9" r="0.35" fill="#c0a8b0" opacity="0.5"/>
<circle cx="180.4" cy="400.4" r="0.42" fill="#c0a8b0" opacity="0.5"/>
<circle cx="177.7" cy="398.1" r="0.37" fill="#b09098" opacity="0.5"/>
<circle cx="200.8" cy="402.3" r="0.43" fill="#c0a8b0" opacity="0.5"/>
<circle cx="174.6" cy="404.2" r="0.54" fill="#c0a8b0" opacity="0.5"/>
<circle cx="181.7" cy="395.1" r="0.51" fill="#c0a8b0" opacity="0.5"/>
<circle cx="189.2" cy="398.4" r="0.54" fill="#c0a8b0" opacity="0.5"/>
<circle cx="193.2" cy="401.7" r="0.42" fill="#c0a8b0" opacity="0.5"/>
<circle cx="208.7" cy="397.2" r="0.39" fill="#c0a8b0" opacity="0.5"/>
<circle cx="175.3" cy="406.2" r="0.34" fill="#c0a8b0" opacity="0.5"/>
<circle cx="171.9" cy="406.1" r="0.48" fill="#b09098" opacity="0.5"/>
<circle cx="180.9" cy="406.3" r="0.32" fill="#b09098" opacity="0.5"/>
<circle cx="175.8" cy="392.5" r="0.48" fill="#c0a8b0" opacity="0.5"/>
<circle cx="197.1" cy="407.0" r="0.50" fill="#c0a8b0" opacity="0.5"/>
<circle cx="187.2" cy="402.1" r="0.48" fill="#b09098" opacity="0.5"/>
<circle cx="211.9" cy="409.5" r="0.47" fill="#c0a8b0" opacity="0.5"/>
<circle cx="193.8" cy="409.2" r="0.43" fill="#c0a8b0" opacity="0.5"/>
<circle cx="176.3" cy="397.6" r="0.46" fill="#c0a8b0" opacity="0.5"/>
<circle cx="177.3" cy="404.9" r="0.51" fill="#b09098" opacity="0.5"/>
<circle cx="204.9" cy="397.9" r="0.51" fill="#c0a8b0" opacity="0.5"/>
<circle cx="192.6" cy="406.0" r="0.32" fill="#b09098" opacity="0.5"/>
<circle cx="192.1" cy="405.9" r="0.52" fill="#b09098" opacity="0.5"/>
<circle cx="201.6" cy="411.6" r="0.46" fill="#b09098" opacity="0.5"/>
<circle cx="189.7" cy="389.4" r="0.33" fill="#b09098" opacity="0.5"/>
<circle cx="186.2" cy="394.7" r="0.48" fill="#c0a8b0" opacity="0.5"/>
<circle cx="200.8" cy="409.3" r="0.40" fill="#b09098" opacity="0.5"/>
<circle cx="190.7" cy="413.1" r="0.39" fill="#c0a8b0" opacity="0.5"/>
<circle cx="205.4" cy="391.0" r="0.41" fill="#b09098" opacity="0.5"/>
<circle cx="189.1" cy="406.5" r="0.46" fill="#b09098" opacity="0.5"/>
<circle cx="183.3" cy="408.1" r="0.38" fill="#c0a8b0" opacity="0.5"/>
<circle cx="199.3" cy="402.8" r="0.44" fill="#c0a8b0" opacity="0.5"/>
<circle cx="190.8" cy="402.8" r="0.39" fill="#b09098" opacity="0.5"/>
<circle cx="198.5" cy="398.0" r="0.38" fill="#c0a8b0" opacity="0.5"/>
<circle cx="178.1" cy="399.3" r="0.31" fill="#b09098" opacity="0.5"/>
<circle cx="197.9" cy="397.3" r="0.48" fill="#c0a8b0" opacity="0.5"/>
<circle cx="178.9" cy="409.3" r="0.43" fill="#c0a8b0" opacity="0.5"/>
<circle cx="192.4" cy="405.0" r="0.34" fill="#c0a8b0" opacity="0.5"/>
<circle cx="172.4" cy="403.6" r="0.46" fill="#c0a8b0" opacity="0.5"/>
<circle cx="176.8" cy="401.6" r="0.38" fill="#b09098" opacity="0.5"/>
<circle cx="173.7" cy="403.4" r="0.52" fill="#c0a8b0" opacity="0.5"/>
<circle cx="197.6" cy="399.0" r="0.34" fill="#c0a8b0" opacity="0.5"/>
<circle cx="194.5" cy="398.0" r="0.33" fill="#c0a8b0" opacity="0.5"/>
<circle cx="173.4" cy="399.0" r="0.49" fill="#c0a8b0" opacity="0.5"/>
<circle cx="175.8" cy="401.1" r="0.35" fill="#c0a8b0" opacity="0.5"/>
<circle cx="197.8" cy="401.3" r="0.39" fill="#b09098" opacity="0.5"/>
<circle cx="178.6" cy="401.2" r="0.50" fill="#c0a8b0" opacity="0.5"/>
<circle cx="174.1" cy="400.7" r="0.37" fill="#b09098" opacity="0.5"/>
<circle cx="204.7" cy="407.9" r="0.38" fill="#b09098" opacity="0.5"/>
<circle cx="204.3" cy="404.4" r="0.31" fill="#b09098" opacity="0.5"/>
<circle cx="182.8" cy="404.3" r="0.46" fill="#c0a8b0" opacity="0.5"/>
<circle cx="198.4" cy="402.7" r="0.50" fill="#c0a8b0" opacity="0.5"/>
<circle cx="194.1" cy="399.7" r="0.51" fill="#b09098" opacity="0.5"/>
<circle cx="180.9" cy="397.1" r="0.46" fill="#c0a8b0" opacity="0.5"/>
<circle cx="197.1" cy="405.3" r="0.37" fill="#c0a8b0" opacity="0.5"/>
<circle cx="181.1" cy="396.8" r="0.44" fill="#b09098" opacity="0.5"/>
<circle cx="196.4" cy="402.9" r="0.40" fill="#b09098" opacity="0.5"/>
<circle cx="178.8" cy="397.1" r="0.32" fill="#c0a8b0" opacity="0.5"/>
<circle cx="191.6" cy="399.8" r="0.36" fill="#b09098" opacity="0.5"/>
<circle cx="187.6" cy="400.0" r="0.43" fill="#b09098" opacity="0.5"/>
<circle cx="174.5" cy="413.2" r="0.41" fill="#b09098" opacity="0.5"/>
<circle cx="172.4" cy="399.9" r="0.42" fill="#c0a8b0" opacity="0.5"/>
<circle cx="184.9" cy="404.0" r="0.32" fill="#b09098" opacity="0.5"/>
<circle cx="185.4" cy="397.8" r="0.32" fill="#b09098" opacity="0.5"/>
<circle cx="173.8" cy="400.2" r="0.35" fill="#c0a8b0" opacity="0.5"/>
<circle cx="185.6" cy="392.4" r="0.32" fill="#b09098" opacity="0.5"/>
<circle cx="204.7" cy="406.7" r="0.36" fill="#c0a8b0" opacity="0.5"/>
<circle cx="194.1" cy="406.0" r="0.52" fill="#b09098" opacity="0.5"/>
<circle cx="171.8" cy="393.5" r="0.42" fill="#b09098" opacity="0.5"/>
<circle cx="171.0" cy="404.7" r="0.39" fill="#c0a8b0" opacity="0.5"/>
<circle cx="182.5" cy="404.0" r="0.38" fill="#c0c4d0" opacity="0.5"/>
<circle cx="206.3" cy="394.9" r="0.36" fill="#c0c4d0" opacity="0.5"/>
<circle cx="189.8" cy="385.3" r="0.40" fill="#c0c4d0" opacity="0.5"/>
<circle cx="184.5" cy="384.6" r="0.39" fill="#c0c4d0" opacity="0.5"/>
<circle cx="177.4" cy="404.6" r="0.39" fill="#c0c4d0" opacity="0.5"/>
<circle cx="176.9" cy="380.2" r="0.40" fill="#c0c4d0" opacity="0.5"/>
<circle cx="174.5" cy="386.1" r="0.34" fill="#c0c4d0" opacity="0.5"/>
<circle cx="182.3" cy="412.3" r="0.39" fill="#c0c4d0" opacity="0.5"/>
<circle cx="188.6" cy="401.5" r="0.47" fill="#c0c4d0" opacity="0.5"/>
<circle cx="193.3" cy="399.7" r="0.31" fill="#c0c4d0" opacity="0.5"/>
<circle cx="177.4" cy="395.5" r="0.32" fill="#c0c4d0" opacity="0.5"/>
<circle cx="182.9" cy="403.3" r="0.40" fill="#c0c4d0" opacity="0.5"/>
<circle cx="173.5" cy="373.5" r="0.32" fill="#c0c4d0" opacity="0.5"/>
<circle cx="197.5" cy="413.4" r="0.37" fill="#c0c4d0" opacity="0.5"/>
<circle cx="194.7" cy="404.2" r="0.39" fill="#c0c4d0" opacity="0.5"/>
<circle cx="194.4" cy="383.0" r="0.38" fill="#c0c4d0" opacity="0.5"/>
<circle cx="172.4" cy="392.1" r="0.48" fill="#c0c4d0" opacity="0.5"/>
<circle cx="184.4" cy="396.8" r="0.40" fill="#c0c4d0" opacity="0.5"/>
<circle cx="211.2" cy="369.8" r="0.34" fill="#c0c4d0" opacity="0.5"/>
<circle cx="189.1" cy="399.6" r="0.45" fill="#c0c4d0" opacity="0.5"/>
<circle cx="172.4" cy="410.1" r="0.37" fill="#c0c4d0" opacity="0.5"/>
<circle cx="173.9" cy="403.2" r="0.32" fill="#c0c4d0" opacity="0.5"/>
<circle cx="176.8" cy="380.3" r="0.33" fill="#c0c4d0" opacity="0.5"/>
<circle cx="195.8" cy="394.2" r="0.45" fill="#c0c4d0" opacity="0.5"/>
<circle cx="191.1" cy="412.3" r="0.44" fill="#c0c4d0" opacity="0.5"/>
<circle cx="198.8" cy="411.0" r="0.41" fill="#c0c4d0" opacity="0.5"/>
<circle cx="172.5" cy="376.3" r="0.42" fill="#c0c4d0" opacity="0.5"/>
<circle cx="188.9" cy="401.2" r="0.35" fill="#c0c4d0" opacity="0.5"/>
<circle cx="194.6" cy="378.0" r="0.34" fill="#c0c4d0" opacity="0.5"/>
<circle cx="203.0" cy="376.5" r="0.40" fill="#c0c4d0" opacity="0.5"/>
<circle cx="186.4" cy="401.7" r="0.50" fill="#c0c4d0" opacity="0.5"/>
<circle cx="176.3" cy="398.6" r="0.49" fill="#c0c4d0" opacity="0.5"/>
<circle cx="175.8" cy="410.6" r="0.35" fill="#c0c4d0" opacity="0.5"/>
<circle cx="177.4" cy="405.6" r="0.32" fill="#c0c4d0" opacity="0.5"/>
<circle cx="173.0" cy="400.0" r="0.36" fill="#c0c4d0" opacity="0.5"/>
<circle cx="201.2" cy="369.6" r="0.45" fill="#c0c4d0" opacity="0.5"/>
<circle cx="193.0" cy="386.9" r="0.34" fill="#c0c4d0" opacity="0.5"/>
<circle cx="199.3" cy="401.2" r="0.46" fill="#c0c4d0" opacity="0.5"/>
<circle cx="194.7" cy="405.0" r="0.49" fill="#c0c4d0" opacity="0.5"/>
<circle cx="199.6" cy="395.7" r="0.44" fill="#c0c4d0" opacity="0.5"/>
<circle cx="204.9" cy="375.2" r="0.49" fill="#c0c4d0" opacity="0.5"/>
<circle cx="204.8" cy="378.2" r="0.36" fill="#c0c4d0" opacity="0.5"/>
<circle cx="201.5" cy="401.4" r="0.37" fill="#c0c4d0" opacity="0.5"/>
<circle cx="175.7" cy="404.0" r="0.47" fill="#c0c4d0" opacity="0.5"/>
<circle cx="186.0" cy="400.1" r="0.39" fill="#c0c4d0" opacity="0.5"/>
<circle cx="184.0" cy="412.4" r="0.48" fill="#c0c4d0" opacity="0.5"/>
<circle cx="178.0" cy="382.8" r="0.43" fill="#c0c4d0" opacity="0.5"/>
<circle cx="196.3" cy="413.4" r="0.47" fill="#c0c4d0" opacity="0.5"/>
<circle cx="177.4" cy="375.3" r="0.41" fill="#c0c4d0" opacity="0.5"/>
<circle cx="209.6" cy="370.7" r="0.42" fill="#c0c4d0" opacity="0.5"/>
<circle cx="197.9" cy="381.6" r="0.43" fill="#c0c4d0" opacity="0.5"/>
<circle cx="209.3" cy="400.9" r="0.44" fill="#c0c4d0" opacity="0.5"/>
<circle cx="200.5" cy="383.1" r="0.40" fill="#c0c4d0" opacity="0.5"/>
<circle cx="205.7" cy="372.4" r="0.38" fill="#c0c4d0" opacity="0.5"/>
<circle cx="180.8" cy="395.9" r="0.39" fill="#c0c4d0" opacity="0.5"/>
<circle cx="194.9" cy="387.6" r="0.31" fill="#c0c4d0" opacity="0.5"/>
<circle cx="171.0" cy="383.1" r="0.47" fill="#c0c4d0" opacity="0.5"/>
<circle cx="186.8" cy="402.8" r="0.46" fill="#c0c4d0" opacity="0.5"/>
<circle cx="183.4" cy="388.1" r="0.41" fill="#c0c4d0" opacity="0.5"/>
<circle cx="175.1" cy="376.7" r="0.35" fill="#c0c4d0" opacity="0.5"/>
<rect x="196.20" y="369.00" width="18.00" height="18.50" fill="#e4e8f0"/>
<circle cx="205.2" cy="381.5" r="0.49" fill="#4a1410" opacity="0.85"/>
<circle cx="201.3" cy="384.4" r="0.46" fill="#4a1410" opacity="0.85"/>
<circle cx="204.1" cy="383.3" r="0.64" fill="#6a2018" opacity="0.8"/>
<circle cx="205.8" cy="383.3" r="0.55" fill="#4a1410" opacity="0.85"/>
<circle cx="200.9" cy="377.6" r="0.70" fill="#2a0e0c" opacity="0.8"/>
<circle cx="208.2" cy="380.2" r="0.42" fill="#2a0e0c" opacity="0.8"/>
<circle cx="199.1" cy="374.9" r="0.86" fill="#2a0e0c" opacity="0.8"/>
<circle cx="203.2" cy="375.0" r="0.51" fill="#6a2018" opacity="0.8"/>
<circle cx="205.8" cy="370.6" r="0.63" fill="#4a1410" opacity="0.85"/>
<circle cx="205.2" cy="375.9" r="0.58" fill="#6a2018" opacity="0.8"/>
<rect x="196.20" y="369.00" width="18.00" height="18.50" fill="none" stroke="#94949c" stroke-width="0.55"/>
<rect x="173.20" y="369.60" width="9.80" height="10.40" fill="none" stroke="#9a9aa2" stroke-width="0.5"/>
</g>
<rect x="170.20" y="369.00" width="44.00" height="44.90" fill="none" stroke="#b8b8bc" stroke-width="0.6"/>
<clipPath id="t22"><rect x="216.0" y="369.0" width="44.20" height="44.90"/></clipPath>
<g clip-path="url(#t22)">
<rect x="216.00" y="369.00" width="44.20" height="44.90" fill="#c6dbea" />
<g filter="url(#blur3)">
<ellipse cx="238.10" cy="391.45" rx="17.68" ry="17.96" fill="#cfe0ee" opacity="0.6"/>
</g>
<circle cx="238.5" cy="395.8" r="0.62" fill="#c4bccc" opacity="0.35"/>
<circle cx="219.1" cy="385.5" r="0.46" fill="#b4b0c4" opacity="0.35"/>
<circle cx="252.9" cy="402.0" r="0.36" fill="#f2f2f6" opacity="0.5"/>
<circle cx="229.4" cy="401.2" r="0.50" fill="#b4b0c4" opacity="0.35"/>
<circle cx="232.7" cy="397.2" r="0.57" fill="#b4b0c4" opacity="0.35"/>
<circle cx="228.4" cy="405.2" r="0.44" fill="#b4b0c4" opacity="0.35"/>
<circle cx="259.0" cy="392.4" r="0.52" fill="#c4bccc" opacity="0.35"/>
<circle cx="239.1" cy="409.9" r="0.43" fill="#c4bccc" opacity="0.35"/>
<circle cx="257.2" cy="370.8" r="0.44" fill="#c4bccc" opacity="0.35"/>
<circle cx="259.2" cy="399.8" r="0.33" fill="#c4bccc" opacity="0.35"/>
<circle cx="219.7" cy="412.5" r="0.30" fill="#b4b0c4" opacity="0.35"/>
<circle cx="253.7" cy="387.6" r="0.43" fill="#c4bccc" opacity="0.35"/>
<circle cx="243.1" cy="369.1" r="0.52" fill="#b4b0c4" opacity="0.35"/>
<circle cx="236.4" cy="390.6" r="0.51" fill="#c4bccc" opacity="0.35"/>
<circle cx="220.5" cy="380.1" r="0.52" fill="#c4bccc" opacity="0.35"/>
<circle cx="251.6" cy="413.5" r="0.63" fill="#c4bccc" opacity="0.35"/>
<circle cx="244.2" cy="407.1" r="0.40" fill="#f2f2f6" opacity="0.5"/>
<circle cx="251.1" cy="409.5" r="0.60" fill="#f2f2f6" opacity="0.5"/>
<circle cx="253.7" cy="387.0" r="0.58" fill="#f2f2f6" opacity="0.5"/>
<circle cx="226.7" cy="376.6" r="0.55" fill="#b4b0c4" opacity="0.35"/>
<circle cx="232.1" cy="390.3" r="0.44" fill="#b4b0c4" opacity="0.35"/>
<circle cx="260.0" cy="371.4" r="0.65" fill="#c4bccc" opacity="0.35"/>
<circle cx="220.8" cy="394.5" r="0.52" fill="#c4bccc" opacity="0.35"/>
<circle cx="223.6" cy="371.3" r="0.44" fill="#b4b0c4" opacity="0.35"/>
<circle cx="238.9" cy="373.9" r="0.33" fill="#f2f2f6" opacity="0.5"/>
<circle cx="220.4" cy="371.0" r="0.54" fill="#c4bccc" opacity="0.35"/>
<circle cx="242.9" cy="406.4" r="0.60" fill="#c4bccc" opacity="0.35"/>
<circle cx="219.1" cy="392.5" r="0.64" fill="#f2f2f6" opacity="0.5"/>
<circle cx="244.3" cy="373.2" r="0.39" fill="#c4bccc" opacity="0.35"/>
<circle cx="241.0" cy="410.4" r="0.56" fill="#b4b0c4" opacity="0.35"/>
<circle cx="259.1" cy="371.4" r="0.54" fill="#b4b0c4" opacity="0.35"/>
<circle cx="247.8" cy="385.6" r="0.62" fill="#f2f2f6" opacity="0.5"/>
<circle cx="242.9" cy="392.4" r="0.46" fill="#c4bccc" opacity="0.35"/>
<circle cx="251.4" cy="398.2" r="0.62" fill="#b4b0c4" opacity="0.35"/>
<circle cx="224.2" cy="412.9" r="0.55" fill="#c4bccc" opacity="0.35"/>
<circle cx="225.3" cy="397.6" r="0.62" fill="#b4b0c4" opacity="0.35"/>
<circle cx="219.8" cy="370.0" r="0.60" fill="#c4bccc" opacity="0.35"/>
<circle cx="255.9" cy="383.5" r="0.39" fill="#c4bccc" opacity="0.35"/>
<circle cx="216.1" cy="373.8" r="0.44" fill="#c4bccc" opacity="0.35"/>
<circle cx="232.1" cy="387.5" r="0.62" fill="#f2f2f6" opacity="0.5"/>
<circle cx="242.0" cy="397.7" r="0.37" fill="#f2f2f6" opacity="0.5"/>
<circle cx="256.5" cy="383.4" r="0.40" fill="#c4bccc" opacity="0.35"/>
<circle cx="229.4" cy="369.7" r="0.41" fill="#b4b0c4" opacity="0.35"/>
<circle cx="251.8" cy="379.0" r="0.42" fill="#b4b0c4" opacity="0.35"/>
<circle cx="247.1" cy="378.8" r="0.40" fill="#b4b0c4" opacity="0.35"/>
<circle cx="243.8" cy="388.9" r="0.33" fill="#b4b0c4" opacity="0.35"/>
<circle cx="250.1" cy="373.4" r="0.56" fill="#c4bccc" opacity="0.35"/>
<circle cx="258.3" cy="398.3" r="0.57" fill="#b4b0c4" opacity="0.35"/>
<circle cx="233.2" cy="388.6" r="0.56" fill="#b4b0c4" opacity="0.35"/>
<circle cx="246.3" cy="388.3" r="0.30" fill="#c4bccc" opacity="0.35"/>
<circle cx="233.6" cy="380.1" r="0.52" fill="#f2f2f6" opacity="0.5"/>
<circle cx="250.9" cy="392.7" r="0.52" fill="#b4b0c4" opacity="0.35"/>
<circle cx="240.2" cy="401.1" r="0.49" fill="#b4b0c4" opacity="0.35"/>
<circle cx="230.2" cy="413.1" r="0.48" fill="#b4b0c4" opacity="0.35"/>
<circle cx="218.7" cy="413.8" r="0.43" fill="#c4bccc" opacity="0.35"/>
<circle cx="236.7" cy="410.6" r="0.57" fill="#b4b0c4" opacity="0.35"/>
<circle cx="257.6" cy="396.3" r="0.36" fill="#f2f2f6" opacity="0.5"/>
<circle cx="229.6" cy="373.4" r="0.38" fill="#c4bccc" opacity="0.35"/>
<circle cx="230.4" cy="388.1" r="0.54" fill="#f2f2f6" opacity="0.5"/>
<circle cx="254.0" cy="406.9" r="0.52" fill="#f2f2f6" opacity="0.5"/>
<circle cx="219.4" cy="412.6" r="0.58" fill="#b4b0c4" opacity="0.35"/>
<circle cx="220.7" cy="408.2" r="0.59" fill="#b4b0c4" opacity="0.35"/>
<circle cx="246.1" cy="407.7" r="0.43" fill="#b4b0c4" opacity="0.35"/>
<circle cx="216.7" cy="386.2" r="0.42" fill="#f2f2f6" opacity="0.5"/>
<circle cx="244.4" cy="382.1" r="0.45" fill="#c4bccc" opacity="0.35"/>
<circle cx="217.4" cy="374.2" r="0.40" fill="#c4bccc" opacity="0.35"/>
<circle cx="227.5" cy="380.4" r="0.39" fill="#f2f2f6" opacity="0.5"/>
<circle cx="225.4" cy="393.4" r="0.60" fill="#f2f2f6" opacity="0.5"/>
<circle cx="250.4" cy="408.1" r="0.38" fill="#f2f2f6" opacity="0.5"/>
<circle cx="221.9" cy="399.9" r="0.37" fill="#f2f2f6" opacity="0.5"/>
<circle cx="249.0" cy="387.5" r="0.60" fill="#c4bccc" opacity="0.35"/>
<circle cx="228.8" cy="386.1" r="0.32" fill="#f2f2f6" opacity="0.5"/>
<circle cx="219.1" cy="380.1" r="0.63" fill="#b4b0c4" opacity="0.35"/>
<circle cx="242.5" cy="407.0" r="0.34" fill="#c4bccc" opacity="0.35"/>
<circle cx="219.3" cy="398.0" r="0.53" fill="#c4bccc" opacity="0.35"/>
<circle cx="225.9" cy="397.2" r="0.53" fill="#f2f2f6" opacity="0.5"/>
<circle cx="248.7" cy="375.7" r="0.40" fill="#b4b0c4" opacity="0.35"/>
<circle cx="256.9" cy="369.7" r="0.54" fill="#c4bccc" opacity="0.35"/>
<circle cx="259.9" cy="402.8" r="0.33" fill="#f2f2f6" opacity="0.5"/>
<circle cx="243.4" cy="390.7" r="0.41" fill="#b4b0c4" opacity="0.35"/>
<circle cx="228.0" cy="385.3" r="0.53" fill="#b4b0c4" opacity="0.35"/>
<circle cx="243.0" cy="398.5" r="0.55" fill="#b4b0c4" opacity="0.35"/>
<circle cx="225.6" cy="378.8" r="0.35" fill="#b4b0c4" opacity="0.35"/>
<circle cx="249.9" cy="393.6" r="0.62" fill="#c4bccc" opacity="0.35"/>
<circle cx="251.0" cy="399.7" r="0.31" fill="#b4b0c4" opacity="0.35"/>
<circle cx="251.4" cy="382.8" r="0.61" fill="#f2f2f6" opacity="0.5"/>
<circle cx="217.3" cy="394.0" r="0.52" fill="#c4bccc" opacity="0.35"/>
<circle cx="255.5" cy="412.1" r="0.43" fill="#b4b0c4" opacity="0.35"/>
<circle cx="230.6" cy="373.2" r="0.52" fill="#b4b0c4" opacity="0.35"/>
<circle cx="252.0" cy="395.2" r="0.32" fill="#c4bccc" opacity="0.35"/>
<circle cx="233.2" cy="407.5" r="0.52" fill="#f2f2f6" opacity="0.5"/>
<circle cx="225.5" cy="390.5" r="0.36" fill="#c4bccc" opacity="0.35"/>
<circle cx="227.0" cy="403.5" r="0.35" fill="#b4b0c4" opacity="0.35"/>
<circle cx="238.2" cy="391.6" r="0.34" fill="#c4bccc" opacity="0.35"/>
<circle cx="222.6" cy="374.2" r="0.49" fill="#c4bccc" opacity="0.35"/>
<circle cx="239.8" cy="394.0" r="0.59" fill="#c4bccc" opacity="0.35"/>
<circle cx="259.7" cy="380.0" r="0.59" fill="#b4b0c4" opacity="0.35"/>
<circle cx="222.6" cy="392.2" r="0.31" fill="#f2f2f6" opacity="0.5"/>
<circle cx="239.7" cy="413.2" r="0.33" fill="#f2f2f6" opacity="0.5"/>
<circle cx="230.8" cy="395.7" r="0.36" fill="#c4bccc" opacity="0.35"/>
<circle cx="252.7" cy="386.6" r="0.49" fill="#c4bccc" opacity="0.35"/>
<circle cx="252.4" cy="388.9" r="0.41" fill="#b4b0c4" opacity="0.35"/>
<circle cx="259.3" cy="396.6" r="0.56" fill="#c4bccc" opacity="0.35"/>
<circle cx="233.9" cy="413.4" r="0.60" fill="#f2f2f6" opacity="0.5"/>
<circle cx="237.8" cy="369.4" r="0.62" fill="#f2f2f6" opacity="0.5"/>
<circle cx="238.8" cy="387.4" r="0.46" fill="#c4bccc" opacity="0.35"/>
<circle cx="251.9" cy="394.8" r="0.53" fill="#b4b0c4" opacity="0.35"/>
<circle cx="253.8" cy="410.0" r="0.43" fill="#c4bccc" opacity="0.35"/>
<circle cx="253.9" cy="392.9" r="0.50" fill="#c4bccc" opacity="0.35"/>
<circle cx="237.4" cy="391.0" r="0.31" fill="#b4b0c4" opacity="0.35"/>
<circle cx="246.2" cy="412.0" r="0.49" fill="#b4b0c4" opacity="0.35"/>
<circle cx="257.0" cy="397.8" r="0.38" fill="#f2f2f6" opacity="0.5"/>
<circle cx="231.7" cy="398.8" r="0.30" fill="#f2f2f6" opacity="0.5"/>
<circle cx="246.9" cy="375.7" r="0.59" fill="#b4b0c4" opacity="0.35"/>
<circle cx="227.4" cy="401.5" r="0.65" fill="#c4bccc" opacity="0.35"/>
<circle cx="218.8" cy="392.8" r="0.55" fill="#b4b0c4" opacity="0.35"/>
<circle cx="246.1" cy="393.5" r="0.32" fill="#b4b0c4" opacity="0.35"/>
<circle cx="243.7" cy="394.3" r="0.49" fill="#c4bccc" opacity="0.35"/>
<circle cx="237.5" cy="399.7" r="0.51" fill="#b4b0c4" opacity="0.35"/>
<circle cx="249.1" cy="380.2" r="0.56" fill="#c4bccc" opacity="0.35"/>
<circle cx="249.3" cy="389.6" r="0.31" fill="#c4bccc" opacity="0.35"/>
<circle cx="246.8" cy="376.2" r="0.32" fill="#f2f2f6" opacity="0.5"/>
<circle cx="235.6" cy="381.5" r="0.45" fill="#f2f2f6" opacity="0.5"/>
<circle cx="246.4" cy="382.8" r="0.42" fill="#c4bccc" opacity="0.35"/>
<circle cx="216.6" cy="396.7" r="0.64" fill="#c4bccc" opacity="0.35"/>
<circle cx="253.2" cy="389.0" r="0.33" fill="#f2f2f6" opacity="0.5"/>
<circle cx="239.1" cy="384.5" r="0.56" fill="#c4bccc" opacity="0.35"/>
<circle cx="243.3" cy="404.4" r="0.58" fill="#f2f2f6" opacity="0.5"/>
<circle cx="259.4" cy="407.7" r="0.36" fill="#b4b0c4" opacity="0.35"/>
<circle cx="245.7" cy="395.9" r="0.61" fill="#f2f2f6" opacity="0.5"/>
<circle cx="245.9" cy="375.3" r="0.48" fill="#f2f2f6" opacity="0.5"/>
<circle cx="247.9" cy="392.8" r="0.53" fill="#f2f2f6" opacity="0.5"/>
<circle cx="223.7" cy="412.5" r="0.56" fill="#f2f2f6" opacity="0.5"/>
<circle cx="254.0" cy="386.6" r="0.46" fill="#c4bccc" opacity="0.35"/>
<circle cx="240.7" cy="413.4" r="0.51" fill="#c4bccc" opacity="0.35"/>
<circle cx="219.8" cy="408.7" r="0.36" fill="#f2f2f6" opacity="0.5"/>
<circle cx="241.5" cy="403.5" r="0.44" fill="#b4b0c4" opacity="0.35"/>
<circle cx="226.8" cy="386.2" r="0.36" fill="#c4bccc" opacity="0.35"/>
<circle cx="259.1" cy="412.7" r="0.50" fill="#f2f2f6" opacity="0.5"/>
<circle cx="223.0" cy="380.8" r="0.33" fill="#b4b0c4" opacity="0.35"/>
<circle cx="235.6" cy="396.7" r="0.69" fill="#8a3a3a" opacity="0.7"/>
<circle cx="239.1" cy="380.3" r="0.53" fill="#5a2a2a" opacity="0.8"/>
<circle cx="257.0" cy="379.5" r="0.71" fill="#5a2a2a" opacity="0.8"/>
<circle cx="243.8" cy="398.3" r="0.56" fill="#8a3a3a" opacity="0.7"/>
<circle cx="226.8" cy="377.6" r="0.61" fill="#8a3a3a" opacity="0.7"/>
<circle cx="250.8" cy="404.7" r="0.41" fill="#5a2a2a" opacity="0.8"/>
<circle cx="238.6" cy="376.0" r="0.41" fill="#8a3a3a" opacity="0.7"/>
<circle cx="249.8" cy="373.6" r="0.74" fill="#8a3a3a" opacity="0.7"/>
<circle cx="251.3" cy="393.6" r="0.73" fill="#8a3a3a" opacity="0.7"/>
<circle cx="235.6" cy="397.0" r="0.63" fill="#8a3a3a" opacity="0.7"/>
<circle cx="248.3" cy="386.3" r="0.75" fill="#8a3a3a" opacity="0.7"/>
<circle cx="235.8" cy="369.3" r="0.46" fill="#8a3a3a" opacity="0.7"/>
<circle cx="225.7" cy="398.7" r="0.58" fill="#8a3a3a" opacity="0.7"/>
<circle cx="229.2" cy="395.2" r="0.75" fill="#5a2a2a" opacity="0.8"/>
<circle cx="247.2" cy="397.5" r="0.71" fill="#8a3a3a" opacity="0.7"/>
<circle cx="243.1" cy="379.5" r="0.76" fill="#5a2a2a" opacity="0.8"/>
<circle cx="216.3" cy="369.9" r="0.44" fill="#8a3a3a" opacity="0.7"/>
<circle cx="221.0" cy="371.5" r="0.52" fill="#8a3a3a" opacity="0.7"/>
<circle cx="246.5" cy="403.9" r="0.33" fill="#b0c4d4" opacity="0.5"/>
<circle cx="254.4" cy="393.8" r="0.48" fill="#b0c4d4" opacity="0.5"/>
<circle cx="216.0" cy="402.9" r="0.37" fill="#b0c4d4" opacity="0.5"/>
<circle cx="260.1" cy="373.9" r="0.31" fill="#b0c4d4" opacity="0.5"/>
<circle cx="259.1" cy="391.3" r="0.46" fill="#b0c4d4" opacity="0.5"/>
<circle cx="241.2" cy="379.6" r="0.49" fill="#b0c4d4" opacity="0.5"/>
<circle cx="217.1" cy="392.8" r="0.42" fill="#b0c4d4" opacity="0.5"/>
<circle cx="228.7" cy="370.7" r="0.35" fill="#b0c4d4" opacity="0.5"/>
<circle cx="219.5" cy="397.8" r="0.41" fill="#b0c4d4" opacity="0.5"/>
<circle cx="233.9" cy="402.6" r="0.38" fill="#b0c4d4" opacity="0.5"/>
<circle cx="251.8" cy="403.9" r="0.46" fill="#b0c4d4" opacity="0.5"/>
<circle cx="228.3" cy="379.9" r="0.48" fill="#b0c4d4" opacity="0.5"/>
<circle cx="217.2" cy="404.5" r="0.44" fill="#b0c4d4" opacity="0.5"/>
<circle cx="257.9" cy="405.4" r="0.44" fill="#b0c4d4" opacity="0.5"/>
<circle cx="238.2" cy="401.7" r="0.33" fill="#b0c4d4" opacity="0.5"/>
<circle cx="240.3" cy="394.1" r="0.36" fill="#b0c4d4" opacity="0.5"/>
<circle cx="251.4" cy="387.7" r="0.49" fill="#b0c4d4" opacity="0.5"/>
<circle cx="232.8" cy="389.7" r="0.35" fill="#b0c4d4" opacity="0.5"/>
<circle cx="221.7" cy="392.6" r="0.35" fill="#b0c4d4" opacity="0.5"/>
<circle cx="256.1" cy="383.0" r="0.47" fill="#b0c4d4" opacity="0.5"/>
<circle cx="229.2" cy="404.5" r="0.46" fill="#b0c4d4" opacity="0.5"/>
<circle cx="244.3" cy="373.2" r="0.44" fill="#b0c4d4" opacity="0.5"/>
<circle cx="227.0" cy="412.2" r="0.41" fill="#b0c4d4" opacity="0.5"/>
<circle cx="244.8" cy="376.3" r="0.49" fill="#b0c4d4" opacity="0.5"/>
<circle cx="253.3" cy="377.2" r="0.50" fill="#b0c4d4" opacity="0.5"/>
<circle cx="233.0" cy="411.1" r="0.33" fill="#b0c4d4" opacity="0.5"/>
<circle cx="221.8" cy="392.8" r="0.35" fill="#b0c4d4" opacity="0.5"/>
<circle cx="224.5" cy="383.2" r="0.31" fill="#b0c4d4" opacity="0.5"/>
<circle cx="252.9" cy="374.4" r="0.43" fill="#b0c4d4" opacity="0.5"/>
<circle cx="248.3" cy="408.8" r="0.49" fill="#b0c4d4" opacity="0.5"/>
<circle cx="252.3" cy="393.2" r="0.39" fill="#b0c4d4" opacity="0.5"/>
<circle cx="220.5" cy="372.4" r="0.31" fill="#b0c4d4" opacity="0.5"/>
<circle cx="235.2" cy="395.3" r="0.36" fill="#b0c4d4" opacity="0.5"/>
<circle cx="259.4" cy="391.1" r="0.32" fill="#b0c4d4" opacity="0.5"/>
<circle cx="257.3" cy="393.9" r="0.33" fill="#b0c4d4" opacity="0.5"/>
<circle cx="237.5" cy="406.3" r="0.47" fill="#b0c4d4" opacity="0.5"/>
<circle cx="259.7" cy="394.1" r="0.31" fill="#b0c4d4" opacity="0.5"/>
<circle cx="231.9" cy="396.5" r="0.36" fill="#b0c4d4" opacity="0.5"/>
<circle cx="244.5" cy="412.0" r="0.37" fill="#b0c4d4" opacity="0.5"/>
<circle cx="234.7" cy="387.5" r="0.31" fill="#b0c4d4" opacity="0.5"/>
<circle cx="252.5" cy="383.6" r="0.43" fill="#b0c4d4" opacity="0.5"/>
<circle cx="221.8" cy="410.6" r="0.31" fill="#b0c4d4" opacity="0.5"/>
<circle cx="234.6" cy="401.2" r="0.43" fill="#b0c4d4" opacity="0.5"/>
<circle cx="235.1" cy="406.9" r="0.40" fill="#b0c4d4" opacity="0.5"/>
<circle cx="221.7" cy="411.9" r="0.41" fill="#b0c4d4" opacity="0.5"/>
<circle cx="226.8" cy="371.6" r="0.36" fill="#b0c4d4" opacity="0.5"/>
<circle cx="233.7" cy="379.1" r="0.43" fill="#b0c4d4" opacity="0.5"/>
<circle cx="227.2" cy="388.6" r="0.49" fill="#b0c4d4" opacity="0.5"/>
<circle cx="231.7" cy="399.8" r="0.35" fill="#b0c4d4" opacity="0.5"/>
<circle cx="259.8" cy="370.7" r="0.33" fill="#b0c4d4" opacity="0.5"/>
<rect x="216.00" y="396.10" width="17.00" height="17.80" fill="#c4dcec"/>
<circle cx="225.5" cy="406.3" r="0.95" fill="#6a2020" opacity="0.8"/>
<circle cx="223.2" cy="400.1" r="0.74" fill="#6a2020" opacity="0.8"/>
<circle cx="224.5" cy="405.9" r="0.63" fill="#6a2020" opacity="0.8"/>
<circle cx="225.6" cy="401.5" r="0.92" fill="#6a2020" opacity="0.8"/>
<rect x="216.00" y="396.10" width="17.00" height="17.80" fill="none" stroke="#94949c" stroke-width="0.55"/>
<rect x="248.60" y="390.90" width="8.60" height="9.20" fill="none" stroke="#9a9aa2" stroke-width="0.5"/>
</g>
<rect x="216.00" y="369.00" width="44.20" height="44.90" fill="none" stroke="#b8b8bc" stroke-width="0.6"/>
<clipPath id="t32"><rect x="262.2" y="369.0" width="43.50" height="44.90"/></clipPath>
<g clip-path="url(#t32)">
<rect x="262.20" y="369.00" width="43.50" height="44.90" fill="#dcdde4" />
<g filter="url(#blur3)">
<ellipse cx="283.95" cy="391.45" rx="17.40" ry="17.96" fill="#e2e2ea" opacity="0.6"/>
</g>
<circle cx="280.1" cy="387.3" r="0.61" fill="#b4b0c4" opacity="0.35"/>
<circle cx="275.6" cy="407.1" r="0.31" fill="#f2f2f6" opacity="0.5"/>
<circle cx="304.8" cy="380.7" r="0.36" fill="#c4bccc" opacity="0.35"/>
<circle cx="287.3" cy="387.0" r="0.53" fill="#f2f2f6" opacity="0.5"/>
<circle cx="303.5" cy="391.3" r="0.58" fill="#f2f2f6" opacity="0.5"/>
<circle cx="300.4" cy="405.7" r="0.58" fill="#f2f2f6" opacity="0.5"/>
<circle cx="278.8" cy="411.9" r="0.37" fill="#c4bccc" opacity="0.35"/>
<circle cx="296.8" cy="393.6" r="0.59" fill="#f2f2f6" opacity="0.5"/>
<circle cx="277.6" cy="392.8" r="0.61" fill="#b4b0c4" opacity="0.35"/>
<circle cx="268.8" cy="372.0" r="0.39" fill="#c4bccc" opacity="0.35"/>
<circle cx="296.6" cy="397.7" r="0.47" fill="#f2f2f6" opacity="0.5"/>
<circle cx="299.6" cy="403.9" r="0.34" fill="#c4bccc" opacity="0.35"/>
<circle cx="270.8" cy="405.7" r="0.60" fill="#b4b0c4" opacity="0.35"/>
<circle cx="277.2" cy="372.4" r="0.43" fill="#f2f2f6" opacity="0.5"/>
<circle cx="288.2" cy="372.7" r="0.47" fill="#c4bccc" opacity="0.35"/>
<circle cx="268.3" cy="397.7" r="0.35" fill="#f2f2f6" opacity="0.5"/>
<circle cx="271.1" cy="404.4" r="0.34" fill="#f2f2f6" opacity="0.5"/>
<circle cx="289.2" cy="403.7" r="0.56" fill="#c4bccc" opacity="0.35"/>
<circle cx="296.9" cy="386.3" r="0.59" fill="#f2f2f6" opacity="0.5"/>
<circle cx="282.0" cy="374.4" r="0.60" fill="#b4b0c4" opacity="0.35"/>
<circle cx="294.3" cy="399.7" r="0.30" fill="#b4b0c4" opacity="0.35"/>
<circle cx="283.5" cy="394.3" r="0.33" fill="#c4bccc" opacity="0.35"/>
<circle cx="288.0" cy="391.2" r="0.57" fill="#b4b0c4" opacity="0.35"/>
<circle cx="284.3" cy="402.0" r="0.34" fill="#c4bccc" opacity="0.35"/>
<circle cx="278.3" cy="376.5" r="0.62" fill="#b4b0c4" opacity="0.35"/>
<circle cx="274.9" cy="401.5" r="0.61" fill="#f2f2f6" opacity="0.5"/>
<circle cx="270.4" cy="371.0" r="0.48" fill="#c4bccc" opacity="0.35"/>
<circle cx="289.4" cy="406.0" r="0.48" fill="#b4b0c4" opacity="0.35"/>
<circle cx="291.0" cy="375.0" r="0.58" fill="#c4bccc" opacity="0.35"/>
<circle cx="284.8" cy="410.5" r="0.58" fill="#c4bccc" opacity="0.35"/>
<circle cx="301.5" cy="385.5" r="0.55" fill="#c4bccc" opacity="0.35"/>
<circle cx="278.0" cy="382.6" r="0.33" fill="#b4b0c4" opacity="0.35"/>
<circle cx="270.8" cy="373.4" r="0.46" fill="#b4b0c4" opacity="0.35"/>
<circle cx="292.4" cy="393.4" r="0.33" fill="#b4b0c4" opacity="0.35"/>
<circle cx="300.1" cy="413.7" r="0.34" fill="#c4bccc" opacity="0.35"/>
<circle cx="304.1" cy="401.2" r="0.57" fill="#c4bccc" opacity="0.35"/>
<circle cx="290.7" cy="398.4" r="0.46" fill="#b4b0c4" opacity="0.35"/>
<circle cx="291.4" cy="409.1" r="0.33" fill="#b4b0c4" opacity="0.35"/>
<circle cx="295.8" cy="370.7" r="0.32" fill="#b4b0c4" opacity="0.35"/>
<circle cx="264.6" cy="410.7" r="0.46" fill="#b4b0c4" opacity="0.35"/>
<circle cx="304.9" cy="399.7" r="0.43" fill="#c4bccc" opacity="0.35"/>
<circle cx="298.5" cy="409.7" r="0.40" fill="#b4b0c4" opacity="0.35"/>
<circle cx="295.7" cy="392.7" r="0.58" fill="#c4bccc" opacity="0.35"/>
<circle cx="292.6" cy="403.2" r="0.34" fill="#f2f2f6" opacity="0.5"/>
<circle cx="305.4" cy="411.9" r="0.32" fill="#c4bccc" opacity="0.35"/>
<circle cx="295.7" cy="404.5" r="0.38" fill="#f2f2f6" opacity="0.5"/>
<circle cx="297.4" cy="413.5" r="0.51" fill="#f2f2f6" opacity="0.5"/>
<circle cx="295.7" cy="372.1" r="0.51" fill="#c4bccc" opacity="0.35"/>
<circle cx="281.4" cy="387.1" r="0.31" fill="#f2f2f6" opacity="0.5"/>
<circle cx="272.1" cy="394.1" r="0.34" fill="#f2f2f6" opacity="0.5"/>
<circle cx="268.0" cy="379.9" r="0.59" fill="#c4bccc" opacity="0.35"/>
<circle cx="265.6" cy="369.6" r="0.59" fill="#c4bccc" opacity="0.35"/>
<circle cx="295.9" cy="411.3" r="0.57" fill="#b4b0c4" opacity="0.35"/>
<circle cx="289.1" cy="370.9" r="0.59" fill="#f2f2f6" opacity="0.5"/>
<circle cx="269.5" cy="394.3" r="0.39" fill="#f2f2f6" opacity="0.5"/>
<circle cx="273.6" cy="386.2" r="0.30" fill="#b4b0c4" opacity="0.35"/>
<circle cx="271.0" cy="400.1" r="0.44" fill="#c4bccc" opacity="0.35"/>
<circle cx="292.0" cy="385.1" r="0.39" fill="#f2f2f6" opacity="0.5"/>
<circle cx="303.2" cy="386.1" r="0.48" fill="#c4bccc" opacity="0.35"/>
<circle cx="295.4" cy="392.8" r="0.62" fill="#b4b0c4" opacity="0.35"/>
<circle cx="278.1" cy="402.9" r="0.41" fill="#b4b0c4" opacity="0.35"/>
<circle cx="301.6" cy="387.8" r="0.51" fill="#c4bccc" opacity="0.35"/>
<circle cx="272.6" cy="411.6" r="0.32" fill="#c4bccc" opacity="0.35"/>
<circle cx="284.5" cy="390.5" r="0.37" fill="#c4bccc" opacity="0.35"/>
<circle cx="297.4" cy="401.6" r="0.61" fill="#b4b0c4" opacity="0.35"/>
<circle cx="288.5" cy="384.4" r="0.49" fill="#f2f2f6" opacity="0.5"/>
<circle cx="296.6" cy="383.6" r="0.43" fill="#b4b0c4" opacity="0.35"/>
<circle cx="276.4" cy="396.5" r="0.59" fill="#c4bccc" opacity="0.35"/>
<circle cx="263.7" cy="400.3" r="0.49" fill="#f2f2f6" opacity="0.5"/>
<circle cx="277.8" cy="373.6" r="0.42" fill="#b4b0c4" opacity="0.35"/>
<circle cx="305.5" cy="372.2" r="0.52" fill="#c4bccc" opacity="0.35"/>
<circle cx="304.8" cy="407.0" r="0.60" fill="#f2f2f6" opacity="0.5"/>
<circle cx="294.7" cy="389.9" r="0.61" fill="#c4bccc" opacity="0.35"/>
<circle cx="292.4" cy="397.8" r="0.59" fill="#c4bccc" opacity="0.35"/>
<circle cx="290.7" cy="397.9" r="0.49" fill="#b4b0c4" opacity="0.35"/>
<circle cx="286.6" cy="393.7" r="0.61" fill="#c4bccc" opacity="0.35"/>
<circle cx="298.2" cy="398.4" r="0.40" fill="#f2f2f6" opacity="0.5"/>
<circle cx="283.2" cy="377.0" r="0.37" fill="#c4bccc" opacity="0.35"/>
<circle cx="286.0" cy="393.3" r="0.51" fill="#b4b0c4" opacity="0.35"/>
<circle cx="289.4" cy="401.0" r="0.65" fill="#f2f2f6" opacity="0.5"/>
<circle cx="275.3" cy="378.5" r="0.59" fill="#b4b0c4" opacity="0.35"/>
<circle cx="288.8" cy="371.9" r="0.47" fill="#b4b0c4" opacity="0.35"/>
<circle cx="291.1" cy="408.4" r="0.36" fill="#f2f2f6" opacity="0.5"/>
<circle cx="279.0" cy="382.1" r="0.63" fill="#f2f2f6" opacity="0.5"/>
<circle cx="292.1" cy="386.7" r="0.48" fill="#c4bccc" opacity="0.35"/>
<circle cx="302.7" cy="391.8" r="0.39" fill="#f2f2f6" opacity="0.5"/>
<circle cx="304.7" cy="413.5" r="0.49" fill="#b4b0c4" opacity="0.35"/>
<circle cx="276.0" cy="384.1" r="0.45" fill="#f2f2f6" opacity="0.5"/>
<circle cx="274.4" cy="393.4" r="0.65" fill="#f2f2f6" opacity="0.5"/>
<circle cx="273.4" cy="392.7" r="0.49" fill="#b4b0c4" opacity="0.35"/>
<circle cx="281.9" cy="397.0" r="0.52" fill="#c4bccc" opacity="0.35"/>
<circle cx="295.1" cy="374.4" r="0.61" fill="#b4b0c4" opacity="0.35"/>
<circle cx="283.9" cy="404.0" r="0.33" fill="#f2f2f6" opacity="0.5"/>
<circle cx="293.7" cy="375.7" r="0.34" fill="#f2f2f6" opacity="0.5"/>
<circle cx="264.2" cy="382.5" r="0.48" fill="#c4bccc" opacity="0.35"/>
<circle cx="287.1" cy="396.2" r="0.48" fill="#f2f2f6" opacity="0.5"/>
<circle cx="276.0" cy="382.0" r="0.41" fill="#f2f2f6" opacity="0.5"/>
<circle cx="292.0" cy="410.3" r="0.37" fill="#b4b0c4" opacity="0.35"/>
<circle cx="265.3" cy="379.8" r="0.55" fill="#f2f2f6" opacity="0.5"/>
<circle cx="269.1" cy="372.5" r="0.53" fill="#b4b0c4" opacity="0.35"/>
<circle cx="271.9" cy="404.5" r="0.44" fill="#c4bccc" opacity="0.35"/>
<circle cx="266.7" cy="376.2" r="0.59" fill="#b4b0c4" opacity="0.35"/>
<circle cx="276.7" cy="394.7" r="0.48" fill="#b4b0c4" opacity="0.35"/>
<circle cx="303.6" cy="413.0" r="0.55" fill="#f2f2f6" opacity="0.5"/>
<circle cx="285.0" cy="402.3" r="0.42" fill="#f2f2f6" opacity="0.5"/>
<circle cx="269.9" cy="374.3" r="0.62" fill="#f2f2f6" opacity="0.5"/>
<circle cx="289.3" cy="389.2" r="0.57" fill="#b4b0c4" opacity="0.35"/>
<circle cx="277.8" cy="406.2" r="0.48" fill="#c4bccc" opacity="0.35"/>
<circle cx="270.3" cy="386.3" r="0.51" fill="#f2f2f6" opacity="0.5"/>
<circle cx="278.9" cy="389.8" r="0.40" fill="#c4bccc" opacity="0.35"/>
<circle cx="264.2" cy="403.4" r="0.63" fill="#b4b0c4" opacity="0.35"/>
<circle cx="293.0" cy="381.5" r="0.38" fill="#c4bccc" opacity="0.35"/>
<circle cx="290.2" cy="376.9" r="0.53" fill="#f2f2f6" opacity="0.5"/>
<circle cx="272.7" cy="403.8" r="0.60" fill="#b4b0c4" opacity="0.35"/>
<circle cx="275.1" cy="372.8" r="0.61" fill="#b4b0c4" opacity="0.35"/>
<circle cx="284.5" cy="370.0" r="0.65" fill="#b4b0c4" opacity="0.35"/>
<circle cx="270.4" cy="379.0" r="0.63" fill="#c4bccc" opacity="0.35"/>
<circle cx="300.8" cy="374.8" r="0.54" fill="#c4bccc" opacity="0.35"/>
<circle cx="290.6" cy="407.6" r="0.58" fill="#f2f2f6" opacity="0.5"/>
<circle cx="283.2" cy="376.2" r="0.46" fill="#b4b0c4" opacity="0.35"/>
<circle cx="303.1" cy="390.2" r="0.62" fill="#b4b0c4" opacity="0.35"/>
<circle cx="273.5" cy="380.4" r="0.49" fill="#b4b0c4" opacity="0.35"/>
<circle cx="295.4" cy="391.7" r="0.43" fill="#f2f2f6" opacity="0.5"/>
<circle cx="294.3" cy="385.5" r="0.40" fill="#c4bccc" opacity="0.35"/>
<circle cx="268.8" cy="373.0" r="0.50" fill="#f2f2f6" opacity="0.5"/>
<circle cx="265.3" cy="392.9" r="0.62" fill="#b4b0c4" opacity="0.35"/>
<circle cx="272.5" cy="373.1" r="0.43" fill="#f2f2f6" opacity="0.5"/>
<circle cx="275.8" cy="394.6" r="0.38" fill="#f2f2f6" opacity="0.5"/>
<circle cx="268.9" cy="396.8" r="0.34" fill="#b4b0c4" opacity="0.35"/>
<circle cx="287.6" cy="382.4" r="0.53" fill="#b4b0c4" opacity="0.35"/>
<circle cx="273.4" cy="399.3" r="0.62" fill="#f2f2f6" opacity="0.5"/>
<circle cx="283.2" cy="378.9" r="0.47" fill="#f2f2f6" opacity="0.5"/>
<circle cx="264.7" cy="384.8" r="0.40" fill="#b4b0c4" opacity="0.35"/>
<circle cx="268.5" cy="408.4" r="0.33" fill="#b4b0c4" opacity="0.35"/>
<circle cx="298.3" cy="405.9" r="0.60" fill="#b4b0c4" opacity="0.35"/>
<circle cx="271.4" cy="371.8" r="0.47" fill="#f2f2f6" opacity="0.5"/>
<circle cx="271.4" cy="408.9" r="0.35" fill="#b4b0c4" opacity="0.35"/>
<circle cx="268.2" cy="407.9" r="0.56" fill="#b4b0c4" opacity="0.35"/>
<circle cx="301.1" cy="393.9" r="0.37" fill="#c4bccc" opacity="0.35"/>
<circle cx="301.7" cy="406.0" r="0.57" fill="#f2f2f6" opacity="0.5"/>
<circle cx="284.8" cy="403.7" r="0.40" fill="#c8c8d0" opacity="0.5"/>
<circle cx="300.0" cy="401.6" r="0.31" fill="#c8c8d0" opacity="0.5"/>
<circle cx="298.9" cy="384.1" r="0.31" fill="#c8c8d0" opacity="0.5"/>
<circle cx="295.1" cy="397.5" r="0.31" fill="#c8c8d0" opacity="0.5"/>
<circle cx="268.7" cy="379.5" r="0.43" fill="#c8c8d0" opacity="0.5"/>
<circle cx="268.1" cy="396.1" r="0.43" fill="#c8c8d0" opacity="0.5"/>
<circle cx="272.5" cy="380.1" r="0.47" fill="#c8c8d0" opacity="0.5"/>
<circle cx="281.9" cy="408.3" r="0.47" fill="#c8c8d0" opacity="0.5"/>
<circle cx="273.4" cy="397.8" r="0.42" fill="#c8c8d0" opacity="0.5"/>
<circle cx="275.8" cy="372.1" r="0.49" fill="#c8c8d0" opacity="0.5"/>
<circle cx="275.4" cy="392.8" r="0.46" fill="#c8c8d0" opacity="0.5"/>
<circle cx="292.4" cy="403.3" r="0.31" fill="#c8c8d0" opacity="0.5"/>
<circle cx="295.7" cy="371.5" r="0.39" fill="#c8c8d0" opacity="0.5"/>
<circle cx="291.4" cy="393.0" r="0.45" fill="#c8c8d0" opacity="0.5"/>
<circle cx="280.1" cy="401.7" r="0.49" fill="#c8c8d0" opacity="0.5"/>
<circle cx="278.3" cy="403.1" r="0.50" fill="#c8c8d0" opacity="0.5"/>
<circle cx="285.0" cy="404.1" r="0.39" fill="#c8c8d0" opacity="0.5"/>
<circle cx="294.1" cy="382.9" r="0.33" fill="#c8c8d0" opacity="0.5"/>
<circle cx="277.7" cy="380.4" r="0.39" fill="#c8c8d0" opacity="0.5"/>
<circle cx="296.6" cy="371.3" r="0.42" fill="#c8c8d0" opacity="0.5"/>
<circle cx="282.1" cy="397.1" r="0.49" fill="#c8c8d0" opacity="0.5"/>
<circle cx="270.0" cy="408.2" r="0.45" fill="#c8c8d0" opacity="0.5"/>
<circle cx="279.6" cy="375.3" r="0.31" fill="#c8c8d0" opacity="0.5"/>
<circle cx="286.5" cy="388.8" r="0.35" fill="#c8c8d0" opacity="0.5"/>
<circle cx="270.5" cy="394.3" r="0.33" fill="#c8c8d0" opacity="0.5"/>
<circle cx="300.5" cy="376.7" r="0.40" fill="#c8c8d0" opacity="0.5"/>
<circle cx="289.7" cy="386.5" r="0.39" fill="#c8c8d0" opacity="0.5"/>
<circle cx="300.9" cy="393.4" r="0.38" fill="#c8c8d0" opacity="0.5"/>
<circle cx="300.2" cy="379.9" r="0.40" fill="#c8c8d0" opacity="0.5"/>
<circle cx="270.1" cy="409.6" r="0.41" fill="#c8c8d0" opacity="0.5"/>
<circle cx="279.0" cy="400.0" r="0.47" fill="#c8c8d0" opacity="0.5"/>
<circle cx="279.3" cy="374.8" r="0.42" fill="#c8c8d0" opacity="0.5"/>
<circle cx="305.6" cy="399.1" r="0.37" fill="#c8c8d0" opacity="0.5"/>
<circle cx="281.1" cy="388.4" r="0.48" fill="#c8c8d0" opacity="0.5"/>
<circle cx="267.8" cy="369.6" r="0.42" fill="#c8c8d0" opacity="0.5"/>
<circle cx="263.1" cy="383.5" r="0.35" fill="#c8c8d0" opacity="0.5"/>
<circle cx="303.4" cy="391.0" r="0.31" fill="#c8c8d0" opacity="0.5"/>
<circle cx="266.4" cy="374.9" r="0.33" fill="#c8c8d0" opacity="0.5"/>
<circle cx="305.5" cy="393.3" r="0.37" fill="#c8c8d0" opacity="0.5"/>
<circle cx="277.3" cy="405.1" r="0.38" fill="#c8c8d0" opacity="0.5"/>
<circle cx="279.3" cy="388.8" r="0.45" fill="#7a6a6a" opacity="0.6"/>
<circle cx="302.4" cy="398.8" r="0.45" fill="#7a6a6a" opacity="0.6"/>
<circle cx="263.3" cy="372.1" r="0.41" fill="#7a6a6a" opacity="0.6"/>
<circle cx="275.6" cy="394.5" r="0.37" fill="#7a6a6a" opacity="0.6"/>
<circle cx="271.0" cy="375.2" r="0.39" fill="#7a6a6a" opacity="0.6"/>
<rect x="288.20" y="396.10" width="17.50" height="17.80" fill="#eceef2"/>
<circle cx="301.4" cy="405.1" r="0.54" fill="#5a3a3a" opacity="0.7"/>
<circle cx="303.5" cy="402.9" r="0.33" fill="#5a3a3a" opacity="0.7"/>
<circle cx="299.8" cy="405.3" r="0.43" fill="#5a3a3a" opacity="0.7"/>
<circle cx="296.6" cy="410.8" r="0.46" fill="#5a3a3a" opacity="0.7"/>
<circle cx="296.0" cy="411.4" r="0.33" fill="#5a3a3a" opacity="0.7"/>
<circle cx="295.1" cy="402.7" r="0.56" fill="#5a3a3a" opacity="0.7"/>
<rect x="288.20" y="396.10" width="17.50" height="17.80" fill="none" stroke="#94949c" stroke-width="0.55"/>
<rect x="272.70" y="372.50" width="9.80" height="9.80" fill="none" stroke="#9a9aa2" stroke-width="0.5"/>
</g>
<rect x="262.20" y="369.00" width="43.50" height="44.90" fill="none" stroke="#b8b8bc" stroke-width="0.6"/>
<text x="315.30" y="253.00" font-size="10.50" text-anchor="start" fill="#000" font-weight="bold" textLength="7.36" lengthAdjust="spacingAndGlyphs" >H</text>
<rect x="357.30" y="289.75" width="9.50" height="32.45" fill="#ccc9ce" />
<line x1="362.05" y1="297.54" x2="362.05" y2="280.66" stroke="#222" stroke-width="0.6" />
<line x1="359.85" y1="280.66" x2="364.25" y2="280.66" stroke="#222" stroke-width="0.6" />
<line x1="359.85" y1="297.54" x2="364.25" y2="297.54" stroke="#222" stroke-width="0.6" />
<circle cx="362.93" cy="280.01" r="1.15" fill="#111" />
<circle cx="363.35" cy="287.15" r="1.15" fill="#111" />
<circle cx="360.86" cy="288.78" r="1.15" fill="#111" />
<circle cx="362.66" cy="292.35" r="1.15" fill="#111" />
<circle cx="361.74" cy="298.84" r="1.15" fill="#111" />
<rect x="367.80" y="305.97" width="9.70" height="16.23" fill="#e4007f" />
<line x1="372.65" y1="314.09" x2="372.65" y2="297.86" stroke="#222" stroke-width="0.6" />
<line x1="370.45" y1="297.86" x2="374.85" y2="297.86" stroke="#222" stroke-width="0.6" />
<line x1="370.45" y1="314.09" x2="374.85" y2="314.09" stroke="#222" stroke-width="0.6" />
<circle cx="373.36" cy="298.84" r="1.15" fill="#111" />
<circle cx="373.59" cy="302.73" r="1.15" fill="#111" />
<circle cx="373.71" cy="306.62" r="1.15" fill="#111" />
<circle cx="371.84" cy="310.84" r="1.15" fill="#111" />
<circle cx="371.79" cy="312.46" r="1.15" fill="#111" />
<rect x="378.80" y="307.92" width="9.80" height="14.28" fill="#27a9e1" />
<line x1="383.70" y1="317.33" x2="383.70" y2="298.51" stroke="#222" stroke-width="0.6" />
<line x1="381.50" y1="298.51" x2="385.90" y2="298.51" stroke="#222" stroke-width="0.6" />
<line x1="381.50" y1="317.33" x2="385.90" y2="317.33" stroke="#222" stroke-width="0.6" />
<circle cx="384.63" cy="294.62" r="1.15" fill="#111" />
<circle cx="382.67" cy="307.60" r="1.15" fill="#111" />
<circle cx="382.53" cy="312.46" r="1.15" fill="#111" />
<circle cx="384.94" cy="316.36" r="1.15" fill="#111" />
<rect x="389.30" y="315.06" width="9.70" height="7.14" fill="#9484c0" />
<line x1="394.15" y1="316.36" x2="394.15" y2="313.44" stroke="#222" stroke-width="0.6" />
<line x1="391.95" y1="313.44" x2="396.35" y2="313.44" stroke="#222" stroke-width="0.6" />
<line x1="391.95" y1="316.36" x2="396.35" y2="316.36" stroke="#222" stroke-width="0.6" />
<circle cx="394.99" cy="313.76" r="1.15" fill="#111" />
<circle cx="395.05" cy="315.06" r="1.15" fill="#111" />
<circle cx="393.38" cy="315.71" r="1.15" fill="#111" />
<line x1="355.70" y1="255.00" x2="355.70" y2="322.70" stroke="#231f20" stroke-width="1.0" />
<line x1="355.70" y1="322.20" x2="400.20" y2="322.20" stroke="#231f20" stroke-width="1.0" />
<line x1="353.10" y1="322.20" x2="355.70" y2="322.20" stroke="#231f20" stroke-width="0.8" />
<text x="350.20" y="324.51" font-size="6.49" text-anchor="end" fill="#231f20" stroke="#231f20" stroke-width="0.07" textLength="3.18" lengthAdjust="spacingAndGlyphs" >0</text>
<line x1="353.10" y1="314.09" x2="355.70" y2="314.09" stroke="#231f20" stroke-width="0.8" />
<text x="350.20" y="316.40" font-size="6.49" text-anchor="end" fill="#231f20" stroke="#231f20" stroke-width="0.07" textLength="6.37" lengthAdjust="spacingAndGlyphs" >25</text>
<line x1="353.10" y1="305.97" x2="355.70" y2="305.97" stroke="#231f20" stroke-width="0.8" />
<text x="350.20" y="308.29" font-size="6.49" text-anchor="end" fill="#231f20" stroke="#231f20" stroke-width="0.07" textLength="6.37" lengthAdjust="spacingAndGlyphs" >50</text>
<line x1="353.10" y1="297.86" x2="355.70" y2="297.86" stroke="#231f20" stroke-width="0.8" />
<text x="350.20" y="300.17" font-size="6.49" text-anchor="end" fill="#231f20" stroke="#231f20" stroke-width="0.07" textLength="6.37" lengthAdjust="spacingAndGlyphs" >75</text>
<line x1="353.10" y1="289.75" x2="355.70" y2="289.75" stroke="#231f20" stroke-width="0.8" />
<text x="350.20" y="292.06" font-size="6.49" text-anchor="end" fill="#231f20" stroke="#231f20" stroke-width="0.07" textLength="9.55" lengthAdjust="spacingAndGlyphs" >100</text>
<line x1="353.10" y1="281.64" x2="355.70" y2="281.64" stroke="#231f20" stroke-width="0.8" />
<text x="350.20" y="283.95" font-size="6.49" text-anchor="end" fill="#231f20" stroke="#231f20" stroke-width="0.07" textLength="9.55" lengthAdjust="spacingAndGlyphs" >125</text>
<line x1="353.10" y1="273.52" x2="355.70" y2="273.52" stroke="#231f20" stroke-width="0.8" />
<text x="350.20" y="275.84" font-size="6.49" text-anchor="end" fill="#231f20" stroke="#231f20" stroke-width="0.07" textLength="9.55" lengthAdjust="spacingAndGlyphs" >150</text>
<line x1="353.10" y1="265.41" x2="355.70" y2="265.41" stroke="#231f20" stroke-width="0.8" />
<text x="350.20" y="267.72" font-size="6.49" text-anchor="end" fill="#231f20" stroke="#231f20" stroke-width="0.07" textLength="9.55" lengthAdjust="spacingAndGlyphs" >175</text>
<line x1="353.10" y1="257.30" x2="355.70" y2="257.30" stroke="#231f20" stroke-width="0.8" />
<text x="350.20" y="259.61" font-size="6.49" text-anchor="end" fill="#231f20" stroke="#231f20" stroke-width="0.07" textLength="9.55" lengthAdjust="spacingAndGlyphs" >200</text>
<line x1="362.05" y1="322.20" x2="362.05" y2="324.20" stroke="#231f20" stroke-width="0.8" />
<text x="362.05" y="332.52" font-size="6.71" text-anchor="middle" fill="#231f20" stroke="#231f20" stroke-width="0.07" textLength="4.27" lengthAdjust="spacingAndGlyphs" >C</text>
<line x1="372.65" y1="322.20" x2="372.65" y2="324.20" stroke="#231f20" stroke-width="0.8" />
<text x="372.65" y="332.52" font-size="6.71" text-anchor="middle" fill="#231f20" stroke="#231f20" stroke-width="0.07" textLength="4.27" lengthAdjust="spacingAndGlyphs" >H</text>
<line x1="383.70" y1="322.20" x2="383.70" y2="324.20" stroke="#231f20" stroke-width="0.8" />
<text x="383.70" y="332.52" font-size="6.71" text-anchor="middle" fill="#231f20" stroke="#231f20" stroke-width="0.07" textLength="3.95" lengthAdjust="spacingAndGlyphs" >S</text>
<line x1="394.15" y1="322.20" x2="394.15" y2="324.20" stroke="#231f20" stroke-width="0.8" />
<text x="394.15" y="332.52" font-size="6.71" text-anchor="middle" fill="#231f20" stroke="#231f20" stroke-width="0.07" textLength="11.68" lengthAdjust="spacingAndGlyphs" >H+S</text>
<path d="M361.9,281 V265.5 H394.5 V312" fill="none" stroke="#444" stroke-width="0.6" />
<text x="378.20" y="266.12" font-size="6.60" text-anchor="middle" fill="#231f20" stroke="#231f20" stroke-width="0.15" textLength="4.53" lengthAdjust="spacingAndGlyphs" >**</text>
<path d="M361.9,281 V271.0 H383.8 V297" fill="none" stroke="#444" stroke-width="0.6" />
<text x="372.85" y="271.62" font-size="6.60" text-anchor="middle" fill="#231f20" stroke="#231f20" stroke-width="0.15" textLength="2.27" lengthAdjust="spacingAndGlyphs" >*</text>
<path d="M361.9,281 V276.5 H373.3 V297" fill="none" stroke="#444" stroke-width="0.6" />
<text x="367.60" y="277.12" font-size="6.60" text-anchor="middle" fill="#231f20" stroke="#231f20" stroke-width="0.15" textLength="4.53" lengthAdjust="spacingAndGlyphs" >**</text>
<text x="334.01" y="287.20" font-size="6.49" text-anchor="middle" fill="#231f20" stroke="#231f20" stroke-width="0.14" textLength="42.30" lengthAdjust="spacingAndGlyphs" transform="rotate(-90 334.01 287.20)" >Proliferation (%)</text>
<text x="408.60" y="253.00" font-size="10.50" text-anchor="start" fill="#000" font-weight="bold" textLength="2.83" lengthAdjust="spacingAndGlyphs" >I</text>
<rect x="442.20" y="284.90" width="70.90" height="62.80" fill="#ffffff" stroke="#3c3c3c" stroke-width="1.1"/>
<path d="M442.8,306.90 L454.00,306.90 L455.60,304.40 L456.80,298.90 L457.70,294.50 L458.70,298.90 L459.80,304.40 L461.20,306.60 L463.00,306.90 L512.8,306.90 L442.8,306.90 Z" fill="#d6a462" stroke="#c9964e" stroke-width="0.8" />
<line x1="461.90" y1="302.30" x2="461.90" y2="306.00" stroke="#9ab4cc" stroke-width="0.7" />
<path d="M442.8,316.90 L460.20,316.90 L461.40,312.40 L462.60,309.40 L463.80,309.90 L465.50,311.90 L468.00,313.90 L472.00,315.50 L478.00,316.40 L486.00,316.90 L512.8,316.90 L442.8,316.90 Z" fill="#e3e4ea" stroke="#cfd0d8" stroke-width="0.8" />
<path d="M442.8,327.00 L459.50,327.00 L461.50,326.00 L463.50,326.20 L467.00,326.70 L471.00,327.00 L512.8,327.00" fill="none" stroke="#a69ec8" stroke-width="0.8" />
<path d="M442.8,337.20 L460.20,337.20 L461.60,334.00 L462.80,332.30 L464.50,333.60 L467.00,335.20 L471.00,336.20 L477.00,336.90 L484.00,337.20 L512.8,337.20" fill="none" stroke="#4fa8d4" stroke-width="0.9" />
<path d="M442.8,347.20 L460.60,347.20 L462.00,344.60 L463.00,343.20 L464.40,344.60 L466.50,346.00 L469.50,346.80 L473.00,347.20 L512.8,347.20" fill="none" stroke="#e0509a" stroke-width="0.9" />
<line x1="442.20" y1="347.70" x2="513.10" y2="347.70" stroke="#231f20" stroke-width="1.0" />
<line x1="444.50" y1="347.70" x2="444.50" y2="349.20" stroke="#333" stroke-width="0.45" />
<line x1="447.05" y1="347.70" x2="447.05" y2="349.20" stroke="#333" stroke-width="0.45" />
<line x1="449.60" y1="347.70" x2="449.60" y2="349.20" stroke="#333" stroke-width="0.45" />
<line x1="452.15" y1="347.70" x2="452.15" y2="349.20" stroke="#333" stroke-width="0.45" />
<line x1="454.70" y1="347.70" x2="454.70" y2="349.20" stroke="#333" stroke-width="0.45" />
<line x1="457.25" y1="347.70" x2="457.25" y2="349.20" stroke="#333" stroke-width="0.45" />
<line x1="459.80" y1="347.70" x2="459.80" y2="349.20" stroke="#333" stroke-width="0.45" />
<line x1="462.35" y1="347.70" x2="462.35" y2="349.20" stroke="#333" stroke-width="0.45" />
<line x1="464.90" y1="347.70" x2="464.90" y2="349.20" stroke="#333" stroke-width="0.45" />
<line x1="467.45" y1="347.70" x2="467.45" y2="349.20" stroke="#333" stroke-width="0.45" />
<line x1="470.00" y1="347.70" x2="470.00" y2="349.20" stroke="#333" stroke-width="0.45" />
<line x1="472.55" y1="347.70" x2="472.55" y2="349.20" stroke="#333" stroke-width="0.45" />
<line x1="475.10" y1="347.70" x2="475.10" y2="349.20" stroke="#333" stroke-width="0.45" />
<line x1="477.65" y1="347.70" x2="477.65" y2="349.20" stroke="#333" stroke-width="0.45" />
<line x1="480.20" y1="347.70" x2="480.20" y2="349.20" stroke="#333" stroke-width="0.45" />
<line x1="482.75" y1="347.70" x2="482.75" y2="349.20" stroke="#333" stroke-width="0.45" />
<line x1="485.30" y1="347.70" x2="485.30" y2="349.20" stroke="#333" stroke-width="0.45" />
<line x1="487.85" y1="347.70" x2="487.85" y2="349.20" stroke="#333" stroke-width="0.45" />
<line x1="490.40" y1="347.70" x2="490.40" y2="349.20" stroke="#333" stroke-width="0.45" />
<line x1="492.95" y1="347.70" x2="492.95" y2="349.20" stroke="#333" stroke-width="0.45" />
<line x1="495.50" y1="347.70" x2="495.50" y2="349.20" stroke="#333" stroke-width="0.45" />
<line x1="498.05" y1="347.70" x2="498.05" y2="349.20" stroke="#333" stroke-width="0.45" />
<line x1="500.60" y1="347.70" x2="500.60" y2="349.20" stroke="#333" stroke-width="0.45" />
<line x1="503.15" y1="347.70" x2="503.15" y2="349.20" stroke="#333" stroke-width="0.45" />
<line x1="505.70" y1="347.70" x2="505.70" y2="349.20" stroke="#333" stroke-width="0.45" />
<line x1="508.25" y1="347.70" x2="508.25" y2="349.20" stroke="#333" stroke-width="0.45" />
<line x1="510.80" y1="347.70" x2="510.80" y2="349.20" stroke="#333" stroke-width="0.45" />
<rect x="454.30" y="347.40" width="5.60" height="2.00" fill="#111" />
<line x1="476.00" y1="347.70" x2="476.00" y2="350.20" stroke="#222" stroke-width="0.7" />
<line x1="507.00" y1="347.70" x2="507.00" y2="350.20" stroke="#222" stroke-width="0.7" />
<text x="438.30" y="303.42" font-size="6.60" text-anchor="end" fill="#c8965a" stroke="#c8965a" stroke-width="0.07" textLength="22.30" lengthAdjust="spacingAndGlyphs" >CD138-</text>
<text x="438.50" y="315.92" font-size="6.60" text-anchor="end" fill="#c6c6cc" stroke="#c6c6cc" stroke-width="0.07" textLength="4.20" lengthAdjust="spacingAndGlyphs" >C</text>
<text x="438.80" y="326.22" font-size="6.60" text-anchor="end" fill="#a49ccc" stroke="#a49ccc" stroke-width="0.07" textLength="13.10" lengthAdjust="spacingAndGlyphs" >H+S</text>
<text x="438.50" y="336.32" font-size="6.60" text-anchor="end" fill="#3aa4c8" stroke="#3aa4c8" stroke-width="0.07" textLength="3.88" lengthAdjust="spacingAndGlyphs" >S</text>
<text x="438.50" y="345.62" font-size="6.60" text-anchor="end" fill="#e0509a" stroke="#e0509a" stroke-width="0.07" textLength="4.20" lengthAdjust="spacingAndGlyphs" >H</text>
<text x="458.20" y="359.22" font-size="6.60" text-anchor="middle" fill="#231f20" stroke="#231f20" stroke-width="0.07" textLength="3.24" lengthAdjust="spacingAndGlyphs" >0</text>
<text x="473.80" y="359.00" font-size="6.00" text-anchor="start" fill="#231f20" stroke="#231f20" stroke-width="0.07" >10<tspan font-size="3.6" dy="-2.4">3</tspan></text>
<text x="503.00" y="359.00" font-size="6.00" text-anchor="start" fill="#231f20" stroke="#231f20" stroke-width="0.07" >10<tspan font-size="3.6" dy="-2.4">5</tspan></text>
<line x1="442.80" y1="360.80" x2="495.50" y2="360.80" stroke="#231f20" stroke-width="1.0" />
<path d="M494.5,358.6 L500.8,360.8 L494.5,363.0 Z" fill="#231f20" stroke="none" stroke-width="1" />
<text x="443.80" y="369.64" font-size="7.48" text-anchor="start" fill="#231f20" stroke="#231f20" stroke-width="0.25" textLength="37.70" lengthAdjust="spacingAndGlyphs" >CD138+ (FITC)</text>
<text x="314.80" y="343.60" font-size="10.50" text-anchor="start" fill="#000" font-weight="bold" textLength="5.66" lengthAdjust="spacingAndGlyphs" >J</text>
<rect x="358.20" y="381.35" width="10.40" height="32.45" fill="#ccc9ce" />
<line x1="363.40" y1="397.57" x2="363.40" y2="365.12" stroke="#222" stroke-width="0.6" />
<line x1="361.20" y1="365.12" x2="365.60" y2="365.12" stroke="#222" stroke-width="0.6" />
<line x1="361.20" y1="397.57" x2="365.60" y2="397.57" stroke="#222" stroke-width="0.6" />
<circle cx="362.21" cy="367.72" r="1.15" fill="#111" />
<circle cx="362.87" cy="369.99" r="1.15" fill="#111" />
<circle cx="362.72" cy="372.26" r="1.15" fill="#111" />
<circle cx="364.86" cy="387.84" r="1.15" fill="#111" />
<circle cx="363.00" cy="406.66" r="1.15" fill="#111" />
<rect x="369.00" y="392.38" width="9.40" height="21.42" fill="#e4007f" />
<line x1="373.70" y1="413.80" x2="373.70" y2="374.21" stroke="#222" stroke-width="0.6" />
<line x1="371.50" y1="374.21" x2="375.90" y2="374.21" stroke="#222" stroke-width="0.6" />
<line x1="371.50" y1="413.80" x2="375.90" y2="413.80" stroke="#222" stroke-width="0.6" />
<circle cx="372.85" cy="363.50" r="1.15" fill="#111" />
<circle cx="373.94" cy="392.38" r="1.15" fill="#111" />
<circle cx="372.49" cy="402.44" r="1.15" fill="#111" />
<circle cx="373.00" cy="410.56" r="1.15" fill="#111" />
<rect x="379.50" y="387.19" width="9.60" height="26.61" fill="#27a9e1" />
<line x1="384.30" y1="406.66" x2="384.30" y2="367.72" stroke="#222" stroke-width="0.6" />
<line x1="382.10" y1="367.72" x2="386.50" y2="367.72" stroke="#222" stroke-width="0.6" />
<line x1="382.10" y1="406.66" x2="386.50" y2="406.66" stroke="#222" stroke-width="0.6" />
<circle cx="383.85" cy="363.50" r="1.15" fill="#111" />
<circle cx="385.03" cy="386.22" r="1.15" fill="#111" />
<circle cx="383.99" cy="405.69" r="1.15" fill="#111" />
<rect x="390.30" y="401.47" width="9.50" height="12.33" fill="#9484c0" />
<line x1="395.05" y1="409.91" x2="395.05" y2="392.71" stroke="#222" stroke-width="0.6" />
<line x1="392.85" y1="392.71" x2="397.25" y2="392.71" stroke="#222" stroke-width="0.6" />
<line x1="392.85" y1="409.91" x2="397.25" y2="409.91" stroke="#222" stroke-width="0.6" />
<circle cx="396.20" cy="386.22" r="1.15" fill="#111" />
<circle cx="394.97" cy="401.47" r="1.15" fill="#111" />
<circle cx="393.99" cy="404.06" r="1.15" fill="#111" />
<circle cx="396.53" cy="408.93" r="1.15" fill="#111" />
<line x1="357.20" y1="346.80" x2="357.20" y2="414.30" stroke="#231f20" stroke-width="1.0" />
<line x1="357.20" y1="413.80" x2="400.20" y2="413.80" stroke="#231f20" stroke-width="1.0" />
<line x1="354.60" y1="413.80" x2="357.20" y2="413.80" stroke="#231f20" stroke-width="0.8" />
<text x="351.70" y="416.11" font-size="6.49" text-anchor="end" fill="#231f20" stroke="#231f20" stroke-width="0.07" textLength="3.18" lengthAdjust="spacingAndGlyphs" >0</text>
<line x1="354.60" y1="405.69" x2="357.20" y2="405.69" stroke="#231f20" stroke-width="0.8" />
<text x="351.70" y="408.00" font-size="6.49" text-anchor="end" fill="#231f20" stroke="#231f20" stroke-width="0.07" textLength="6.37" lengthAdjust="spacingAndGlyphs" >25</text>
<line x1="354.60" y1="397.57" x2="357.20" y2="397.57" stroke="#231f20" stroke-width="0.8" />
<text x="351.70" y="399.89" font-size="6.49" text-anchor="end" fill="#231f20" stroke="#231f20" stroke-width="0.07" textLength="6.37" lengthAdjust="spacingAndGlyphs" >50</text>
<line x1="354.60" y1="389.46" x2="357.20" y2="389.46" stroke="#231f20" stroke-width="0.8" />
<text x="351.70" y="391.77" font-size="6.49" text-anchor="end" fill="#231f20" stroke="#231f20" stroke-width="0.07" textLength="6.37" lengthAdjust="spacingAndGlyphs" >75</text>
<line x1="354.60" y1="381.35" x2="357.20" y2="381.35" stroke="#231f20" stroke-width="0.8" />
<text x="351.70" y="383.66" font-size="6.49" text-anchor="end" fill="#231f20" stroke="#231f20" stroke-width="0.07" textLength="9.55" lengthAdjust="spacingAndGlyphs" >100</text>
<line x1="354.60" y1="373.24" x2="357.20" y2="373.24" stroke="#231f20" stroke-width="0.8" />
<text x="351.70" y="375.55" font-size="6.49" text-anchor="end" fill="#231f20" stroke="#231f20" stroke-width="0.07" textLength="9.55" lengthAdjust="spacingAndGlyphs" >125</text>
<line x1="354.60" y1="365.12" x2="357.20" y2="365.12" stroke="#231f20" stroke-width="0.8" />
<text x="351.70" y="367.44" font-size="6.49" text-anchor="end" fill="#231f20" stroke="#231f20" stroke-width="0.07" textLength="9.55" lengthAdjust="spacingAndGlyphs" >150</text>
<line x1="354.60" y1="357.01" x2="357.20" y2="357.01" stroke="#231f20" stroke-width="0.8" />
<text x="351.70" y="359.32" font-size="6.49" text-anchor="end" fill="#231f20" stroke="#231f20" stroke-width="0.07" textLength="9.55" lengthAdjust="spacingAndGlyphs" >175</text>
<line x1="354.60" y1="348.90" x2="357.20" y2="348.90" stroke="#231f20" stroke-width="0.8" />
<text x="351.70" y="351.21" font-size="6.49" text-anchor="end" fill="#231f20" stroke="#231f20" stroke-width="0.07" textLength="9.55" lengthAdjust="spacingAndGlyphs" >200</text>
<line x1="363.40" y1="413.80" x2="363.40" y2="415.80" stroke="#231f20" stroke-width="0.8" />
<text x="363.40" y="425.22" font-size="6.71" text-anchor="middle" fill="#231f20" stroke="#231f20" stroke-width="0.07" textLength="4.27" lengthAdjust="spacingAndGlyphs" >C</text>
<line x1="373.70" y1="413.80" x2="373.70" y2="415.80" stroke="#231f20" stroke-width="0.8" />
<text x="373.70" y="425.22" font-size="6.71" text-anchor="middle" fill="#231f20" stroke="#231f20" stroke-width="0.07" textLength="4.27" lengthAdjust="spacingAndGlyphs" >H</text>
<line x1="384.30" y1="413.80" x2="384.30" y2="415.80" stroke="#231f20" stroke-width="0.8" />
<text x="384.30" y="425.22" font-size="6.71" text-anchor="middle" fill="#231f20" stroke="#231f20" stroke-width="0.07" textLength="3.95" lengthAdjust="spacingAndGlyphs" >S</text>
<line x1="395.05" y1="413.80" x2="395.05" y2="415.80" stroke="#231f20" stroke-width="0.8" />
<text x="395.05" y="425.22" font-size="6.71" text-anchor="middle" fill="#231f20" stroke="#231f20" stroke-width="0.07" textLength="11.68" lengthAdjust="spacingAndGlyphs" >H+S</text>
<path d="M363.2,368 V359.5 H395.0 V380" fill="none" stroke="#444" stroke-width="0.6" />
<text x="379.10" y="360.12" font-size="6.60" text-anchor="middle" fill="#231f20" stroke="#231f20" stroke-width="0.15" textLength="2.27" lengthAdjust="spacingAndGlyphs" >*</text>
<text x="334.61" y="381.20" font-size="6.49" text-anchor="middle" fill="#231f20" stroke="#231f20" stroke-width="0.14" textLength="43.40" lengthAdjust="spacingAndGlyphs" transform="rotate(-90 334.61 381.20)" >CD138+ cells (%)</text>
<rect x="0.50" y="0.50" width="519.00" height="433.00" fill="none" stroke="#4d4d4d" stroke-width="1.2"/>
</svg></body></html>
